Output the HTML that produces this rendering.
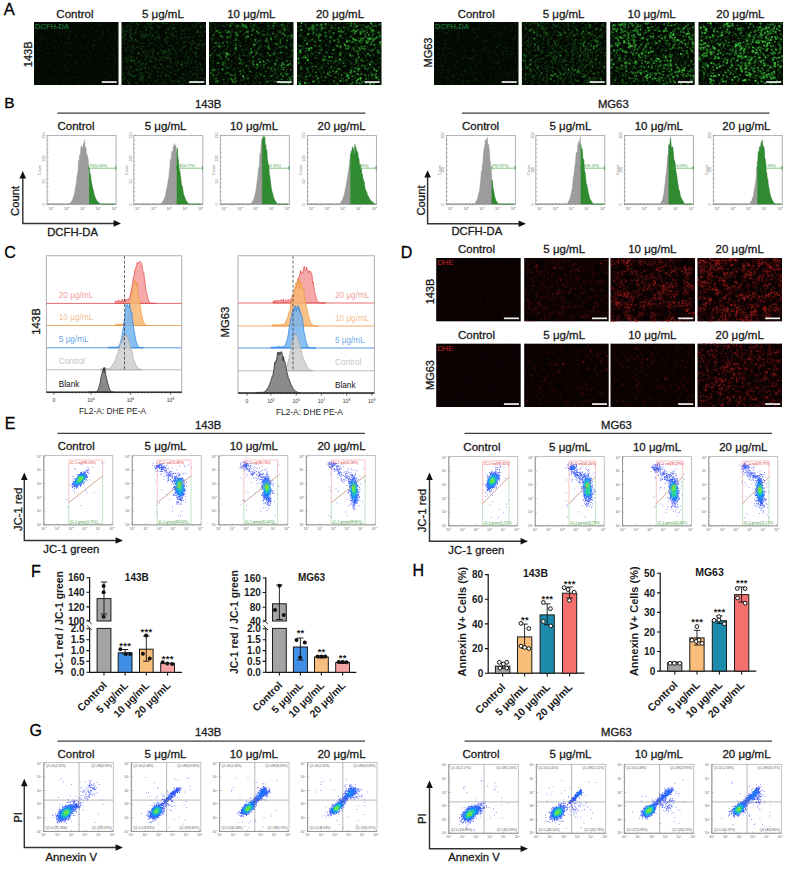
<!DOCTYPE html>
<html><head><meta charset="utf-8"><title>Figure</title>
<style>html,body{margin:0;padding:0;background:#fff;}svg{display:block;}</style>
</head><body>
<svg width="800" height="871" viewBox="0 0 800 871" font-family='"Liberation Sans", Arial, sans-serif' fill="#1a1a1a">
<defs><filter id="bl" x="-5%" y="-5%" width="110%" height="110%"><feGaussianBlur stdDeviation=".6"/></filter><filter id="h1" x="0" y="0" width="1" height="1" color-interpolation-filters="sRGB"><feTurbulence type="fractalNoise" baseFrequency=".4" numOctaves="2" seed="1"/><feColorMatrix values="0 0 0 0 .2 0 0 0 0 .8 0 0 0 0 .2 0 0 0 0.36 -0.18"/><feGaussianBlur stdDeviation=".55"/></filter><filter id="h2" x="0" y="0" width="1" height="1" color-interpolation-filters="sRGB"><feTurbulence type="fractalNoise" baseFrequency=".4" numOctaves="2" seed="8"/><feColorMatrix values="0 0 0 0 .2 0 0 0 0 .8 0 0 0 0 .2 0 0 0 0.6 -0.3"/><feGaussianBlur stdDeviation=".55"/></filter><filter id="h3" x="0" y="0" width="1" height="1" color-interpolation-filters="sRGB"><feTurbulence type="fractalNoise" baseFrequency=".4" numOctaves="2" seed="15"/><feColorMatrix values="0 0 0 0 .2 0 0 0 0 .8 0 0 0 0 .2 0 0 0 0.9 -0.45"/><feGaussianBlur stdDeviation=".55"/></filter><filter id="h4" x="0" y="0" width="1" height="1" color-interpolation-filters="sRGB"><feTurbulence type="fractalNoise" baseFrequency=".4" numOctaves="2" seed="22"/><feColorMatrix values="0 0 0 0 .2 0 0 0 0 .8 0 0 0 0 .2 0 0 0 1.08 -0.54"/><feGaussianBlur stdDeviation=".55"/></filter><filter id="h5" x="0" y="0" width="1" height="1" color-interpolation-filters="sRGB"><feTurbulence type="fractalNoise" baseFrequency=".4" numOctaves="2" seed="401"/><feColorMatrix values="0 0 0 0 .2 0 0 0 0 .8 0 0 0 0 .2 0 0 0 0.36 -0.18"/><feGaussianBlur stdDeviation=".55"/></filter><filter id="h6" x="0" y="0" width="1" height="1" color-interpolation-filters="sRGB"><feTurbulence type="fractalNoise" baseFrequency=".4" numOctaves="2" seed="408"/><feColorMatrix values="0 0 0 0 .2 0 0 0 0 .8 0 0 0 0 .2 0 0 0 0.9 -0.45"/><feGaussianBlur stdDeviation=".55"/></filter><filter id="h7" x="0" y="0" width="1" height="1" color-interpolation-filters="sRGB"><feTurbulence type="fractalNoise" baseFrequency=".4" numOctaves="2" seed="415"/><feColorMatrix values="0 0 0 0 .2 0 0 0 0 .8 0 0 0 0 .2 0 0 0 1.14 -0.57"/><feGaussianBlur stdDeviation=".55"/></filter><filter id="h8" x="0" y="0" width="1" height="1" color-interpolation-filters="sRGB"><feTurbulence type="fractalNoise" baseFrequency=".4" numOctaves="2" seed="422"/><feColorMatrix values="0 0 0 0 .2 0 0 0 0 .8 0 0 0 0 .2 0 0 0 1.14 -0.57"/><feGaussianBlur stdDeviation=".55"/></filter><filter id="h9" x="0" y="0" width="1" height="1" color-interpolation-filters="sRGB"><feTurbulence type="fractalNoise" baseFrequency=".3" numOctaves="2" seed="100"/><feColorMatrix values="0 0 0 0 .6 0 0 0 0 .1 0 0 0 0 .1 0 0 0 0.24 -0.12"/><feGaussianBlur stdDeviation=".55"/></filter><filter id="h10" x="0" y="0" width="1" height="1" color-interpolation-filters="sRGB"><feTurbulence type="fractalNoise" baseFrequency="0.2" numOctaves="2" seed="101"/><feColorMatrix values="0 0 0 0 .6 0 0 0 0 .1 0 0 0 0 .1 0 0 0 1 -0.4" result="lo"/><feTurbulence type="fractalNoise" baseFrequency=".55" numOctaves="1" seed="108"/><feColorMatrix values="0 0 0 0 1 0 0 0 0 1 0 0 0 0 1 0 0 0 3 -1.1" result="hi"/><feComposite in="lo" in2="hi" operator="arithmetic" k1="1"/><feGaussianBlur stdDeviation=".75"/></filter><filter id="h11" x="0" y="0" width="1" height="1" color-interpolation-filters="sRGB"><feTurbulence type="fractalNoise" baseFrequency="0.12" numOctaves="2" seed="102"/><feColorMatrix values="0 0 0 0 .6 0 0 0 0 .1 0 0 0 0 .1 0 0 0 2.6 -1.04" result="lo"/><feTurbulence type="fractalNoise" baseFrequency=".55" numOctaves="1" seed="109"/><feColorMatrix values="0 0 0 0 1 0 0 0 0 1 0 0 0 0 1 0 0 0 3 -1.1" result="hi"/><feComposite in="lo" in2="hi" operator="arithmetic" k1="1"/><feGaussianBlur stdDeviation=".75"/></filter><filter id="h12" x="0" y="0" width="1" height="1" color-interpolation-filters="sRGB"><feTurbulence type="fractalNoise" baseFrequency="0.14" numOctaves="2" seed="103"/><feColorMatrix values="0 0 0 0 .6 0 0 0 0 .1 0 0 0 0 .1 0 0 0 3.2 -1.28" result="lo"/><feTurbulence type="fractalNoise" baseFrequency=".55" numOctaves="1" seed="110"/><feColorMatrix values="0 0 0 0 1 0 0 0 0 1 0 0 0 0 1 0 0 0 3 -1.1" result="hi"/><feComposite in="lo" in2="hi" operator="arithmetic" k1="1"/><feGaussianBlur stdDeviation=".75"/></filter><filter id="h13" x="0" y="0" width="1" height="1" color-interpolation-filters="sRGB"><feTurbulence type="fractalNoise" baseFrequency=".3" numOctaves="2" seed="110"/><feColorMatrix values="0 0 0 0 .6 0 0 0 0 .1 0 0 0 0 .1 0 0 0 0.15 -0.075"/><feGaussianBlur stdDeviation=".55"/></filter><filter id="h14" x="0" y="0" width="1" height="1" color-interpolation-filters="sRGB"><feTurbulence type="fractalNoise" baseFrequency=".3" numOctaves="2" seed="111"/><feColorMatrix values="0 0 0 0 .6 0 0 0 0 .1 0 0 0 0 .1 0 0 0 0.45 -0.225"/><feGaussianBlur stdDeviation=".55"/></filter><filter id="h15" x="0" y="0" width="1" height="1" color-interpolation-filters="sRGB"><feTurbulence type="fractalNoise" baseFrequency=".3" numOctaves="2" seed="112"/><feColorMatrix values="0 0 0 0 .6 0 0 0 0 .1 0 0 0 0 .1 0 0 0 0.45 -0.225"/><feGaussianBlur stdDeviation=".55"/></filter><filter id="h16" x="0" y="0" width="1" height="1" color-interpolation-filters="sRGB"><feTurbulence type="fractalNoise" baseFrequency="0.22" numOctaves="2" seed="113"/><feColorMatrix values="0 0 0 0 .6 0 0 0 0 .1 0 0 0 0 .1 0 0 0 2 -0.8" result="lo"/><feTurbulence type="fractalNoise" baseFrequency=".55" numOctaves="1" seed="120"/><feColorMatrix values="0 0 0 0 1 0 0 0 0 1 0 0 0 0 1 0 0 0 3 -1.1" result="hi"/><feComposite in="lo" in2="hi" operator="arithmetic" k1="1"/><feGaussianBlur stdDeviation=".75"/></filter></defs>
<text x="3.8" y="15" font-size="16.5" fill="#000" stroke="#000" stroke-width="0.3">A</text>
<text x="4.2" y="108.2" font-size="15.5" fill="#000" stroke="#000" stroke-width="0.3">B</text>
<text x="4.2" y="257.5" font-size="16" fill="#000" stroke="#000" stroke-width="0.3">C</text>
<text x="400.8" y="257.5" font-size="16" fill="#000" stroke="#000" stroke-width="0.3">D</text>
<text x="4.8" y="428.7" font-size="16" fill="#000" stroke="#000" stroke-width="0.3">E</text>
<text x="31" y="577" font-size="16" fill="#000" stroke="#000" stroke-width="0.3">F</text>
<text x="412.6" y="576.3" font-size="16" fill="#000" stroke="#000" stroke-width="0.3">H</text>
<text x="29.6" y="735.5" font-size="16" fill="#000" stroke="#000" stroke-width="0.3">G</text>
<rect x="34" y="22" width="84.5" height="63" fill="#030803"/>
<rect x="34" y="22" width="84.5" height="63" filter="url(#h1)"/>
<g filter="url(#bl)">
<path transform="scale(.5)" d="M111 52h0m103 11h0m-11 1h0m-65 12h0m62 1h0m-13 13h0m-53 18h0m85 45h0m-6 4h0" stroke="#3cc83c" stroke-width="3.4" stroke-opacity=".2" stroke-linecap="round"/>
</g>
<text x="35" y="29.4" font-size="7.6" fill="#1f8a3a">DCFH-DA</text>
<rect x="101.7" y="81.2" width="15" height="1.7" fill="#f4f4f4"/>
<text x="74.9" y="17.5" font-size="11.5" text-anchor="middle" stroke="#1a1a1a" stroke-width="0.3">Control</text>
<rect x="121.5" y="22" width="84.5" height="63" fill="#030803"/>
<rect x="121.5" y="22" width="84.5" height="63" filter="url(#h2)"/>
<g filter="url(#bl)">
<path transform="scale(.5)" d="M334 47h0m-5 0h0m-4-1h0m-62 0h0m-18 12h0m8-4h0m9-2h0m1 3h0m10 3h0m1-10h0m3 2h0m14 2h0m1 4h0m4-8h0m0 1h0m4 5h0m2-6h0m1 6h0m1 4h0m14-3h0m2-1h0m16 3h0m4-5h0m6 6h0m1-8h0m2 5h0m31 4h0m11-11h0m0 7h0m3-4h0m7 1h0m1 3h0m7-3h0m-1 12h0m-3 7h0m-8-7h0m-1-3h0m-1 2h0m-1 1h0m-23 4h0m-1-7h0m-3 0h0m-2 0h0m-3 7h0m-10-6h0m-6 2h0m-2 5h0m-3 0h0m-2-9h0m-7 5h0m-13 5h0m-6-5h0m-12 0h0m-3 4h0m-5-9h0m-1 8h0m-2 3h0m-4-1h0m-3 0h0m0 0h0m-2-6h0m-9-2h0m-1 4h0m-4 3h0m-5 1h0m0-10h0m-1 1h0m-1-1h0m-1 4h0m-5-1h0m-2 5h0m0-5h0m-6 3h0m-1-6h0m1 13h0m3 5h0m0 2h0m0-8h0m9 9h0m2-9h0m2 4h0m1 4h0m1-3h0m7 2h0m4 4h0m9-8h0m4 1h0m1-2h0m4-2h0m4 9h0m0 0h0m9-9h0m4 6h0m4-4h0m5 0h0m0 3h0m11 2h0m2 4h0m1-7h0m1-2h0m0 2h0m19-3h0m14 10h0m4-9h0m7 0h0m8 9h0m2-10h0m0 0h0m11-1h0m2 8h0m0 1h0m8 7h0m-2 1h0m-4 2h0m0-1h0m-5-1h0m-3 3h0m-4 3h0m-1-8h0m-6 2h0m-3-3h0m-2-2h0m-7 0h0m-2 9h0m-1-9h0m-2 11h0m-12-8h0m-22-3h0m-32 3h0m-18 6h0m-6 2h0m-3-1h0m-6 0h0m-5 1h0m0-2h0m-10 3h0m13 3h0m10 8h0m2-1h0m5-8h0m4 6h0m8 2h0m11-1h0m0-3h0m1-5h0m10 10h0m4-6h0m5 4h0m1-1h0m2 1h0m1-3h0m2 4h0m4-4h0m2 0h0m0-3h0m0 4h0m2-4h0m6 0h0m1-3h0m5 10h0m0 1h0m10-8h0m11 6h0m8-4h0m1-5h0m8 11h0m1-2h0m1-9h0m1 11h0m4-10h0m-4 17h0m-15 0h0m-1 3h0m-6-4h0m-30-5h0m-2 8h0m-3 0h0m0-5h0m-2 5h0m-3-1h0m-3-3h0m-4 3h0m-4 3h0m-8 0h0m-5-8h0m-1 4h0m-5-1h0m-7 0h0m0 1h0m-1-1h0m-4-5h0m-6 3h0m-10 6h0m-7-1h0m-3-2h0m-7 1h0m-4 3h0m-6 6h0m8-2h0m3-2h0m8 3h0m3-3h0m1 2h0m2 6h0m6-4h0m2 1h0m3 5h0m4 1h0m0-5h0m6 4h0m0-10h0m0 7h0m8-5h0m1 0h0m2 2h0m8-3h0m7 0h0m5 10h0m0-2h0m3-9h0m14 1h0m13 10h0m2-8h0m9 1h0m5 2h0m6 1h0m0-4h0m7 3h0m9-2h0m9 4h0m6 11h0m-2-2h0m-1 4h0m-8-6h0m-2 6h0m-13 2h0m-8-11h0m-16 6h0m-14-4h0m-5-2h0m-2 1h0m-1-1h0m-8 6h0m-7-1h0m-3 6h0m-1 0h0m-1-8h0m-7-2h0m-8 3h0m-1-2h0m-7 9h0m-2-6h0m0-1h0m-7 3h0m0-3h0m-5 5h0m0-2h0m-4-1h0m-1 2h0m-8 2h0m-2-7h0m-3-3h0m-1 10h0m-3-6h0m-10 12h0m3 5h0m8-6h0m3 3h0m2 0h0m1-1h0m2 2h0m4 1h0m0 3h0m11-8h0m2 0h0m2-1h0m1 8h0m7-10h0m7 11h0m1-3h0m2-4h0m0-2h0m23-2h0m6 6h0m2 0h0m0 2h0m1-1h0m4 1h0m4-7h0m10 3h0m16 0h0m18 1h0m3-3h0m6 2h0m15 10h0m-6-2h0m-5 11h0m-4-5h0m-4 2h0m-1-4h0m-6 4h0m-5 0h0m-5 1h0m-4-4h0m-4-4h0m-6 5h0m-3 2h0m-7 1h0m-6-3h0m-2-5h0m-13 8h0m-4 2h0m-12-6h0m-25-5h0m-1 2h0m-2 4h0m-1-4h0m-3-2h0m0 0h0m-1 4h0m-6 6h0m-13-6h0m-1 6h0m-11-7h0m-1 0h0m12 9h0m39 0h0m62 0h0" stroke="#3cc83c" stroke-width="3.8" stroke-opacity=".2" stroke-linecap="round"/>
<path transform="scale(.5)" d="M262 121h0m101 9h0" stroke="#3cc83c" stroke-width="3.8" stroke-opacity=".5" stroke-linecap="round"/>
</g>
<rect x="189.2" y="81.2" width="15" height="1.7" fill="#f4f4f4"/>
<text x="162.9" y="17.5" font-size="11.5" text-anchor="middle" stroke="#1a1a1a" stroke-width="0.3">5 μg/mL</text>
<rect x="209" y="22" width="84.5" height="63" fill="#030803"/>
<rect x="209" y="22" width="84.5" height="63" filter="url(#h3)"/>
<g filter="url(#bl)">
<path transform="scale(.5)" d="M578 46h0m-3 0h0m-24 1h0m-87 0h0m-2 0h0m-42 4h0m10-3h0m25 1h0m15 3h0m4 6h0m6-5h0m9 1h0m0 2h0m14-2h0m2 1h0m6-7h0m2 6h0m24 5h0m7-8h0m11 1h0m12 0h0m5 1h0m3 4h0m0 14h0m-6-11h0m-17 10h0m-25-10h0m0 2h0m-3 7h0m-6-1h0m-28-1h0m-4 2h0m-5-8h0m-3 3h0m-2 7h0m-4-2h0m-3-4h0m-5-3h0m-5 1h0m-2 1h0m0-2h0m-4-1h0m-3 0h0m-7 2h0m0 2h0m-7-1h0m-2-3h0m-10 17h0m20-2h0m2-2h0m8-2h0m0 0h0m0 4h0m3 0h0m4-2h0m6 7h0m11 0h0m22-4h0m10 5h0m3 1h0m28-11h0m1 4h0m1 4h0m6-7h0m1 2h0m5-3h0m5 11h0m15-9h0m4 0h0m5 0h0m0 18h0m-2-4h0m-9-1h0m-23 1h0m-16-4h0m-11 7h0m-3 3h0m-5-9h0m-5 5h0m-29 2h0m-2-1h0m-24 2h0m-10 0h0m-8-8h0m-3 7h0m-6 2h0m20 12h0m0-4h0m23-6h0m14 2h0m18 8h0m7-3h0m3-2h0m1 6h0m5-9h0m31 4h0m10 3h0m14 2h0m8 2h0m-1 5h0m-5 0h0m-12 4h0m-10-4h0m-4-6h0m-2 2h0m-2-2h0m-19 5h0m-7-4h0m-33 2h0m-9-2h0m-25 0h0m-10 9h0m-1-5h0m-1 0h0m-8-4h0m-8-1h0m21 15h0m4-1h0m12 1h0m1-1h0m20 8h0m14-7h0m2 8h0m5-4h0m0-3h0m19 7h0m4-8h0m11 1h0m6-3h0m5 9h0m9 0h0m9-1h0m13-2h0m3 2h0m0 11h0m-1 0h0m-8-1h0m-9 0h0m-3-4h0m-3 7h0m-6-3h0m-5-5h0m-5 6h0m-12 2h0m-3-8h0m-11 0h0m-12-1h0m-18 7h0m-17-3h0m-11-2h0m-1-1h0m-4 1h0m-26 2h0m-2 12h0m9 0h0m3-4h0m26 5h0m7-3h0m10 2h0m5 6h0m3 0h0m0-10h0m24 1h0m1 6h0m33 0h0m3-8h0m1 4h0m4 5h0m15-8h0m2 2h0m1 4h0m4-2h0m3 11h0m-1-3h0m-1 10h0m-4 0h0m0-9h0m-16 3h0m-20-5h0m-7 2h0m-12-2h0m0 9h0m-1 0h0m-7 0h0m-2-9h0m-21 3h0m-18 5h0m-5 1h0m-9-4h0m-8 5h0m-17-1h0m-3-6h0m63 9h0m87 0h0" stroke="#3cc83c" stroke-width="4.2" stroke-opacity=".2" stroke-linecap="round"/>
<path transform="scale(.5)" d="M549 46h0m-89 6h0m1-1h0m13 2h0m1-2h0m9-3h0m1 5h0m3-3h0m1 2h0m2-1h0m0 0h0m16 7h0m1-7h0m29 1h0m10 0h0m16-2h0m6 7h0m15 13h0m-14 1h0m0-11h0m-2 9h0m-3-2h0m-5-3h0m-14 3h0m-11 2h0m-7 1h0m-12-5h0m-2-2h0m-9-1h0m-1 8h0m-8-6h0m-3 0h0m-19 6h0m0 1h0m-2-6h0m-14-2h0m-4 2h0m-15 1h0m-6-4h0m-6 9h0m14 1h0m2 0h0m14 2h0m15 6h0m20-5h0m18 4h0m9 2h0m14-4h0m0 1h0m0 4h0m9-4h0m19 2h0m13 1h0m8-9h0m-9 22h0m-8-1h0m-4-7h0m-1 9h0m-6-6h0m-16 4h0m-2 2h0m-64 0h0m-1-5h0m-17-6h0m-8 2h0m-7 8h0m-1-3h0m-6-5h0m21 21h0m0-1h0m18-7h0m1-3h0m27 11h0m3-9h0m11 8h0m23 1h0m3-9h0m9 9h0m15-2h0m22-4h0m-45 10h0m-22 7h0m-12-4h0m-27 2h0m-20-7h0m-3 10h0m-1-9h0m-3 3h0m-14-2h0m-17 0h0m15 15h0m10 3h0m1-3h0m32 1h0m2-7h0m2 5h0m24-3h0m1 7h0m8 2h0m11-8h0m1 7h0m7-10h0m15 7h0m1 2h0m2-8h0m11 6h0m2-1h0m1 2h0m1 1h0m6-7h0m5 6h0m-12 7h0m0 4h0m-17 0h0m-7-3h0m-6 0h0m-24 0h0m-13 7h0m-8-11h0m-12 10h0m-51-2h0m-4 0h0m-3 6h0m5 5h0m28-6h0m6 4h0m8 2h0m53-2h0m6 3h0m15 0h0m19-4h0m1-1h0m3 5h0m8-4h0m5 7h0m6-2h0m-3 7h0m-4 6h0m-7 0h0m-6 0h0m-1-7h0m-14 4h0m-15 1h0m-39-7h0m-25 6h0m-1-6h0m-4 6h0m-1-3h0m-3-2h0m-15 1h0m-12 5h0m0-2h0m-3-5h0" stroke="#3cc83c" stroke-width="4.2" stroke-opacity=".5" stroke-linecap="round"/>
<path transform="scale(.5)" d="M493 55h0m3 18h0m13 16h0m-55 18h0m49-3h0m11 25h0m6-5h0m43 7h0m13-1h0m-131 9h0m41 13h0" stroke="#3cc83c" stroke-width="4.2" stroke-opacity=".8" stroke-linecap="round"/>
</g>
<rect x="276.7" y="81.2" width="15" height="1.7" fill="#f4f4f4"/>
<text x="251.3" y="17.5" font-size="11.5" text-anchor="middle" stroke="#1a1a1a" stroke-width="0.3">10 μg/mL</text>
<rect x="297" y="22" width="84.5" height="63" fill="#030803"/>
<rect x="297" y="22" width="84.5" height="63" filter="url(#h4)"/>
<g filter="url(#bl)">
<path transform="scale(.5)" d="M597 54h0m14-5h0m9 7h0m10-7h0m7 8h0m15 0h0m5-8h0m5 3h0m21 3h0m14 3h0m1-4h0m10 1h0m7-4h0m4 0h0m0 0h0m2-1h0m10 9h0m12-4h0m13-5h0m2-1h0m0 15h0m-1 1h0m-14 0h0m-6 2h0m-3-7h0m-3 3h0m-3-2h0m-5 5h0m-2 4h0m-23-7h0m-8-2h0m-10 9h0m-39-9h0m-3 9h0m-11-3h0m-2-7h0m-6 8h0m-19 2h0m3 3h0m14 7h0m4 0h0m17-3h0m3 4h0m8-8h0m5 5h0m7-5h0m2 2h0m22-1h0m8 2h0m4 4h0m3-4h0m7 2h0m12 4h0m19-7h0m4 8h0m5 0h0m13 5h0m0 5h0m-5-4h0m-6 0h0m-6 0h0m0 0h0m-8 4h0m0-9h0m-10 0h0m-5 1h0m-5 4h0m-3 5h0m-23-5h0m0-2h0m-58 4h0m-15-7h0m-19 23h0m43-8h0m40 8h0m4-2h0m24-9h0m2 7h0m5 0h0m6-7h0m5 0h0m1 9h0m11-5h0m7-1h0m6-2h0m-5 14h0m-42 1h0m-2-2h0m-12 2h0m-8-2h0m-2 8h0m-36 1h0m0-1h0m-17-9h0m-12 1h0m-19 17h0m41 1h0m19-2h0m11 0h0m5-5h0m5 6h0m3 0h0m5-6h0m22 8h0m4-1h0m22-7h0m17 7h0m5-6h0m3 12h0m-15 0h0m-6 3h0m-3 3h0m-12-4h0m-13 2h0m-4-4h0m-1 6h0m-14-8h0m-21 3h0m-22 7h0m-8-4h0m-2 1h0m-21 3h0m-1-8h0m-11 19h0m9-7h0m30 8h0m14-3h0m13 3h0m0-9h0m29 7h0m10-1h0m1 3h0m0-1h0m10-3h0m18 2h0m3-4h0m14 8h0m-10 3h0m-4 8h0m-4-11h0m-13 8h0m-1-8h0m-1 0h0m0 5h0m-6 5h0m-1-1h0m-9-6h0m-14 6h0m-6-8h0m0 2h0m-3 0h0m0 0h0m-45 6h0m-2-1h0m-22-5h0m-3-1h0m-1 9h0m-1-6h0m-9 6h0m98 1h0m47 0h0" stroke="#3cc83c" stroke-width="4.2" stroke-opacity=".2" stroke-linecap="round"/>
<path transform="scale(.5)" d="M703 47h0m-86 10h0m1 2h0m6-5h0m0 3h0m1-6h0m2 5h0m0 2h0m0-6h0m8-3h0m0 1h0m8 2h0m1 6h0m1-2h0m18 0h0m15 1h0m10-2h0m14-4h0m7-3h0m15 10h0m8-4h0m1 0h0m2-1h0m1 0h0m4 4h0m3-9h0m3 4h0m5 0h0m9-4h0m-1 23h0m-2-6h0m-9-3h0m-3 9h0m-1-8h0m-6 7h0m-4-5h0m-4 4h0m-3-6h0m-6 1h0m-5-4h0m-6 7h0m-1-1h0m-5-4h0m-22-1h0m-1 10h0m-14-5h0m-8-4h0m-8 3h0m-10 5h0m-1-1h0m-1 2h0m-6-11h0m0 9h0m-6-5h0m-17 17h0m15-2h0m5 4h0m7-8h0m3 6h0m12-9h0m8 3h0m0 8h0m8-2h0m1 0h0m7-2h0m3-6h0m15 10h0m5-1h0m3-9h0m4 10h0m5-2h0m7 2h0m3-2h0m1-4h0m1 3h0m3-3h0m1-1h0m4-2h0m1 8h0m0 0h0m4 1h0m5-5h0m4 5h0m1-4h0m2 1h0m2-2h0m3-3h0m2-1h0m5-2h0m1 16h0m-12 2h0m-1 0h0m-6-2h0m-7-2h0m0-1h0m-2-1h0m-4 9h0m-6 0h0m-19-9h0m-5 9h0m-3 0h0m-5-2h0m-14-6h0m-38 7h0m-38 0h0m1 8h0m11-3h0m11 10h0m15-1h0m4-6h0m10 4h0m27 3h0m12-9h0m4-1h0m11 1h0m8 5h0m3-7h0m2 3h0m5-2h0m4 1h0m17 2h0m10 5h0m0-4h0m3 4h0m-19 6h0m-22 3h0m-2-6h0m-16 3h0m-1-3h0m-19 3h0m-16 3h0m-13 5h0m-1-6h0m-34 6h0m-9-4h0m-9 10h0m50-5h0m23 3h0m16 3h0m25-6h0m1 5h0m1-4h0m8-1h0m3 11h0m1-9h0m17 1h0m-12 14h0m-1-5h0m-14 8h0m-4-4h0m-10 6h0m-22-4h0m-4 0h0m-10 4h0m-3-9h0m-20 2h0m-11-2h0m-7 0h0m-10 5h0m-13-2h0m0 2h0m10 15h0m1 0h0m7-2h0m12-6h0m1 7h0m18 3h0m5-7h0m4-4h0m1 7h0m22-1h0m11-2h0m6-3h0m3 0h0m2 8h0m18-5h0m7 2h0m14 2h0m0-4h0m5 2h0m2 5h0m1-7h0m6 11h0m-10 8h0m-16 0h0m0-9h0m-8 7h0m-3-7h0m-2 9h0m-6-2h0m-8 0h0m-12-5h0m-25 2h0m-70 2h0m1 4h0m76 0h0m28 0h0" stroke="#3cc83c" stroke-width="4.2" stroke-opacity=".5" stroke-linecap="round"/>
<path transform="scale(.5)" d="M742 46h0m-139 0h0m40 3h0m8-1h0m94 12h0m-24 7h0m-9-4h0m-4-2h0m-23 3h0m-7-1h0m-62 5h0m-13-8h0m91 23h0m13-5h0m4 2h0m25-3h0m2 1h0m3-1h0m19 7h0m-70 6h0m-9 4h0m-6-2h0m-61-4h0m-14 14h0m1 3h0m17-8h0m0 3h0m5-4h0m44 4h0m69 8h0m-56 11h0m-21-5h0m-62 3h0m18 3h0m125 9h0m13 13h0m-4-3h0m-31-1h0m-9 5h0m-36 0h0m21 9h0m2-1h0m19-3h0m39 7h0m-33 1h0m-4 2h0m-3 3h0m-17-5h0m-16 6h0m-45-5h0m-9 6h0m-17 3h0m-10 2h0m140 0h0" stroke="#3cc83c" stroke-width="4.2" stroke-opacity=".8" stroke-linecap="round"/>
<path transform="scale(.5)" d="M713 53h0m-102 62h0" stroke="#3cc83c" stroke-width="4.2" stroke-opacity="1" stroke-linecap="round"/>
</g>
<rect x="364.7" y="81.2" width="15" height="1.7" fill="#f4f4f4"/>
<text x="340" y="17.5" font-size="11.5" text-anchor="middle" stroke="#1a1a1a" stroke-width="0.3">20 μg/mL</text>
<rect x="434" y="22" width="84.5" height="63" fill="#030803"/>
<rect x="434" y="22" width="84.5" height="63" filter="url(#h5)"/>
<g filter="url(#bl)">
<path transform="scale(.5)" d="M898 48h0m1 3h0m15 7h0m0-2h0m32 3h0m78-2h0m-24 9h0m-17-2h0m-86-3h0m-4 4h0m63 8h0m72 4h0m-14 18h0m-16-6h0m-4 5h0m-24-10h0m-79 5h0m-15-5h0m1 13h0m9 1h0m61 4h0m18-2h0m26 6h0m14 0h0m7-4h0m11 7h0m-9-1h0m-69 8h0m-3 2h0m54 7h0m38 14h0m-34-3h0m-70 7h0m-22-10h0m-25 12h0m13 2h0m11 6h0m17-3h0m96-4h0m-70 13h0m32 9h0" stroke="#3cc83c" stroke-width="3.4" stroke-opacity=".2" stroke-linecap="round"/>
</g>
<text x="435" y="29.4" font-size="7.6" fill="#1f8a3a">DCFH-DA</text>
<rect x="501.7" y="81.2" width="15" height="1.7" fill="#f4f4f4"/>
<text x="476.2" y="17.5" font-size="11.5" text-anchor="middle" stroke="#1a1a1a" stroke-width="0.3">Control</text>
<rect x="521.9" y="22" width="84.5" height="63" fill="#030803"/>
<rect x="521.9" y="22" width="84.5" height="63" filter="url(#h6)"/>
<g filter="url(#bl)">
<path transform="scale(.5)" d="M1135 47h0m-8 0h0m-36 0h0m-5-1h0m-11 1h0m-21 0h0m-5 3h0m3 8h0m7-8h0m10-2h0m4 9h0m2-4h0m5 2h0m5-4h0m0 0h0m3 4h0m2 4h0m4-4h0m10-1h0m2-6h0m3 6h0m0-4h0m5 3h0m5 1h0m17-5h0m2 10h0m12-5h0m21-4h0m8 0h0m4 5h0m11 2h0m10-6h0m1 1h0m1-1h0m0-3h0m1 3h0m4 2h0m0 10h0m-1 1h0m-6 5h0m-15-9h0m-2 9h0m-3-5h0m0 4h0m-10 0h0m-1-8h0m-1 2h0m-2 8h0m-1 0h0m-1-5h0m0-1h0m-1 0h0m-12 4h0m-2-1h0m-1 2h0m-3 2h0m-4-10h0m-1 2h0m-2 3h0m-2 2h0m-11-6h0m-4 5h0m-6 4h0m-5-10h0m-4 3h0m0 1h0m-15 3h0m-4-5h0m-1 8h0m0-7h0m-2-4h0m-1 7h0m-10 2h0m-1 1h0m-1-2h0m-1 3h0m-1-6h0m-5-3h0m-1 3h0m-9-3h0m0-1h0m-2 21h0m1-6h0m12 2h0m2-1h0m16-2h0m0 0h0m9 1h0m1 4h0m12 2h0m4 1h0m2-3h0m5-2h0m15-6h0m1 5h0m8 2h0m5 4h0m1-4h0m1-1h0m5 2h0m6 0h0m4-7h0m1 4h0m1 1h0m9-2h0m3-4h0m3 10h0m1 0h0m2-5h0m2 3h0m4-2h0m0-5h0m1 9h0m1-8h0m1 2h0m9-1h0m-3 11h0m-1 4h0m-3-3h0m0 2h0m-1 0h0m-2 2h0m-6 1h0m-2 2h0m-8-8h0m-1 4h0m-5 4h0m-3-10h0m-6 3h0m-1 7h0m0-7h0m-2 0h0m-9-2h0m-1 4h0m-1 4h0m-1-7h0m-1 1h0m-2 3h0m-6-2h0m-4 3h0m-6 1h0m-9 3h0m-5-4h0m-2 0h0m0-7h0m-12 8h0m-2-7h0m-3 1h0m-10 9h0m-12-11h0m-3 6h0m-3 4h0m-7-4h0m-3 5h0m-2-10h0m-1 5h0m-4 9h0m5 4h0m13-4h0m13 6h0m2 1h0m22 0h0m6-3h0m6 3h0m5-2h0m2-6h0m6 5h0m2-2h0m2 4h0m8 0h0m1-2h0m0-4h0m3 8h0m0-11h0m2 5h0m0-4h0m0-1h0m4 4h0m8 1h0m0-5h0m0 3h0m1 5h0m1 0h0m5-2h0m2 2h0m1-4h0m0 5h0m3 2h0m1-6h0m0-2h0m1 1h0m1 4h0m4 1h0m3-1h0m1 3h0m2-10h0m4 7h0m3-2h0m3-2h0m1-2h0m3-2h0m2 5h0m6 10h0m-14 1h0m-2 5h0m-2 2h0m-6-4h0m-2 4h0m-6-6h0m-1-4h0m-3 5h0m-1-4h0m-4 6h0m0 3h0m0-10h0m-8 1h0m-1 6h0m-5-4h0m-7-3h0m-1 10h0m-1-8h0m-1 6h0m-8-7h0m0 1h0m-3-1h0m-4 5h0m-9 3h0m-2-9h0m-7 0h0m-1 3h0m-2 3h0m-4-2h0m-6-2h0m-11 5h0m-4 2h0m-1 0h0m-9-1h0m0-7h0m-8 6h0m-8-8h0m-9 7h0m3 10h0m1 6h0m7-2h0m5-6h0m6 0h0m2-2h0m8 3h0m11 7h0m12-9h0m2 5h0m0-3h0m6-2h0m7 3h0m4-1h0m1 5h0m3-7h0m2 2h0m1-2h0m2-2h0m0 1h0m1-1h0m0 9h0m4 1h0m5-6h0m2-1h0m11 4h0m4-6h0m2 2h0m3-2h0m1 7h0m1-6h0m1 8h0m6 1h0m0-11h0m3 10h0m3-5h0m1 5h0m3-7h0m3-1h0m0 4h0m0 3h0m13-4h0m2 6h0m1-8h0m8-3h0m0 12h0m0 0h0m-5 10h0m-21-1h0m-3 0h0m-11-8h0m-6 3h0m-4 3h0m0 3h0m-2-7h0m-2 6h0m-9-8h0m-3 2h0m-2 8h0m0 0h0m-11-6h0m-2-1h0m-3 0h0m-18 0h0m-1-1h0m-4 0h0m-6-2h0m-1 3h0m-2 7h0m-26-3h0m-7-3h0m-8 1h0m-1-3h0m6 14h0m4-4h0m2 4h0m3 6h0m2-3h0m1 1h0m10 1h0m2-4h0m12 0h0m1 3h0m10-3h0m2-6h0m4 4h0m8 7h0m0-10h0m2 0h0m6 4h0m6 6h0m3-7h0m1-3h0m2 0h0m3 8h0m1-4h0m0-5h0m5 7h0m2-1h0m6-4h0m4 0h0m0-2h0m2 2h0m1-1h0m2 9h0m0 0h0m1-6h0m1 5h0m8-4h0m3-4h0m10 2h0m1 8h0m2-8h0m6-3h0m10 2h0m-3 18h0m-9 3h0m0-2h0m-3-8h0m0 3h0m0 1h0m-1-4h0m-5 2h0m-7 0h0m0 1h0m-5 0h0m-1 1h0m-1 0h0m-1 2h0m-15-1h0m-5-4h0m-3 8h0m-4-6h0m0 3h0m-1-7h0m-1 9h0m-11-7h0m0 1h0m-3 1h0m-1 7h0m-1-6h0m-8-1h0m-7 2h0m-14-3h0m-3 3h0m-1 5h0m0-6h0m-1 1h0m-9-2h0m-2 7h0m-4-2h0m-7-6h0m-4-3h0m0 9h0m-14-6h0" stroke="#3cc83c" stroke-width="3.8" stroke-opacity=".2" stroke-linecap="round"/>
<path transform="scale(.5)" d="M1063 59h0m14-9h0m7 7h0m69 2h0m26-5h0m1-4h0m13 8h0m8 1h0m-22 7h0m-13-4h0m-2 5h0m-16 4h0m-18-5h0m-8 4h0m-2-4h0m-28 0h0m-24-1h0m-7-5h0m7 17h0m123 5h0m9-9h0m-5 11h0m-1 9h0m-1-2h0m-5 2h0m-6-1h0m-13-7h0m-1 7h0m-2-4h0m-56-1h0m-34 8h0m-6-6h0m7 9h0m24 8h0m70-9h0m10 3h0m7-3h0m4 22h0m-32-7h0m-39-1h0m-8 4h0m-5 4h0m-60-9h0m-1 11h0m13 9h0m1-10h0m148 15h0m-24-2h0m-28 10h0m-6-3h0m-5-1h0m0 1h0m-71-4h0m-14 4h0m-6-5h0m-4 14h0m32-3h0m19 5h0m3 0h0m5-3h0m5 5h0m6-5h0m8-1h0m26-3h0m13 10h0m1-4h0m33 9h0m-23-3h0m-4 9h0m-54-8h0m-19 1h0" stroke="#3cc83c" stroke-width="3.8" stroke-opacity=".5" stroke-linecap="round"/>
<path transform="scale(.5)" d="M1137 139h0" stroke="#3cc83c" stroke-width="3.8" stroke-opacity=".8" stroke-linecap="round"/>
</g>
<rect x="589.6" y="81.2" width="15" height="1.7" fill="#f4f4f4"/>
<text x="563.6" y="17.5" font-size="11.5" text-anchor="middle" stroke="#1a1a1a" stroke-width="0.3">5 μg/mL</text>
<rect x="610.2" y="22" width="84.5" height="63" fill="#030803"/>
<rect x="610.2" y="22" width="84.5" height="63" filter="url(#h7)"/>
<g filter="url(#bl)">
<path transform="scale(.5)" d="M1292 46h0m-62 3h0m13 1h0m1-2h0m3 4h0m5-3h0m3 10h0m1-1h0m1-6h0m24-2h0m19 6h0m38-5h0m12-1h0m5 5h0m3-5h0m3 9h0m8-5h0m0-1h0m4 0h0m13 18h0m-3-11h0m-2 11h0m-4-9h0m0 5h0m-6 2h0m-2-3h0m-3-6h0m0 4h0m-3-4h0m-3 10h0m-1 0h0m-5 0h0m-7-8h0m-6 3h0m-3 4h0m0 2h0m-2-9h0m-9 0h0m-25-2h0m-2 1h0m-4 1h0m-3 3h0m-4-5h0m-1 7h0m-1 1h0m-5 0h0m-3 2h0m-6-6h0m-7 0h0m-6 7h0m-9-10h0m-2 2h0m-15 3h0m-1 5h0m-1-9h0m-6 5h0m-1 5h0m10 5h0m6-1h0m3-2h0m4 2h0m11 4h0m0 1h0m0-3h0m4 0h0m1 2h0m3-7h0m18 4h0m1-3h0m7 4h0m7-6h0m6 3h0m1 8h0m3-1h0m7-8h0m3 9h0m8-9h0m4 8h0m10-8h0m4 5h0m7 3h0m2-2h0m13 0h0m15-6h0m0 2h0m1 5h0m-2 4h0m-5 2h0m-6 0h0m-12 1h0m-1 1h0m-9-3h0m-28 0h0m-15 5h0m-5 4h0m-4-5h0m-4 3h0m-1-3h0m-11 0h0m-9 0h0m-2 1h0m-3 4h0m-7-7h0m-2 5h0m-1 1h0m-17-8h0m-11 5h0m3 11h0m14-1h0m4 0h0m14-1h0m3 5h0m5-7h0m2 0h0m1 8h0m13-7h0m5 0h0m4 8h0m10-8h0m15 3h0m1-4h0m10 3h0m8 5h0m2-7h0m30 6h0m8-6h0m4 0h0m-9 14h0m-7-3h0m-4 4h0m-15 5h0m-19-6h0m-4 1h0m-1-4h0m-3 4h0m-14-3h0m-17 0h0m-3-3h0m-6 6h0m0-6h0m-4 11h0m-7-10h0m-3 10h0m-1-9h0m-10 9h0m-21-8h0m-7-1h0m-3 8h0m8 7h0m7-3h0m4 1h0m14 3h0m0-4h0m6 4h0m14-6h0m13 7h0m11 4h0m0-3h0m19-6h0m0 1h0m0 8h0m8-1h0m1-9h0m5 10h0m2-6h0m29 5h0m15 9h0m-3 4h0m-15-8h0m-2-3h0m-23 10h0m-7-4h0m-4 5h0m-1-6h0m-8-5h0m-29 10h0m-1-7h0m-11-1h0m0 7h0m-3 1h0m-28-6h0m-1 0h0m-14 5h0m4 4h0m21 1h0m15 1h0m14 7h0m4-1h0m4-8h0m12 1h0m1-1h0m2 10h0m9-10h0m14 7h0m18-7h0m2 8h0m6-9h0m6 6h0m3 4h0m16-9h0m-1 15h0m-2 0h0m-40 5h0m-23 0h0m-13-9h0m-2 5h0m-15 5h0m-2-7h0m-16-3h0m-1 7h0m-2-6h0m-3-1h0m-4 1h0m-14 8h0m-1-7h0m31 10h0" stroke="#3cc83c" stroke-width="4" stroke-opacity=".2" stroke-linecap="round"/>
<path transform="scale(.5)" d="M1337 46h0m-40 0h0m-2 1h0m-4 0h0m-27 0h0m-5-1h0m-14 1h0m-19 12h0m0-6h0m5-2h0m5 7h0m2-9h0m0 0h0m2 3h0m2-2h0m5 0h0m1-2h0m2 7h0m0-6h0m0 1h0m7 4h0m6-6h0m2 4h0m2-2h0m4 9h0m0-3h0m3-3h0m1 1h0m0-4h0m2 2h0m4 1h0m13-5h0m9 6h0m12 3h0m13-8h0m7 2h0m14-1h0m1 9h0m0 0h0m8-2h0m10-1h0m4-3h0m4-3h0m0 9h0m10-5h0m0 16h0m-7-2h0m-1 0h0m-1-3h0m-2 3h0m-8-3h0m-5-1h0m0 0h0m-17 6h0m-5 0h0m-7-8h0m-3-2h0m-20 0h0m-19 5h0m-15-1h0m-1-4h0m-4 2h0m0-1h0m-4 0h0m-9 6h0m-1 1h0m-1 3h0m0-6h0m-6 5h0m0-8h0m-2 9h0m-2-7h0m-2-3h0m-2 4h0m-18-1h0m12 16h0m1 1h0m6-5h0m2 0h0m9 3h0m2-4h0m1 7h0m0-9h0m7-1h0m3 8h0m3-6h0m14 3h0m17-3h0m2-1h0m3 0h0m13 0h0m11 4h0m0-4h0m5 8h0m8-7h0m2 3h0m4 2h0m0 3h0m9-1h0m6 2h0m3-10h0m3 7h0m9-2h0m3 0h0m3 1h0m1 15h0m-12 0h0m-9-8h0m-4-2h0m0 0h0m-2 11h0m-9-6h0m-3 2h0m0 3h0m-8-6h0m-7-1h0m-18-1h0m-3 0h0m-15 0h0m0 1h0m-3 4h0m-3 3h0m-7-5h0m-4 5h0m-8-4h0m-1 4h0m-1-1h0m0-8h0m-1 0h0m0 3h0m-7 4h0m-1-4h0m-2 2h0m-1-4h0m-8-2h0m-1 2h0m-13 0h0m0 4h0m-4-4h0m0 1h0m-7 4h0m-2 2h0m11 13h0m2-5h0m14 3h0m4 0h0m7-8h0m2 9h0m7-5h0m4 6h0m3-7h0m11 1h0m5 3h0m6 3h0m3-10h0m5 7h0m25-2h0m10-3h0m4-2h0m18 0h0m3 5h0m8 1h0m1 5h0m-31 3h0m-2 4h0m-2 0h0m0 0h0m-1-5h0m-7 7h0m-14 2h0m-16 0h0m-11-3h0m0 1h0m-10-1h0m-3-1h0m-12-5h0m-17 9h0m-9 2h0m4 11h0m6-4h0m3-1h0m4 1h0m2 0h0m11-1h0m1-3h0m1 5h0m1-5h0m11 3h0m0-5h0m11 5h0m1-1h0m2-1h0m13-3h0m2 1h0m1 0h0m5 1h0m1 1h0m1 6h0m7 1h0m1-10h0m1 9h0m2 0h0m2-1h0m7-7h0m0 5h0m1 2h0m29-4h0m7 6h0m5-9h0m4 7h0m-5 10h0m-2 4h0m0 0h0m-11-2h0m-10-3h0m-16-6h0m-4 11h0m-2-11h0m-9 4h0m-2 7h0m-9-10h0m-1 6h0m-18-6h0m-1 1h0m-4 8h0m-5-7h0m-5-2h0m-15 0h0m-16 2h0m0-3h0m-9 0h0m-1 6h0m-9-3h0m-9 0h0m22 16h0m17-7h0m3 3h0m1-2h0m3 6h0m3 1h0m2-8h0m5 1h0m3 3h0m4-4h0m14 4h0m1 2h0m8-3h0m2 2h0m2-2h0m5-1h0m1 9h0m1-7h0m3 7h0m3-5h0m9 2h0m5-2h0m3-3h0m2 6h0m4-9h0m3 6h0m1-6h0m2 9h0m0-2h0m1-7h0m7 0h0m1 6h0m4-1h0m7-1h0m5 2h0m5 7h0m-2 5h0m-8 5h0m-28-4h0m-7 0h0m-1-5h0m-5 8h0m-9-5h0m-7 1h0m0-3h0m-1 0h0m-4 2h0m-9-3h0m-10 2h0m-23-2h0m-13-2h0m-14 5h0m-14-1h0m97 8h0m34 0h0" stroke="#3cc83c" stroke-width="4" stroke-opacity=".5" stroke-linecap="round"/>
<path transform="scale(.5)" d="M1227 50h0m2 8h0m13-9h0m0 9h0m39 1h0m15-3h0m36 1h0m11-6h0m24 6h0m7 11h0m-27-1h0m-5-1h0m-14-3h0m-9-1h0m-21-1h0m-18 9h0m-4-2h0m-8 2h0m-35-9h0m0 1h0m-1 14h0m8-2h0m8 8h0m21-1h0m17-5h0m9 4h0m24 2h0m5-5h0m16-2h0m10 0h0m5 5h0m1 0h0m22-6h0m8 14h0m-1-3h0m-14 4h0m-107 3h0m-2 0h0m-4 2h0m-9-10h0m-10 3h0m-4 4h0m-7 10h0m13-3h0m4 4h0m8 3h0m32 0h0m12 0h0m5-1h0m82-2h0m-52 12h0m-15 4h0m-3-1h0m-30-9h0m-6 2h0m-39 6h0m-16 4h0m4 9h0m24-4h0m20-1h0m20-1h0m17 3h0m27-5h0m6 9h0m1-9h0m10 8h0m17 7h0m-1 4h0m-3 0h0m-6 2h0m-16-3h0m-39-4h0m-51 7h0m29 4h0m18 8h0m47 0h0m26-2h0m14 0h0m-37 13h0m-40-8h0m-16-1h0" stroke="#3cc83c" stroke-width="4" stroke-opacity=".8" stroke-linecap="round"/>
<path transform="scale(.5)" d="M1347 70h0m15 38h0m-7 27h0m-63 18h0m3-3h0" stroke="#3cc83c" stroke-width="4" stroke-opacity="1" stroke-linecap="round"/>
</g>
<rect x="677.9" y="81.2" width="15" height="1.7" fill="#f4f4f4"/>
<text x="651.6" y="17.5" font-size="11.5" text-anchor="middle" stroke="#1a1a1a" stroke-width="0.3">10 μg/mL</text>
<rect x="698.5" y="22" width="84.5" height="63" fill="#030803"/>
<rect x="698.5" y="22" width="84.5" height="63" filter="url(#h8)"/>
<g filter="url(#bl)">
<path transform="scale(.5)" d="M1555 46h0m-98 0h0m-9 1h0m-38 9h0m12-4h0m7 5h0m18-3h0m4 1h0m7-1h0m4-6h0m4 2h0m4 6h0m5-6h0m1 8h0m11 1h0m27-5h0m0 2h0m4-2h0m8 3h0m9-9h0m0 3h0m5 1h0m12 2h0m2 14h0m-3-4h0m-5-4h0m-1 7h0m-4-5h0m-4 9h0m-7-8h0m-12 7h0m-2-10h0m-13 6h0m-9 3h0m-51 2h0m-1-4h0m-14-6h0m-3 9h0m-26 12h0m10-4h0m14-6h0m4 5h0m9 2h0m3-6h0m3 0h0m4-1h0m5 8h0m2-6h0m4-2h0m17 0h0m15 6h0m6 0h0m1 3h0m2-2h0m0 2h0m8-2h0m1-7h0m3 6h0m5 5h0m34-1h0m3-8h0m4 4h0m6 5h0m-3 5h0m-1-4h0m-3 4h0m-11-2h0m-14-1h0m-11 10h0m-24-2h0m-5-4h0m-9 2h0m-9 2h0m-1-2h0m-7 4h0m-16 0h0m-2-10h0m-4 1h0m-1 7h0m-4-3h0m-29-4h0m-1 3h0m0-5h0m-1 14h0m2-1h0m6 5h0m0 4h0m0-8h0m1 1h0m28-2h0m16 3h0m11 5h0m7-4h0m4-4h0m2 0h0m5 6h0m7-2h0m14 4h0m1-7h0m1-1h0m8 10h0m1 0h0m23-9h0m4 6h0m12-4h0m5 14h0m0 1h0m-16-7h0m0 1h0m-37 7h0m-5-2h0m-13 1h0m-10-7h0m-30 8h0m-9 1h0m-5 2h0m-12-10h0m-6 9h0m-2-7h0m-13 5h0m-1-4h0m-5 1h0m2 9h0m14 7h0m30 2h0m3-11h0m0 4h0m1 1h0m13 5h0m9-7h0m12 4h0m9-6h0m7 8h0m0 0h0m13-9h0m3 5h0m4 4h0m2 0h0m7-2h0m17-3h0m1 2h0m8-2h0m5-1h0m0 20h0m-1-6h0m-2 4h0m-11-5h0m-34-2h0m-2 3h0m-45 4h0m-44 1h0m-10-1h0m0 3h0m2 4h0m15 5h0m10-3h0m85 2h0m6-3h0m6 5h0m8-8h0m5 3h0m2 3h0m-2 11h0m-1 2h0m-6-7h0m-11 0h0m-1 8h0m-12 0h0m-52-7h0m-5-2h0m-31 6h0m-3-3h0m-7 7h0m-7 0h0" stroke="#3cc83c" stroke-width="4.2" stroke-opacity=".2" stroke-linecap="round"/>
<path transform="scale(.5)" d="M1562 47h0m-41 0h0m-56 0h0m-43-1h0m-6 1h0m-14 9h0m20-8h0m7 11h0m12-4h0m7-4h0m1-2h0m28 8h0m4 0h0m2-1h0m15-1h0m9-2h0m14 0h0m0 0h0m4 5h0m1 0h0m4-1h0m1 2h0m2-5h0m2 3h0m6-8h0m2-1h0m3 2h0m4 2h0m10 0h0m0 2h0m1 14h0m-14-8h0m-1 3h0m-4-3h0m-2 7h0m-1-4h0m-1 4h0m-3 2h0m-9 1h0m-2-10h0m-1 11h0m0-6h0m-1 2h0m-1-1h0m-1-1h0m-3-5h0m-6 10h0m-1-8h0m-1 2h0m-8 1h0m-18 0h0m-1 0h0m-1-5h0m-1 8h0m-3-8h0m-6 8h0m-11-4h0m-2 3h0m-3-3h0m-4-1h0m-6 7h0m-4 1h0m-15-2h0m-23 4h0m10 3h0m1-3h0m9 10h0m9-3h0m4-7h0m16 9h0m14 1h0m11-6h0m8-5h0m8 8h0m4-7h0m9 7h0m9 1h0m2-7h0m2 7h0m4-7h0m0-1h0m0 8h0m9-7h0m3 3h0m2 3h0m2 1h0m0 0h0m2-1h0m2-6h0m12 1h0m7 19h0m-2-4h0m-2 1h0m-8-7h0m-4 8h0m-4 0h0m-7-1h0m0-5h0m-3 7h0m-1-9h0m-12 10h0m-1-10h0m-1 0h0m-1 11h0m-3-10h0m-11 3h0m-4 7h0m-1-6h0m-1-1h0m-4 5h0m-5-9h0m-7 10h0m-3-5h0m-3 1h0m-16-5h0m-2 6h0m-8-2h0m0 2h0m-10 0h0m-2-4h0m-10 5h0m-8 0h0m-1 1h0m-7 1h0m-1-6h0m-2 0h0m-5 7h0m-2-6h0m0 7h0m2 3h0m5-1h0m1 8h0m6-7h0m2 4h0m4-4h0m2 6h0m4 0h0m1-8h0m1 8h0m9-4h0m2 0h0m15 6h0m7-8h0m4 2h0m1-2h0m5 5h0m1-3h0m0 2h0m1 4h0m7 0h0m1-2h0m1-9h0m5 11h0m2-2h0m27-8h0m6 7h0m1-8h0m4 2h0m16 8h0m1-6h0m3 4h0m2 3h0m1-2h0m10-8h0m1 2h0m3 13h0m-10 4h0m-1 1h0m-8-8h0m-9 2h0m-5 4h0m-2-4h0m-3-2h0m-8 6h0m-1-6h0m-7 4h0m-6 4h0m-6-3h0m-2 5h0m-3-7h0m-4 1h0m-2 2h0m-3 2h0m-4-4h0m-2 2h0m0-3h0m-8-3h0m-2 8h0m-5 2h0m-4-11h0m-9 10h0m-4-8h0m-9 4h0m-23-2h0m-3 0h0m-3-4h0m0 5h0m-9 3h0m12 12h0m1 3h0m16-3h0m4 3h0m6-3h0m9-5h0m7 1h0m8-1h0m3 8h0m11-1h0m2 1h0m5-6h0m6 2h0m2-1h0m1 5h0m0-4h0m6-5h0m0 9h0m2-5h0m1 1h0m7-1h0m1 5h0m1-10h0m1 3h0m9-2h0m3-1h0m4 6h0m4 1h0m4 3h0m14-4h0m6 4h0m1-8h0m1 7h0m7-9h0m-4 13h0m-12-2h0m-11 9h0m-2 0h0m-9-2h0m-2-3h0m-2 7h0m-2-2h0m-3 0h0m-10-2h0m0-2h0m-1 4h0m-2-6h0m-5 5h0m-5-6h0m-1 3h0m-4 1h0m-5 2h0m0-8h0m-2 0h0m-22 3h0m-4 6h0m-15-9h0m-14 8h0m-1-6h0m-10-1h0m-7 4h0m-3-3h0m2 16h0m0-4h0m18 1h0m4 4h0m24 3h0m6-6h0m2-3h0m4 3h0m4 7h0m4-2h0m6-3h0m11-6h0m1 6h0m2-6h0m4 2h0m3 8h0m9-2h0m4-1h0m5 2h0m5-6h0m1 8h0m2-3h0m7 1h0m1 1h0m5-1h0m3-3h0m1-1h0m0-1h0m0-2h0m2 8h0m3-8h0m5 16h0m-2 4h0m-2-10h0m-4 8h0m-3 3h0m-13-1h0m-3-10h0m-2 0h0m-2 1h0m-1-1h0m-6 11h0m-5-5h0m-12-2h0m-11 1h0m-10-3h0m-26 4h0m-1 2h0m-6-6h0m-6 9h0m-12-6h0m-4 0h0m1 7h0" stroke="#3cc83c" stroke-width="4.2" stroke-opacity=".5" stroke-linecap="round"/>
<path transform="scale(.5)" d="M1421 46h0m-19 9h0m6-1h0m3 5h0m42-10h0m2 10h0m1-6h0m3-1h0m6-1h0m36-3h0m19 7h0m12 1h0m6-1h0m10 1h0m6 2h0m4-6h0m1 9h0m-8 3h0m-21 2h0m-7-5h0m-1 8h0m-24 0h0m-54-4h0m0 5h0m-9-7h0m-7 0h0m-15-1h0m-8 4h0m15 9h0m6-3h0m68 10h0m6-10h0m8 3h0m24 1h0m10 4h0m2-6h0m6 0h0m2 4h0m10 1h0m-28 12h0m-6 0h0m-3-7h0m-8 2h0m-5-1h0m-7-1h0m-24 2h0m-1 5h0m-6 0h0m-2 1h0m-2 1h0m-30-4h0m-13 6h0m-12-4h0m-4-5h0m-5 9h0m-3-6h0m10 18h0m8-1h0m0-2h0m9-6h0m0-2h0m11 10h0m40-7h0m3-3h0m3 5h0m2-3h0m0 1h0m16 3h0m0 2h0m6 2h0m2-6h0m1 5h0m6-5h0m15-2h0m25 7h0m-2 10h0m-9 0h0m-3 4h0m-15-4h0m-12 0h0m-16 2h0m-20-4h0m-1-1h0m-6 0h0m-40-4h0m-5 5h0m-1 4h0m-7-9h0m-18 2h0m-6 8h0m55 8h0m1-6h0m9 11h0m27 0h0m7-5h0m3-6h0m21 4h0m5-3h0m19-1h0m4 9h0m0 4h0m-2 10h0m-7-10h0m0 2h0m-25 1h0m-7 7h0m-17-6h0m-8 6h0m-2-5h0m-1-3h0m-8 3h0m-34-4h0m-17 18h0m5 1h0m4-1h0m7-2h0m9 1h0m4-6h0m18 9h0m26-4h0m4 1h0m1-4h0m2 2h0m26 5h0m0-8h0m4 5h0m2-2h0m4-1h0m9 7h0m-24 8h0m-32-3h0m-5 1h0m-64-2h0m-1 5h0m-1-6h0" stroke="#3cc83c" stroke-width="4.2" stroke-opacity=".8" stroke-linecap="round"/>
<path transform="scale(.5)" d="M1454 47h0m-41 11h0m122 5h0m-125 3h0m-7 15h0m124 2h0m12 3h0m-4 2h0m-29 7h0m-29-8h0m-5 2h0m34 13h0m27-1h0m19-2h0m-61 15h0m-54 2h0m-21 15h0m7-5h0m52-5h0m54 10h0m21-5h0m12 7h0m-128 3h0m109 21h0m-32 5h0m-21-2h0m-25 0h0m-19 3h0" stroke="#3cc83c" stroke-width="4.2" stroke-opacity="1" stroke-linecap="round"/>
</g>
<rect x="766.2" y="81.2" width="15" height="1.7" fill="#f4f4f4"/>
<text x="740.4" y="17.5" font-size="11.5" text-anchor="middle" stroke="#1a1a1a" stroke-width="0.3">20 μg/mL</text>
<text x="32" y="54.3" font-size="11" text-anchor="middle" transform="rotate(-90 32 54.3)" stroke="#1a1a1a" stroke-width="0.3">143B</text>
<text x="432" y="52.5" font-size="11" text-anchor="middle" transform="rotate(-90 432 52.5)" stroke="#1a1a1a" stroke-width="0.3">MG63</text>
<rect x="436.2" y="258" width="84.5" height="63.3" fill="#0a0202"/>
<rect x="436.2" y="258" width="84.5" height="63.3" filter="url(#h9)"/>
<g filter="url(#bl)">
<path transform="scale(.5)" d="M888 534h0m83 1h0m21-4h0m35 15h0m-121 1h0m-14-7h0m70 19h0m69 8h0m-28 21h0m-4 0h0m-22 10h0m-29-1h0m-67-6h0m80 16h0m14 0h0m-75 10h0m66 13h0m21-5h0m-21 14h0" stroke="#d42222" stroke-width="3.2" stroke-opacity=".2" stroke-linecap="round"/>
</g>
<text x="437.4" y="265.4" font-size="7.6" fill="#c0282a">DHE</text>
<rect x="503.9" y="317.5" width="15" height="1.7" fill="#f4f4f4"/>
<text x="476.5" y="253" font-size="11.5" text-anchor="middle" stroke="#1a1a1a" stroke-width="0.3">Control</text>
<rect x="524.2" y="258" width="84.5" height="63.3" fill="#0a0202"/>
<rect x="524.2" y="258" width="84.5" height="63.3" filter="url(#h10)"/>
<g filter="url(#bl)">
<path transform="scale(.5)" d="M1137 523h0m-7 1h0m-24 1h0m-50 12h0m4-7h0m13 4h0m10 0h0m21 2h0m41-6h0m1 3h0m6-5h0m8 6h0m24 14h0m-25-6h0m-4-1h0m-6-1h0m-8 4h0m-12 4h0m-25 3h0m-15 0h0m-9-6h0m-16 0h0m-10-2h0m12 20h0m14-11h0m8 10h0m7-3h0m45-6h0m8 1h0m6 4h0m7-3h0m6 7h0m-27 12h0m-9 0h0m-15 0h0m-23-2h0m-8-4h0m-18 3h0m7 14h0m18 1h0m7-6h0m7 7h0m8 0h0m3-7h0m0 6h0m3-3h0m6-1h0m11 4h0m4-2h0m1-7h0m9 1h0m38 5h0m2 2h0m13-4h0m-77 14h0m-3-7h0m-2 7h0m-10 4h0m-6-10h0m-11 0h0m-39 13h0m2 0h0m0 8h0m1-3h0m6 1h0m3-5h0m9 3h0m2-5h0m0 7h0m2 3h0m1 0h0m41-9h0m2-2h0m3 5h0m65 1h0m20 1h0m-29 16h0m-22-10h0m-23-1h0m-3 2h0m-5 3h0m-6-2h0m-31 0h0m-4 4h0m-5-1h0m-12-1h0m-4 2h0m0-3h0m-4 3h0m-7-4h0m-3 11h0m4 7h0m4-8h0m17-1h0m10 8h0m9-5h0m16-2h0m3 4h0m1-3h0m7 3h0m38 4h0m3 0h0m9 1h0m33 1h0m-15 5h0m-97-1h0m-6-1h0" stroke="#d42222" stroke-width="3.6" stroke-opacity=".2" stroke-linecap="round"/>
<path transform="scale(.5)" d="M1202 527h0m-129 4h0m36 5h0m13 24h0m4 11h0m62 44h0" stroke="#d42222" stroke-width="3.6" stroke-opacity=".5" stroke-linecap="round"/>
</g>
<rect x="592" y="317.5" width="15" height="1.7" fill="#f4f4f4"/>
<text x="564.2" y="253" font-size="11.5" text-anchor="middle" stroke="#1a1a1a" stroke-width="0.3">5 μg/mL</text>
<rect x="610.5" y="258" width="84.5" height="63.3" fill="#0a0202"/>
<rect x="610.5" y="258" width="84.5" height="63.3" filter="url(#h11)"/>
<g filter="url(#bl)">
<path transform="scale(.5)" d="M1360 521h0m-18-1h0m-21 0h0m-13 7h0m-19 0h0m-10-5h0m-8 1h0m-25 4h0m-20 3h0m35 0h0m33 9h0m2-9h0m17-1h0m9 7h0m17-3h0m39 8h0m-36-1h0m-19 1h0m-10-1h0m-7 8h0m-13 2h0m0 0h0m-9-5h0m-11-4h0m-1 2h0m-5-3h0m-2 9h0m-1-6h0m-13 0h0m-18 10h0m2 2h0m10 5h0m4-1h0m4 3h0m9-2h0m12 2h0m17-3h0m3-6h0m0 5h0m7-3h0m2 0h0m2 0h0m4-1h0m1 8h0m3-4h0m2-3h0m5 3h0m1-3h0m11 2h0m1-1h0m9-4h0m1 2h0m3 4h0m5 3h0m3-2h0m33 2h0m-6 11h0m-30-2h0m-1-4h0m-4 8h0m-2-5h0m-1-2h0m-3 4h0m-1 2h0m-3-8h0m0 8h0m-2 2h0m-1-9h0m-4 6h0m-1-7h0m-2 2h0m-2-3h0m-1 11h0m-1-4h0m-3 0h0m-2-2h0m0 1h0m-1 3h0m-5 2h0m-3-4h0m-2-3h0m-1-1h0m-42 0h0m-8 7h0m-7-2h0m-15-2h0m-7 6h0m1 5h0m3 6h0m1-8h0m1 0h0m1 0h0m1 6h0m1 2h0m1-5h0m3 0h0m4 0h0m3 0h0m1-4h0m7 7h0m15-3h0m1 2h0m36 2h0m6-10h0m2 8h0m0-6h0m4 5h0m0 3h0m6-8h0m2 3h0m1 5h0m2-7h0m1 8h0m3-7h0m1 7h0m6-6h0m4 1h0m4-6h0m15 0h0m11 10h0m4-1h0m-1 4h0m-23 0h0m-2 9h0m-4-5h0m-1 2h0m-7-7h0m-2 1h0m-2-1h0m-3 3h0m-8 8h0m-1-2h0m-2 2h0m-1-9h0m-4-1h0m-10 3h0m-1 5h0m-11 2h0m-2-6h0m-17 4h0m-8 0h0m-2 2h0m-3-11h0m0 10h0m-1-10h0m-4 6h0m-4-4h0m-5 3h0m-5-1h0m-2-1h0m-6 1h0m-1 5h0m-2 0h0m-3-4h0m-1 5h0m-2-10h0m-2 21h0m4-4h0m3 1h0m0-5h0m0 8h0m2-2h0m2 4h0m4-3h0m1 0h0m1-6h0m0 7h0m3-2h0m5 2h0m0-3h0m3-2h0m1 5h0m1-5h0m1 5h0m7-4h0m1 0h0m17 1h0m7-5h0m5 1h0m11 7h0m3-1h0m13-8h0m0 1h0m6 3h0m1 0h0m11 0h0m1 5h0m8-2h0m15 4h0m9-10h0m1 5h0m2 0h0m6 0h0m-7 16h0m-4-1h0m-2-9h0m-6 1h0m-9 0h0m-11 4h0m-3-3h0m-58 2h0m-21 5h0m-3-7h0m0 4h0m-1-6h0m-1 3h0m0 1h0m-3-4h0m0 11h0m-3-9h0m-1 7h0m-5-9h0m-10 2h0m-4 4h0m-5-3h0m0 5h0m2 4h0m3 8h0m17-5h0m5 3h0m5 2h0m3 0h0m22-8h0m0 6h0m15-1h0m23 0h0m5 1h0m16-5h0m11 3h0m14-1h0m2 2h0m6 4h0m6-6h0m-3 11h0m-55 3h0m-10-2h0m-48 2h0m-2-5h0m-2 0h0m-32 3h0" stroke="#d42222" stroke-width="3.8" stroke-opacity=".2" stroke-linecap="round"/>
<path transform="scale(.5)" d="M1281 523h0m-26 2h0m-1 2h0m61 12h0m17 8h0m0-1h0m-43-4h0m-61 19h0m24 2h0m31-10h0m24 9h0m16-2h0m24 0h0m38 12h0m-41 2h0m-17-1h0m-1-2h0m-16-5h0m-3 4h0m-8 1h0m-15-6h0m-44 9h0m-14 2h0m30 10h0m31-6h0m41-2h0m10 3h0m4 2h0m14 0h0m23 14h0m-27-8h0m-3 4h0m-3-4h0m-4 5h0m-24 2h0m-65-3h0m-4-5h0m-12 2h0m-13 13h0m9 1h0m1 6h0m2-4h0m2-1h0m25 5h0m2-9h0m6 9h0m30-2h0m19-1h0m45-5h0m0 4h0m10 16h0m-18-10h0m-69 3h0m-21 5h0m-29-3h0m150 9h0m-12 12h0" stroke="#d42222" stroke-width="3.8" stroke-opacity=".5" stroke-linecap="round"/>
</g>
<rect x="678.2" y="317.5" width="15" height="1.7" fill="#f4f4f4"/>
<text x="652.3" y="253" font-size="11.5" text-anchor="middle" stroke="#1a1a1a" stroke-width="0.3">10 μg/mL</text>
<rect x="697.5" y="258" width="84.5" height="63.3" fill="#0a0202"/>
<rect x="697.5" y="258" width="84.5" height="63.3" filter="url(#h12)"/>
<g filter="url(#bl)">
<path transform="scale(.5)" d="M1560 525h0m-7-1h0m-4 2h0m-2-7h0m-6 8h0m-5-7h0m-5-2h0m-3 0h0m-9 9h0m-1-8h0m0 4h0m-1-1h0m0-3h0m-1 6h0m0-5h0m-3-1h0m-2 4h0m-2-4h0m0 1h0m-3 6h0m0-8h0m0 6h0m-1-6h0m-42 0h0m-1 1h0m-1 4h0m0-5h0m-9 2h0m-3 3h0m-2 4h0m-4-6h0m-1 6h0m-4-7h0m-5 4h0m-1-3h0m-2 3h0m0-1h0m-2-2h0m0 6h0m-1-5h0m-1-3h0m-1 3h0m-14-2h0m-2 4h0m-1 0h0m-9 9h0m2 0h0m6 1h0m2-1h0m2 6h0m2-4h0m1-2h0m2-3h0m3 6h0m3 0h0m2-5h0m1 0h0m1 3h0m2 0h0m2-2h0m3 0h0m1-1h0m2 4h0m3 3h0m0-3h0m0 3h0m0 0h0m1-7h0m1 5h0m2 0h0m18-5h0m11 5h0m6 0h0m2 3h0m3-11h0m3 2h0m1 3h0m0 4h0m0-9h0m12 2h0m6 2h0m3 1h0m0 2h0m8 1h0m0 2h0m0-5h0m1-3h0m0 3h0m3-1h0m4 7h0m0-9h0m1 9h0m3-2h0m0 0h0m2-7h0m2 4h0m1 5h0m5-8h0m4 2h0m3-1h0m2-1h0m2 6h0m3-8h0m5 1h0m0 3h0m2-5h0m2 22h0m-10-4h0m-4-6h0m-2 11h0m-4-8h0m-1-2h0m-2 10h0m-10-1h0m-1-8h0m-3 9h0m-24-8h0m-1 2h0m-1-3h0m0 8h0m-6-3h0m-2 2h0m-3-6h0m-1 8h0m-1-11h0m-1 2h0m-10-2h0m-1 1h0m-2 2h0m-22 4h0m-10-2h0m-1-2h0m0 1h0m-16 1h0m-1 6h0m-1-5h0m-2 4h0m-2-8h0m-8 6h0m-1 1h0m-4-1h0m-1-8h0m-1 3h0m-1 10h0m2 2h0m4-1h0m2-1h0m10 6h0m13-4h0m8-1h0m2-2h0m23 1h0m33 4h0m8 2h0m10 4h0m10-8h0m3-1h0m8 2h0m8-3h0m7 3h0m11 0h0m-1 13h0m0 4h0m-11-7h0m-3 8h0m-7-5h0m-4 3h0m-7-2h0m-12-2h0m-5 2h0m-17 0h0m-40-2h0m-37-1h0m-2-1h0m-5-1h0m-6 0h0m-4 4h0m43 18h0m21-3h0m14-8h0m16 0h0m1 8h0m18-3h0m8-3h0m1 5h0m7-1h0m17-5h0m3-1h0m9 8h0m1-3h0m-5 7h0m-11 7h0m-6-3h0m-4 3h0m-16-3h0m0 7h0m-1-3h0m-5-6h0m-21 6h0m-5-4h0m-8-1h0m-4 2h0m-25 3h0m-4 0h0m-6 2h0m-2-8h0m-40 8h0m43 12h0m2-7h0m1 7h0m3 1h0m1-2h0m11-8h0m3 9h0m4-1h0m3-1h0m0-4h0m9-4h0m1 11h0m8-4h0m7 2h0m4-2h0m3-7h0m4 1h0m9 8h0m1-3h0m1-5h0m0 5h0m3 3h0m3-4h0m4 5h0m3-7h0m11 8h0m4-11h0m7 8h0m11 8h0m-6-3h0m0 3h0m-4 4h0m-8-1h0m-2-5h0m-3 5h0m0-5h0m-6 4h0m-2 2h0m-3-4h0m-7-3h0m-4 1h0m-14 9h0m-6-10h0m0 3h0m-1 0h0m-6 3h0m-7 2h0m-1-4h0m-1-3h0m-6 6h0m-2 2h0m-5-1h0m-11-5h0m-8 6h0m0 0h0m-1-2h0m-3-8h0m-9 11h0m-8-5h0m-9-1h0m-21 17h0m10-5h0m9 6h0m5-10h0m9 10h0m21-1h0m6-10h0m1 3h0m2 0h0m1 4h0m6-1h0m6-2h0m1-2h0m1 6h0m4-2h0m23 0h0m0 5h0m0-11h0m2 5h0m9-4h0m4 3h0m7 3h0m3 1h0m0-2h0m3 1h0m2-7h0m14 4h0m6 9h0m-35 1h0m-22 3h0m-8-1h0m-19 1h0m-3-4h0m-8 1h0m-6 0h0" stroke="#d42222" stroke-width="3.8" stroke-opacity=".2" stroke-linecap="round"/>
<path transform="scale(.5)" d="M1558 522h0m-7-3h0m-4 1h0m-15 5h0m-7 2h0m-55-7h0m-10-2h0m-14 2h0m-7 0h0m0 1h0m-2 3h0m-4 2h0m-13 0h0m-1-7h0m-5 6h0m-7-3h0m-7 5h0m-1-2h0m22 4h0m0 9h0m1-4h0m6 5h0m0 0h0m4-10h0m4 8h0m1-9h0m8 4h0m1 6h0m10 0h0m9-9h0m33-1h0m9 3h0m11 1h0m5-4h0m12 2h0m23 9h0m2-2h0m-1 12h0m-23 2h0m-1-8h0m-39 0h0m-3 6h0m-19-5h0m-20 2h0m-21-5h0m-9 4h0m-4 5h0m-1-10h0m-3 6h0m-14 0h0m0-4h0m23 10h0m9 2h0m6 3h0m51-4h0m10 4h0m19-4h0m24 6h0m-74 5h0m-2 9h0m-18-3h0m-20-2h0m-19-3h0m-7 8h0m-1-1h0m7 12h0m22-3h0m2-2h0m109 0h0m0 6h0m5-2h0m5 3h0m-15 2h0m-6 4h0m-13 2h0m-30 3h0m-38-4h0m-17-5h0m-25 9h0m4 9h0m0 0h0m5-6h0m38 5h0m14 6h0m19-10h0m12 8h0m21-8h0m5 3h0m23 19h0m-18-5h0m-2-4h0m-1 0h0m0 2h0m-3 2h0m-10-6h0m-4 8h0m-7-7h0m-32 2h0m-10 8h0m-39 6h0m35 2h0m13 1h0m0-4h0m1 0h0m11-4h0m0 0h0m11 11h0m7-10h0m5 3h0m0-2h0m5 5h0m23 2h0m-32 7h0m-17 0h0m-5-2h0m-7 0h0m-22 1h0m-1 1h0m-13 0h0m0-1h0m-1 1h0m-12-4h0" stroke="#d42222" stroke-width="3.8" stroke-opacity=".5" stroke-linecap="round"/>
<path transform="scale(.5)" d="M1471 520h0m-8 11h0m79 4h0m-94 12h0m-45 7h0m70 11h0m-10 45h0" stroke="#d42222" stroke-width="3.8" stroke-opacity=".8" stroke-linecap="round"/>
</g>
<rect x="765.2" y="317.5" width="15" height="1.7" fill="#f4f4f4"/>
<text x="739.7" y="253" font-size="11.5" text-anchor="middle" stroke="#1a1a1a" stroke-width="0.3">20 μg/mL</text>
<rect x="436.2" y="343.7" width="84.5" height="63.3" fill="#0a0202"/>
<rect x="436.2" y="343.7" width="84.5" height="63.3" filter="url(#h13)"/>
<g filter="url(#bl)">
<path transform="scale(.5)" d="M957 693h0m-62 11h0m5 1h0m18 0h0m38 4h0m35 16h0m-12 28h0m25-8h0m-29 13h0m-62 4h0m113 49h0m-14-3h0" stroke="#d42222" stroke-width="3.2" stroke-opacity=".2" stroke-linecap="round"/>
</g>
<text x="437.4" y="351.1" font-size="7.6" fill="#c0282a">DHE</text>
<rect x="503.9" y="403.2" width="15" height="1.7" fill="#f4f4f4"/>
<text x="476.5" y="338.8" font-size="11.5" text-anchor="middle" stroke="#1a1a1a" stroke-width="0.3">Control</text>
<rect x="524.2" y="343.7" width="84.5" height="63.3" fill="#0a0202"/>
<rect x="524.2" y="343.7" width="84.5" height="63.3" filter="url(#h14)"/>
<g filter="url(#bl)">
<path transform="scale(.5)" d="M1124 692h0m-65 12h0m32 1h0m5 1h0m46 0h0m4-6h0m18 1h0m8-4h0m9 3h0m20 7h0m9-2h0m-13 4h0m-2 4h0m-20-2h0m0 2h0m-56 6h0m-61 5h0m41 1h0m27 0h0m75-1h0m2 0h0m3-4h0m2 23h0m-17-9h0m-3 7h0m-11-5h0m-4 2h0m-53 2h0m-35 2h0m-16-2h0m-18 0h0m13 11h0m31 1h0m21-7h0m2 0h0m76 4h0m-104 8h0m-2 4h0m-25 2h0m3 9h0m11-1h0m3 8h0m28-2h0m26-5h0m22 0h0m8 5h0m8-8h0m1 8h0m3-9h0m8 8h0m1 1h0m19 10h0m-5 0h0m-3-3h0m-18 4h0m-11 1h0m-1-5h0m-60-2h0m-5 2h0m-15 7h0m-33 10h0m28-1h0m40-8h0m3 8h0m44 3h0m7-3h0m37 9h0m-18-3h0m-1 6h0m-15-8h0m-16 8h0m-11 0h0m-4-1h0m-14-2h0" stroke="#d42222" stroke-width="3.6" stroke-opacity=".2" stroke-linecap="round"/>
<path transform="scale(.5)" d="M1181 703h0m32 8h0m-100 18h0m13-1h0m41-4h0m46 15h0" stroke="#d42222" stroke-width="3.6" stroke-opacity=".5" stroke-linecap="round"/>
</g>
<rect x="592" y="403.2" width="15" height="1.7" fill="#f4f4f4"/>
<text x="564.2" y="338.8" font-size="11.5" text-anchor="middle" stroke="#1a1a1a" stroke-width="0.3">5 μg/mL</text>
<rect x="610.5" y="343.7" width="84.5" height="63.3" fill="#0a0202"/>
<rect x="610.5" y="343.7" width="84.5" height="63.3" filter="url(#h15)"/>
<g filter="url(#bl)">
<path transform="scale(.5)" d="M1381 695h0m-43-4h0m-28 4h0m-63-2h0m-23 3h0m48 2h0m3-1h0m9 2h0m20 7h0m10-8h0m39 2h0m9-3h0m16 10h0m-34 1h0m-7 7h0m-34-4h0m-17 6h0m-12-3h0m-5 4h0m-18-5h0m-22-1h0m-3 7h0m6 2h0m6 5h0m18-6h0m28 3h0m2 2h0m18 2h0m2-6h0m26 7h0m20 1h0m13-8h0m6 13h0m-8-2h0m-16 11h0m-64-9h0m-11 3h0m-19-4h0m-7 0h0m49 17h0m38-2h0m34 7h0m6-6h0m5 7h0m-4 8h0m-58-3h0m-37 4h0m-5-3h0m-1-2h0m-46 0h0m18 11h0m0-3h0m28 1h0m1 5h0m1-3h0m1 0h0m8-2h0m30 0h0m2 8h0m4-9h0m3 10h0m1-5h0m17 4h0m10-7h0m5 3h0m3 2h0m7-1h0m2-3h0m3 8h0m15 1h0m-12 2h0m-18-2h0m-27 4h0m-53-2h0m-43 21h0m14-3h0m26-3h0m15 3h0m8-5h0m23 8h0m38-5h0m16-1h0m7-5h0m5 0h0m-4 17h0m-4-5h0m-89 1h0m-11 6h0m-23-4h0" stroke="#d42222" stroke-width="3.6" stroke-opacity=".2" stroke-linecap="round"/>
<path transform="scale(.5)" d="M1295 719h0m36 38h0" stroke="#d42222" stroke-width="3.6" stroke-opacity=".5" stroke-linecap="round"/>
</g>
<rect x="678.2" y="403.2" width="15" height="1.7" fill="#f4f4f4"/>
<text x="652.3" y="338.8" font-size="11.5" text-anchor="middle" stroke="#1a1a1a" stroke-width="0.3">10 μg/mL</text>
<rect x="697.5" y="343.7" width="84.5" height="63.3" fill="#0a0202"/>
<rect x="697.5" y="343.7" width="84.5" height="63.3" filter="url(#h16)"/>
<g filter="url(#bl)">
<path transform="scale(.5)" d="M1523 695h0m-7-1h0m-2-3h0m-15 4h0m-19-5h0m-29 1h0m-29 1h0m-7 14h0m16-6h0m2 0h0m14-3h0m8 10h0m7-5h0m4 4h0m5 0h0m7-1h0m18-4h0m5 5h0m3-10h0m7 5h0m4 1h0m4-1h0m2 4h0m0-8h0m7 1h0m19-1h0m1-1h0m9 3h0m-5 13h0m-16-2h0m-1 7h0m-7 2h0m-3-10h0m-4 5h0m-5 5h0m-13-1h0m-4-3h0m-4 2h0m-8-9h0m-9 8h0m-2-3h0m-5-5h0m-8 4h0m-21 0h0m-30 6h0m-5-8h0m-6 0h0m11 18h0m17-5h0m18 0h0m5 6h0m11-5h0m8 3h0m3 3h0m1-3h0m7-6h0m8 5h0m7 3h0m2-9h0m2 4h0m2 0h0m2-4h0m1 0h0m19 6h0m3 3h0m12-2h0m4-2h0m15-3h0m-6 12h0m-18 9h0m-18-8h0m-26 2h0m0-4h0m-13-1h0m0 4h0m-8-1h0m-5-3h0m-5 8h0m0-4h0m-4-2h0m-3-1h0m0 8h0m-6-2h0m-45-6h0m-4 12h0m19 8h0m0-2h0m2 1h0m1 0h0m36-8h0m13 9h0m10-5h0m3 0h0m7-4h0m24 6h0m21 4h0m7-6h0m6-2h0m0 21h0m-8-7h0m-11 3h0m-4-6h0m-7 8h0m-28-8h0m-13 4h0m-13-4h0m-1-1h0m-2 10h0m-2 0h0m0-5h0m-14 1h0m-2 3h0m0-5h0m-5 0h0m-2 6h0m-1-7h0m-3-3h0m-10 0h0m-7 17h0m4-1h0m6 6h0m9-6h0m7 5h0m4 0h0m12-4h0m2 1h0m0 3h0m3-5h0m15 0h0m9 2h0m2-1h0m5-5h0m6 11h0m1-8h0m0 5h0m5 1h0m19-6h0m3 8h0m21-6h0m5-1h0m4-1h0m-8 12h0m-7 7h0m-18-7h0m-5 0h0m-8 0h0m-1 7h0m-13-4h0m-5 0h0m-19-3h0m-15 3h0m-2-6h0m-8 1h0m-1 7h0m-4-8h0m-42 5h0m17 12h0m6-2h0m15 5h0m10-1h0m12-1h0m12 4h0m6-8h0m4 3h0m7-2h0m2 3h0m11 1h0m1-6h0m4 6h0m5-3h0m14 5h0m4-6h0m5 2h0m0-2h0m11 6h0m-6 4h0m-8 2h0m-2 1h0m-5 0h0m-5-3h0m-17 5h0m-13 0h0m-13-1h0m-47 3h0m-16-6h0m-3 5h0" stroke="#d42222" stroke-width="3.8" stroke-opacity=".2" stroke-linecap="round"/>
<path transform="scale(.5)" d="M1523 692h0m-10-1h0m-31 4h0m-9-5h0m-7 0h0m-9 3h0m-23 0h0m37 13h0m4-5h0m40 2h0m35 3h0m5-1h0m-14 4h0m-15 10h0m-26-1h0m-4 1h0m-22-9h0m-49 0h0m-6-1h0m36 21h0m4-1h0m1-1h0m8 1h0m0-1h0m4-2h0m17-2h0m24 4h0m4-8h0m40 4h0m-3 14h0m-15 0h0m-19-6h0m-27 6h0m-11 0h0m-16 0h0m-3-1h0m-9-2h0m-4 0h0m0 0h0m-4-2h0m-4 3h0m-26 6h0m23 6h0m21-4h0m7 5h0m67-4h0m15 4h0m7 12h0m-27-2h0m-50-3h0m-6 5h0m0-4h0m-8-1h0m-14 4h0m-2 1h0m-3 3h0m-2-2h0m-1-3h0m-11 5h0m-1 1h0m-7 2h0m-9 2h0m9 5h0m4-4h0m10 1h0m10-1h0m9 3h0m10 5h0m78-6h0m-12 12h0m-122-4h0m-8 21h0m9-8h0m43 3h0m12-1h0m13 0h0m21-1h0m5 5h0m5-1h0m23-3h0m13 5h0m5 10h0m-26-3h0m-48-3h0m-33 6h0m-2 0h0" stroke="#d42222" stroke-width="3.8" stroke-opacity=".5" stroke-linecap="round"/>
<path transform="scale(.5)" d="M1552 787h0" stroke="#d42222" stroke-width="3.8" stroke-opacity=".8" stroke-linecap="round"/>
</g>
<rect x="765.2" y="403.2" width="15" height="1.7" fill="#f4f4f4"/>
<text x="739.7" y="338.8" font-size="11.5" text-anchor="middle" stroke="#1a1a1a" stroke-width="0.3">20 μg/mL</text>
<text x="433.6" y="291.5" font-size="11" text-anchor="middle" transform="rotate(-90 433.6 291.5)" stroke="#1a1a1a" stroke-width="0.3">143B</text>
<text x="433.6" y="375" font-size="11" text-anchor="middle" transform="rotate(-90 433.6 375)" stroke="#1a1a1a" stroke-width="0.3">MG63</text>
<rect x="47.1" y="135.6" width="69" height="69" fill="none" stroke="#a8a8a8" stroke-width="0.9"/>
<path d="M47.1 204.6h1.4M47.1 200.3h1.4M47.1 196h1.4M47.1 191.7h1.4M47.1 187.3h1.4M47.1 183h1.4M47.1 178.7h1.4M47.1 174.4h1.4M47.1 170.1h1.4M47.1 165.8h1.4M47.1 161.5h1.4M47.1 157.2h1.4M47.1 152.8h1.4M47.1 148.5h1.4M47.1 144.2h1.4M47.1 139.9h1.4M47.1 135.6h1.4M47.1 204.6v-1.2M50.4 204.6v-1.2M53.7 204.6v-1.2M57 204.6v-1.2M60.2 204.6v-1.2M63.5 204.6v-1.2M66.8 204.6v-1.2M70.1 204.6v-1.2M73.4 204.6v-1.2M76.7 204.6v-1.2M80 204.6v-1.2M83.2 204.6v-1.2M86.5 204.6v-1.2M89.8 204.6v-1.2M93.1 204.6v-1.2M96.4 204.6v-1.2M99.7 204.6v-1.2M103 204.6v-1.2M106.2 204.6v-1.2M109.5 204.6v-1.2M112.8 204.6v-1.2M116.1 204.6v-1.2" stroke="#777" stroke-width=".5"/>
<text x="44.9" y="204.6" font-size="3.6" text-anchor="middle" fill="#666" transform="rotate(-90 44.9 204.6)">0</text>
<text x="44.9" y="181.6" font-size="3.6" text-anchor="middle" fill="#666" transform="rotate(-90 44.9 181.6)">50</text>
<text x="44.9" y="158.6" font-size="3.6" text-anchor="middle" fill="#666" transform="rotate(-90 44.9 158.6)">100</text>
<text x="44.9" y="135.6" font-size="3.6" text-anchor="middle" fill="#666" transform="rotate(-90 44.9 135.6)">150</text>
<text x="41.5" y="170.1" font-size="3.6" text-anchor="middle" fill="#666" transform="rotate(-90 41.5 170.1)">Count</text>
<text x="51.1" y="209.6" font-size="3.6" text-anchor="middle" fill="#666">10<tspan font-size="70%" dy="-1.2">1</tspan></text>
<text x="66.8" y="209.6" font-size="3.6" text-anchor="middle" fill="#666">10<tspan font-size="70%" dy="-1.2">2</tspan></text>
<text x="82.6" y="209.6" font-size="3.6" text-anchor="middle" fill="#666">10<tspan font-size="70%" dy="-1.2">3</tspan></text>
<text x="98.3" y="209.6" font-size="3.6" text-anchor="middle" fill="#666">10<tspan font-size="70%" dy="-1.2">4</tspan></text>
<text x="114.1" y="209.6" font-size="3.6" text-anchor="middle" fill="#666">10<tspan font-size="70%" dy="-1.2">5</tspan></text>
<path d="M48.1 204L48.1 204L48.6 204L49.1 204L49.6 204L50.1 204L50.6 204L51.1 204L51.6 204L52.1 204L52.6 204L53.1 204L53.6 204L54.1 204L54.6 204L55.1 204L55.6 204L56.1 204L56.6 204L57.1 204L57.6 204L58.1 204L58.6 204L59.1 204L59.6 204L60.1 204L60.6 204L61.1 204L61.6 204L62.1 204L62.6 204L63.1 204L63.6 204L64.1 204L64.6 204L65.1 204L65.6 204L66.1 204L66.6 204L67.1 204L67.6 204L68.1 204L68.6 204L69.1 204L69.6 204L70.1 204L70.6 202.3L71.1 202L71.6 201.3L72.1 200.3L72.6 199.5L73.1 198L73.6 196.4L74.1 195L74.6 193.2L75.1 189.8L75.6 186.3L76.1 184.7L76.6 181L77.1 174.7L77.6 173.9L78.1 169.9L78.6 160.1L79.1 164L79.6 154.9L80.1 158.1L80.6 151.2L81.1 145.7L81.6 146L82.1 147.2L82.6 150L83.1 147.1L83.6 142.7L84.1 145.7L84.6 139.8L85.1 147.2L85.6 146.7L86.1 149.1L86.6 156.9L87.1 154.3L87.6 157.4L88.1 158.8L88.6 163.1L88.6 204Z" fill="#9c9c9c" stroke="#8c8c8c" stroke-width=".4"/>
<path d="M89.1 204L89.1 168.2L89.6 171.7L90.1 174.3L90.6 174.5L91.1 180.4L91.6 183.1L92.1 185.2L92.6 188.2L93.1 189.2L93.6 191.7L94.1 193.9L94.6 196L95.1 196.9L95.6 198.5L96.1 199.2L96.6 200.4L97.1 200.8L97.6 201.5L98.1 201.9L98.6 202.4L99.1 202.6L99.6 204L100.1 204L100.6 204L101.1 204L101.6 204L102.1 204L102.6 204L103.1 204L103.6 204L104.1 204L104.6 204L105.1 204L105.6 204L106.1 204L106.6 204L107.1 204L107.6 204L108.1 204L108.6 204L109.1 204L109.6 204L110.1 204L110.6 204L111.1 204L111.6 204L112.1 204L112.6 204L113.1 204L113.6 204L114.1 204L114.6 204L115.1 204L115.1 204Z" fill="#2f8a30" stroke="#237a25" stroke-width=".5"/>
<path d="M48.1 203.7H69.1" stroke="#888" stroke-width=".6" stroke-dasharray="1 1.5"/>
<path d="M88.8 168.2H116.1M88.8 168.2v-2v4M115.8 168.2v-2v4" stroke="#3b9a3b" stroke-width=".6" fill="none"/>
<text x="89.4" y="166.6" font-size="3.4" fill="#3b9a3b">P3(11.64%)</text>
<rect x="133.8" y="135.6" width="69" height="69" fill="none" stroke="#a8a8a8" stroke-width="0.9"/>
<path d="M133.8 204.6h1.4M133.8 200.3h1.4M133.8 196h1.4M133.8 191.7h1.4M133.8 187.3h1.4M133.8 183h1.4M133.8 178.7h1.4M133.8 174.4h1.4M133.8 170.1h1.4M133.8 165.8h1.4M133.8 161.5h1.4M133.8 157.2h1.4M133.8 152.8h1.4M133.8 148.5h1.4M133.8 144.2h1.4M133.8 139.9h1.4M133.8 135.6h1.4M133.8 204.6v-1.2M137.1 204.6v-1.2M140.4 204.6v-1.2M143.7 204.6v-1.2M146.9 204.6v-1.2M150.2 204.6v-1.2M153.5 204.6v-1.2M156.8 204.6v-1.2M160.1 204.6v-1.2M163.4 204.6v-1.2M166.7 204.6v-1.2M169.9 204.6v-1.2M173.2 204.6v-1.2M176.5 204.6v-1.2M179.8 204.6v-1.2M183.1 204.6v-1.2M186.4 204.6v-1.2M189.7 204.6v-1.2M192.9 204.6v-1.2M196.2 204.6v-1.2M199.5 204.6v-1.2M202.8 204.6v-1.2" stroke="#777" stroke-width=".5"/>
<text x="131.6" y="204.6" font-size="3.6" text-anchor="middle" fill="#666" transform="rotate(-90 131.6 204.6)">0</text>
<text x="131.6" y="181.6" font-size="3.6" text-anchor="middle" fill="#666" transform="rotate(-90 131.6 181.6)">50</text>
<text x="131.6" y="158.6" font-size="3.6" text-anchor="middle" fill="#666" transform="rotate(-90 131.6 158.6)">100</text>
<text x="131.6" y="135.6" font-size="3.6" text-anchor="middle" fill="#666" transform="rotate(-90 131.6 135.6)">150</text>
<text x="128.2" y="170.1" font-size="3.6" text-anchor="middle" fill="#666" transform="rotate(-90 128.2 170.1)">Count</text>
<text x="137.8" y="209.6" font-size="3.6" text-anchor="middle" fill="#666">10<tspan font-size="70%" dy="-1.2">1</tspan></text>
<text x="153.6" y="209.6" font-size="3.6" text-anchor="middle" fill="#666">10<tspan font-size="70%" dy="-1.2">2</tspan></text>
<text x="169.3" y="209.6" font-size="3.6" text-anchor="middle" fill="#666">10<tspan font-size="70%" dy="-1.2">3</tspan></text>
<text x="185.1" y="209.6" font-size="3.6" text-anchor="middle" fill="#666">10<tspan font-size="70%" dy="-1.2">4</tspan></text>
<text x="200.8" y="209.6" font-size="3.6" text-anchor="middle" fill="#666">10<tspan font-size="70%" dy="-1.2">5</tspan></text>
<path d="M134.8 204L134.8 204L135.3 204L135.8 204L136.3 204L136.8 204L137.3 204L137.8 204L138.3 204L138.8 204L139.3 204L139.8 204L140.3 204L140.8 204L141.3 204L141.8 204L142.3 204L142.8 204L143.3 204L143.8 204L144.3 204L144.8 204L145.3 204L145.8 204L146.3 204L146.8 204L147.3 204L147.8 204L148.3 204L148.8 204L149.3 204L149.8 204L150.3 204L150.8 204L151.3 204L151.8 204L152.3 204L152.8 204L153.3 204L153.8 204L154.3 204L154.8 204L155.3 204L155.8 204L156.3 204L156.8 204L157.3 204L157.8 204L158.3 204L158.8 204L159.3 204L159.8 204L160.3 204L160.8 204L161.3 204L161.8 202.4L162.3 201.9L162.8 201.4L163.3 200.7L163.8 199.9L164.3 198.5L164.8 197.4L165.3 196L165.8 193.3L166.3 191.1L166.8 188.2L167.3 186.6L167.8 182.7L168.3 179.4L168.8 177.9L169.3 171.2L169.8 167.7L170.3 159.7L170.8 160.3L171.3 157.6L171.8 151L172.3 153.8L172.8 151.8L173.3 146.1L173.8 147.4L174.3 143.5L174.8 147.3L175.3 145.7L175.8 144.7L176.3 151.2L176.3 204Z" fill="#9c9c9c" stroke="#8c8c8c" stroke-width=".4"/>
<path d="M176.8 204L176.8 151.8L177.3 147.8L177.8 156.4L178.3 159.9L178.8 165.2L179.3 171L179.8 170.2L180.3 175.8L180.8 177.7L181.3 183.3L181.8 185.2L182.3 186.6L182.8 189.1L183.3 193.1L183.8 195L184.3 196.1L184.8 197.3L185.3 198.7L185.8 199.8L186.3 200.9L186.8 201.4L187.3 201.9L187.8 202.5L188.3 204L188.8 204L189.3 204L189.8 204L190.3 204L190.8 204L191.3 204L191.8 204L192.3 204L192.8 204L193.3 204L193.8 204L194.3 204L194.8 204L195.3 204L195.8 204L196.3 204L196.8 204L197.3 204L197.8 204L198.3 204L198.8 204L199.3 204L199.8 204L200.3 204L200.8 204L201.3 204L201.8 204L201.8 204Z" fill="#2f8a30" stroke="#237a25" stroke-width=".5"/>
<path d="M134.8 203.7H160.3" stroke="#888" stroke-width=".6" stroke-dasharray="1 1.5"/>
<path d="M176.5 168.2H202.8M176.5 168.2v-2v4M202.5 168.2v-2v4" stroke="#3b9a3b" stroke-width=".6" fill="none"/>
<text x="177.1" y="166.6" font-size="3.4" fill="#3b9a3b">P3(26.77%)</text>
<rect x="220.3" y="135.6" width="69" height="69" fill="none" stroke="#a8a8a8" stroke-width="0.9"/>
<path d="M220.3 204.6h1.4M220.3 200.3h1.4M220.3 196h1.4M220.3 191.7h1.4M220.3 187.3h1.4M220.3 183h1.4M220.3 178.7h1.4M220.3 174.4h1.4M220.3 170.1h1.4M220.3 165.8h1.4M220.3 161.5h1.4M220.3 157.2h1.4M220.3 152.8h1.4M220.3 148.5h1.4M220.3 144.2h1.4M220.3 139.9h1.4M220.3 135.6h1.4M220.3 204.6v-1.2M223.6 204.6v-1.2M226.9 204.6v-1.2M230.2 204.6v-1.2M233.4 204.6v-1.2M236.7 204.6v-1.2M240 204.6v-1.2M243.3 204.6v-1.2M246.6 204.6v-1.2M249.9 204.6v-1.2M253.2 204.6v-1.2M256.4 204.6v-1.2M259.7 204.6v-1.2M263 204.6v-1.2M266.3 204.6v-1.2M269.6 204.6v-1.2M272.9 204.6v-1.2M276.2 204.6v-1.2M279.4 204.6v-1.2M282.7 204.6v-1.2M286 204.6v-1.2M289.3 204.6v-1.2" stroke="#777" stroke-width=".5"/>
<text x="218.1" y="204.6" font-size="3.6" text-anchor="middle" fill="#666" transform="rotate(-90 218.1 204.6)">0</text>
<text x="218.1" y="181.6" font-size="3.6" text-anchor="middle" fill="#666" transform="rotate(-90 218.1 181.6)">50</text>
<text x="218.1" y="158.6" font-size="3.6" text-anchor="middle" fill="#666" transform="rotate(-90 218.1 158.6)">100</text>
<text x="218.1" y="135.6" font-size="3.6" text-anchor="middle" fill="#666" transform="rotate(-90 218.1 135.6)">150</text>
<text x="214.7" y="170.1" font-size="3.6" text-anchor="middle" fill="#666" transform="rotate(-90 214.7 170.1)">Count</text>
<text x="224.3" y="209.6" font-size="3.6" text-anchor="middle" fill="#666">10<tspan font-size="70%" dy="-1.2">1</tspan></text>
<text x="240.1" y="209.6" font-size="3.6" text-anchor="middle" fill="#666">10<tspan font-size="70%" dy="-1.2">2</tspan></text>
<text x="255.8" y="209.6" font-size="3.6" text-anchor="middle" fill="#666">10<tspan font-size="70%" dy="-1.2">3</tspan></text>
<text x="271.6" y="209.6" font-size="3.6" text-anchor="middle" fill="#666">10<tspan font-size="70%" dy="-1.2">4</tspan></text>
<text x="287.3" y="209.6" font-size="3.6" text-anchor="middle" fill="#666">10<tspan font-size="70%" dy="-1.2">5</tspan></text>
<path d="M221.3 204L221.3 204L221.8 204L222.3 204L222.8 204L223.3 204L223.8 204L224.3 204L224.8 204L225.3 204L225.8 204L226.3 204L226.8 204L227.3 204L227.8 204L228.3 204L228.8 204L229.3 204L229.8 204L230.3 204L230.8 204L231.3 204L231.8 204L232.3 204L232.8 204L233.3 204L233.8 204L234.3 204L234.8 204L235.3 204L235.8 204L236.3 204L236.8 204L237.3 204L237.8 204L238.3 204L238.8 204L239.3 204L239.8 204L240.3 204L240.8 204L241.3 204L241.8 204L242.3 204L242.8 204L243.3 204L243.8 204L244.3 204L244.8 204L245.3 204L245.8 204L246.3 204L246.8 204L247.3 204L247.8 204L248.3 204L248.8 204L249.3 204L249.8 204L250.3 204L250.8 204L251.3 204L251.8 202.2L252.3 201.8L252.8 200.9L253.3 199.9L253.8 198.4L254.3 197.6L254.8 195.4L255.3 193.3L255.8 190.9L256.3 187.8L256.8 184.1L257.3 180.1L257.8 176.8L258.3 170.3L258.8 167.3L259.3 168.3L259.8 154L260.3 153.4L260.8 150.3L261.3 144L261.8 139.5L262.3 140.3L262.3 204Z" fill="#9c9c9c" stroke="#8c8c8c" stroke-width=".4"/>
<path d="M262.3 204L262.3 140.3L262.8 137.3L263.3 141.1L263.8 135.6L264.3 140.6L264.8 136.8L265.3 146.4L265.8 144.6L266.3 153.6L266.8 149.5L267.3 159.2L267.8 160.7L268.3 167.1L268.8 165.1L269.3 174L269.8 176.2L270.3 179.4L270.8 184.6L271.3 188.3L271.8 190.9L272.3 192.6L272.8 194.1L273.3 196.6L273.8 197.7L274.3 199.4L274.8 199.9L275.3 201.3L275.8 201.9L276.3 202.3L276.8 204L277.3 204L277.8 204L278.3 204L278.8 204L279.3 204L279.8 204L280.3 204L280.8 204L281.3 204L281.8 204L282.3 204L282.8 204L283.3 204L283.8 204L284.3 204L284.8 204L285.3 204L285.8 204L286.3 204L286.8 204L287.3 204L287.8 204L288.3 204L288.3 204Z" fill="#2f8a30" stroke="#237a25" stroke-width=".5"/>
<path d="M221.3 203.7H250.3" stroke="#888" stroke-width=".6" stroke-dasharray="1 1.5"/>
<path d="M262.3 168.2H289.3M262.3 168.2v-2v4M289 168.2v-2v4" stroke="#3b9a3b" stroke-width=".6" fill="none"/>
<text x="262.9" y="166.6" font-size="3.4" fill="#3b9a3b">P3(52.35%)</text>
<rect x="307.4" y="135.6" width="69" height="69" fill="none" stroke="#a8a8a8" stroke-width="0.9"/>
<path d="M307.4 204.6h1.4M307.4 200.3h1.4M307.4 196h1.4M307.4 191.7h1.4M307.4 187.3h1.4M307.4 183h1.4M307.4 178.7h1.4M307.4 174.4h1.4M307.4 170.1h1.4M307.4 165.8h1.4M307.4 161.5h1.4M307.4 157.2h1.4M307.4 152.8h1.4M307.4 148.5h1.4M307.4 144.2h1.4M307.4 139.9h1.4M307.4 135.6h1.4M307.4 204.6v-1.2M310.7 204.6v-1.2M314 204.6v-1.2M317.3 204.6v-1.2M320.5 204.6v-1.2M323.8 204.6v-1.2M327.1 204.6v-1.2M330.4 204.6v-1.2M333.7 204.6v-1.2M337 204.6v-1.2M340.3 204.6v-1.2M343.5 204.6v-1.2M346.8 204.6v-1.2M350.1 204.6v-1.2M353.4 204.6v-1.2M356.7 204.6v-1.2M360 204.6v-1.2M363.3 204.6v-1.2M366.5 204.6v-1.2M369.8 204.6v-1.2M373.1 204.6v-1.2M376.4 204.6v-1.2" stroke="#777" stroke-width=".5"/>
<text x="305.2" y="204.6" font-size="3.6" text-anchor="middle" fill="#666" transform="rotate(-90 305.2 204.6)">0</text>
<text x="305.2" y="181.6" font-size="3.6" text-anchor="middle" fill="#666" transform="rotate(-90 305.2 181.6)">50</text>
<text x="305.2" y="158.6" font-size="3.6" text-anchor="middle" fill="#666" transform="rotate(-90 305.2 158.6)">100</text>
<text x="305.2" y="135.6" font-size="3.6" text-anchor="middle" fill="#666" transform="rotate(-90 305.2 135.6)">150</text>
<text x="301.8" y="170.1" font-size="3.6" text-anchor="middle" fill="#666" transform="rotate(-90 301.8 170.1)">Count</text>
<text x="311.4" y="209.6" font-size="3.6" text-anchor="middle" fill="#666">10<tspan font-size="70%" dy="-1.2">1</tspan></text>
<text x="327.1" y="209.6" font-size="3.6" text-anchor="middle" fill="#666">10<tspan font-size="70%" dy="-1.2">2</tspan></text>
<text x="342.9" y="209.6" font-size="3.6" text-anchor="middle" fill="#666">10<tspan font-size="70%" dy="-1.2">3</tspan></text>
<text x="358.6" y="209.6" font-size="3.6" text-anchor="middle" fill="#666">10<tspan font-size="70%" dy="-1.2">4</tspan></text>
<text x="374.4" y="209.6" font-size="3.6" text-anchor="middle" fill="#666">10<tspan font-size="70%" dy="-1.2">5</tspan></text>
<path d="M308.4 204L308.4 204L308.9 204L309.4 204L309.9 204L310.4 204L310.9 204L311.4 204L311.9 204L312.4 204L312.9 204L313.4 204L313.9 204L314.4 204L314.9 204L315.4 204L315.9 204L316.4 204L316.9 204L317.4 204L317.9 204L318.4 204L318.9 204L319.4 204L319.9 204L320.4 204L320.9 204L321.4 204L321.9 204L322.4 204L322.9 204L323.4 204L323.9 204L324.4 204L324.9 204L325.4 204L325.9 204L326.4 204L326.9 204L327.4 204L327.9 204L328.4 204L328.9 204L329.4 204L329.9 204L330.4 204L330.9 204L331.4 204L331.9 204L332.4 204L332.9 204L333.4 204L333.9 204L334.4 204L334.9 204L335.4 204L335.9 204L336.4 204L336.9 204L337.4 204L337.9 204L338.4 204L338.9 204L339.4 204L339.9 204L340.4 202.5L340.9 201.9L341.4 201.5L341.9 200.5L342.4 199.7L342.9 198.6L343.4 196.6L343.9 195.6L344.4 193.8L344.9 191.2L345.4 188.4L345.9 186.6L346.4 183L346.9 181.5L347.4 177.4L347.9 174L348.4 171.9L348.9 168.8L349.4 165.7L349.9 159.3L349.9 204Z" fill="#9c9c9c" stroke="#8c8c8c" stroke-width=".4"/>
<path d="M350.4 204L350.4 155.9L350.9 153.3L351.4 150.7L351.9 151.7L352.4 146.7L352.9 150.8L353.4 147.8L353.9 154.1L354.4 154.7L354.9 144.3L355.4 149.2L355.9 146.9L356.4 153.3L356.9 150L357.4 154.2L357.9 152.4L358.4 158.9L358.9 158.2L359.4 164.3L359.9 165.6L360.4 164.4L360.9 170.6L361.4 168.7L361.9 175.3L362.4 174.3L362.9 178.8L363.4 179.7L363.9 181.2L364.4 183L364.9 187.3L365.4 189.8L365.9 190.8L366.4 191.6L366.9 192.3L367.4 194.9L367.9 195.9L368.4 196.2L368.9 197.5L369.4 198.5L369.9 199.4L370.4 200L370.9 200.8L371.4 201.1L371.9 201.5L372.4 202L372.9 202.5L373.4 202.5L373.9 204L374.4 204L374.9 204L375.4 204L375.4 204Z" fill="#2f8a30" stroke="#237a25" stroke-width=".5"/>
<path d="M308.4 203.7H338.9" stroke="#888" stroke-width=".6" stroke-dasharray="1 1.5"/>
<path d="M350 168.2H376.4M350 168.2v-2v4M376.1 168.2v-2v4" stroke="#3b9a3b" stroke-width=".6" fill="none"/>
<text x="350.6" y="166.6" font-size="3.4" fill="#3b9a3b">P3(80.35%)</text>
<rect x="446.4" y="135.6" width="69" height="69" fill="none" stroke="#a8a8a8" stroke-width="0.9"/>
<path d="M446.4 204.6h1.4M446.4 200.3h1.4M446.4 196h1.4M446.4 191.7h1.4M446.4 187.3h1.4M446.4 183h1.4M446.4 178.7h1.4M446.4 174.4h1.4M446.4 170.1h1.4M446.4 165.8h1.4M446.4 161.5h1.4M446.4 157.2h1.4M446.4 152.8h1.4M446.4 148.5h1.4M446.4 144.2h1.4M446.4 139.9h1.4M446.4 135.6h1.4M446.4 204.6v-1.2M449.7 204.6v-1.2M453 204.6v-1.2M456.3 204.6v-1.2M459.5 204.6v-1.2M462.8 204.6v-1.2M466.1 204.6v-1.2M469.4 204.6v-1.2M472.7 204.6v-1.2M476 204.6v-1.2M479.3 204.6v-1.2M482.5 204.6v-1.2M485.8 204.6v-1.2M489.1 204.6v-1.2M492.4 204.6v-1.2M495.7 204.6v-1.2M499 204.6v-1.2M502.3 204.6v-1.2M505.5 204.6v-1.2M508.8 204.6v-1.2M512.1 204.6v-1.2M515.4 204.6v-1.2" stroke="#777" stroke-width=".5"/>
<text x="444.2" y="204.6" font-size="3.6" text-anchor="middle" fill="#666" transform="rotate(-90 444.2 204.6)">0</text>
<text x="444.2" y="170.1" font-size="3.6" text-anchor="middle" fill="#666" transform="rotate(-90 444.2 170.1)">100</text>
<text x="444.2" y="135.6" font-size="3.6" text-anchor="middle" fill="#666" transform="rotate(-90 444.2 135.6)">200</text>
<text x="440.8" y="170.1" font-size="3.6" text-anchor="middle" fill="#666" transform="rotate(-90 440.8 170.1)">Count</text>
<text x="450.4" y="209.6" font-size="3.6" text-anchor="middle" fill="#666">10<tspan font-size="70%" dy="-1.2">1</tspan></text>
<text x="466.1" y="209.6" font-size="3.6" text-anchor="middle" fill="#666">10<tspan font-size="70%" dy="-1.2">2</tspan></text>
<text x="481.9" y="209.6" font-size="3.6" text-anchor="middle" fill="#666">10<tspan font-size="70%" dy="-1.2">3</tspan></text>
<text x="497.6" y="209.6" font-size="3.6" text-anchor="middle" fill="#666">10<tspan font-size="70%" dy="-1.2">4</tspan></text>
<text x="513.4" y="209.6" font-size="3.6" text-anchor="middle" fill="#666">10<tspan font-size="70%" dy="-1.2">5</tspan></text>
<path d="M447.4 204L447.4 204L447.9 204L448.4 204L448.9 204L449.4 204L449.9 204L450.4 204L450.9 204L451.4 204L451.9 204L452.4 204L452.9 204L453.4 204L453.9 204L454.4 204L454.9 204L455.4 204L455.9 204L456.4 204L456.9 204L457.4 204L457.9 204L458.4 204L458.9 204L459.4 204L459.9 204L460.4 204L460.9 204L461.4 204L461.9 204L462.4 204L462.9 204L463.4 204L463.9 204L464.4 204L464.9 204L465.4 204L465.9 204L466.4 204L466.9 204L467.4 204L467.9 204L468.4 204L468.9 204L469.4 204L469.9 204L470.4 204L470.9 204L471.4 204L471.9 204L472.4 204L472.9 204L473.4 204L473.9 204L474.4 204L474.9 204L475.4 202.4L475.9 201.7L476.4 200.9L476.9 200.2L477.4 198.6L477.9 197.3L478.4 194.1L478.9 192.9L479.4 191.3L479.9 187L480.4 182.8L480.9 177.6L481.4 171L481.9 171.8L482.4 163.7L482.9 163.1L483.4 153.3L483.9 150.2L484.4 147.9L484.9 145L485.4 139.8L485.9 142.1L486.4 139.2L486.9 144.9L487.4 137.2L487.9 151.5L488.4 143.9L488.9 147.5L489.4 151.6L489.9 159.7L490.4 162.5L490.9 169.4L491.4 171.7L491.9 180.1L491.9 204Z" fill="#9c9c9c" stroke="#8c8c8c" stroke-width=".4"/>
<path d="M491.9 204L491.9 180.1L492.4 181.7L492.9 186.9L493.4 189.9L493.9 191.6L494.4 195.1L494.9 197.2L495.4 198.7L495.9 200.4L496.4 200.9L496.9 201.9L497.4 202.5L497.9 204L498.4 204L498.9 204L499.4 204L499.9 204L500.4 204L500.9 204L501.4 204L501.9 204L502.4 204L502.9 204L503.4 204L503.9 204L504.4 204L504.9 204L505.4 204L505.9 204L506.4 204L506.9 204L507.4 204L507.9 204L508.4 204L508.9 204L509.4 204L509.9 204L510.4 204L510.9 204L511.4 204L511.9 204L512.4 204L512.9 204L513.4 204L513.9 204L514.4 204L514.4 204Z" fill="#2f8a30" stroke="#237a25" stroke-width=".5"/>
<path d="M447.4 203.7H473.9" stroke="#888" stroke-width=".6" stroke-dasharray="1 1.5"/>
<path d="M491.9 168.2H515.4M491.9 168.2v-2v4M515.1 168.2v-2v4" stroke="#3b9a3b" stroke-width=".6" fill="none"/>
<text x="492.5" y="166.6" font-size="3.4" fill="#3b9a3b">P3(7.87%)</text>
<rect x="535.8" y="135.6" width="69" height="69" fill="none" stroke="#a8a8a8" stroke-width="0.9"/>
<path d="M535.8 204.6h1.4M535.8 200.3h1.4M535.8 196h1.4M535.8 191.7h1.4M535.8 187.3h1.4M535.8 183h1.4M535.8 178.7h1.4M535.8 174.4h1.4M535.8 170.1h1.4M535.8 165.8h1.4M535.8 161.5h1.4M535.8 157.2h1.4M535.8 152.8h1.4M535.8 148.5h1.4M535.8 144.2h1.4M535.8 139.9h1.4M535.8 135.6h1.4M535.8 204.6v-1.2M539.1 204.6v-1.2M542.4 204.6v-1.2M545.7 204.6v-1.2M548.9 204.6v-1.2M552.2 204.6v-1.2M555.5 204.6v-1.2M558.8 204.6v-1.2M562.1 204.6v-1.2M565.4 204.6v-1.2M568.7 204.6v-1.2M571.9 204.6v-1.2M575.2 204.6v-1.2M578.5 204.6v-1.2M581.8 204.6v-1.2M585.1 204.6v-1.2M588.4 204.6v-1.2M591.7 204.6v-1.2M594.9 204.6v-1.2M598.2 204.6v-1.2M601.5 204.6v-1.2M604.8 204.6v-1.2" stroke="#777" stroke-width=".5"/>
<text x="533.6" y="204.6" font-size="3.6" text-anchor="middle" fill="#666" transform="rotate(-90 533.6 204.6)">0</text>
<text x="533.6" y="170.1" font-size="3.6" text-anchor="middle" fill="#666" transform="rotate(-90 533.6 170.1)">100</text>
<text x="533.6" y="135.6" font-size="3.6" text-anchor="middle" fill="#666" transform="rotate(-90 533.6 135.6)">200</text>
<text x="530.2" y="170.1" font-size="3.6" text-anchor="middle" fill="#666" transform="rotate(-90 530.2 170.1)">Count</text>
<text x="539.8" y="209.6" font-size="3.6" text-anchor="middle" fill="#666">10<tspan font-size="70%" dy="-1.2">1</tspan></text>
<text x="555.5" y="209.6" font-size="3.6" text-anchor="middle" fill="#666">10<tspan font-size="70%" dy="-1.2">2</tspan></text>
<text x="571.3" y="209.6" font-size="3.6" text-anchor="middle" fill="#666">10<tspan font-size="70%" dy="-1.2">3</tspan></text>
<text x="587" y="209.6" font-size="3.6" text-anchor="middle" fill="#666">10<tspan font-size="70%" dy="-1.2">4</tspan></text>
<text x="602.8" y="209.6" font-size="3.6" text-anchor="middle" fill="#666">10<tspan font-size="70%" dy="-1.2">5</tspan></text>
<path d="M536.8 204L536.8 204L537.3 204L537.8 204L538.3 204L538.8 204L539.3 204L539.8 204L540.3 204L540.8 204L541.3 204L541.8 204L542.3 204L542.8 204L543.3 204L543.8 204L544.3 204L544.8 204L545.3 204L545.8 204L546.3 204L546.8 204L547.3 204L547.8 204L548.3 204L548.8 204L549.3 204L549.8 204L550.3 204L550.8 204L551.3 204L551.8 204L552.3 204L552.8 204L553.3 204L553.8 204L554.3 204L554.8 204L555.3 204L555.8 204L556.3 204L556.8 204L557.3 204L557.8 204L558.3 204L558.8 204L559.3 204L559.8 204L560.3 204L560.8 204L561.3 204L561.8 204L562.3 204L562.8 204L563.3 204L563.8 204L564.3 204L564.8 204L565.3 204L565.8 204L566.3 204L566.8 204L567.3 204L567.8 202.5L568.3 201.8L568.8 200.9L569.3 200.3L569.8 198.6L570.3 197.4L570.8 194.9L571.3 192.9L571.8 189.8L572.3 188.2L572.8 182.4L573.3 176.7L573.8 175.4L574.3 171.1L574.8 165.8L575.3 164.3L575.8 156.8L576.3 152.1L576.8 154.9L577.3 152.2L577.8 144.7L578.3 142.5L578.8 142.7L579.3 140.7L579.8 143.7L580.3 136.8L580.3 204Z" fill="#9c9c9c" stroke="#8c8c8c" stroke-width=".4"/>
<path d="M580.8 204L580.8 144.4L581.3 149.9L581.8 148.4L582.3 149.2L582.8 158L583.3 159.1L583.8 159.8L584.3 168.7L584.8 171.8L585.3 173.7L585.8 179.2L586.3 183.7L586.8 184.2L587.3 187.8L587.8 189.6L588.3 192.9L588.8 194.6L589.3 196.7L589.8 198.7L590.3 199.5L590.8 200.3L591.3 201.1L591.8 201.9L592.3 202.4L592.8 204L593.3 204L593.8 204L594.3 204L594.8 204L595.3 204L595.8 204L596.3 204L596.8 204L597.3 204L597.8 204L598.3 204L598.8 204L599.3 204L599.8 204L600.3 204L600.8 204L601.3 204L601.8 204L602.3 204L602.8 204L603.3 204L603.8 204L603.8 204Z" fill="#2f8a30" stroke="#237a25" stroke-width=".5"/>
<path d="M536.8 203.7H566.3" stroke="#888" stroke-width=".6" stroke-dasharray="1 1.5"/>
<path d="M580.6 168.2H604.8M580.6 168.2v-2v4M604.5 168.2v-2v4" stroke="#3b9a3b" stroke-width=".6" fill="none"/>
<text x="581.2" y="166.6" font-size="3.4" fill="#3b9a3b">P3(36.13%)</text>
<rect x="624.4" y="135.6" width="69" height="69" fill="none" stroke="#a8a8a8" stroke-width="0.9"/>
<path d="M624.4 204.6h1.4M624.4 200.3h1.4M624.4 196h1.4M624.4 191.7h1.4M624.4 187.3h1.4M624.4 183h1.4M624.4 178.7h1.4M624.4 174.4h1.4M624.4 170.1h1.4M624.4 165.8h1.4M624.4 161.5h1.4M624.4 157.2h1.4M624.4 152.8h1.4M624.4 148.5h1.4M624.4 144.2h1.4M624.4 139.9h1.4M624.4 135.6h1.4M624.4 204.6v-1.2M627.7 204.6v-1.2M631 204.6v-1.2M634.3 204.6v-1.2M637.5 204.6v-1.2M640.8 204.6v-1.2M644.1 204.6v-1.2M647.4 204.6v-1.2M650.7 204.6v-1.2M654 204.6v-1.2M657.3 204.6v-1.2M660.5 204.6v-1.2M663.8 204.6v-1.2M667.1 204.6v-1.2M670.4 204.6v-1.2M673.7 204.6v-1.2M677 204.6v-1.2M680.3 204.6v-1.2M683.5 204.6v-1.2M686.8 204.6v-1.2M690.1 204.6v-1.2M693.4 204.6v-1.2" stroke="#777" stroke-width=".5"/>
<text x="622.2" y="204.6" font-size="3.6" text-anchor="middle" fill="#666" transform="rotate(-90 622.2 204.6)">0</text>
<text x="622.2" y="170.1" font-size="3.6" text-anchor="middle" fill="#666" transform="rotate(-90 622.2 170.1)">100</text>
<text x="622.2" y="135.6" font-size="3.6" text-anchor="middle" fill="#666" transform="rotate(-90 622.2 135.6)">200</text>
<text x="618.8" y="170.1" font-size="3.6" text-anchor="middle" fill="#666" transform="rotate(-90 618.8 170.1)">Count</text>
<text x="628.4" y="209.6" font-size="3.6" text-anchor="middle" fill="#666">10<tspan font-size="70%" dy="-1.2">1</tspan></text>
<text x="644.1" y="209.6" font-size="3.6" text-anchor="middle" fill="#666">10<tspan font-size="70%" dy="-1.2">2</tspan></text>
<text x="659.9" y="209.6" font-size="3.6" text-anchor="middle" fill="#666">10<tspan font-size="70%" dy="-1.2">3</tspan></text>
<text x="675.6" y="209.6" font-size="3.6" text-anchor="middle" fill="#666">10<tspan font-size="70%" dy="-1.2">4</tspan></text>
<text x="691.4" y="209.6" font-size="3.6" text-anchor="middle" fill="#666">10<tspan font-size="70%" dy="-1.2">5</tspan></text>
<path d="M625.4 204L625.4 204L625.9 204L626.4 204L626.9 204L627.4 204L627.9 204L628.4 204L628.9 204L629.4 204L629.9 204L630.4 204L630.9 204L631.4 204L631.9 204L632.4 204L632.9 204L633.4 204L633.9 204L634.4 204L634.9 204L635.4 204L635.9 204L636.4 204L636.9 204L637.4 204L637.9 204L638.4 204L638.9 204L639.4 204L639.9 204L640.4 204L640.9 204L641.4 204L641.9 204L642.4 204L642.9 204L643.4 204L643.9 204L644.4 204L644.9 204L645.4 204L645.9 204L646.4 204L646.9 204L647.4 204L647.9 204L648.4 204L648.9 204L649.4 204L649.9 204L650.4 204L650.9 204L651.4 204L651.9 204L652.4 204L652.9 204L653.4 204L653.9 204L654.4 204L654.9 204L655.4 204L655.9 204L656.4 204L656.9 204L657.4 204L657.9 204L658.4 204L658.9 204L659.4 204L659.9 204L660.4 204L660.9 202.5L661.4 201.9L661.9 200.9L662.4 199.7L662.9 198.1L663.4 195.6L663.9 193.4L664.4 188.6L664.9 184.9L665.4 181.2L665.9 175.2L666.4 172.3L666.9 167.2L667.4 158.1L667.9 154.5L668.4 155.2L668.9 144.6L668.9 204Z" fill="#9c9c9c" stroke="#8c8c8c" stroke-width=".4"/>
<path d="M668.9 204L668.9 144.6L669.4 146.3L669.9 144L670.4 137.4L670.9 141.7L671.4 148.2L671.9 147.2L672.4 146.6L672.9 147.9L673.4 154.2L673.9 159.1L674.4 160.2L674.9 161.7L675.4 167.4L675.9 171L676.4 173.4L676.9 176.5L677.4 180.4L677.9 183.8L678.4 187.5L678.9 189.9L679.4 190.6L679.9 193L680.4 196.3L680.9 197L681.4 198.3L681.9 199.3L682.4 200.3L682.9 201.1L683.4 202L683.9 202.4L684.4 204L684.9 204L685.4 204L685.9 204L686.4 204L686.9 204L687.4 204L687.9 204L688.4 204L688.9 204L689.4 204L689.9 204L690.4 204L690.9 204L691.4 204L691.9 204L692.4 204L692.4 204Z" fill="#2f8a30" stroke="#237a25" stroke-width=".5"/>
<path d="M625.4 203.7H659.4" stroke="#888" stroke-width=".6" stroke-dasharray="1 1.5"/>
<path d="M668.9 168.2H693.4M668.9 168.2v-2v4M693.1 168.2v-2v4" stroke="#3b9a3b" stroke-width=".6" fill="none"/>
<text x="669.5" y="166.6" font-size="3.4" fill="#3b9a3b">P3(64.93%)</text>
<rect x="713.3" y="135.6" width="69" height="69" fill="none" stroke="#a8a8a8" stroke-width="0.9"/>
<path d="M713.3 204.6h1.4M713.3 200.3h1.4M713.3 196h1.4M713.3 191.7h1.4M713.3 187.3h1.4M713.3 183h1.4M713.3 178.7h1.4M713.3 174.4h1.4M713.3 170.1h1.4M713.3 165.8h1.4M713.3 161.5h1.4M713.3 157.2h1.4M713.3 152.8h1.4M713.3 148.5h1.4M713.3 144.2h1.4M713.3 139.9h1.4M713.3 135.6h1.4M713.3 204.6v-1.2M716.6 204.6v-1.2M719.9 204.6v-1.2M723.2 204.6v-1.2M726.4 204.6v-1.2M729.7 204.6v-1.2M733 204.6v-1.2M736.3 204.6v-1.2M739.6 204.6v-1.2M742.9 204.6v-1.2M746.2 204.6v-1.2M749.4 204.6v-1.2M752.7 204.6v-1.2M756 204.6v-1.2M759.3 204.6v-1.2M762.6 204.6v-1.2M765.9 204.6v-1.2M769.2 204.6v-1.2M772.4 204.6v-1.2M775.7 204.6v-1.2M779 204.6v-1.2M782.3 204.6v-1.2" stroke="#777" stroke-width=".5"/>
<text x="711.1" y="204.6" font-size="3.6" text-anchor="middle" fill="#666" transform="rotate(-90 711.1 204.6)">0</text>
<text x="711.1" y="170.1" font-size="3.6" text-anchor="middle" fill="#666" transform="rotate(-90 711.1 170.1)">100</text>
<text x="711.1" y="135.6" font-size="3.6" text-anchor="middle" fill="#666" transform="rotate(-90 711.1 135.6)">200</text>
<text x="707.7" y="170.1" font-size="3.6" text-anchor="middle" fill="#666" transform="rotate(-90 707.7 170.1)">Count</text>
<text x="717.3" y="209.6" font-size="3.6" text-anchor="middle" fill="#666">10<tspan font-size="70%" dy="-1.2">1</tspan></text>
<text x="733" y="209.6" font-size="3.6" text-anchor="middle" fill="#666">10<tspan font-size="70%" dy="-1.2">2</tspan></text>
<text x="748.8" y="209.6" font-size="3.6" text-anchor="middle" fill="#666">10<tspan font-size="70%" dy="-1.2">3</tspan></text>
<text x="764.5" y="209.6" font-size="3.6" text-anchor="middle" fill="#666">10<tspan font-size="70%" dy="-1.2">4</tspan></text>
<text x="780.3" y="209.6" font-size="3.6" text-anchor="middle" fill="#666">10<tspan font-size="70%" dy="-1.2">5</tspan></text>
<path d="M714.3 204L714.3 204L714.8 204L715.3 204L715.8 204L716.3 204L716.8 204L717.3 204L717.8 204L718.3 204L718.8 204L719.3 204L719.8 204L720.3 204L720.8 204L721.3 204L721.8 204L722.3 204L722.8 204L723.3 204L723.8 204L724.3 204L724.8 204L725.3 204L725.8 204L726.3 204L726.8 204L727.3 204L727.8 204L728.3 204L728.8 204L729.3 204L729.8 204L730.3 204L730.8 204L731.3 204L731.8 204L732.3 204L732.8 204L733.3 204L733.8 204L734.3 204L734.8 204L735.3 204L735.8 204L736.3 204L736.8 204L737.3 204L737.8 204L738.3 204L738.8 204L739.3 204L739.8 204L740.3 204L740.8 204L741.3 204L741.8 204L742.3 204L742.8 204L743.3 204L743.8 204L744.3 204L744.8 204L745.3 204L745.8 204L746.3 204L746.8 204L747.3 204L747.8 204L748.3 204L748.8 204L749.3 204L749.8 204L750.3 202.4L750.8 201.7L751.3 200.9L751.8 200.4L752.3 198.2L752.8 197L753.3 196.3L753.8 192.4L754.3 188.8L754.8 187.6L755.3 182.9L755.8 181.4L756.3 176.1L756.8 168L756.8 204Z" fill="#9c9c9c" stroke="#8c8c8c" stroke-width=".4"/>
<path d="M757.3 204L757.3 162L757.8 160.8L758.3 151.5L758.8 155.2L759.3 149L759.8 146.4L760.3 149.2L760.8 145L761.3 141.8L761.8 148L762.3 140L762.8 145.9L763.3 147.7L763.8 146.2L764.3 149.5L764.8 158.5L765.3 159L765.8 164.4L766.3 171.9L766.8 172.7L767.3 179.3L767.8 178.8L768.3 184.9L768.8 187.3L769.3 190L769.8 192.9L770.3 194.4L770.8 196.8L771.3 197.9L771.8 199.3L772.3 200.2L772.8 201.1L773.3 201.9L773.8 202.5L774.3 204L774.8 204L775.3 204L775.8 204L776.3 204L776.8 204L777.3 204L777.8 204L778.3 204L778.8 204L779.3 204L779.8 204L780.3 204L780.8 204L781.3 204L781.3 204Z" fill="#2f8a30" stroke="#237a25" stroke-width=".5"/>
<path d="M714.3 203.7H748.8" stroke="#888" stroke-width=".6" stroke-dasharray="1 1.5"/>
<path d="M757.1 168.2H782.3M757.1 168.2v-2v4M782 168.2v-2v4" stroke="#3b9a3b" stroke-width=".6" fill="none"/>
<text x="757.7" y="166.6" font-size="3.4" fill="#3b9a3b">P3(71.93%)</text>
<text x="208.1" y="108.1" font-size="11.3" text-anchor="middle" stroke="#1a1a1a" stroke-width="0.3">143B</text>
<line x1="57.5" y1="113" x2="365.5" y2="113" stroke="#3c3c3c" stroke-width="1.25"/>
<text x="613.3" y="107.8" font-size="11.3" text-anchor="middle" stroke="#1a1a1a" stroke-width="0.3">MG63</text>
<line x1="462" y1="113" x2="769.5" y2="113" stroke="#3c3c3c" stroke-width="1.25"/>
<text x="76" y="129.5" font-size="11.5" text-anchor="middle" stroke="#1a1a1a" stroke-width="0.3">Control</text>
<text x="480.6" y="129.5" font-size="11.5" text-anchor="middle" stroke="#1a1a1a" stroke-width="0.3">Control</text>
<text x="165.6" y="129.5" font-size="11.5" text-anchor="middle" stroke="#1a1a1a" stroke-width="0.3">5 μg/mL</text>
<text x="570.4" y="129.5" font-size="11.5" text-anchor="middle" stroke="#1a1a1a" stroke-width="0.3">5 μg/mL</text>
<text x="254" y="129.5" font-size="11.5" text-anchor="middle" stroke="#1a1a1a" stroke-width="0.3">10 μg/mL</text>
<text x="658.8" y="129.5" font-size="11.5" text-anchor="middle" stroke="#1a1a1a" stroke-width="0.3">10 μg/mL</text>
<text x="341.6" y="129.5" font-size="11.5" text-anchor="middle" stroke="#1a1a1a" stroke-width="0.3">20 μg/mL</text>
<text x="746.4" y="129.5" font-size="11.5" text-anchor="middle" stroke="#1a1a1a" stroke-width="0.3">20 μg/mL</text>
<path d="M22.8 224.1V176M22.1 223.4H116" stroke="#333" stroke-width="1.45" fill="none"/>
<path d="M22.8 171l-3.3 7.4h6.6zM121 223.4l-7.4 -3.3v6.6z" fill="#111"/>
<path d="M427.6 224.4V175.2M426.9 223.7H521" stroke="#333" stroke-width="1.45" fill="none"/>
<path d="M427.6 170.2l-3.3 7.4h6.6zM526 223.7l-7.4 -3.3v6.6z" fill="#111"/>
<text x="19.4" y="200.8" font-size="11.3" text-anchor="middle" transform="rotate(-90 19.4 200.8)" stroke="#1a1a1a" stroke-width="0.3">Count</text>
<text x="425.2" y="200.5" font-size="11.3" text-anchor="middle" transform="rotate(-90 425.2 200.5)" stroke="#1a1a1a" stroke-width="0.3">Count</text>
<text x="72.6" y="235.6" font-size="11.3" text-anchor="middle" stroke="#1a1a1a" stroke-width="0.3">DCFH-DA</text>
<text x="476.8" y="235.2" font-size="11.3" text-anchor="middle" stroke="#1a1a1a" stroke-width="0.3">DCFH-DA</text>
<path d="M115 303.4L115 302L115.6 300.9L116.2 301.2L116.8 301.7L117.4 301.8L118 300.7L118.6 299.7L119.2 301.9L119.8 301L120.4 301.1L121 302.7L121.6 300.7L122.2 299.1L122.8 301.8L123.4 301.7L124 300.7L124.6 298.6L125.2 298.9L125.8 301.4L126.4 300.1L127 299.2L127.6 299.6L128.2 300.8L128.8 298.7L129.4 298L130 296.7L130.6 293.1L131.2 290.9L131.8 287.7L132.4 284L133 280.3L133.6 276L134.2 275.4L134.8 270.1L135.4 270.6L136 266.7L136.6 266L137.2 262.4L137.8 263.3L138.4 262.8L139 262.3L139.6 261.3L140.2 261.8L140.8 262.4L141.4 263.3L142 265L142.6 269.3L143.2 271.7L143.8 272.6L144.4 279.2L145 281.7L145.6 287.6L146.2 290.4L146.8 293.9L147.4 296.2L148 298.8L148.6 300.5L149.2 301.8L149.8 302.4L150.4 302.9L151 303.1L151.6 303.3L152.2 303.4L152.8 303.4L153.4 303.4L154 303.4L154.6 303.4L155.2 303.4L155.8 303.4L155.8 303.4Z" fill="#f49a9a" fill-opacity="0.85" stroke="#e2474a" stroke-width=".7"/>
<path d="M46.3 303.4H181.8" stroke="#e2474a" stroke-width=".8"/>
<path d="M115 325.5L115 324.9L115.6 324.9L116.2 324.4L116.8 324.4L117.4 324.3L118 324.1L118.6 325.2L119.2 324.3L119.8 324.9L120.4 324L121 324.2L121.6 324.1L122.2 325.2L122.8 324.3L123.4 323.7L124 324.3L124.6 323.5L125.2 324L125.8 323.2L126.4 321.8L127 319.9L127.6 316.9L128.2 314.9L128.8 311.7L129.4 306.4L130 305.7L130.6 300.5L131.2 296.8L131.8 290.2L132.4 293.5L133 285.6L133.6 284.8L134.2 285.2L134.8 279.6L135.4 280.6L136 285.6L136.6 286.7L137.2 282.1L137.8 292.4L138.4 294.8L139 299.8L139.6 299.7L140.2 305.7L140.8 308.8L141.4 313.3L142 315.7L142.6 318.6L143.2 320.6L143.8 322.4L144.4 323.5L145 324.2L145.6 324.8L146.2 325.1L146.8 325.3L147.4 325.4L148 325.4L148.6 325.5L149.2 325.5L149.8 325.5L149.8 325.5Z" fill="#f7b673" fill-opacity="0.85" stroke="#ee9840" stroke-width=".7"/>
<path d="M46.3 325.5H181.8" stroke="#ee9840" stroke-width=".8"/>
<path d="M108.5 347.8L108.5 347.1L109.1 347.4L109.7 347.2L110.3 347.4L110.9 347.2L111.5 347.1L112.1 347.2L112.7 347.1L113.3 346.8L113.9 347.5L114.5 346.9L115.1 346.9L115.7 347.2L116.3 347.2L116.9 347L117.5 347L118.1 346.8L118.7 346.1L119.3 345.2L119.9 343.9L120.5 342.3L121.1 340.2L121.7 337.5L122.3 333.5L122.9 330.4L123.5 326.7L124.1 320.5L124.7 318.1L125.3 313.4L125.9 304.6L126.5 306.1L127.1 304.7L127.7 304.6L128.3 307.9L128.9 307.4L129.5 303.8L130.1 307.8L130.7 310.4L131.3 312.8L131.9 312.1L132.5 321.9L133.1 322.2L133.7 329L134.3 330.7L134.9 335.5L135.5 338.3L136.1 341.2L136.7 342.7L137.3 344.8L137.9 345.7L138.5 346.6L139.1 347.1L139.7 347.4L140.3 347.5L140.9 347.7L141.5 347.7L142.1 347.8L142.7 347.8L143.3 347.8L143.3 347.8Z" fill="#75b4f0" fill-opacity="0.85" stroke="#2a82e0" stroke-width=".7"/>
<path d="M46.3 347.8H181.8" stroke="#2a82e0" stroke-width=".8"/>
<path d="M100 369.8L100 369L100.6 369L101.2 369.1L101.8 369.3L102.4 369.4L103 368.9L103.6 369.3L104.2 369L104.8 369L105.4 368.3L106 368.8L106.6 368.3L107.2 368.6L107.8 369L108.4 368.7L109 368.6L109.6 367.9L110.2 367.4L110.8 367L111.4 366.9L112 366.3L112.6 364.8L113.2 363.9L113.8 363.5L114.4 361.6L115 361.6L115.6 359.5L116.2 358.8L116.8 354.7L117.4 354.1L118 353.4L118.6 349.5L119.2 348.5L119.8 346.8L120.4 343.2L121 343L121.6 342.8L122.2 340.8L122.8 336.6L123.4 339.9L124 335.3L124.6 334.7L125.2 335.6L125.8 334.3L126.4 336.9L127 335.1L127.6 338.3L128.2 337.4L128.8 342.6L129.4 341.9L130 346.2L130.6 346.2L131.2 349.9L131.8 351L132.4 353.6L133 356.3L133.6 359.2L134.2 360.7L134.8 362.6L135.4 363.4L136 365.5L136.6 366.1L137.2 367L137.8 367.4L138.4 368.1L139 368.5L139.6 369L140.2 369.2L140.8 369.4L141.4 369.5L142 369.6L142 369.8Z" fill="#cfcfcf" fill-opacity="0.85" stroke="#a9a9a9" stroke-width=".7"/>
<path d="M46.3 369.8H181.8" stroke="#a9a9a9" stroke-width=".8"/>
<path d="M88.5 392.2L88.5 392.2L89.1 392.2L89.7 392.2L90.3 392.2L90.9 392.2L91.5 392.2L92.1 392.2L92.7 392.2L93.3 392.2L93.9 392.2L94.5 392.1L95.1 392.1L95.7 391.9L96.3 391.7L96.9 391.3L97.5 390.6L98.1 389.8L98.7 388L99.3 385.4L99.9 384.1L100.5 381.2L101.1 376.3L101.7 375L102.3 371.7L102.9 370L103.5 367.7L104.1 372.9L104.7 367.4L105.3 372L105.9 375.1L106.5 378.2L107.1 380.8L107.7 383.3L108.3 384.8L108.9 387.2L109.5 389L110.1 390.2L110.7 391L111.3 391.5L111.9 391.7L112.5 392L113.1 392.1L113.7 392.1L114.3 392.2L114.3 392.2Z" fill="#8a8a8a" fill-opacity="1" stroke="#1e1e1e" stroke-width=".7"/>
<path d="M46.3 392.2H181.8" stroke="#1e1e1e" stroke-width=".8"/>
<text x="58.8" y="298" font-size="8.2" fill="#f0a0a0">20 μg/mL</text>
<text x="58.8" y="320.1" font-size="8.2" fill="#f5c090">10 μg/mL</text>
<text x="58.8" y="342.4" font-size="8.2" fill="#6aaae8">5 μg/mL</text>
<text x="58.8" y="364.4" font-size="8.2" fill="#c4c4c4">Control</text>
<text x="58.8" y="386.8" font-size="8.2" fill="#111">Blank</text>
<path d="M124.5 255.8V369.8" stroke="#333" stroke-width=".75" stroke-dasharray="3 1.8"/>
<rect x="46.3" y="255.8" width="135.5" height="136.4" fill="none" stroke="#9a9a9a" stroke-width="0.8"/>
<line x1="46.3" y1="392.2" x2="181.8" y2="392.2" stroke="#111" stroke-width="1.0"/>
<path d="M49.3 392.2v1.2M52.6 392.2v1.2M55.9 392.2v1.2M59.2 392.2v1.2M62.5 392.2v1.2M65.8 392.2v1.2M69.1 392.2v1.2M72.4 392.2v1.2M75.7 392.2v1.2M79 392.2v1.2M82.3 392.2v1.2M85.6 392.2v1.2M88.9 392.2v1.2M92.2 392.2v1.2M95.5 392.2v1.2M98.8 392.2v1.2M102.1 392.2v1.2M105.4 392.2v1.2M108.7 392.2v1.2M112 392.2v1.2M115.3 392.2v1.2M118.6 392.2v1.2M121.9 392.2v1.2M125.2 392.2v1.2M128.5 392.2v1.2M131.8 392.2v1.2M135.1 392.2v1.2M138.4 392.2v1.2M141.7 392.2v1.2M145 392.2v1.2M148.3 392.2v1.2M151.6 392.2v1.2M154.9 392.2v1.2M158.2 392.2v1.2M161.5 392.2v1.2M164.8 392.2v1.2M168.1 392.2v1.2M171.4 392.2v1.2M174.7 392.2v1.2M178 392.2v1.2M181.3 392.2v1.2M53.8 392.2v2.6M91 392.2v2.6M130.5 392.2v2.6M170.5 392.2v2.6" stroke="#222" stroke-width=".6"/>
<text x="53.8" y="401.8" font-size="5.0" text-anchor="middle" fill="#333">0</text>
<text x="91" y="401.8" font-size="5.0" text-anchor="middle" fill="#333">10<tspan font-size="70%" dy="-2">4</tspan></text>
<text x="130.5" y="401.8" font-size="5.0" text-anchor="middle" fill="#333">10<tspan font-size="70%" dy="-2">6</tspan></text>
<text x="170.5" y="401.8" font-size="5.0" text-anchor="middle" fill="#333">10<tspan font-size="70%" dy="-2">8</tspan></text>
<text x="40" y="321.5" font-size="11.3" text-anchor="middle" transform="rotate(-90 40 321.5)" stroke="#1a1a1a" stroke-width="0.3">143B</text>
<text x="112.5" y="414.4" font-size="8.4" text-anchor="middle">FL2-A: DHE PE-A</text>
<path d="M273 303L273 301.4L273.6 301.2L274.2 301.3L274.8 300.4L275.4 302.5L276 301.1L276.6 300.2L277.2 301L277.8 300.5L278.4 301L279 301L279.6 300.5L280.2 300.3L280.8 300.1L281.4 300.2L282 299.7L282.6 300.8L283.2 299.1L283.8 303L284.4 302.4L285 301.7L285.6 299.7L286.2 300.9L286.8 301L287.4 300.3L288 299.5L288.6 299.5L289.2 300.7L289.8 300L290.4 300.6L291 298.4L291.6 298.3L292.2 297.6L292.8 295.8L293.4 294.4L294 294.1L294.6 290.3L295.2 289.6L295.8 287.1L296.4 287.2L297 282.2L297.6 282.8L298.2 279.3L298.8 277.3L299.4 275.9L300 273.4L300.6 270.5L301.2 273.6L301.8 274.1L302.4 272.1L303 272.4L303.6 268.6L304.2 266.2L304.8 269.1L305.4 270.6L306 269.8L306.6 266.9L307.2 269.7L307.8 270.6L308.4 273.1L309 270.7L309.6 271.2L310.2 271L310.8 273L311.4 273L312 274.6L312.6 283L313.2 281.8L313.8 286.5L314.4 289.9L315 293.9L315.6 295.4L316.2 297.8L316.8 299.5L317.4 300.9L318 301.5L318.6 302.2L319.2 302.5L319.8 302.8L320.4 302.9L321 302.9L321.6 303L322.2 303L322.8 303L323.4 303L324 303L324.6 303L325.2 303L325.8 303L325.8 303Z" fill="#f49a9a" fill-opacity="0.85" stroke="#e2474a" stroke-width=".7"/>
<path d="M238 303H374.3" stroke="#e2474a" stroke-width=".8"/>
<path d="M272 326L272 325.3L272.6 324.8L273.2 324.8L273.8 324.6L274.4 324.8L275 324.3L275.6 324.9L276.2 324.8L276.8 324.8L277.4 325.4L278 324.4L278.6 324.8L279.2 324.9L279.8 324.9L280.4 325L281 324.5L281.6 324.1L282.2 324.5L282.8 324.5L283.4 324.4L284 324L284.6 323.5L285.2 322.3L285.8 321.9L286.4 320.1L287 318.8L287.6 317.2L288.2 315.9L288.8 312.9L289.4 311.4L290 310.2L290.6 304.6L291.2 303.4L291.8 299.6L292.4 295L293 296.8L293.6 295.2L294.2 290.4L294.8 286.9L295.4 288.1L296 282.5L296.6 287.8L297.2 283.1L297.8 278.5L298.4 282.6L299 279.5L299.6 289.6L300.2 281L300.8 284.1L301.4 283.4L302 287L302.6 287.3L303.2 290.5L303.8 288.3L304.4 294.8L305 301.7L305.6 301.8L306.2 306.1L306.8 307.1L307.4 310.8L308 314.3L308.6 316L309.2 318.1L309.8 319.8L310.4 321.5L311 322.7L311.6 323.5L312.2 324.2L312.8 324.8L313.4 325.2L314 325.4L314.6 325.6L315.2 325.8L315.8 325.8L316.4 325.9L317 325.9L317.6 326L318.2 326L318.2 326Z" fill="#f7b673" fill-opacity="0.85" stroke="#ee9840" stroke-width=".7"/>
<path d="M238 326H374.3" stroke="#ee9840" stroke-width=".8"/>
<path d="M271 348L271 346.9L271.6 347.2L272.2 347.3L272.8 347.3L273.4 346.8L274 346.9L274.6 347.4L275.2 346.9L275.8 347.5L276.4 346.8L277 346.5L277.6 346.7L278.2 346.5L278.8 346.8L279.4 346.7L280 346.8L280.6 347L281.2 346.6L281.8 347.3L282.4 346.5L283 346.8L283.6 346.2L284.2 346.6L284.8 345.6L285.4 345.1L286 343L286.6 341L287.2 339.8L287.8 337L288.4 333L289 329.1L289.6 324.3L290.2 323.1L290.8 318.4L291.4 317.9L292 312L292.6 311.5L293.2 309.3L293.8 310.3L294.4 306.6L295 307.3L295.6 305.8L296.2 311.5L296.8 308L297.4 306.3L298 305.4L298.6 309.9L299.2 307.5L299.8 312.7L300.4 311.5L301 314.8L301.6 315.3L302.2 317.2L302.8 321.6L303.4 326.7L304 332.3L304.6 333.6L305.2 337.8L305.8 340.4L306.4 342.2L307 344L307.6 345.5L308.2 346.4L308.8 347.1L309.4 347.5L310 347.7L310.6 347.8L311.2 347.9L311.8 348L312.4 348L313 348L313.6 348L314.2 348L314.8 348L315.4 348L316 348L316 348Z" fill="#75b4f0" fill-opacity="0.85" stroke="#2a82e0" stroke-width=".7"/>
<path d="M238 348H374.3" stroke="#2a82e0" stroke-width=".8"/>
<path d="M276 370.8L276 370.3L276.6 370.3L277.2 370.1L277.8 370.7L278.4 370.2L279 370.4L279.6 370.5L280.2 370.1L280.8 370.1L281.4 370.2L282 370.3L282.6 370.5L283.2 370.3L283.8 370L284.4 369.6L285 369L285.6 368.5L286.2 367L286.8 365.5L287.4 365.2L288 361.9L288.6 360.6L289.2 357.7L289.8 354.8L290.4 351L291 348.8L291.6 344.1L292.2 340.3L292.8 340.4L293.4 339L294 336.9L294.6 332.6L295.2 335.1L295.8 335.8L296.4 335.8L297 334.4L297.6 338.5L298.2 339L298.8 341.8L299.4 343.2L300 344.7L300.6 346.7L301.2 350.3L301.8 353.5L302.4 355.8L303 357.5L303.6 358.5L304.2 360.4L304.8 362.8L305.4 362.9L306 364.9L306.6 365.3L307.2 367L307.8 367.4L308.4 368.4L309 368.8L309.6 369.3L310.2 369.6L310.8 370L311.4 370.3L312 370.4L312.6 370.5L313.2 370.6L313.2 370.8Z" fill="#cfcfcf" fill-opacity="0.85" stroke="#a9a9a9" stroke-width=".7"/>
<path d="M238 370.8H374.3" stroke="#a9a9a9" stroke-width=".8"/>
<path d="M256 393L256 392.4L256.6 392.5L257.2 392.6L257.8 392.6L258.4 392.4L259 392.7L259.6 392.3L260.2 392.5L260.8 392.2L261.4 392.2L262 392.4L262.6 392.4L263.2 392.3L263.8 392L264.4 391.7L265 391.4L265.6 390.9L266.2 390.6L266.8 389.3L267.4 388.4L268 387.6L268.6 386.7L269.2 384.9L269.8 383.8L270.4 381.9L271 380.2L271.6 378.2L272.2 376.2L272.8 376L273.4 371.9L274 369.3L274.6 362.5L275.2 363.3L275.8 360.8L276.4 361.1L277 356.7L277.6 352.3L278.2 352L278.8 355L279.4 352.4L280 352.1L280.6 353.7L281.2 351.6L281.8 352.3L282.4 355.1L283 360.7L283.6 356.6L284.2 361.5L284.8 361L285.4 363.7L286 367.3L286.6 371.2L287.2 372.6L287.8 375.3L288.4 378.5L289 378.7L289.6 381L290.2 381.6L290.8 385.2L291.4 385L292 386.1L292.6 387.7L293.2 388.7L293.8 389.3L294.4 389.9L295 390.5L295.6 391.2L296.2 391.6L296.8 391.9L297.4 392.1L298 392.3L298.6 392.5L299.2 392.6L299.8 392.7L299.8 393Z" fill="#8a8a8a" fill-opacity="1" stroke="#1e1e1e" stroke-width=".7"/>
<path d="M238 393H374.3" stroke="#1e1e1e" stroke-width=".8"/>
<text x="335" y="297.6" font-size="8.2" fill="#f0a0a0">20 μg/mL</text>
<text x="335" y="320.6" font-size="8.2" fill="#f5c090">10 μg/mL</text>
<text x="335" y="342.6" font-size="8.2" fill="#6aaae8">5 μg/mL</text>
<text x="335" y="365.4" font-size="8.2" fill="#c4c4c4">Control</text>
<text x="335" y="387.6" font-size="8.2" fill="#111">Blank</text>
<path d="M293 255.8V370.8" stroke="#333" stroke-width=".75" stroke-dasharray="3 1.8"/>
<rect x="238" y="255.8" width="136.3" height="137.2" fill="none" stroke="#9a9a9a" stroke-width="0.8"/>
<line x1="238" y1="393" x2="374.3" y2="393" stroke="#111" stroke-width="1.0"/>
<path d="M241 393v1.2M244.3 393v1.2M247.6 393v1.2M250.9 393v1.2M254.2 393v1.2M257.5 393v1.2M260.8 393v1.2M264.1 393v1.2M267.4 393v1.2M270.7 393v1.2M274 393v1.2M277.3 393v1.2M280.6 393v1.2M283.9 393v1.2M287.2 393v1.2M290.5 393v1.2M293.8 393v1.2M297.1 393v1.2M300.4 393v1.2M303.7 393v1.2M307 393v1.2M310.3 393v1.2M313.6 393v1.2M316.9 393v1.2M320.2 393v1.2M323.5 393v1.2M326.8 393v1.2M330.1 393v1.2M333.4 393v1.2M336.7 393v1.2M340 393v1.2M343.3 393v1.2M346.6 393v1.2M349.9 393v1.2M353.2 393v1.2M356.5 393v1.2M359.8 393v1.2M363.1 393v1.2M366.4 393v1.2M369.7 393v1.2M373 393v1.2M247 393v2.6M271 393v2.6M296.2 393v2.6M321.4 393v2.6M346.6 393v2.6M371.8 393v2.6" stroke="#222" stroke-width=".6"/>
<text x="247" y="402.6" font-size="5.0" text-anchor="middle" fill="#333">0</text>
<text x="271" y="402.6" font-size="5.0" text-anchor="middle" fill="#333">10<tspan font-size="70%" dy="-2">5</tspan></text>
<text x="296.2" y="402.6" font-size="5.0" text-anchor="middle" fill="#333">10<tspan font-size="70%" dy="-2">6</tspan></text>
<text x="321.4" y="402.6" font-size="5.0" text-anchor="middle" fill="#333">10<tspan font-size="70%" dy="-2">7</tspan></text>
<text x="346.6" y="402.6" font-size="5.0" text-anchor="middle" fill="#333">10<tspan font-size="70%" dy="-2">8</tspan></text>
<text x="371.8" y="402.6" font-size="5.0" text-anchor="middle" fill="#333">10<tspan font-size="70%" dy="-2">9</tspan></text>
<text x="228.8" y="322" font-size="11.3" text-anchor="middle" transform="rotate(-90 228.8 322)" stroke="#1a1a1a" stroke-width="0.3">MG63</text>
<text x="309.4" y="415.3" font-size="8.4" text-anchor="middle">FL2-A: DHE PE-A</text>
<rect x="43.8" y="455.6" width="69" height="69.3" fill="none" stroke="#b4b4b4" stroke-width="0.8"/>
<text x="41.8" y="525.9" font-size="3.4" text-anchor="end" fill="#666">10<tspan font-size="70%" dy="-1.2">0</tspan></text>
<text x="41.8" y="512.2" font-size="3.4" text-anchor="end" fill="#666">10<tspan font-size="70%" dy="-1.2">1</tspan></text>
<text x="41.8" y="498.6" font-size="3.4" text-anchor="end" fill="#666">10<tspan font-size="70%" dy="-1.2">2</tspan></text>
<text x="41.8" y="484.9" font-size="3.4" text-anchor="end" fill="#666">10<tspan font-size="70%" dy="-1.2">3</tspan></text>
<text x="41.8" y="471.3" font-size="3.4" text-anchor="end" fill="#666">10<tspan font-size="70%" dy="-1.2">4</tspan></text>
<text x="41.8" y="457.6" font-size="3.4" text-anchor="end" fill="#666">10<tspan font-size="70%" dy="-1.2">5</tspan></text>
<text x="43.8" y="529.5" font-size="3.4" text-anchor="middle" fill="#666">10<tspan font-size="70%" dy="-1.2">0</tspan></text>
<text x="57.4" y="529.5" font-size="3.4" text-anchor="middle" fill="#666">10<tspan font-size="70%" dy="-1.2">1</tspan></text>
<text x="71" y="529.5" font-size="3.4" text-anchor="middle" fill="#666">10<tspan font-size="70%" dy="-1.2">2</tspan></text>
<text x="84.6" y="529.5" font-size="3.4" text-anchor="middle" fill="#666">10<tspan font-size="70%" dy="-1.2">3</tspan></text>
<text x="98.2" y="529.5" font-size="3.4" text-anchor="middle" fill="#666">10<tspan font-size="70%" dy="-1.2">4</tspan></text>
<text x="111.8" y="529.5" font-size="3.4" text-anchor="middle" fill="#666">10<tspan font-size="70%" dy="-1.2">5</tspan></text>
<path d="M43.8 455.6V524.9H112.8M43.8 524.9h1.6M43.8 522.2h.8M43.8 519.4h.8M43.8 516.7h.8M43.8 514h.8M43.8 511.2h1.6M43.8 508.5h.8M43.8 505.8h.8M43.8 503h.8M43.8 500.3h.8M43.8 497.6h1.6M43.8 494.8h.8M43.8 492.1h.8M43.8 489.4h.8M43.8 486.7h.8M43.8 483.9h1.6M43.8 481.2h.8M43.8 478.5h.8M43.8 475.7h.8M43.8 473h.8M43.8 470.3h1.6M43.8 467.5h.8M43.8 464.8h.8M43.8 462.1h.8M43.8 459.3h.8M43.8 456.6h1.6M43.8 524.9v-1.6M46.5 524.9v-.8M49.2 524.9v-.8M52 524.9v-.8M54.7 524.9v-.8M57.4 524.9v-1.6M60.1 524.9v-.8M62.8 524.9v-.8M65.6 524.9v-.8M68.3 524.9v-.8M71 524.9v-1.6M73.7 524.9v-.8M76.4 524.9v-.8M79.2 524.9v-.8M81.9 524.9v-.8M84.6 524.9v-1.6M87.3 524.9v-.8M90 524.9v-.8M92.8 524.9v-.8M95.5 524.9v-.8M98.2 524.9v-1.6M100.9 524.9v-.8M103.6 524.9v-.8M106.4 524.9v-.8M109.1 524.9v-.8M111.8 524.9v-1.6" stroke="#707070" stroke-width=".5" fill="none"/>
<path transform="scale(.5)" d="M208 925h0m-4 1h0m-19 8h0m-9 1h0m-14-6h0m-12 8h0m1 2h0m21 1h0m5 6h0m0-8h0m1 9h0m0-7h0m-30 14h0m-2-1h0m-6 18h0m34-10h0m6-1h0m-8 22h0m-26-2h0m3 4h0m25 2h0m15-1h0m-55 14h0m1 15h0m27-3h0" stroke="#787dfc" stroke-width="1.5" stroke-linecap="square"/>
<path transform="scale(.5)" d="M161 945h0m7-2h0m3 3h0m0 0h0m2-6h0m1 3h0m1 2h0m0-4h0m0 0h0m1 0h0m0 3h0m-1 10h0m0 1h0m-1 0h0m0-4h0m0 4h0m-17-6h0m0 0h0m-3 0h0m-8 9h0m-2 10h0m1 0h0m3-6h0m15 7h0m0 1h0m5-6h0m0 2h0m2-3h0m2-3h0m-11 13h0m-5 1h0m-3 3h0m-4 0h0m-3-5h0m0 1h0m0 1h0m-1 1h0m-1-2h0" stroke="#4f60f9" stroke-width="1.5" stroke-linecap="square"/>
<path transform="scale(.5)" d="M163 945h0m0-1h0m5 1h0m0 1h0m0 0h0m2-1h0m0-1h0m0 0h0m3 9h0m0 0h0m0 6h0m0-9h0m-1 2h0m0-2h0m0-1h0m-1 4h0m0-3h0m0 6h0m0-4h0m-10-2h0m-1-1h0m0 0h0m-6 7h0m-3 2h0m0 1h0m-1-1h0m-5 12h0m1-1h0m0-5h0m0 4h0m0-1h0m1 0h0m0 2h0m1 1h0m0-7h0m0 2h0m0 4h0m0-4h0m10 5h0m3 0h0m0 1h0m5-5h0m1 2h0m-13 5h0m0 2h0m-1 0h0m0-1h0m-1-1h0m-1-1h0m-1 0h0m-1 1h0m0 1h0" stroke="#3256f8" stroke-width="1.5" stroke-linecap="square"/>
<path transform="scale(.5)" d="M162 947h0m0-1h0m1 1h0m1 0h0m0 0h0m6 0h0m2 8h0m0-1h0m0 1h0m-1 0h0m-1-6h0m-1-1h0m-1 0h0m-1 1h0m0-1h0m0 1h0m0-1h0m-1 1h0m0 0h0m0-1h0m-1 2h0m0-1h0m0 0h0m0 0h0m-1-1h0m0 1h0m0 0h0m0-1h0m-1 0h0m0 0h0m0 0h0m-1 0h0m-4 3h0m0 1h0m-1 0h0m-1 0h0m-7 19h0m0-1h0m0 1h0m1 0h0m1-9h0m0 7h0m0-9h0m0 2h0m1 8h0m0-9h0m0 8h0m0-9h0m1 11h0m0-2h0m0 1h0m0 0h0m0-1h0m1 1h0m0-1h0m0 0h0m1 1h0m0 0h0m2 1h0m0-1h0m4-4h0m1 1h0m0 0h0m0 0h0m3-2h0m0-2h0m0 0h0m-10 9h0m-5 0h0m-1 0h0" stroke="#2567f9" stroke-width="1.5" stroke-linecap="square"/>
<path transform="scale(.5)" d="M170 952h0m0-2h0m0 0h0m0 1h0m-1 1h0m0 7h0m0-3h0m0-5h0m0-1h0m0 3h0m0-2h0m0 8h0m-1-2h0m0-4h0m0-2h0m0 6h0m0 0h0m0 0h0m0-6h0m0 7h0m0-6h0m0-1h0m0 6h0m-7-6h0m0 2h0m0-3h0m0 1h0m-1 0h0m0-1h0m0 1h0m0 1h0m-1-1h0m-4 7h0m-1 0h0m0-1h0m0 1h0m-1-1h0m-4 8h0m0 0h0m0-1h0m0-1h0m0 5h0m1-3h0m0 2h0m1 0h0m0-3h0m0 0h0m0 0h0m0 3h0m0-4h0m0 1h0m0 3h0m0-3h0m7 4h0m0-1h0m0 0h0m0-1h0m1 2h0m0 0h0m1-2h0m0 1h0m0 2h0m1-2h0" stroke="#1978fa" stroke-width="1.5" stroke-linecap="square"/>
<path transform="scale(.5)" d="M171 956h0m-1-3h0m0 2h0m0 0h0m0-1h0m-1 0h0m0 2h0m0-1h0m0-2h0m-1 1h0m0 1h0m0-1h0m0 1h0m0 0h0m-1 4h0m0-8h0m0-1h0m0 3h0m0-2h0m-1 1h0m0-1h0m0 2h0m0 0h0m0-2h0m-1-1h0m0 2h0m0-2h0m0 1h0m0 2h0m-1-1h0m0 1h0m0-2h0m0 1h0m0-2h0m-1 2h0m-1 0h0m0-1h0m0 1h0m-4 3h0m0-1h0m0 0h0m-1 1h0m0-1h0m0 1h0m0-2h0m-1 2h0m-1 1h0m0-3h0m0 2h0m-3 11h0m0 2h0m0-1h0m0 1h0m0-2h0m0-4h0m0 5h0m1-1h0m0 0h0m0 2h0m0 1h0m0-1h0m0-8h0m0 8h0m1-6h0m0 4h0m0 1h0m0 0h0m0-5h0m0 5h0m0-5h0m0-2h0m0 8h0m0-1h0m0-6h0m0 5h0m0-4h0m1 4h0m0 0h0m1 1h0m0 0h0m0 0h0m1 0h0m0 1h0m0-1h0m0 0h0m1 0h0m0 0h0m0-1h0m3-2h0m0-1h0m0 1h0m1 1h0m0-1h0m0 0h0m0 1h0m0-2h0m1-1h0m0 2h0m0 0h0m0 0h0m2-2h0m0 0h0m0 0h0m0 0h0m0-2h0m0 0h0m0 0h0m1 1h0m0 1h0m1-2h0m0 0h0m0 2h0" stroke="#159aed" stroke-width="1.5" stroke-linecap="square"/>
<path transform="scale(.5)" d="M167 957h0m0-1h0m0 3h0m0-3h0m0 2h0m0 0h0m-1-2h0m0 1h0m0 0h0m0-1h0m0 1h0m0 0h0m0-1h0m0 2h0m-1 0h0m0 0h0m-7 0h0m0 0h0m0 1h0m-1 0h0m0 0h0m0-1h0m0 1h0m0 0h0m0-1h0m0 0h0m-1-2h0m0 0h0m0 1h0m0 2h0m0-2h0m0 2h0m0 0h0m-1-2h0m0 2h0m0-2h0m0 1h0m0 0h0m-3 6h0m0 1h0m0-1h0m1 2h0m0-2h0m0 1h0m0 0h0m0 0h0m0-3h0m0 1h0m0 2h0m1-2h0m0 2h0m0-2h0m0 2h0m0-2h0m0 1h0m0-1h0m0 0h0m0 0h0m0 0h0m0 0h0m0 1h0m1 2h0m3-1h0m0-2h0m1 1h0m0-1h0m0 0h0m0 0h0m0 0h0m0 2h0m0-1h0m0 1h0m0 0h0m0-1h0m0-1h0m0 1h0m1 1h0m0 0h0m0-2h0m0 0h0m0 0h0m1 0h0m0 0h0m0 2h0" stroke="#17bace" stroke-width="1.5" stroke-linecap="square"/>
<path transform="scale(.5)" d="M168 954h0m0 1h0m0-2h0m-1 0h0m0 2h0m0-2h0m0 0h0m0 1h0m0-1h0m0 1h0m0 2h0m-1-2h0m0 2h0m0 0h0m0 0h0m0-3h0m0 0h0m0 1h0m0-1h0m0 1h0m0 2h0m0 0h0m-1 0h0m0-1h0m0 0h0m0-2h0m0 1h0m0 0h0m0 0h0m-1 1h0m0-1h0m0 2h0m0-3h0m0 3h0m0-2h0m-1 1h0m0 4h0m0-6h0m0 2h0m0-1h0m0 5h0m0-4h0m0 0h0m0 0h0m0-1h0m0 1h0m0 0h0m-1 0h0m0-2h0m0 3h0m0 3h0m0-5h0m0 0h0m0-1h0m0 0h0m0 2h0m0 1h0m0-1h0m0-1h0m0 0h0m-1 0h0m0 0h0m0 0h0m0 2h0m-1-3h0m0 1h0m0 1h0m0-2h0m0 3h0m0-2h0m-1-1h0m0 1h0m0 0h0m0 1h0m0-1h0m0 1h0m-1 0h0m0 1h0m0-1h0m0-2h0m-1 6h0m-1 0h0m-1 4h0m0 2h0m0-1h0m0 0h0m0-2h0m1 2h0m0-2h0m0 1h0m0 0h0m0-3h0m0 1h0m0-1h0m0 1h0m0 2h0m0-3h0m0 4h0m0-2h0m0 3h0m0 0h0m0-3h0m0 2h0m0 1h0m0-2h0m0 1h0m0 1h0m0-2h0m1-3h0m0 1h0m0-1h0m0 1h0m0 0h0m0 2h0m0 1h0m0 1h0m0-4h0m0 0h0m0 0h0m0 1h0m0 3h0m1-4h0m0 4h0m0-5h0m0 4h0m3-4h0m0 0h0m0 0h0m1 1h0m0 0h0m0 0h0m0-1h0m0 0h0m1 0h0m0 2h0m0-1h0m0-1h0m0 0h0m1 1h0m0 0h0m0-1h0m0 0h0m0 1h0" stroke="#2bd591" stroke-width="1.5" stroke-linecap="square"/>
<path transform="scale(.5)" d="M164 957h0m0 1h0m0 0h0m0 1h0m0-3h0m0 2h0m0-1h0m0 1h0m-1-1h0m0 1h0m0-1h0m0 0h0m0-1h0m0 2h0m0-2h0m0 3h0m0-3h0m-1 1h0m0 1h0m0 1h0m0 0h0m0-2h0m0 0h0m0 1h0m-1 1h0m0-1h0m0-2h0m0 3h0m0-3h0m0 3h0m0-1h0m0 1h0m0 0h0m0 0h0m0 0h0m0-3h0m0 3h0m-1-3h0m0 0h0m0 0h0m0 3h0m0-2h0m0 0h0m0 2h0m0-2h0m0 2h0m0-3h0m0 3h0m-1-3h0m0 1h0m0 2h0m0-2h0m0-1h0m0 1h0m0 2h0m0-2h0m0 0h0m0 1h0m0-1h0m0 1h0m-1 0h0m0-2h0m0 1h0m0 2h0m0 2h0m0 0h0m0 0h0m0 1h0m1-2h0m0 0h0m0 2h0m0-1h0m1 1h0m0-1h0m0 0h0m0 0h0m1 0h0m0-1h0" stroke="#6ee646" stroke-width="1.5" stroke-linecap="square"/>
<path d="M68.8 502.6V460H102.6V475.8Z" fill="none" stroke="#f07c7c" stroke-width=".45"/>
<path d="M68.8 502.6V523.8H102.6V475.8" fill="none" stroke="#78bc78" stroke-width=".45"/>
<path d="M68.8 502.6L102.6 475.8" stroke="#9a9672" stroke-width=".45"/>
<text x="69.8" y="463.6" font-size="3.3" fill="#e03030">JC-1 red(98.23%)</text>
<text x="69.8" y="522.8" font-size="3.3" fill="#3a9a3a">JC-1 green(1.71%)</text>
<text x="76.2" y="449.6" font-size="11.5" text-anchor="middle" stroke="#1a1a1a" stroke-width="0.3">Control</text>
<rect x="132.2" y="455.6" width="69" height="69.3" fill="none" stroke="#b4b4b4" stroke-width="0.8"/>
<text x="130.2" y="525.9" font-size="3.4" text-anchor="end" fill="#666">10<tspan font-size="70%" dy="-1.2">0</tspan></text>
<text x="130.2" y="512.2" font-size="3.4" text-anchor="end" fill="#666">10<tspan font-size="70%" dy="-1.2">1</tspan></text>
<text x="130.2" y="498.6" font-size="3.4" text-anchor="end" fill="#666">10<tspan font-size="70%" dy="-1.2">2</tspan></text>
<text x="130.2" y="484.9" font-size="3.4" text-anchor="end" fill="#666">10<tspan font-size="70%" dy="-1.2">3</tspan></text>
<text x="130.2" y="471.3" font-size="3.4" text-anchor="end" fill="#666">10<tspan font-size="70%" dy="-1.2">4</tspan></text>
<text x="130.2" y="457.6" font-size="3.4" text-anchor="end" fill="#666">10<tspan font-size="70%" dy="-1.2">5</tspan></text>
<text x="132.2" y="529.5" font-size="3.4" text-anchor="middle" fill="#666">10<tspan font-size="70%" dy="-1.2">0</tspan></text>
<text x="145.8" y="529.5" font-size="3.4" text-anchor="middle" fill="#666">10<tspan font-size="70%" dy="-1.2">1</tspan></text>
<text x="159.4" y="529.5" font-size="3.4" text-anchor="middle" fill="#666">10<tspan font-size="70%" dy="-1.2">2</tspan></text>
<text x="173" y="529.5" font-size="3.4" text-anchor="middle" fill="#666">10<tspan font-size="70%" dy="-1.2">3</tspan></text>
<text x="186.6" y="529.5" font-size="3.4" text-anchor="middle" fill="#666">10<tspan font-size="70%" dy="-1.2">4</tspan></text>
<text x="200.2" y="529.5" font-size="3.4" text-anchor="middle" fill="#666">10<tspan font-size="70%" dy="-1.2">5</tspan></text>
<path d="M132.2 455.6V524.9H201.2M132.2 524.9h1.6M132.2 522.2h.8M132.2 519.4h.8M132.2 516.7h.8M132.2 514h.8M132.2 511.2h1.6M132.2 508.5h.8M132.2 505.8h.8M132.2 503h.8M132.2 500.3h.8M132.2 497.6h1.6M132.2 494.8h.8M132.2 492.1h.8M132.2 489.4h.8M132.2 486.7h.8M132.2 483.9h1.6M132.2 481.2h.8M132.2 478.5h.8M132.2 475.7h.8M132.2 473h.8M132.2 470.3h1.6M132.2 467.5h.8M132.2 464.8h.8M132.2 462.1h.8M132.2 459.3h.8M132.2 456.6h1.6M132.2 524.9v-1.6M134.9 524.9v-.8M137.6 524.9v-.8M140.4 524.9v-.8M143.1 524.9v-.8M145.8 524.9v-1.6M148.5 524.9v-.8M151.2 524.9v-.8M154 524.9v-.8M156.7 524.9v-.8M159.4 524.9v-1.6M162.1 524.9v-.8M164.8 524.9v-.8M167.6 524.9v-.8M170.3 524.9v-.8M173 524.9v-1.6M175.7 524.9v-.8M178.4 524.9v-.8M181.2 524.9v-.8M183.9 524.9v-.8M186.6 524.9v-1.6M189.3 524.9v-.8M192 524.9v-.8M194.8 524.9v-.8M197.5 524.9v-.8M200.2 524.9v-1.6" stroke="#707070" stroke-width=".5" fill="none"/>
<path transform="scale(.5)" d="M383 935h0m-6-5h0m-7 3h0m-1-1h0m-10 0h0m-25-2h0m-6-3h0m-15-1h0m-7 1h0m-1 4h0m10 12h0m22-7h0m8 0h0m7 10h0m2-6h0m2 6h0m12 1h0m4-1h0m-5 2h0m-39 5h0m-1-1h0m0 7h0m-4-11h0m-2 1h0m-6 1h0m-4 10h0m24 4h0m-11 16h0m11 9h0m36 4h0m1 5h0m-1 6h0m-32-5h0m-20 7h0m-5 5h0m31 3h0m8-6h0m9 0h0m0 0h0m0 0h0m2 14h0m-3 9h0m-16-9h0m-30 6h0m-3-4h0m45 8h0" stroke="#787dfc" stroke-width="1.5" stroke-linecap="square"/>
<path transform="scale(.5)" d="M331 932h0m-2 0h0m0 3h0m-3-2h0m-1-6h0m0 1h0m-2 2h0m-1-1h0m-1 0h0m-1 0h0m-1 0h0m-3 1h0m-4 2h0m-2-1h0m-1 3h0m2 6h0m0-3h0m0-1h0m1 1h0m2 6h0m1-4h0m4-2h0m0 0h0m1 6h0m1 0h0m0-5h0m2 5h0m0-2h0m2 2h0m4-2h0m1 3h0m0-3h0m0-5h0m0 6h0m1-6h0m1 5h0m0 2h0m0-7h0m0 2h0m1 7h0m0-5h0m1 4h0m2 3h0m0-9h0m0 7h0m3 1h0m0-1h0m1-3h0m0 2h0m0-1h0m2 3h0m0 1h0m2-4h0m2 3h0m1 1h0m0 0h0m1 0h0m3 0h0m8 0h0m1 2h0m-1 2h0m-1-1h0m-1 2h0m0 0h0m-1-4h0m-3 4h0m0 0h0m-1 1h0m-6 0h0m-1 1h0m0 2h0m0-6h0m-1-1h0m0 5h0m-1 0h0m-1-6h0m0 3h0m-1-2h0m0 10h0m-1-8h0m0 1h0m0-3h0m0 3h0m0 0h0m-1 0h0m-1-2h0m0 8h0m0-8h0m-1 2h0m0 4h0m0-8h0m0 2h0m0 8h0m0-3h0m0-4h0m-1-3h0m-1 2h0m-1 6h0m0-4h0m0-1h0m-1-1h0m-3-2h0m6 14h0m0-2h0m1 1h0m5 1h0m0-2h0m2 8h0m0-6h0m1 1h0m0 2h0m1-1h0m1-3h0m0 0h0m0-1h0m20 1h0m2-1h0m4 4h0m0 8h0m-1 8h0m-25-5h0m-2 2h0m1 13h0m1 0h0m0-1h0m2 2h0m0-6h0m1 6h0m0-3h0m2 3h0m1 1h0m1 3h0m11 0h0m6-8h0m-4 14h0m-2-5h0m0 1h0m-1 3h0m-1 2h0m0-1h0m-2 0h0m-3 4h0m-1-6h0m0-3h0m-1 7h0m0 2h0m-1-7h0m0 6h0m0-6h0m-1-2h0m0 8h0m-1 0h0m2 4h0m3 0h0" stroke="#4f60f9" stroke-width="1.5" stroke-linecap="square"/>
<path transform="scale(.5)" d="M328 934h0m0 1h0m-1-1h0m-1 1h0m-1 0h0m-1-1h0m0-3h0m-1 2h0m0 2h0m0-3h0m-1 3h0m-1 0h0m0 0h0m-1-4h0m0 0h0m-1 3h0m0-2h0m-1-2h0m0 4h0m0-1h0m0 2h0m0-2h0m-1 2h0m0-2h0m0-2h0m0 0h0m-1 3h0m0-1h0m-1-2h0m0 2h0m0-1h0m0 0h0m0 2h0m-1-2h0m0 2h0m0 0h0m-1-2h0m0 0h0m0 1h0m0 2h0m0-1h0m0 2h0m10 2h0m0 0h0m0 2h0m0-1h0m2-1h0m0-1h0m0 0h0m1 2h0m0 0h0m0-1h0m1-2h0m1 3h0m38 19h0m-1-1h0m0-1h0m-1 0h0m0 3h0m-4-3h0m-5-1h0m-1 1h0m0 0h0m-3 3h0m0-5h0m-1 4h0m0 0h0m0-4h0m-1 3h0m0 0h0m0-2h0m0-1h0m-1 7h0m0 8h0m1-3h0m0-2h0m0-2h0m0 1h0m1 0h0m0-3h0m0 1h0m1 7h0m0 0h0m16-2h0m1 5h0m1-1h0m0-6h0m1 3h0m-1 5h0m-2 0h0m-16 4h0m-1-4h0m0 8h0m0-1h0m0-2h0m-1-4h0m0 6h0m0-4h0m-1 0h0m0-1h0m0 1h0m0 3h0m3 7h0m0 2h0m4 7h0m1-2h0m1 1h0m2 2h0m2-1h0m4-2h0m1 0h0m1-3h0m0-1h0m0-1h0m1 3h0m1-2h0m-6 13h0m0-5h0m-1 2h0m0 0h0m0 1h0m0-3h0m-1 2h0m0 1h0m-1 0h0m-1 0h0m0-3h0m-1 3h0m0 0h0" stroke="#3256f8" stroke-width="1.5" stroke-linecap="square"/>
<path transform="scale(.5)" d="M363 958h0m0-1h0m-1 2h0m0-1h0m-1-1h0m0 1h0m0-1h0m0 2h0m-1-1h0m-3-1h0m-1 0h0m0 0h0m-1 2h0m-1-2h0m-2 0h0m0 1h0m-1 0h0m0-2h0m13 6h0m0-2h0m0 2h0m3-2h0m3 23h0m0-3h0m-1-1h0m0 2h0m0-1h0m0 3h0m0-6h0m-1 5h0m0-8h0m0-2h0m0 7h0m0-5h0m-1 4h0m0 1h0m0-4h0m0 2h0m0 4h0m-14 1h0m-1 1h0m0 1h0m1 0h0m0 1h0m1 5h0m1-2h0m0 0h0m1 0h0m0 1h0m0 0h0m2 5h0m1-2h0m1 1h0m0 1h0m1-2h0m0-1h0m1 0h0m1 1h0m0-1h0m2-2h0m0-1h0m1 3h0m0-1h0m1-6h0" stroke="#2567f9" stroke-width="1.5" stroke-linecap="square"/>
<path transform="scale(.5)" d="M360 958h0m0-1h0m0 2h0m0 0h0m-1-2h0m0 1h0m-1 0h0m0 0h0m-1 1h0m0-1h0m-6 11h0m0-2h0m1-5h0m0 3h0m0-4h0m0 0h0m0 2h0m0-3h0m1 6h0m0 0h0m0-3h0m0 6h0m0-6h0m0 2h0m1 0h0m0 3h0m0-2h0m10 2h0m0-2h0m0 2h0m1-5h0m0 4h0m1-4h0m0 0h0m0 5h0m-1 15h0m0-1h0m-1 0h0m0 0h0m0 1h0m-7-1h0m-2 1h0m-1-5h0m0 3h0m0-6h0m0 8h0m0-5h0m-1-2h0m0 2h0m0 3h0m0-1h0m0-6h0m0 0h0m0 1h0m-1 5h0m0-2h0m0-4h0m0 4h0m0 2h0m0-4h0m-1-2h0m0 5h0m0-1h0m0-5h0m0 3h0m0 5h0m3 5h0m0 2h0m0-3h0m1-1h0m0 4h0m0-1h0m0-1h0m1-1h0m0 0h0m1-1h0m0 4h0m0-3h0m0-1h0m1 6h0m0-1h0m1-1h0m0 0h0m0 1h0m0 1h0m0-2h0m1 0h0m1 3h0m0 0h0m1-1h0m0-2h0m0 2h0m1-1h0m0-1h0m0 0h0m1-1h0m0-2h0m0 0h0m0 0h0m0 3h0m1-4h0m0 1h0m0 0h0m0 3h0m0-3h0m0 2h0m0-2h0m1 2h0m1-3h0" stroke="#1978fa" stroke-width="1.5" stroke-linecap="square"/>
<path transform="scale(.5)" d="M357 959h0m-6 10h0m0 0h0m1 0h0m1 2h0m0-2h0m0 2h0m1-1h0m0 0h0m0-10h0m1 2h0m0-1h0m0 1h0m0 0h0m0-2h0m0 1h0m0-1h0m0 1h0m0-1h0m1 2h0m0 0h0m1-1h0m0-1h0m0 1h0m0 0h0m0 1h0m1 0h0m0-1h0m0-1h0m1 0h0m0 2h0m1 0h0m0 0h0m0 0h0m1 0h0m0-2h0m0 0h0m0 2h0m0-1h0m1 1h0m1 0h0m0-2h0m1 10h0m1 1h0m0-1h0m0 0h0m0 1h0m2-2h0m0 8h0m0-4h0m-1 0h0m0 4h0m0 1h0m0-1h0m0 4h0m0-4h0m0-2h0m-1 6h0m0-4h0m0-2h0m0 1h0m0 1h0m0-5h0m0 1h0m-1 8h0m0-1h0m0-3h0m0 0h0m0 1h0m0-6h0m0 4h0m0 3h0m0-1h0m0-6h0m-1 10h0m-1 0h0m-1 1h0m0-1h0m-1 1h0m-1 0h0m-1 0h0m-1-3h0m0 1h0m-1 0h0m0 0h0m0-1h0m0 0h0m0 1h0m0-1h0m-1-1h0m0 0h0m0 2h0m0 1h0m-1-1h0m0-2h0m3 9h0m0-2h0m1 0h0m0-2h0m0 2h0m0 2h0m0-4h0m1 4h0m0-2h0m0 0h0m1 2h0m0-3h0m0-1h0m0 3h0m0 1h0m1-2h0m0 2h0m0-4h0m0 1h0m0 1h0m1 2h0m0-1h0m0 0h0m0 0h0m0-1h0m0 2h0m0-3h0m0 3h0m0-1h0m0-2h0m1 3h0m0-1h0m0-1h0m0 0h0m0 0h0m1-1h0" stroke="#159aed" stroke-width="1.5" stroke-linecap="square"/>
<path transform="scale(.5)" d="M354 963h0m0 1h0m1 0h0m0 1h0m0 0h0m0 0h0m0-1h0m0 0h0m1-1h0m0 0h0m0 3h0m0-2h0m1-1h0m0 0h0m0 1h0m0 0h0m4 0h0m0 0h0m0-1h0m0 0h0m0 0h0m0 0h0m0 1h0m1 1h0m0 0h0m1-2h0m0 1h0m0 1h0m0 0h0m1 15h0m0-1h0m-1 0h0m0 1h0m0-1h0m0 2h0m-1 0h0m0-1h0m0 0h0m0-1h0m0 0h0m-1 2h0m0-1h0m0-1h0m0 0h0m0 0h0m0 0h0m-1 0h0m0 1h0m0-1h0m0 1h0m0 0h0m0 1h0m-1-3h0m0 2h0m-1-1h0m0 2h0m0-2h0m-1-4h0m0 3h0m0 2h0m0-4h0m0 2h0m0 1h0m0 2h0m-1-4h0m0-2h0m0 0h0m-1 2h0m0-1h0m0 0h0m0 2h0m0-2h0m-1 0h0" stroke="#17bace" stroke-width="1.5" stroke-linecap="square"/>
<path transform="scale(.5)" d="M354 971h0m1-2h0m0 1h0m0 1h0m0 0h0m0-4h0m0 4h0m1-4h0m0 3h0m0-3h0m0 1h0m0 3h0m0-1h0m0-2h0m0 1h0m0-3h0m0 1h0m1 1h0m0-2h0m0 4h0m0 1h0m0-1h0m0-3h0m0-2h0m0 1h0m0 2h0m1-3h0m0-1h0m0 0h0m0 0h0m1-1h0m0 0h0m0 1h0m0-1h0m0 2h0m0-1h0m0-1h0m1 1h0m0 2h0m0-3h0m0 0h0m0 1h0m1 4h0m0-1h0m0 2h0m0-2h0m0-1h0m0 2h0m0 2h0m0 0h0m0 0h0m1 0h0m0 1h0m0-4h0m0 0h0m0-1h0m0 0h0m0 4h0m0-3h0m0-1h0m0 1h0m0 4h0m0-5h0m0 0h0m0 0h0m0 0h0m0 2h0m0 2h0m1-1h0m0-3h0m0 4h0m0 0h0m0-2h0m0 0h0m0 2h0m0 0h0m0-2h0m0-1h0m1 2h0m-1 6h0m0-1h0m0-1h0m0 1h0m0-1h0m0 0h0m0 2h0m0 0h0m0 1h0m0-3h0m0-1h0m0 3h0m-1 2h0m0-4h0m0 1h0m0 0h0m0-1h0m0 4h0m0-2h0m0-3h0m0 4h0m-1 2h0m0-4h0m0-1h0m0 1h0m0 2h0m0 0h0m0 2h0m0-3h0m0 0h0m0 2h0m0-4h0m0-1h0m-1 4h0m0 2h0m0-2h0m0 1h0m0-2h0m-1 1h0m0 1h0m0 1h0m-1 0h0m0-1h0m0-1h0m0 0h0m0 2h0m0-1h0m0 0h0m0 0h0m-1-5h0m0 2h0m0-2h0m0 4h0m-1-1h0m0-1h0m0-1h0m0 0h0m0 1h0m0-1h0m-1-1h0m0 0h0m0 0h0m0 3h0m0 0h0m0 0h0m0-3h0m-1 2h0m0-2h0m0 0h0" stroke="#2bd591" stroke-width="1.5" stroke-linecap="square"/>
<path transform="scale(.5)" d="M357 966h0m0 0h0m0 2h0m0 2h0m0-3h0m1 1h0m0 2h0m0-1h0m0 1h0m0-2h0m0-1h0m0 2h0m0-3h0m0 3h0m0-2h0m0 1h0m0-2h0m0 1h0m0 0h0m0 3h0m1 0h0m0-1h0m0-1h0m0-1h0m0 4h0m0-1h0m0-3h0m0 0h0m0 3h0m0 0h0m1 0h0m0 0h0m0 1h0m0 0h0m0-1h0m0-4h0m0 1h0m0-1h0m0 6h0m0 0h0m0 3h0m0-3h0m0 0h0m-1 1h0m0 0h0m0-1h0m0 2h0m0 0h0m0-1h0m0 0h0m0-1h0m-1 0h0m0 1h0m0 0h0m0 0h0m-1 0h0" stroke="#6ee646" stroke-width="1.5" stroke-linecap="square"/>
<path d="M157.2 502.6V460H191V475.8Z" fill="none" stroke="#f07c7c" stroke-width=".45"/>
<path d="M157.2 502.6V523.8H191V475.8" fill="none" stroke="#78bc78" stroke-width=".45"/>
<path d="M157.2 502.6L191 475.8" stroke="#9a9672" stroke-width=".45"/>
<text x="158.2" y="463.6" font-size="3.3" fill="#e03030">JC-1 red(51.89%)</text>
<text x="158.2" y="522.8" font-size="3.3" fill="#3a9a3a">JC-1 green(48.00%)</text>
<text x="165.5" y="449.6" font-size="11.5" text-anchor="middle" stroke="#1a1a1a" stroke-width="0.3">5 μg/mL</text>
<rect x="218.8" y="455.6" width="69" height="69.3" fill="none" stroke="#b4b4b4" stroke-width="0.8"/>
<text x="216.8" y="525.9" font-size="3.4" text-anchor="end" fill="#666">10<tspan font-size="70%" dy="-1.2">0</tspan></text>
<text x="216.8" y="512.2" font-size="3.4" text-anchor="end" fill="#666">10<tspan font-size="70%" dy="-1.2">1</tspan></text>
<text x="216.8" y="498.6" font-size="3.4" text-anchor="end" fill="#666">10<tspan font-size="70%" dy="-1.2">2</tspan></text>
<text x="216.8" y="484.9" font-size="3.4" text-anchor="end" fill="#666">10<tspan font-size="70%" dy="-1.2">3</tspan></text>
<text x="216.8" y="471.3" font-size="3.4" text-anchor="end" fill="#666">10<tspan font-size="70%" dy="-1.2">4</tspan></text>
<text x="216.8" y="457.6" font-size="3.4" text-anchor="end" fill="#666">10<tspan font-size="70%" dy="-1.2">5</tspan></text>
<text x="218.8" y="529.5" font-size="3.4" text-anchor="middle" fill="#666">10<tspan font-size="70%" dy="-1.2">0</tspan></text>
<text x="232.4" y="529.5" font-size="3.4" text-anchor="middle" fill="#666">10<tspan font-size="70%" dy="-1.2">1</tspan></text>
<text x="246" y="529.5" font-size="3.4" text-anchor="middle" fill="#666">10<tspan font-size="70%" dy="-1.2">2</tspan></text>
<text x="259.6" y="529.5" font-size="3.4" text-anchor="middle" fill="#666">10<tspan font-size="70%" dy="-1.2">3</tspan></text>
<text x="273.2" y="529.5" font-size="3.4" text-anchor="middle" fill="#666">10<tspan font-size="70%" dy="-1.2">4</tspan></text>
<text x="286.8" y="529.5" font-size="3.4" text-anchor="middle" fill="#666">10<tspan font-size="70%" dy="-1.2">5</tspan></text>
<path d="M218.8 455.6V524.9H287.8M218.8 524.9h1.6M218.8 522.2h.8M218.8 519.4h.8M218.8 516.7h.8M218.8 514h.8M218.8 511.2h1.6M218.8 508.5h.8M218.8 505.8h.8M218.8 503h.8M218.8 500.3h.8M218.8 497.6h1.6M218.8 494.8h.8M218.8 492.1h.8M218.8 489.4h.8M218.8 486.7h.8M218.8 483.9h1.6M218.8 481.2h.8M218.8 478.5h.8M218.8 475.7h.8M218.8 473h.8M218.8 470.3h1.6M218.8 467.5h.8M218.8 464.8h.8M218.8 462.1h.8M218.8 459.3h.8M218.8 456.6h1.6M218.8 524.9v-1.6M221.5 524.9v-.8M224.2 524.9v-.8M227 524.9v-.8M229.7 524.9v-.8M232.4 524.9v-1.6M235.1 524.9v-.8M237.8 524.9v-.8M240.6 524.9v-.8M243.3 524.9v-.8M246 524.9v-1.6M248.7 524.9v-.8M251.4 524.9v-.8M254.2 524.9v-.8M256.9 524.9v-.8M259.6 524.9v-1.6M262.3 524.9v-.8M265 524.9v-.8M267.8 524.9v-.8M270.5 524.9v-.8M273.2 524.9v-1.6M275.9 524.9v-.8M278.6 524.9v-.8M281.4 524.9v-.8M284.1 524.9v-.8M286.8 524.9v-1.6" stroke="#707070" stroke-width=".5" fill="none"/>
<path transform="scale(.5)" d="M492 923h0m0-8h0m66 15h0m-34 2h0m-12-3h0m0 6h0m-3-1h0m-5-4h0m0-3h0m-4-1h0m-19 0h0m7 15h0m19-2h0m7-1h0m5-2h0m3 7h0m2-2h0m4-1h0m2-1h0m3-1h0m1 6h0m1 0h0m23 6h0m-45 7h0m-3-2h0m-3 1h0m-12-6h0m-3-2h0m0 6h0m-10 2h0m20 9h0m11-4h0m1 7h0m4-2h0m27-5h0m2 5h0m10 7h0m-10-1h0m-55 11h0m4 3h0m15 0h0m38 1h0m6 1h0m-6 15h0m-60-1h0m-1-2h0m-3 1h0m-3 9h0m11 1h0m34 5h0m1-8h0m3 7h0m2-5h0m4 6h0m13 15h0m-15-11h0m-1 1h0m-13 1h0m-28-2h0" stroke="#787dfc" stroke-width="1.5" stroke-linecap="square"/>
<path transform="scale(.5)" d="M501 935h0m0-4h0m-1 2h0m-2 0h0m-1-1h0m0-1h0m-1-2h0m0-1h0m-6-3h0m0 2h0m-1-2h0m-1 4h0m0-5h0m-1 6h0m0 5h0m-2-10h0m0 7h0m-3 1h0m0-3h0m-1-2h0m-1 7h0m2 1h0m1 0h0m1 0h0m4 3h0m4 2h0m2-2h0m0-2h0m0 0h0m1 1h0m0 0h0m1 0h0m1 2h0m1 2h0m0 1h0m1-6h0m0 2h0m0 3h0m1-3h0m1 5h0m3-8h0m0 7h0m0 1h0m1 3h0m1-3h0m1 3h0m0 0h0m1 0h0m0-1h0m1-1h0m0-1h0m1-3h0m0 5h0m3-3h0m4 1h0m1 0h0m0 2h0m1 0h0m1 1h0m7 0h0m11 6h0m-1 1h0m-1 0h0m0 2h0m0-7h0m-1 3h0m-1-4h0m-1 4h0m0-4h0m0 4h0m0-3h0m-1 4h0m-4-3h0m-1 4h0m-1 0h0m-1-6h0m0 1h0m0 6h0m-1 1h0m0 3h0m0-9h0m-1 3h0m-1 6h0m0 0h0m0-11h0m0 1h0m0 6h0m0-3h0m0 7h0m-1-10h0m-1 4h0m0 1h0m-1-3h0m0-2h0m0 0h0m0 1h0m-2 1h0m0 2h0m0 3h0m-2 2h0m-1-8h0m-1-1h0m-6 0h0m-2 2h0m0-3h0m-1 2h0m0-1h0m-1-1h0m0 1h0m-2-1h0m18 12h0m3 7h0m2 4h0m0-9h0m17 0h0m3 6h0m2 2h0m0 13h0m-1-2h0m-21-2h0m-1-5h0m0-2h0m0 3h0m0 16h0m3 3h0m18-8h0m1-1h0m1 2h0m-3 17h0m-1-4h0m-1 3h0m0-3h0m0 1h0m0-2h0m0 8h0m-1-3h0m-3 1h0m0-1h0m-1 3h0m-1-2h0m0 1h0m-1-4h0m-1 0h0m-1 5h0m-1-2h0m-1-7h0m-1 0h0m0 0h0m-1 9h0m-1-8h0m0 3h0m0-6h0m-2 5h0m11 8h0m0 1h0m1 1h0m2-1h0m1-2h0m0 3h0" stroke="#4f60f9" stroke-width="1.5" stroke-linecap="square"/>
<path transform="scale(.5)" d="M495 932h0m0-5h0m-1 4h0m0-1h0m0-3h0m-1 1h0m0 7h0m0-4h0m0-1h0m0-1h0m0 6h0m0-5h0m0 3h0m-1-2h0m0 1h0m0 0h0m-1-2h0m0 3h0m0-3h0m0 1h0m-1 1h0m0 0h0m0-4h0m-1 2h0m0-1h0m-1 4h0m0-2h0m-1 2h0m0-2h0m0 2h0m0-1h0m-1 0h0m3 4h0m2 0h0m1 0h0m48 21h0m-2 1h0m-1 0h0m-1 0h0m-1 0h0m-1-2h0m0 1h0m0-1h0m0 2h0m-1 1h0m-1-1h0m0 0h0m0 0h0m-1 0h0m0-1h0m-1-1h0m0-1h0m0 0h0m0 3h0m0-1h0m0-1h0m-1 2h0m0-3h0m-1-2h0m-2 3h0m0 3h0m-2 6h0m1-2h0m0 1h0m0-2h0m0 1h0m1 2h0m0-3h0m0 2h0m1-4h0m0 5h0m0-3h0m10-1h0m0-1h0m0 0h0m1 2h0m0-2h0m1 2h0m1 3h0m1 1h0m0 1h0m0 3h0m1-3h0m0-4h0m-15 19h0m0-3h0m-2 9h0m0 0h0m0 1h0m1-4h0m0 0h0m0 5h0m0 1h0m1-5h0m0 6h0m1 3h0m0-2h0m0 1h0m1 0h0m0 0h0m1-1h0m10-4h0m0-1h0m1-2h0m0 6h0m1 4h0m-1 1h0m-1 0h0m0 6h0m0-6h0m-1 3h0m-1-1h0m0 2h0m0 0h0m0 2h0m-1 0h0m0 0h0m0 0h0m0-4h0m-1 1h0m0 1h0m0 1h0m-1-2h0m-2-2h0m0 2h0m-1-1h0" stroke="#3256f8" stroke-width="1.5" stroke-linecap="square"/>
<path transform="scale(.5)" d="M531 959h0m-6 10h0m1 0h0m1-2h0m0 3h0m0-8h0m1-1h0m1 0h0m0-1h0m0 2h0m0-2h0m1 1h0m0 2h0m0 2h0m0-1h0m0 0h0m0 1h0m1-5h0m0 2h0m2-2h0m0 2h0m0-2h0m1 0h0m0 1h0m1-1h0m0 2h0m1 0h0m1 3h0m0-4h0m0 3h0m1 1h0m1 1h0m0-1h0m0-2h0m1 1h0m3 18h0m0-3h0m-1 4h0m-1-7h0m0 4h0m0-4h0m0-1h0m0 8h0m0-2h0m0-1h0m-1-4h0m0 7h0m0-4h0m-13-6h0m-1-1h0m0 2h0m0 3h0m0-4h0m-1 0h0m0 3h0m-1 1h0m3 13h0m1-1h0m1 1h0m1-2h0m0 2h0m0-1h0m0 2h0m0 0h0m0 0h0m1 4h0m0-2h0m0-1h0m1 3h0m0 0h0m0-2h0m2 0h0m0 2h0m1 0h0m0 0h0m0 0h0m2-2h0m0 0h0m0 1h0m0-3h0m0-3h0m0 2h0m1 4h0m0-5h0m0-1h0m0 0h0m0 6h0m1-5h0m2-5h0m0 0h0m-2 12h0m-1 1h0m0 0h0m-1 0h0m0 0h0m0 1h0m-1-1h0m0-1h0m0 0h0m0 0h0m-1 0h0m-1 0h0m0 1h0m-1 0h0m-1 0h0m0-1h0m-2 2h0" stroke="#2567f9" stroke-width="1.5" stroke-linecap="square"/>
<path transform="scale(.5)" d="M527 966h0m1 0h0m1 2h0m1 0h0m0-1h0m1-3h0m0-1h0m0 2h0m0-2h0m0 0h0m0 1h0m1 1h0m1-2h0m1 1h0m0-1h0m0 3h0m0-2h0m1 2h0m0-1h0m1 0h0m0-1h0m0 1h0m1 4h0m0-1h0m0 1h0m0-1h0m1 0h0m1-2h0m0 0h0m0 2h0m0-2h0m-9 17h0m0 0h0m0 0h0m-1-1h0m0 0h0m-1 2h0m1 1h0m0-1h0m0 2h0m0 1h0m0-3h0m1 2h0m0-1h0m0 2h0m0 3h0m0-4h0m1 5h0m1-1h0m0-1h0m0-1h0m0 1h0m0 0h0m1 0h0m0 2h0m0-2h0m1-1h0m0 3h0m0 0h0m0-3h0m0 1h0m0 1h0m0 3h0m0-4h0m0 0h0m0 1h0m0 1h0m0-2h0m0 5h0m0 0h0m0-6h0m1 3h0m0-1h0m0-1h0m1 2h0m0-3h0m0 2h0m0 1h0m0 0h0m0-1h0m1-2h0m0 0h0m0-1h0m0 1h0m0-2h0m1 2h0m1-1h0m0 1h0" stroke="#1978fa" stroke-width="1.5" stroke-linecap="square"/>
<path transform="scale(.5)" d="M537 971h0m1 0h0m0-1h0m0 1h0m0-1h0m1 0h0m0 1h0m1-1h0m0 13h0m0 0h0m0 0h0m0-11h0m-1 11h0m0-1h0m-1 1h0m0 0h0m0-1h0m0 0h0m0 0h0m0 1h0m0-1h0m-1-10h0m-7 9h0m0 0h0m0-6h0m0 4h0m0 1h0m0-4h0m0 5h0m-1-4h0m0-1h0m0 3h0m0-3h0m-1 2h0m0 1h0m0-2h0m0 2h0m3 7h0m0 2h0m1-1h0m0-1h0m0 2h0m1-1h0m0 1h0m0-1h0m0 0h0m1-2h0m1 1h0m0 1h0m0-2h0m1 1h0m0-1h0m0 2h0m0-1h0m1-2h0m1 0h0m0 0h0m0 0h0m0 0h0m1 0h0" stroke="#159aed" stroke-width="1.5" stroke-linecap="square"/>
<path transform="scale(.5)" d="M528 969h0m0 0h0m0 1h0m0 1h0m1-2h0m0 0h0m0 0h0m1 1h0m0-1h0m0 2h0m0-1h0m1-3h0m0-1h0m0 2h0m0 0h0m0-2h0m0 1h0m0 1h0m0-1h0m1 1h0m0 0h0m0 1h0m0-3h0m0 3h0m1-1h0m0 0h0m0 0h0m1-1h0m0 1h0m0-1h0m0 0h0m0 0h0m0 2h0m1-3h0m0 2h0m0-1h0m0-1h0m0 1h0m1-1h0m0 2h0m0-2h0m0 1h0m0 0h0m1 2h0m3 12h0m0-6h0m0 4h0m0 2h0m0-7h0m-1 6h0m0-5h0m0-1h0m0-1h0m0 0h0m-1 4h0m0-1h0m0 1h0m0-4h0m0 3h0m0 2h0m0 0h0m-1-3h0m0 2h0m0 1h0m0-2h0m0-2h0m0 3h0m0 3h0m0 1h0m0-6h0m0 0h0m0 2h0m0-1h0m0-4h0m0 5h0m0-4h0m-1 9h0m0 1h0m0 0h0m-1-1h0m-1 0h0m0 0h0m0 0h0m-1 1h0m0 0h0m0-1h0m-1 0h0m0 1h0m-1-1h0m-1-7h0m0-1h0m0 0h0m0-2h0m0 1h0m0 2h0m0-3h0m-1 2h0m0-2h0m0 3h0m0-2h0m0 1h0m0-2h0m-1 1h0m0 1h0m0 0h0m0-2h0m0 2h0m0-1h0m-1 2h0m3 9h0m1 1h0m1-1h0m0 0h0m0 0h0m0 0h0m1 1h0m1 0h0m0-1h0m0 1h0m2-1h0m0 0h0m0 0h0m0 1h0m1 0h0" stroke="#17bace" stroke-width="1.5" stroke-linecap="square"/>
<path transform="scale(.5)" d="M530 970h0m1-1h0m0 0h0m0 1h0m0 0h0m0 1h0m1-1h0m0 0h0m0 1h0m0 0h0m0-2h0m0 2h0m0-2h0m1 0h0m0 0h0m0 2h0m0-1h0m0-1h0m0 0h0m1 2h0m0 0h0m0-1h0m0 1h0m0 0h0m0 0h0m0-1h0m0-1h0m0 2h0m1-1h0m0 1h0m1-2h0m0 2h0m0-1h0m0 0h0m1-1h0m0 3h0m-1 8h0m0-1h0m0-1h0m0 1h0m0 1h0m0 1h0m0-1h0m0-8h0m0 9h0m0 0h0m0-9h0m-1 9h0m0-1h0m0 0h0m0 1h0m0-2h0m0 0h0m0 2h0m0-1h0m0 2h0m0-1h0m0-2h0m-1-7h0m0 9h0m0 0h0m0-2h0m0 2h0m0-1h0m0 0h0m0 1h0m0-1h0m-1 0h0m0 1h0m0-1h0m0-1h0m0 0h0m0 0h0m-1 1h0m0 1h0m0-9h0m0 6h0m0 2h0m0 0h0m0-8h0m-1 10h0m0-10h0m0 8h0m0 1h0m0-1h0m0 1h0m0-2h0m0 0h0m0-7h0" stroke="#2bd591" stroke-width="1.5" stroke-linecap="square"/>
<path transform="scale(.5)" d="M537 973h0m0 2h0m0-2h0m0-1h0m0 4h0m-1-2h0m0 2h0m0-3h0m0 0h0m0-1h0m0 0h0m0 6h0m0-4h0m0-1h0m0-1h0m0 2h0m0 0h0m0 1h0m-1 3h0m0-4h0m0 4h0m0-2h0m0 1h0m0-1h0m0-2h0m0 2h0m0-2h0m0 3h0m0 0h0m0-2h0m0-1h0m0-1h0m0 4h0m0 1h0m-1-1h0m0-1h0m0 2h0m0-1h0m0-4h0m0 3h0m0-2h0m0 3h0m0 0h0m0-4h0m0 3h0m0-3h0m0-1h0m0 6h0m0-4h0m0 3h0m-1-2h0m0 1h0m0 0h0m0-2h0m0-2h0m0 2h0m0 0h0m0 2h0m0 2h0m-1-1h0m0-1h0m0-1h0m0 1h0m0-2h0m0 0h0m0-2h0m0 6h0m0-5h0m0 2h0m0-1h0m0 1h0m0 0h0m-1 1h0m0-3h0m0 4h0m0-4h0m0 1h0m0-2h0m0 2h0m0 4h0m0-3h0m0 1h0m0 1h0m0 0h0m0-5h0m-1 4h0m0-2h0m0-1h0" stroke="#6ee646" stroke-width="1.5" stroke-linecap="square"/>
<path d="M243.8 502.6V460H277.6V475.8Z" fill="none" stroke="#f07c7c" stroke-width=".45"/>
<path d="M243.8 502.6V523.8H277.6V475.8" fill="none" stroke="#78bc78" stroke-width=".45"/>
<path d="M243.8 502.6L277.6 475.8" stroke="#9a9672" stroke-width=".45"/>
<text x="244.8" y="463.6" font-size="3.3" fill="#e03030">JC-1 red(38.74%)</text>
<text x="244.8" y="522.8" font-size="3.3" fill="#3a9a3a">JC-1 green(61.00%)</text>
<text x="253.8" y="449.6" font-size="11.5" text-anchor="middle" stroke="#1a1a1a" stroke-width="0.3">10 μg/mL</text>
<rect x="306.3" y="455.6" width="69" height="69.3" fill="none" stroke="#b4b4b4" stroke-width="0.8"/>
<text x="304.3" y="525.9" font-size="3.4" text-anchor="end" fill="#666">10<tspan font-size="70%" dy="-1.2">0</tspan></text>
<text x="304.3" y="512.2" font-size="3.4" text-anchor="end" fill="#666">10<tspan font-size="70%" dy="-1.2">1</tspan></text>
<text x="304.3" y="498.6" font-size="3.4" text-anchor="end" fill="#666">10<tspan font-size="70%" dy="-1.2">2</tspan></text>
<text x="304.3" y="484.9" font-size="3.4" text-anchor="end" fill="#666">10<tspan font-size="70%" dy="-1.2">3</tspan></text>
<text x="304.3" y="471.3" font-size="3.4" text-anchor="end" fill="#666">10<tspan font-size="70%" dy="-1.2">4</tspan></text>
<text x="304.3" y="457.6" font-size="3.4" text-anchor="end" fill="#666">10<tspan font-size="70%" dy="-1.2">5</tspan></text>
<text x="306.3" y="529.5" font-size="3.4" text-anchor="middle" fill="#666">10<tspan font-size="70%" dy="-1.2">0</tspan></text>
<text x="319.9" y="529.5" font-size="3.4" text-anchor="middle" fill="#666">10<tspan font-size="70%" dy="-1.2">1</tspan></text>
<text x="333.5" y="529.5" font-size="3.4" text-anchor="middle" fill="#666">10<tspan font-size="70%" dy="-1.2">2</tspan></text>
<text x="347.1" y="529.5" font-size="3.4" text-anchor="middle" fill="#666">10<tspan font-size="70%" dy="-1.2">3</tspan></text>
<text x="360.7" y="529.5" font-size="3.4" text-anchor="middle" fill="#666">10<tspan font-size="70%" dy="-1.2">4</tspan></text>
<text x="374.3" y="529.5" font-size="3.4" text-anchor="middle" fill="#666">10<tspan font-size="70%" dy="-1.2">5</tspan></text>
<path d="M306.3 455.6V524.9H375.3M306.3 524.9h1.6M306.3 522.2h.8M306.3 519.4h.8M306.3 516.7h.8M306.3 514h.8M306.3 511.2h1.6M306.3 508.5h.8M306.3 505.8h.8M306.3 503h.8M306.3 500.3h.8M306.3 497.6h1.6M306.3 494.8h.8M306.3 492.1h.8M306.3 489.4h.8M306.3 486.7h.8M306.3 483.9h1.6M306.3 481.2h.8M306.3 478.5h.8M306.3 475.7h.8M306.3 473h.8M306.3 470.3h1.6M306.3 467.5h.8M306.3 464.8h.8M306.3 462.1h.8M306.3 459.3h.8M306.3 456.6h1.6M306.3 524.9v-1.6M309 524.9v-.8M311.7 524.9v-.8M314.5 524.9v-.8M317.2 524.9v-.8M319.9 524.9v-1.6M322.6 524.9v-.8M325.3 524.9v-.8M328.1 524.9v-.8M330.8 524.9v-.8M333.5 524.9v-1.6M336.2 524.9v-.8M338.9 524.9v-.8M341.7 524.9v-.8M344.4 524.9v-.8M347.1 524.9v-1.6M349.8 524.9v-.8M352.5 524.9v-.8M355.3 524.9v-.8M358 524.9v-.8M360.7 524.9v-1.6M363.4 524.9v-.8M366.1 524.9v-.8M368.9 524.9v-.8M371.6 524.9v-.8M374.3 524.9v-1.6" stroke="#707070" stroke-width=".5" fill="none"/>
<path transform="scale(.5)" d="M705 926h0m-18 7h0m-3-4h0m-3 3h0m7 13h0m2-2h0m3 0h0m3-6h0m1 3h0m5 5h0m0-7h0m2 2h0m6 0h0m4 2h0m13-5h0m-7 15h0m-2 7h0m-36-2h0m0 1h0m-2-5h0m-5 3h0m-14-8h0m24 15h0m1 2h0m35 3h0m9-6h0m-53 21h0m-5-5h0m-11 4h0m-2-8h0m36 12h0m30 18h0m-5-3h0m-26-3h0m-20 8h0m24 5h0m11 7h0m1 1h0m8-7h0m-26 12h0m-34 7h0m3 3h0m34-2h0" stroke="#787dfc" stroke-width="1.5" stroke-linecap="square"/>
<path transform="scale(.5)" d="M678 932h0m-1 1h0m-2-1h0m0-1h0m0 2h0m-2-1h0m0-5h0m0 0h0m0 7h0m-1-6h0m-1-1h0m0 3h0m-1-3h0m-1 0h0m0 3h0m0-1h0m0 1h0m-1-4h0m0 5h0m-1 1h0m0-4h0m-1-2h0m0 0h0m-1 8h0m-2-8h0m0-2h0m-1 1h0m0-1h0m0 10h0m-1 1h0m-1-1h0m0-6h0m0 1h0m0 5h0m-1-7h0m0-3h0m0 4h0m0 4h0m-1 2h0m-1-4h0m0-4h0m-1 3h0m0-3h0m5 10h0m2 1h0m1 2h0m3-1h0m2 0h0m0 5h0m0-4h0m1-1h0m1 2h0m2-1h0m0-3h0m1 6h0m1-2h0m0-4h0m0 4h0m0 1h0m1 1h0m0-5h0m1 7h0m0 0h0m0 3h0m0 0h0m1-9h0m0 4h0m0-3h0m1 1h0m0 7h0m0-8h0m0-3h0m0 9h0m2-1h0m0-6h0m0 7h0m1 0h0m1-9h0m8 11h0m2-1h0m1 1h0m2-3h0m2 2h0m16 10h0m-1 2h0m-2-10h0m0 8h0m0-8h0m-1 3h0m-1 5h0m0-4h0m0 4h0m0 0h0m-1-4h0m-3 0h0m0 0h0m0-2h0m0 0h0m-1 0h0m0 0h0m0 1h0m-1-2h0m-1 3h0m-2 0h0m0-4h0m-1 9h0m0-1h0m-1 2h0m0-5h0m-1 5h0m-1 0h0m0-4h0m-1 0h0m0-2h0m-1 5h0m0-1h0m-1-2h0m0-2h0m-1-2h0m0 3h0m0 3h0m0-1h0m-1-5h0m-1 8h0m-1-5h0m-1 6h0m-1-8h0m-3-2h0m0 3h0m-1 6h0m0-10h0m-1 4h0m-2-2h0m-1 0h0m-1-2h0m-2 0h0m7 13h0m4-1h0m2 2h0m5 9h0m0-10h0m4-1h0m16 0h0m2 8h0m4 11h0m-1-4h0m-21 7h0m0 0h0m-1-2h0m0 5h0m0-1h0m2 8h0m19-4h0m0 6h0m1-10h0m0 9h0m-2 8h0m-1-1h0m-1 2h0m-11 2h0m-2 3h0m-2-7h0m2 9h0m3-1h0m1 10h0m0-7h0m0 3h0m1 0h0m0-2h0m1-3h0m0 2h0m0 6h0m0-2h0m0-4h0m0-1h0m1-2h0m1 0h0m0 4h0" stroke="#4f60f9" stroke-width="1.5" stroke-linecap="square"/>
<path transform="scale(.5)" d="M667 928h0m-1 4h0m0 1h0m-1 1h0m-1-3h0m0-1h0m0 2h0m0-4h0m0 3h0m0-2h0m-1 3h0m-1 1h0m0-5h0m0 0h0m0 0h0m48 30h0m0 1h0m-1-2h0m-1-2h0m0 3h0m0-3h0m-1 3h0m0 1h0m0-2h0m-1 2h0m0-5h0m0-1h0m-1 4h0m-1 2h0m-1-4h0m-2 4h0m0 0h0m0 0h0m-1-1h0m-3 5h0m0 3h0m0-3h0m1 5h0m2-6h0m2-2h0m7 2h0m2-1h0m2 3h0m1-2h0m1 9h0m3 9h0m-1-7h0m-2 6h0m-16-6h0m1 15h0m2 0h0m0 2h0m0 1h0m0 4h0m13-5h0m0-4h0m0 6h0m1-1h0m0-6h0m0 4h0m1-5h0m0 5h0m0 1h0m1 5h0m-2 2h0m-1 9h0m-2-4h0m0 4h0m-1-5h0m0 4h0m0 1h0m-1-1h0m-1 0h0m0 1h0m0-1h0m0 2h0m-1-2h0m-1-1h0m0 3h0m-1-2h0m0 0h0m-2-6h0m0 0h0m0-1h0m-1 3h0m0 2h0m-1-2h0m-1 0h0m0-4h0" stroke="#3256f8" stroke-width="1.5" stroke-linecap="square"/>
<path transform="scale(.5)" d="M704 959h0m-5 5h0m0-1h0m1 5h0m0-5h0m0 1h0m0 2h0m0 1h0m0-3h0m1 1h0m0 0h0m1 3h0m0-1h0m0-4h0m1-1h0m1-1h0m0 1h0m1-2h0m1 2h0m0-1h0m0 0h0m1 1h0m1 0h0m5 5h0m0-1h0m-11 13h0m-1 2h0m0 2h0m-1-2h0m-1 0h0m2 3h0m1 0h0m3 11h0m0 0h0m7-3h0m0 2h0m0 1h0m1-3h0m0 1h0m0-1h0m0 1h0m0 1h0m1-3h0m0 4h0m0 0h0m0 0h0m1 0h0m0 3h0m-1 2h0m-1-1h0m0-3h0m-1 7h0m0-5h0m0 2h0m0 0h0m0 2h0m-1 1h0m0-1h0m0-2h0m0 1h0m0 2h0m-1-1h0m0-4h0m0 3h0m0-1h0m0-2h0m0 2h0m0 2h0m-1-1h0m0 2h0m0-1h0m0-2h0m0 3h0m0-4h0m0 1h0m0-1h0m-2 2h0m0-3h0m-1 5h0m0 0h0m0-3h0m-1-3h0m0-1h0m-1 0h0m-1 1h0" stroke="#2567f9" stroke-width="1.5" stroke-linecap="square"/>
<path transform="scale(.5)" d="M699 970h0m3 1h0m0 0h0m0-1h0m0 1h0m1-7h0m1 1h0m0 0h0m0-1h0m0-1h0m0 3h0m1-2h0m1 1h0m0 0h0m0 0h0m2 0h0m1 0h0m1-1h0m0 2h0m0 0h0m0-3h0m0 2h0m0 0h0m1 0h0m0 0h0m0-1h0m0-1h0m0 0h0m1 1h0m0 7h0m0-6h0m0 5h0m0 0h0m1 0h0m0 0h0m0 0h0m1 0h0m1 2h0m0 6h0m-1-5h0m0 1h0m-1 0h0m0 1h0m0 1h0m0 1h0m0-4h0m-1 0h0m0 2h0m-10-2h0m0 5h0m0-5h0m0 0h0m0 3h0m-1-3h0m0 1h0m0 1h0m0-1h0m0 1h0m-1 1h0m0-1h0m0-3h0m0 3h0m0 3h0m0-6h0m3 18h0m0 2h0m0-4h0m0 1h0m0 4h0m1-3h0m0 3h0m0-1h0m0-3h0m0 5h0m1-6h0m0 5h0m0-1h0m0 0h0m0-4h0m0 6h0m0-5h0m0 0h0m0 3h0m1 3h0m1 0h0m0 0h0m4 0h0m1 0h0m0-9h0m0 2h0m0 6h0m1-3h0m0 0h0m0-6h0m0 5h0m0-3h0m1-1h0m0 2h0m-3 9h0m-1-1h0m-1 0h0m0 0h0m0 0h0" stroke="#1978fa" stroke-width="1.5" stroke-linecap="square"/>
<path transform="scale(.5)" d="M703 967h0m0 0h0m1-1h0m0 2h0m1-2h0m0 2h0m0-1h0m4 1h0m0-2h0m0 3h0m0-3h0m0 2h0m0 0h0m0 1h0m1-2h0m0 0h0m0 1h0m0-2h0m0 3h0m1-3h0m0 0h0m0 2h0m0 0h0m4 13h0m0 1h0m0 1h0m0-1h0m0 0h0m-1-1h0m0 2h0m0-1h0m0 1h0m-1-2h0m0-2h0m0 4h0m0-2h0m0 1h0m-1 1h0m0-2h0m0-2h0m0 2h0m0 2h0m-8-1h0m-1 0h0m0 0h0m-1 1h0m0 0h0m1 4h0m0-3h0m0 1h0m0-1h0m1 3h0m0-2h0m0 1h0m1 0h0m0 0h0m0 7h0m0-9h0m0 0h0m0 3h0m1 7h0m0-1h0m1 1h0m0 0h0m0 0h0m0-1h0m0-1h0m1 1h0m0 0h0m0 1h0m0 0h0m0-3h0m1 1h0m0 0h0m0 0h0m0-2h0m0 0h0m0 1h0m0 1h0m0-3h0m0 5h0m1-3h0m0 1h0m0 1h0m0-5h0m0 5h0m1 1h0m0-5h0m0 1h0m0 0h0m0-1h0m0 4h0m0-2h0m0 3h0m2-10h0m0 0h0m1 1h0m0-1h0m0 0h0" stroke="#159aed" stroke-width="1.5" stroke-linecap="square"/>
<path transform="scale(.5)" d="M703 970h0m0-1h0m1 1h0m0-1h0m1 1h0m0 0h0m0 1h0m0-2h0m0 1h0m0 1h0m0-1h0m1-1h0m0-1h0m0-1h0m0-1h0m0 2h0m0 0h0m1-1h0m0-1h0m0 2h0m0-1h0m0 1h0m0-1h0m1-1h0m0 2h0m0 0h0m0-2h0m1 4h0m0 0h0m1 1h0m0 0h0m1 0h0m0-2h0m0 0h0m0 2h0m1 0h0m-2 1h0m-5 8h0m0 1h0m0 0h0m0-4h0m0-1h0m0-3h0m0 0h0m0 6h0m0-1h0m0 3h0m0-5h0m0-3h0m0 5h0m0-1h0m0-4h0m0 2h0m0 0h0m0 2h0m0 4h0m-1-4h0m0 1h0m0 1h0m0 1h0m0-3h0m0-2h0m0 2h0m0-5h0m0 1h0m0 6h0m0-6h0m-1 2h0m0 3h0m0-6h0m0 8h0m0-1h0m0-6h0m0 8h0m0-4h0m-1-2h0m0 6h0m0-8h0m3 14h0m0-1h0m1 3h0m0 1h0m0 1h0m0-5h0m0 2h0m0-3h0m0 4h0m0 0h0m0-4h0m1 3h0m0-1h0m0 1h0m0-2h0m0 3h0m1-3h0m0 3h0m0 1h0m0-2h0m0 2h0m0-5h0m0 1h0m0-1h0m0 2h0m0 1h0m0 0h0m0 0h0m0-2h0m0 2h0m0-1h0m1 0h0m1-2h0m0 3h0m0-2h0m0-1h0m0 2h0m1-2h0m0 0h0m0 3h0m0-3h0m0 1h0m0-1h0m1 1h0" stroke="#17bace" stroke-width="1.5" stroke-linecap="square"/>
<path transform="scale(.5)" d="M706 969h0m0 0h0m0 2h0m0 0h0m0-1h0m1 1h0m0-2h0m0 0h0m0 2h0m0 0h0m1-1h0m0 0h0m0 0h0m0-1h0m1 2h0m3 6h0m0-3h0m0 1h0m0-2h0m-1 9h0m0-4h0m0 1h0m0 0h0m0 4h0m0-2h0m0-7h0m0 7h0m0-2h0m0-1h0m0 5h0m0-4h0m0 1h0m0 3h0m0 0h0m0-8h0m0-2h0m0 8h0m0-5h0m0-1h0m0 0h0m-1 3h0m0 1h0m0 3h0m0 1h0m0 0h0m0-1h0m0 0h0m0-4h0m0 3h0m0 0h0m0-7h0m0 5h0m0-7h0m0 10h0m0-3h0m0 2h0m0-6h0m0-2h0m0 1h0m0 4h0m0 0h0m0-3h0m-1 2h0m0-5h0m0 1h0m0 9h0m0-5h0m0 0h0m0-5h0m0 2h0m0 1h0m0 5h0m0 1h0m0-2h0m0 0h0m0 1h0m0-4h0m0-3h0m0 2h0m0-3h0m0 0h0m0 1h0m-1 10h0m0 0h0m-1 0h0m0-11h0m0 11h0m-1-1h0m0 0h0m0 3h0m0 0h0m0-1h0m0 0h0m0 0h0m1 0h0m0 0h0m0 0h0m1 0h0m0 0h0m0 0h0m2 0h0m0 0h0m0 0h0m1 1h0m0-1h0m0 1h0m1-1h0m0 0h0" stroke="#2bd591" stroke-width="1.5" stroke-linecap="square"/>
<path transform="scale(.5)" d="M709 975h0m0 0h0m-1 0h0m0-1h0m0 5h0m0 0h0m0-6h0m0 7h0m0-7h0m0 3h0m0 0h0m0-3h0m0 7h0m0-3h0m0-1h0m0-2h0m0 2h0m-1 6h0m0-3h0m0-2h0m0 1h0m0 3h0m0-1h0m0-5h0m0 6h0m0-1h0m0 0h0m0 0h0m0 1h0m0-1h0m0-6h0m0 4h0m0 2h0m0 1h0m0-4h0m0-1h0m0 4h0m0-7h0m0 7h0m0-7h0m0 5h0m0-5h0m0 0h0m-1 2h0m0-2h0m0 8h0m0-7h0m0 0h0m0 0h0m0 0h0m0 7h0m0-7h0m0 3h0m0-1h0m0 3h0m0 0h0m0-1h0m0-1h0m0 0h0m0-3h0m0 4h0m-1-1h0m0 1h0" stroke="#6ee646" stroke-width="1.5" stroke-linecap="square"/>
<path d="M331.3 502.6V460H365.1V475.8Z" fill="none" stroke="#f07c7c" stroke-width=".45"/>
<path d="M331.3 502.6V523.8H365.1V475.8" fill="none" stroke="#78bc78" stroke-width=".45"/>
<path d="M331.3 502.6L365.1 475.8" stroke="#9a9672" stroke-width=".45"/>
<text x="332.3" y="463.6" font-size="3.3" fill="#e03030">JC-1 red(31.29%)</text>
<text x="332.3" y="522.8" font-size="3.3" fill="#3a9a3a">JC-1 green(68.66%)</text>
<text x="341.5" y="449.6" font-size="11.5" text-anchor="middle" stroke="#1a1a1a" stroke-width="0.3">20 μg/mL</text>
<rect x="448.8" y="456.6" width="69" height="69.3" fill="none" stroke="#b4b4b4" stroke-width="0.8"/>
<text x="446.8" y="526.9" font-size="3.4" text-anchor="end" fill="#666">10<tspan font-size="70%" dy="-1.2">0</tspan></text>
<text x="446.8" y="513.2" font-size="3.4" text-anchor="end" fill="#666">10<tspan font-size="70%" dy="-1.2">1</tspan></text>
<text x="446.8" y="499.6" font-size="3.4" text-anchor="end" fill="#666">10<tspan font-size="70%" dy="-1.2">2</tspan></text>
<text x="446.8" y="485.9" font-size="3.4" text-anchor="end" fill="#666">10<tspan font-size="70%" dy="-1.2">3</tspan></text>
<text x="446.8" y="472.3" font-size="3.4" text-anchor="end" fill="#666">10<tspan font-size="70%" dy="-1.2">4</tspan></text>
<text x="446.8" y="458.6" font-size="3.4" text-anchor="end" fill="#666">10<tspan font-size="70%" dy="-1.2">5</tspan></text>
<text x="448.8" y="530.5" font-size="3.4" text-anchor="middle" fill="#666">10<tspan font-size="70%" dy="-1.2">0</tspan></text>
<text x="462.4" y="530.5" font-size="3.4" text-anchor="middle" fill="#666">10<tspan font-size="70%" dy="-1.2">1</tspan></text>
<text x="476" y="530.5" font-size="3.4" text-anchor="middle" fill="#666">10<tspan font-size="70%" dy="-1.2">2</tspan></text>
<text x="489.6" y="530.5" font-size="3.4" text-anchor="middle" fill="#666">10<tspan font-size="70%" dy="-1.2">3</tspan></text>
<text x="503.2" y="530.5" font-size="3.4" text-anchor="middle" fill="#666">10<tspan font-size="70%" dy="-1.2">4</tspan></text>
<text x="516.8" y="530.5" font-size="3.4" text-anchor="middle" fill="#666">10<tspan font-size="70%" dy="-1.2">5</tspan></text>
<path d="M448.8 456.6V525.9H517.8M448.8 525.9h1.6M448.8 523.2h.8M448.8 520.4h.8M448.8 517.7h.8M448.8 515h.8M448.8 512.2h1.6M448.8 509.5h.8M448.8 506.8h.8M448.8 504h.8M448.8 501.3h.8M448.8 498.6h1.6M448.8 495.8h.8M448.8 493.1h.8M448.8 490.4h.8M448.8 487.7h.8M448.8 484.9h1.6M448.8 482.2h.8M448.8 479.5h.8M448.8 476.7h.8M448.8 474h.8M448.8 471.3h1.6M448.8 468.5h.8M448.8 465.8h.8M448.8 463.1h.8M448.8 460.3h.8M448.8 457.6h1.6M448.8 525.9v-1.6M451.5 525.9v-.8M454.2 525.9v-.8M457 525.9v-.8M459.7 525.9v-.8M462.4 525.9v-1.6M465.1 525.9v-.8M467.8 525.9v-.8M470.6 525.9v-.8M473.3 525.9v-.8M476 525.9v-1.6M478.7 525.9v-.8M481.4 525.9v-.8M484.2 525.9v-.8M486.9 525.9v-.8M489.6 525.9v-1.6M492.3 525.9v-.8M495 525.9v-.8M497.8 525.9v-.8M500.5 525.9v-.8M503.2 525.9v-1.6M505.9 525.9v-.8M508.6 525.9v-.8M511.4 525.9v-.8M514.1 525.9v-.8M516.8 525.9v-1.6" stroke="#707070" stroke-width=".5" fill="none"/>
<path transform="scale(.5)" d="M1008 934h0m-6 0h0m-1-1h0m-1-2h0m-1 3h0m-3 1h0m-2 0h0m-4-2h0m-18 14h0m19-10h0m11 8h0m8 12h0m-36-6h0m-8 18h0m5 15h0m0 2h0m0 7h0m4-3h0m1-6h0m5 3h0m4 4h0m1-7h0m32 17h0m-32 2h0m-6 7h0m18 9h0m15-4h0m0-7h0m-6 18h0m-25 9h0m14 0h0" stroke="#787dfc" stroke-width="1.5" stroke-linecap="square"/>
<path transform="scale(.5)" d="M979 945h0m3-3h0m1 3h0m0 0h0m2-2h0m5 1h0m1-2h0m1 1h0m0 2h0m0-5h0m2-2h0m1 7h0m0-6h0m2 7h0m1-2h0m1 1h0m0-6h0m0 6h0m0-5h0m1 11h0m-1-1h0m-1 9h0m0-9h0m-1 0h0m-17 0h0m-4 2h0m-1 0h0m-5 16h0m4-5h0m20 7h0m1-2h0m2-8h0m2 2h0m-6 12h0m-1 2h0m-10 7h0m-2 0h0m-1-1h0m-4-1h0m-1-1h0m-1-4h0m-2-4h0" stroke="#4f60f9" stroke-width="1.5" stroke-linecap="square"/>
<path transform="scale(.5)" d="M981 947h0m1-1h0m1 1h0m3-2h0m0 1h0m2 1h0m0 0h0m1-2h0m1 0h0m1 2h0m0 0h0m0 0h0m8 9h0m0 2h0m0-5h0m-1 4h0m0-3h0m-1 4h0m0-4h0m-1-6h0m0 2h0m-1 0h0m0 0h0m-2-2h0m0 0h0m-1 0h0m-2 0h0m-3 0h0m-1 0h0m-2 0h0m-1 0h0m-4 5h0m-1 0h0m-1 4h0m-1-1h0m-1 0h0m-2 12h0m1 1h0m0 0h0m0 2h0m0-3h0m16 3h0m1-2h0m1-1h0m2-5h0m0 1h0m1 1h0m0 2h0m-5 7h0m-1-1h0m-1-1h0m0 1h0m-1 1h0m0 1h0m0 0h0m-2 1h0m0 0h0m0-1h0m0 0h0m0 0h0m-2 5h0m-1 0h0m-2-3h0m-1 2h0m0 0h0m-1 0h0m0-1h0m0 0h0m0-1h0m0 1h0m-2 2h0m0 0h0m-1-1h0m-1-7h0m-1 0h0" stroke="#3256f8" stroke-width="1.5" stroke-linecap="square"/>
<path transform="scale(.5)" d="M997 957h0m0-3h0m-1-2h0m0 0h0m0 5h0m0-2h0m0 1h0m0-1h0m0 3h0m-1-1h0m-1 2h0m0-3h0m0-4h0m0 1h0m0 0h0m0-1h0m-1-1h0m0-2h0m-1 1h0m0 1h0m-1-2h0m0 1h0m-7 0h0m-2 1h0m-1-3h0m0 2h0m0-1h0m-5 10h0m-1 10h0m1-8h0m0 1h0m0-1h0m0 9h0m0-8h0m1 8h0m0-9h0m0 8h0m0 0h0m0-9h0m0 3h0m0 7h0m13-4h0m1 0h0m0-1h0m0 0h0m0 0h0m2 1h0m1-6h0m0 1h0m-11 13h0m-1 2h0m-1-2h0m0 3h0m0-3h0m0 0h0m0 1h0m0 1h0m-1-1h0m0 1h0m-1-1h0m0 1h0m0-1h0m0 0h0m0 1h0m-1-2h0m0 2h0m0-1h0m0 1h0m0-1h0m-1-3h0m0 5h0m0 0h0m0-5h0m0 4h0m-1-2h0m0 0h0m0-1h0m0-1h0m0 5h0m-1-2h0m0 0h0m0-1h0" stroke="#2567f9" stroke-width="1.5" stroke-linecap="square"/>
<path transform="scale(.5)" d="M993 952h0m0 1h0m-1 1h0m0-2h0m0 1h0m-1-1h0m-2-2h0m0 1h0m0 0h0m-1-2h0m0 2h0m-1 0h0m0-2h0m0 0h0m0 1h0m0 1h0m-1-1h0m0 1h0m0-2h0m-1 2h0m0 0h0m0 0h0m0-1h0m0-1h0m0 1h0m0 1h0m-1 2h0m0-4h0m-1 6h0m-1-2h0m0 1h0m-1 0h0m-1 4h0m-1-2h0m0-1h0m0 3h0m-1-1h0m-3 9h0m0 0h0m0 0h0m0-1h0m1 2h0m0 0h0m1 0h0m0 0h0m0-2h0m0 0h0m0 1h0m0 1h0m0-1h0m2 5h0m0 0h0m4 0h0m2 0h0m2-3h0m0 2h0m1 0h0m0 0h0m1 0h0m1-1h0m0-7h0m0 6h0m1-4h0m0-3h0m0 3h0m0-2h0m0 0h0m0 0h0m1 1h0m0-1h0m0 0h0m0-1h0m1 3h0m-7 8h0m0 0h0m0 1h0m-1-1h0m-1 0h0m0 0h0m-1 1h0m0-1h0m0 0h0m0 2h0m0-2h0m-1 2h0m0-2h0m-1 0h0m0 0h0m-1 1h0m-1-1h0m-1 2h0" stroke="#1978fa" stroke-width="1.5" stroke-linecap="square"/>
<path transform="scale(.5)" d="M994 956h0m-1 2h0m0-3h0m0 2h0m0 0h0m0-2h0m-1 0h0m0 4h0m0-4h0m0 2h0m0 0h0m0 0h0m0 0h0m0 0h0m0-1h0m-1 1h0m0 2h0m0 0h0m0-3h0m-1-2h0m0 0h0m0-1h0m0 2h0m-1-3h0m0 2h0m0-2h0m0 2h0m0-1h0m0 1h0m-1 0h0m0-2h0m-1 0h0m0 2h0m0 0h0m0 0h0m0-1h0m-1-1h0m0 3h0m0-2h0m0 1h0m-1 0h0m0 1h0m0-3h0m0 2h0m0-2h0m-5 7h0m-1 0h0m0 0h0m-1-1h0m0 1h0m0 1h0m0 0h0m0 1h0m0 8h0m1-8h0m0 7h0m0-8h0m0 9h0m0 2h0m0-2h0m0-9h0m0 1h0m1 9h0m0-1h0m0-8h0m0 7h0m0 1h0m0-8h0m0-1h0m0 1h0m0 9h0m0-1h0m1 0h0m1 1h0m0 0h0m0 0h0m1-1h0m0-1h0m0 1h0m0 0h0m1 1h0m0-1h0m0 0h0m0 0h0m0 1h0m0-2h0m1 1h0m0 0h0m0-1h0m0 2h0m1-2h0m0 1h0m0 0h0m1-1h0m0-2h0m0 3h0m0 1h0m1-3h0m0-1h0m1 1h0m0-2h0m0 2h0m1-2h0m0 2h0m0-1h0m1-6h0m0 1h0m0-1h0m1 0h0m0 1h0" stroke="#159aed" stroke-width="1.5" stroke-linecap="square"/>
<path transform="scale(.5)" d="M990 956h0m0 1h0m0-2h0m0 0h0m-1 2h0m0 0h0m0-1h0m0 2h0m0-1h0m0-2h0m-1 2h0m0 1h0m0-2h0m-1-1h0m0 0h0m0 0h0m-3 1h0m0 0h0m-1 2h0m0-3h0m0 2h0m0-1h0m0 2h0m0-2h0m0 1h0m-1-1h0m-1 0h0m0-1h0m0 2h0m0 0h0m0-1h0m0 0h0m-3 5h0m0 5h0m0 0h0m0-5h0m0 2h0m1 1h0m0 4h0m0-5h0m0 2h0m0 1h0m0-1h0m1-1h0m0 2h0m0-4h0m0 5h0m0-4h0m0 4h0m0 0h0m0-2h0m0 2h0m0-3h0m0-3h0m1 3h0m0-1h0m0 3h0m0-5h0" stroke="#17bace" stroke-width="1.5" stroke-linecap="square"/>
<path transform="scale(.5)" d="M989 958h0m0 1h0m0-1h0m0 0h0m-1 1h0m0 0h0m0 0h0m-1-3h0m-1-1h0m0 0h0m0 2h0m0 1h0m0-2h0m-1 1h0m0-2h0m0 1h0m0 0h0m0 0h0m0 1h0m0-2h0m-1 3h0m0-1h0m0 1h0m0-1h0m0 2h0m-1 0h0m-1 0h0m0 0h0m0 0h0m-1 7h0m0 1h0m0-2h0m0-5h0m0 7h0m1 0h0m0 0h0m0-7h0m0 7h0m0 0h0m0 1h0m0-7h0m0 4h0m0-5h0m1 0h0m0 1h0m0-1h0m0 5h0m0 2h0m0 0h0m0-1h0m0 0h0m0 0h0m0-1h0m0 0h0m0 1h0m1-6h0m0 6h0m0 1h0m0 0h0m0-6h0m1 6h0m0 0h0m0-1h0m0 0h0m0-2h0m0 3h0m1-3h0m0 2h0m0 0h0m0 0h0m1-4h0m0-2h0m0 0h0m0 7h0m0-1h0m0-2h0m1-3h0m0 1h0m0-1h0m0 1h0m0 2h0m0-2h0m0-1h0m0-1h0m0 4h0m1-2h0m0-2h0m0 2h0m0 1h0m0-1h0m0-2h0m0 2h0m0-2h0m0 3h0m0-2h0m0 0h0m0 0h0m1 1h0m0 1h0m0-3h0m0 4h0m0-1h0m0-3h0m0 3h0" stroke="#2bd591" stroke-width="1.5" stroke-linecap="square"/>
<path transform="scale(.5)" d="M987 959h0m0 0h0m0 0h0m-1 0h0m0 0h0m0 0h0m-1-1h0m0 1h0m0-1h0m-1 1h0m0 0h0m-3 4h0m0-1h0m0-1h0m0 2h0m1 1h0m0-2h0m0-1h0m0 2h0m0-1h0m0 1h0m0-2h0m0 0h0m0 1h0m0 1h0m1 0h0m0 1h0m0-1h0m0 0h0m0 0h0m1 0h0m0-1h0m0 0h0m0 1h0m0 1h0m0-4h0m0 4h0m0-2h0m0 2h0m0-4h0m1 2h0m0-2h0m0 3h0m0 0h0m0-3h0m0 4h0m0 0h0m0-1h0m0-2h0m1 0h0m0 0h0m0 0h0m0 0h0m0 1h0m0-1h0m0 0h0m0 1h0m0-1h0m0 0h0m0 2h0m0-3h0m0 4h0m0-2h0m0 2h0m1-4h0m0 2h0m0-2h0m0 2h0m0 0h0m0-1h0m0-1h0m0 1h0" stroke="#6ee646" stroke-width="1.5" stroke-linecap="square"/>
<path d="M482.6 503.6V461H509V476.8Z" fill="none" stroke="#f07c7c" stroke-width=".45"/>
<path d="M482.6 503.6V524.8H509V476.8" fill="none" stroke="#78bc78" stroke-width=".45"/>
<path d="M482.6 503.6L509 476.8" stroke="#9a9672" stroke-width=".45"/>
<text x="483.6" y="464.6" font-size="3.3" fill="#e03030">JC-1 red(98.32%)</text>
<text x="483.6" y="523.8" font-size="3.3" fill="#3a9a3a">JC-1 green(1.72%)</text>
<text x="481.9" y="450.8" font-size="11.5" text-anchor="middle" stroke="#1a1a1a" stroke-width="0.3">Control</text>
<rect x="535.2" y="456.6" width="69" height="69.3" fill="none" stroke="#b4b4b4" stroke-width="0.8"/>
<text x="533.2" y="526.9" font-size="3.4" text-anchor="end" fill="#666">10<tspan font-size="70%" dy="-1.2">0</tspan></text>
<text x="533.2" y="513.2" font-size="3.4" text-anchor="end" fill="#666">10<tspan font-size="70%" dy="-1.2">1</tspan></text>
<text x="533.2" y="499.6" font-size="3.4" text-anchor="end" fill="#666">10<tspan font-size="70%" dy="-1.2">2</tspan></text>
<text x="533.2" y="485.9" font-size="3.4" text-anchor="end" fill="#666">10<tspan font-size="70%" dy="-1.2">3</tspan></text>
<text x="533.2" y="472.3" font-size="3.4" text-anchor="end" fill="#666">10<tspan font-size="70%" dy="-1.2">4</tspan></text>
<text x="533.2" y="458.6" font-size="3.4" text-anchor="end" fill="#666">10<tspan font-size="70%" dy="-1.2">5</tspan></text>
<text x="535.2" y="530.5" font-size="3.4" text-anchor="middle" fill="#666">10<tspan font-size="70%" dy="-1.2">0</tspan></text>
<text x="548.8" y="530.5" font-size="3.4" text-anchor="middle" fill="#666">10<tspan font-size="70%" dy="-1.2">1</tspan></text>
<text x="562.4" y="530.5" font-size="3.4" text-anchor="middle" fill="#666">10<tspan font-size="70%" dy="-1.2">2</tspan></text>
<text x="576" y="530.5" font-size="3.4" text-anchor="middle" fill="#666">10<tspan font-size="70%" dy="-1.2">3</tspan></text>
<text x="589.6" y="530.5" font-size="3.4" text-anchor="middle" fill="#666">10<tspan font-size="70%" dy="-1.2">4</tspan></text>
<text x="603.2" y="530.5" font-size="3.4" text-anchor="middle" fill="#666">10<tspan font-size="70%" dy="-1.2">5</tspan></text>
<path d="M535.2 456.6V525.9H604.2M535.2 525.9h1.6M535.2 523.2h.8M535.2 520.4h.8M535.2 517.7h.8M535.2 515h.8M535.2 512.2h1.6M535.2 509.5h.8M535.2 506.8h.8M535.2 504h.8M535.2 501.3h.8M535.2 498.6h1.6M535.2 495.8h.8M535.2 493.1h.8M535.2 490.4h.8M535.2 487.7h.8M535.2 484.9h1.6M535.2 482.2h.8M535.2 479.5h.8M535.2 476.7h.8M535.2 474h.8M535.2 471.3h1.6M535.2 468.5h.8M535.2 465.8h.8M535.2 463.1h.8M535.2 460.3h.8M535.2 457.6h1.6M535.2 525.9v-1.6M537.9 525.9v-.8M540.6 525.9v-.8M543.4 525.9v-.8M546.1 525.9v-.8M548.8 525.9v-1.6M551.5 525.9v-.8M554.2 525.9v-.8M557 525.9v-.8M559.7 525.9v-.8M562.4 525.9v-1.6M565.1 525.9v-.8M567.8 525.9v-.8M570.6 525.9v-.8M573.3 525.9v-.8M576 525.9v-1.6M578.7 525.9v-.8M581.4 525.9v-.8M584.2 525.9v-.8M586.9 525.9v-.8M589.6 525.9v-1.6M592.3 525.9v-.8M595 525.9v-.8M597.8 525.9v-.8M600.5 525.9v-.8M603.2 525.9v-1.6" stroke="#707070" stroke-width=".5" fill="none"/>
<path transform="scale(.5)" d="M1180 928h0m-8 7h0m-8-1h0m-12-9h0m-14 1h0m-3 3h0m-4 7h0m30 1h0m11 2h0m1 0h0m2 2h0m2-2h0m1 0h0m10 7h0m-4 5h0m-40 8h0m-1-10h0m-3 1h0m-1-2h0m-5 12h0m10 3h0m1-3h0m47 23h0m-3-1h0m-40-4h0m-16 8h0m36 21h0m-3-6h0m-18-3h0m-15 4h0m1 7h0m1 4h0m30-2h0m9 2h0m9 2h0m1-2h0m1-5h0m-27 16h0m-23 10h0m35 0h0" stroke="#787dfc" stroke-width="1.5" stroke-linecap="square"/>
<path transform="scale(.5)" d="M1153 929h0m0 3h0m0 0h0m-3-4h0m-7-1h0m-6 3h0m-1 3h0m0 3h0m1 1h0m0 0h0m1 3h0m5 4h0m0 2h0m0-2h0m2 2h0m9-3h0m0-3h0m1 0h0m2 5h0m1 0h0m0 0h0m0-1h0m2-5h0m2 6h0m2-1h0m1 0h0m0 2h0m6 0h0m5 1h0m1-4h0m1 3h0m5 11h0m-6-7h0m0 1h0m0-2h0m-1-1h0m-2 3h0m-5-3h0m-9 11h0m-1-2h0m-1 0h0m-1-2h0m-3 2h0m-2-5h0m0 2h0m0 0h0m0 5h0m-2-11h0m0 1h0m0 4h0m-2-1h0m0-4h0m6 13h0m3 3h0m2-4h0m0 5h0m0-1h0m1 0h0m0 2h0m0-6h0m2 6h0m0-5h0m23 2h0m4 17h0m-3 3h0m0-7h0m0 3h0m-23-2h0m1 7h0m2 4h0m3 6h0m17-6h0m1 0h0m1-3h0m0 11h0m-3 4h0m-1 0h0m-1-1h0m0-1h0m-1 1h0m0 6h0m-3 0h0m-2 2h0m0-1h0m-3 1h0m-1-1h0m-2-6h0m0 1h0m-1 3h0m0-2h0m-1-5h0m-2 2h0m4 10h0m2-1h0m0 4h0m1-2h0m0-2h0m2 2h0m1-2h0m1 4h0m3-2h0" stroke="#4f60f9" stroke-width="1.5" stroke-linecap="square"/>
<path transform="scale(.5)" d="M1153 934h0m0-2h0m-2 2h0m-1-4h0m-2 0h0m-1 0h0m-1 2h0m-2 0h0m0-1h0m0-1h0m-1 5h0m0 0h0m-1-3h0m0 0h0m0 1h0m0 2h0m0-1h0m0 0h0m-1 0h0m-1 0h0m-1 3h0m0 0h0m1 0h0m1 2h0m0-1h0m1 2h0m0 1h0m1-2h0m2 4h0m0-3h0m1-1h0m1 6h0m1 2h0m0-8h0m0 0h0m0 5h0m0 0h0m1 1h0m0-2h0m1 2h0m1-4h0m0 6h0m1-3h0m0-8h0m1 3h0m0 4h0m0 2h0m2 0h0m5 2h0m0 0h0m1-1h0m21 10h0m0 2h0m-2-2h0m-1 0h0m-2-3h0m0 0h0m-1 0h0m-1 1h0m-1-2h0m-1 2h0m-1-5h0m-1 3h0m0 2h0m-1-2h0m0 0h0m-1 1h0m0 1h0m0-5h0m-1 1h0m0 1h0m-1-2h0m0 6h0m0-1h0m0 0h0m0-5h0m-1 10h0m-1-1h0m0-2h0m0-1h0m0-1h0m0 5h0m0-1h0m-1 0h0m0-5h0m0 6h0m0-9h0m-1 8h0m0-9h0m-1 2h0m0 0h0m0 0h0m0-1h0m0-1h0m0 2h0m-1 6h0m0-5h0m0-2h0m-1 5h0m0-1h0m0-6h0m0 2h0m-1 3h0m-2-2h0m0 1h0m-1-2h0m-1-2h0m0 1h0m0 1h0m0 4h0m-1-4h0m0 0h0m0-1h0m0 1h0m-1-2h0m-1 3h0m0-1h0m-1 0h0m-1-2h0m0 0h0m15 16h0m1 0h0m0 5h0m0-4h0m0-2h0m0 2h0m0-4h0m3-1h0m15 8h0m1 3h0m-1 4h0m0-2h0m-1 10h0m0-2h0m0-9h0m-1 9h0m-16-8h0m0 0h0m-1 7h0m-1-4h0m0 0h0m-1-3h0m5 19h0m0 0h0m0 0h0m1-2h0m0 1h0m1 3h0m0 1h0m1 0h0m11-9h0m0 4h0m1-2h0m0 6h0m0 1h0m1 0h0m0-7h0m0 1h0m0 3h0m1-4h0m-4 14h0m0-4h0m-1-1h0m0 0h0m0 1h0m-1 2h0m-1 2h0m0-2h0m0 2h0m-1 1h0m-1-3h0m0 3h0m0-1h0m-1 0h0m0 1h0m-1-1h0m-1-1h0m0-1h0m0 1h0m-1-3h0m0-1h0m0 0h0m-1 1h0" stroke="#3256f8" stroke-width="1.5" stroke-linecap="square"/>
<path transform="scale(.5)" d="M1150 935h0m-1-2h0m-1 2h0m0-1h0m0 0h0m-1 0h0m0-1h0m-2 0h0m0 2h0m0-1h0m-1-2h0m-3 4h0m1 2h0m0-1h0m1 2h0m0-1h0m0 0h0m1-1h0m0 0h0m0 0h0m1 2h0m1-2h0m0 0h0m1-1h0m0 2h0m1-2h0m0 2h0m0-2h0m0 2h0m0 0h0m0-1h0m1-1h0m0 2h0m0-2h0m1 1h0m31 22h0m-3-3h0m0 2h0m-2-1h0m0 0h0m-1 1h0m0-1h0m0 0h0m-1 0h0m0 0h0m0 0h0m0 1h0m-1-1h0m0 1h0m0-1h0m-1 0h0m0 0h0m0-1h0m-1-1h0m-1 2h0m0 1h0m-2 6h0m0-2h0m2 0h0m10 2h0m0-3h0m0-1h0m0 0h0m0 1h0m1-1h0m0 2h0m0 1h0m0-3h0m0 1h0m1-1h0m0 1h0m1 18h0m-13 3h0m-1-8h0m0 1h0m0 1h0m0 4h0m0-2h0m0-2h0m0 5h0m0-5h0m-1 2h0m0 4h0m0-7h0m-1 0h0m0 7h0m0 0h0m0-7h0m0 2h0m0 1h0m0 8h0m1 3h0m0-4h0m1 1h0m0 3h0m0 1h0m0-4h0m1 6h0m0-1h0m0 1h0m1-2h0m0 1h0m2 3h0m1 1h0m1-2h0m0 1h0m1 0h0m1 1h0m2-2h0m0-2h0m1 0h0m1 2h0m0-3h0m1 3h0m0-2h0m0-1h0m-1 6h0m0 0h0m-2 1h0m0-1h0m0 0h0m0 1h0m0 0h0m-1 3h0m-1-3h0m0-1h0m-1 2h0" stroke="#2567f9" stroke-width="1.5" stroke-linecap="square"/>
<path transform="scale(.5)" d="M1178 959h0m0-1h0m0 1h0m-1 0h0m0 0h0m-5 0h0m-1 0h0m-4 7h0m0 0h0m1 0h0m0 3h0m0 2h0m0-1h0m1-4h0m0-1h0m0 2h0m1-7h0m1 0h0m0 1h0m5 0h0m1-1h0m2 1h0m0 10h0m1-6h0m0 5h0m0 0h0m0-5h0m0 1h0m0 0h0m1 4h0m0-5h0m0 2h0m0 0h0m1-2h0m-13 8h0m-1-1h0m-1 0h0m3 15h0m0 1h0m0 1h0m1 0h0m1-2h0m0 2h0m1 4h0m0-5h0m1 5h0m0-2h0m0 2h0m1-2h0m0 2h0m1-1h0m0 0h0m0 0h0m0 1h0m1-2h0m0 0h0m0-1h0m0 2h0m1 1h0m0-1h0m0-2h0m0 0h0m1-6h0m1 0h0m0 4h0m1-2h0m0 0h0m0 3h0m1-3h0m0-2h0m0 5h0" stroke="#1978fa" stroke-width="1.5" stroke-linecap="square"/>
<path transform="scale(.5)" d="M1176 958h0m0 1h0m-1-1h0m-1 0h0m0 1h0m-1 0h0m-3 3h0m0 0h0m1 1h0m0 1h0m0 0h0m0-1h0m0 1h0m0-1h0m1 1h0m0 0h0m1-3h0m2-1h0m1 3h0m0-3h0m0 1h0m1 2h0m0 1h0m1-1h0m0 1h0m1 7h0m0-9h0m0 0h0m1 9h0m2 7h0m0 5h0m0 0h0m0-7h0m0 1h0m0 5h0m0 1h0m-1-2h0m0-8h0m0 3h0m0-1h0m0 8h0m0-3h0m0-4h0m0-2h0m0 5h0m0-3h0m0-4h0m-1 6h0m0 3h0m0 1h0m0-4h0m0 0h0m0-4h0m0 5h0m0 1h0m0 2h0m0 0h0m0-9h0m0 3h0m-1-2h0m0 2h0m0-2h0m0 3h0m-6-3h0m0 2h0m0 3h0m-1-3h0m0 1h0m0-1h0m0 3h0m-1-2h0m0-1h0m0-1h0m0 5h0m0-5h0m-1 1h0" stroke="#159aed" stroke-width="1.5" stroke-linecap="square"/>
<path transform="scale(.5)" d="M1170 965h0m0 6h0m0-5h0m0-1h0m1 1h0m1 1h0m0-1h0m0 0h0m0-1h0m0 2h0m1 0h0m0-5h0m0 3h0m0 3h0m0-4h0m1-1h0m0 1h0m0-2h0m0 0h0m0 1h0m1-1h0m0 2h0m0-2h0m0 2h0m0-2h0m0 1h0m0 1h0m1 0h0m1 2h0m0 1h0m0-1h0m1 0h0m0 2h0m0-3h0m0 2h0m-5 6h0m-1 10h0m0-11h0m0 1h0m0 9h0m0-1h0m0-8h0m0-1h0m0 0h0m-1 9h0m0 1h0m0 1h0m0-11h0m0 11h0m0-10h0m-1-1h0m0 0h0m0 11h0m0-2h0m0 0h0m0 2h0m0-2h0m0-9h0m0 14h0m1-1h0m0-1h0m1 2h0m0 1h0m0-1h0m0-2h0m0 0h0m1 0h0m0 5h0m0 1h0m1-1h0m0 0h0m1-1h0m0 2h0m0-2h0m0 1h0m0 1h0m1-1h0m0-1h0m1 2h0m0 0h0m0-2h0m0 1h0m0 1h0m0-2h0m1-1h0m0 2h0m0 0h0m0-2h0m0 1h0m1 2h0" stroke="#17bace" stroke-width="1.5" stroke-linecap="square"/>
<path transform="scale(.5)" d="M1170 968h0m0 1h0m0 1h0m0-1h0m1 0h0m0-1h0m0 0h0m0 1h0m0 1h0m0 0h0m1-1h0m0 1h0m0 1h0m0-1h0m0-2h0m0 0h0m0 2h0m0-2h0m0 0h0m0 0h0m0 1h0m1 0h0m0-4h0m0 3h0m1-1h0m0-1h0m0 0h0m0 2h0m1-1h0m0-1h0m0-1h0m0 1h0m0 1h0m0-1h0m0-1h0m0 0h0m0 0h0m0 1h0m1 2h0m0 3h0m0-2h0m0-1h0m0 3h0m0-3h0m0-1h0m0 2h0m1-1h0m0 0h0m0 3h0m0-1h0m0 1h0m0 0h0m0 0h0m0-1h0m0-2h0m1 2h0m0 1h0m0-3h0m0 3h0m0 0h0m0 0h0m0-2h0m1 0h0m0 5h0m0 1h0m0 3h0m0-1h0m0 4h0m0-8h0m0 1h0m0-1h0m0 3h0m-1 0h0m0 0h0m0 7h0m0-11h0m0 6h0m0 2h0m0-8h0m0 10h0m0 0h0m0-7h0m0 8h0m0-8h0m0 3h0m0-4h0m0 1h0m0-2h0m0 6h0m0-4h0m0-2h0m0 0h0m0 10h0m0-3h0m0-8h0m0 0h0m-1 1h0m0 10h0m0-11h0m0 2h0m0-2h0m0 8h0m0 3h0m0-7h0m0 5h0m0-1h0m0 0h0m0 2h0m0-5h0m0 5h0m0-8h0m0-1h0m0 0h0m0 2h0m-1 6h0m0 2h0m0-11h0m0 9h0m0-7h0m0 2h0m0 7h0m0-2h0m0-2h0m0 4h0m0-7h0m0 2h0m0 3h0m0-7h0m0 0h0m0 9h0m0-9h0m-1 9h0m0 0h0m0-5h0m0 3h0m0 0h0m0 0h0m0 2h0m0-4h0m0 0h0m0 1h0m0-1h0m0-3h0m0 5h0m0-2h0m0-2h0m-1 1h0m0-3h0m0 7h0m0-7h0m0 0h0m0 6h0m0-2h0m0 3h0m0 0h0m0-1h0m0-3h0m0 3h0m0-5h0m0 1h0m0 5h0m0-2h0m0-3h0m0-2h0m0-1h0m0 1h0m-1 7h0m0-4h0m0-1h0m0 6h0m0-9h0m0 7h0m0-5h0m0 4h0m0 5h0m0 1h0m0-2h0m0 0h0m0 1h0m1 2h0m0-1h0m0-2h0m0 1h0m0 0h0m0-1h0m1 3h0m0-2h0m0 0h0m0 1h0m0-1h0m0 1h0m0-1h0m0-1h0m0 1h0m0 1h0m0 0h0m0 0h0m0-2h0m1 2h0m0-1h0m0 0h0m0 0h0m0 0h0m0-1h0m0 2h0m1-1h0m0 0h0m0 1h0m0 0h0m0-1h0m1 1h0m0 0h0m0 1h0m0-3h0m0 2h0m1 1h0m0-3h0" stroke="#2bd591" stroke-width="1.5" stroke-linecap="square"/>
<path transform="scale(.5)" d="M1173 969h0m0 1h0m0-1h0m0 2h0m1-3h0m0 1h0m0 0h0m1 2h0m0-3h0m0 2h0m0-1h0m0-1h0m0 2h0m0-1h0m0 2h0m0-2h0m0-1h0m0 0h0m0 3h0m0-3h0m1 1h0m0 0h0m0 2h0m0 1h0m0 0h0m0 2h0m-1-2h0m0 1h0m0-1h0m0 1h0m-1-1h0m0 0h0m0 2h0m0-1h0m0 0h0" stroke="#6ee646" stroke-width="1.5" stroke-linecap="square"/>
<path d="M569 503.6V461H595.4V476.8Z" fill="none" stroke="#f07c7c" stroke-width=".45"/>
<path d="M569 503.6V524.8H595.4V476.8" fill="none" stroke="#78bc78" stroke-width=".45"/>
<path d="M569 503.6L595.4 476.8" stroke="#9a9672" stroke-width=".45"/>
<text x="570" y="464.6" font-size="3.3" fill="#e03030">JC-1 red(40.20%)</text>
<text x="570" y="523.8" font-size="3.3" fill="#3a9a3a">JC-1 green(59.79%)</text>
<text x="570" y="450.8" font-size="11.5" text-anchor="middle" stroke="#1a1a1a" stroke-width="0.3">5 μg/mL</text>
<rect x="622.5" y="456.6" width="69" height="69.3" fill="none" stroke="#b4b4b4" stroke-width="0.8"/>
<text x="620.5" y="526.9" font-size="3.4" text-anchor="end" fill="#666">10<tspan font-size="70%" dy="-1.2">0</tspan></text>
<text x="620.5" y="513.2" font-size="3.4" text-anchor="end" fill="#666">10<tspan font-size="70%" dy="-1.2">1</tspan></text>
<text x="620.5" y="499.6" font-size="3.4" text-anchor="end" fill="#666">10<tspan font-size="70%" dy="-1.2">2</tspan></text>
<text x="620.5" y="485.9" font-size="3.4" text-anchor="end" fill="#666">10<tspan font-size="70%" dy="-1.2">3</tspan></text>
<text x="620.5" y="472.3" font-size="3.4" text-anchor="end" fill="#666">10<tspan font-size="70%" dy="-1.2">4</tspan></text>
<text x="620.5" y="458.6" font-size="3.4" text-anchor="end" fill="#666">10<tspan font-size="70%" dy="-1.2">5</tspan></text>
<text x="622.5" y="530.5" font-size="3.4" text-anchor="middle" fill="#666">10<tspan font-size="70%" dy="-1.2">0</tspan></text>
<text x="636.1" y="530.5" font-size="3.4" text-anchor="middle" fill="#666">10<tspan font-size="70%" dy="-1.2">1</tspan></text>
<text x="649.7" y="530.5" font-size="3.4" text-anchor="middle" fill="#666">10<tspan font-size="70%" dy="-1.2">2</tspan></text>
<text x="663.3" y="530.5" font-size="3.4" text-anchor="middle" fill="#666">10<tspan font-size="70%" dy="-1.2">3</tspan></text>
<text x="676.9" y="530.5" font-size="3.4" text-anchor="middle" fill="#666">10<tspan font-size="70%" dy="-1.2">4</tspan></text>
<text x="690.5" y="530.5" font-size="3.4" text-anchor="middle" fill="#666">10<tspan font-size="70%" dy="-1.2">5</tspan></text>
<path d="M622.5 456.6V525.9H691.5M622.5 525.9h1.6M622.5 523.2h.8M622.5 520.4h.8M622.5 517.7h.8M622.5 515h.8M622.5 512.2h1.6M622.5 509.5h.8M622.5 506.8h.8M622.5 504h.8M622.5 501.3h.8M622.5 498.6h1.6M622.5 495.8h.8M622.5 493.1h.8M622.5 490.4h.8M622.5 487.7h.8M622.5 484.9h1.6M622.5 482.2h.8M622.5 479.5h.8M622.5 476.7h.8M622.5 474h.8M622.5 471.3h1.6M622.5 468.5h.8M622.5 465.8h.8M622.5 463.1h.8M622.5 460.3h.8M622.5 457.6h1.6M622.5 525.9v-1.6M625.2 525.9v-.8M627.9 525.9v-.8M630.7 525.9v-.8M633.4 525.9v-.8M636.1 525.9v-1.6M638.8 525.9v-.8M641.5 525.9v-.8M644.3 525.9v-.8M647 525.9v-.8M649.7 525.9v-1.6M652.4 525.9v-.8M655.1 525.9v-.8M657.9 525.9v-.8M660.6 525.9v-.8M663.3 525.9v-1.6M666 525.9v-.8M668.7 525.9v-.8M671.5 525.9v-.8M674.2 525.9v-.8M676.9 525.9v-1.6M679.6 525.9v-.8M682.3 525.9v-.8M685.1 525.9v-.8M687.8 525.9v-.8M690.5 525.9v-1.6" stroke="#707070" stroke-width=".5" fill="none"/>
<path transform="scale(.5)" d="M1353 930h0m-27 5h0m0-6h0m-3-1h0m-7-2h0m-14 17h0m47-1h0m3-4h0m17 21h0m-2-11h0m-15 0h0m-1 3h0m-29 7h0m-5-7h0m0-2h0m-6 7h0m-1-1h0m11 6h0m1 1h0m8 5h0m32-2h0m1 7h0m-3 7h0m-31-3h0m-7-1h0m-1 0h0m-1 3h0m-12 16h0m56-4h0m-27 14h0m-28 11h0m3-4h0m10-3h0m4 4h0m8 7h0m2-6h0m8 5h0m17 1h0m1-7h0m-3 12h0m-2 2h0m-6-2h0m-4-1h0m-15 2h0m23 7h0" stroke="#787dfc" stroke-width="1.5" stroke-linecap="square"/>
<path transform="scale(.5)" d="M1322 934h0m-1 1h0m-1-3h0m-1-1h0m0 1h0m0 1h0m-1-5h0m-3 2h0m0 1h0m0-3h0m-1 1h0m0 2h0m-2-1h0m-1-1h0m-1 2h0m-1-1h0m-1 0h0m-2 5h0m-1-1h0m0-2h0m0 3h0m-1-3h0m-1 3h0m4 4h0m1 0h0m1 5h0m0-4h0m2 4h0m3 1h0m1-1h0m2-1h0m2-1h0m0-6h0m1 10h0m0-8h0m0 2h0m0-3h0m1 2h0m0 7h0m0-4h0m1 4h0m1-7h0m1-1h0m2 5h0m1 2h0m1-7h0m1 6h0m0 0h0m0-2h0m1-2h0m3 3h0m0 4h0m1-1h0m8 1h0m0-2h0m3 2h0m1-4h0m0 2h0m3 2h0m6 10h0m-1 0h0m-1-5h0m-4 5h0m-1-3h0m-1 0h0m-1 1h0m0-7h0m0 1h0m0 4h0m-3-2h0m0 3h0m0-3h0m-1-1h0m-1-1h0m-1 2h0m-1-2h0m-2 0h0m0 1h0m-1-1h0m-4 10h0m0-11h0m-2 11h0m-1-1h0m0 1h0m-2-10h0m-1 8h0m0-9h0m0 4h0m-1 7h0m0-8h0m-1-3h0m-1 3h0m-1 8h0m0-4h0m-1-6h0m11 15h0m1-3h0m1-1h0m0 0h0m3 7h0m0-3h0m1-1h0m0 7h0m17-8h0m0-2h0m2 4h0m1 4h0m-1 9h0m-20-4h0m-1 22h0m21-4h0m2 6h0m-1 2h0m0-3h0m-1 3h0m-1 2h0m-1 3h0m0-2h0m-1-1h0m-1 3h0m-1 2h0m0 1h0m0-4h0m-3 3h0m0 1h0m-4-1h0m-1 0h0m-1-2h0m-3-6h0m-2 0h0m5 16h0m0 0h0m0-1h0m1-5h0m0 5h0m1-5h0m1 3h0m0-3h0m1 4h0m2-4h0m0 5h0m1-3h0m1 0h0m0 3h0m0 1h0m1 1h0m0 4h0m3-5h0m0-5h0m2 5h0" stroke="#4f60f9" stroke-width="1.5" stroke-linecap="square"/>
<path transform="scale(.5)" d="M1318 934h0m-3 1h0m0 0h0m0-1h0m-2 1h0m0-1h0m-1 0h0m-1 1h0m-1 0h0m0-2h0m0 2h0m-2 0h0m-1 0h0m-1 2h0m1-1h0m1 1h0m0-1h0m1 4h0m0 0h0m1 1h0m0-2h0m0-1h0m1 3h0m0-2h0m1-1h0m0 2h0m0 1h0m1-4h0m0 5h0m0-2h0m1-1h0m0-3h0m0 1h0m0 1h0m0 2h0m0-1h0m1-2h0m1-1h0m0 2h0m0 1h0m1-2h0m0 4h0m0-2h0m1 1h0m7 6h0m0 1h0m1 0h0m3 0h0m1 0h0m22 12h0m0-1h0m-3 1h0m-3 0h0m0 0h0m0-1h0m0-2h0m-1 3h0m0-3h0m0 3h0m-2 0h0m0 0h0m-1-1h0m-1 0h0m0 1h0m-1-7h0m0 1h0m-1 2h0m0 0h0m0-1h0m-1 2h0m-2-3h0m0 3h0m-1 2h0m0 0h0m0-6h0m-1 3h0m0-5h0m0 4h0m-1-2h0m0-1h0m0 1h0m0 2h0m0-3h0m-1 4h0m-1 2h0m-1-3h0m0 0h0m0 0h0m-1 0h0m0-5h0m-2-1h0m0 0h0m-1 0h0m9 13h0m3 0h0m0-1h0m0 2h0m1-2h0m0 1h0m1 10h0m0-3h0m0 1h0m0-8h0m0 0h0m0 1h0m0 3h0m0 3h0m1 2h0m1-10h0m1 0h0m0 1h0m2-1h0m6 3h0m0-1h0m0 1h0m0-2h0m1 2h0m0-2h0m2 8h0m0-6h0m1 7h0m0-4h0m0-1h0m2 3h0m1 13h0m0 1h0m-1 1h0m-17 7h0m0-3h0m1 2h0m0 6h0m18-9h0m-7 16h0m-1-1h0m-1 3h0m-2-1h0m0 1h0m-1-3h0m0 4h0m0-4h0m0 0h0m0 4h0m-2-3h0m0-2h0m-1 0h0m-1 0h0m-1 1h0m-1-5h0m0 1h0m-3-1h0" stroke="#3256f8" stroke-width="1.5" stroke-linecap="square"/>
<path transform="scale(.5)" d="M1340 971h0m1-9h0m1 5h0m0-2h0m0-1h0m0-1h0m0 0h0m0 2h0m2 0h0m1-3h0m0 0h0m0 0h0m0 0h0m1 2h0m2 0h0m0 0h0m0-1h0m0 0h0m1 1h0m0-2h0m0-1h0m2 7h0m0-1h0m1 0h0m0-1h0m4 17h0m0-8h0m0 2h0m-1-4h0m0 4h0m-1-3h0m0 2h0m0-2h0m0 7h0m0-9h0m0 11h0m0-1h0m0-7h0m-13 8h0m-1-6h0m0 1h0m0-3h0m0 3h0m0-5h0m0 0h0m-1 5h0m0-3h0m0 0h0m0 4h0m0 0h0m0-4h0m-1 6h0m0 0h0m0 1h0m0 4h0m1-1h0m0 0h0m1 0h0m0 2h0m0-1h0m1 9h0m0-1h0m1 1h0m0 0h0m12-2h0m0-1h0m0 3h0m0-9h0m0 0h0m0 6h0m0-4h0m0-1h0m0 6h0m1-4h0m0 1h0m0-3h0m0-3h0m1 0h0m0 6h0m0 3h0m0 1h0m1-7h0m0-1h0m-1 10h0m0 0h0m-2 3h0m0-2h0m-2 2h0m-1-2h0m0 2h0m-1 3h0m0-2h0m-1 1h0m0 0h0m-3-3h0m0 0h0m0-1h0m-1 2h0m0-2h0m0 0h0m-2-1h0" stroke="#2567f9" stroke-width="1.5" stroke-linecap="square"/>
<path transform="scale(.5)" d="M1341 970h0m2 1h0m0-2h0m1 0h0m0-2h0m1-2h0m1 1h0m0 1h0m0-1h0m1-1h0m0 1h0m0 0h0m1 0h0m0 1h0m1 0h0m0-1h0m1 0h0m0 1h0m1-2h0m0 6h0m0-3h0m0 3h0m1-1h0m1-1h0m2 11h0m0-2h0m-14 14h0m0-1h0m1 2h0m0-3h0m0 2h0m1 1h0m0-2h0m1 1h0m0 1h0m3 2h0m4-1h0m0 1h0m0 0h0m1-1h0m0 1h0m0-1h0m1 1h0m0 1h0m0 0h0m-1 0h0m0 0h0m-1 3h0m0-3h0m-1 2h0m0-1h0m-1 1h0m0-1h0m0 1h0m0 0h0m0-1h0m-1 1h0m0 1h0m0 0h0m0-1h0m0 0h0m-1-2h0m-1 0h0m-1 0h0" stroke="#1978fa" stroke-width="1.5" stroke-linecap="square"/>
<path transform="scale(.5)" d="M1344 971h0m0 11h0m0 1h0m0 0h0m-1 0h0m0-2h0m0-8h0m0 10h0m0-1h0m0-9h0m0 9h0m-1 1h0m0-9h0m0 8h0m-1-10h0m0 1h0m0 13h0m0 3h0m0-2h0m2 3h0m0 0h0m0-3h0m0-3h0m0 3h0m0 2h0m1-1h0m0-4h0m0 0h0m0 3h0m0 0h0m4 8h0m0 0h0m0-1h0m1 1h0m0-1h0m1 1h0m0 0h0m1-3h0m0 1h0m0-1h0m0-1h0m0 1h0m0-1h0m1 1h0m0 1h0m0 0h0m1 0h0m1 0h0m-3 3h0m-1 0h0m-2 0h0" stroke="#159aed" stroke-width="1.5" stroke-linecap="square"/>
<path transform="scale(.5)" d="M1344 970h0m0-1h0m0 0h0m0 0h0m0 0h0m1 1h0m0-2h0m0 2h0m1 0h0m0-1h0m0 1h0m0 1h0m0-2h0m0 1h0m0 0h0m1-2h0m0 2h0m0-2h0m0 0h0m0 0h0m0 0h0m1 2h0m1-1h0m0 1h0m0 0h0m0 0h0m0 0h0m0 0h0m0-1h0m1 2h0m0-2h0m0 1h0m0 1h0m4 3h0m0 3h0m0-2h0m0 2h0m0 5h0m-1-2h0m0-1h0m0-5h0m0 6h0m0-1h0m0-2h0m0 1h0m0 0h0m0-4h0m-1 9h0m0-2h0m0-8h0m0 5h0m0 3h0m0-8h0m0 3h0m0 3h0m0-1h0m0 4h0m0-3h0m0-6h0m0 9h0m0-9h0m0-1h0m0 1h0m0 4h0m0-3h0m0 9h0m0-2h0m0-8h0m-1 9h0m0-7h0m0-2h0m0 6h0m0 1h0m0-8h0m0 8h0m0-4h0m0 1h0m0-3h0m0 2h0m0 2h0m0-3h0m0 6h0m0-3h0m-7 2h0m0-6h0m-1 4h0m0-2h0m0-1h0m0 3h0m0-1h0m0-1h0m0 1h0m0-1h0m0 0h0m-1-2h0m0 4h0m0-1h0m0-1h0m0 3h0m0 1h0m-1-6h0m0 1h0m0 4h0m0-3h0m3 16h0m0 1h0m0-2h0m1 1h0m0 0h0m1-1h0m0 1h0m0 0h0m0-2h0m1 3h0m0-1h0m0 0h0m0 0h0m0-1h0m0 1h0m0-1h0m1-1h0m1 1h0m0 0h0m0 0h0m0 0h0m1 0h0m0 1h0m0 1h0m1-7h0m0-1h0m0 3h0m0-2h0m1-2h0m0 4h0m0-2h0m0 2h0m0 2h0m0-2h0m0 2h0m0-4h0m0 1h0m1 3h0m0-6h0m0 6h0m0-4h0m0 2h0" stroke="#17bace" stroke-width="1.5" stroke-linecap="square"/>
<path transform="scale(.5)" d="M1345 971h0m2 0h0m0 0h0m0 0h0m3 12h0m0-1h0m0 0h0m0 1h0m0-1h0m-1 0h0m0-1h0m0 0h0m0 1h0m-1-1h0m0 2h0m0 0h0m0 0h0m0-1h0m-1 1h0m0-2h0m0-8h0m0 1h0m0 0h0m0 8h0m0-9h0m-1 8h0m0-9h0m0 11h0m0-11h0m0 11h0m0-2h0m0-8h0m0 1h0m0 7h0m0 1h0m0 0h0m0-1h0m0-9h0m0 2h0m0 0h0m-1 7h0m0 0h0m0-8h0m0 10h0m0-1h0m0-1h0m0 2h0m0 0h0m0-1h0m0 0h0m0-10h0m-1 10h0m0-9h0m0 15h0m0-2h0m0 2h0m0-4h0m0 0h0m1 2h0m0 0h0m0 2h0m0-4h0m0 5h0m0-5h0m1 5h0m0-2h0m0 3h0m0-3h0m0 3h0m0-2h0m0-4h0m0 6h0m0-3h0m0-3h0m0 0h0m1 6h0m0-3h0m0 2h0m0-4h0m0 0h0m0 0h0m0 1h0m0 2h0m0-3h0m0 4h0m0-2h0m0 3h0m0-2h0m0-2h0m0 3h0m1-3h0m0-1h0m0 4h0m0-4h0m0 4h0m0-1h0m0-3h0m0 2h0m0-2h0m0 3h0m0 0h0m0-4h0m0 0h0m1 4h0m0-1h0m0 0h0m0 0h0m0-3h0m0 4h0m0 0h0m0 1h0m0-1h0m0-1h0m0-3h0m1 5h0m0-1h0m0-1h0m0 1h0m0-4h0m0 2h0m0 3h0m0-2h0m0 3h0m0-1h0" stroke="#2bd591" stroke-width="1.5" stroke-linecap="square"/>
<path transform="scale(.5)" d="M1347 971h0m1 0h0m0 0h0m2 0h0m0 0h0m1 3h0m-1 4h0m0-5h0m0 5h0m0-6h0m0 4h0m0 0h0m0 0h0m0 4h0m0-1h0m0-7h0m-1 5h0m0-5h0m0 8h0m0-2h0m0-3h0m0 2h0m0-3h0m0 3h0m0-3h0m0 0h0m0 0h0m0-2h0m0 6h0m0-2h0m-1-1h0m0-3h0m0 6h0m0-1h0m0-1h0m0-2h0m0-2h0m0 1h0m0-1h0m0 4h0m0 3h0m0-5h0m0-2h0m0 2h0m0 5h0m0-5h0m0 2h0m0 1h0m0-4h0m0 0h0m0 4h0m0 1h0m-1-2h0m0 2h0m0-3h0m0 4h0m0 0h0m0 1h0m0 0h0m0-1h0m0-5h0m0 1h0m0 3h0m0-2h0m0-2h0m0 5h0m0-3h0m0 0h0m0-1h0m0 0h0m0 0h0m0 2h0m-1 2h0m0-4h0m0 4h0m0-4h0m0 1h0m0 3h0m0-1h0m0-1h0m-1-3h0m0 3h0m0-2h0m0 3h0m-1-4h0m0 5h0m0-2h0m0 3h0m0-3h0" stroke="#6ee646" stroke-width="1.5" stroke-linecap="square"/>
<path d="M656.3 503.6V461H682.7V476.8Z" fill="none" stroke="#f07c7c" stroke-width=".45"/>
<path d="M656.3 503.6V524.8H682.7V476.8" fill="none" stroke="#78bc78" stroke-width=".45"/>
<path d="M656.3 503.6L682.7 476.8" stroke="#9a9672" stroke-width=".45"/>
<text x="657.3" y="464.6" font-size="3.3" fill="#e03030">JC-1 red(38.29%)</text>
<text x="657.3" y="523.8" font-size="3.3" fill="#3a9a3a">JC-1 green(62.84%)</text>
<text x="657" y="450.8" font-size="11.5" text-anchor="middle" stroke="#1a1a1a" stroke-width="0.3">10 μg/mL</text>
<rect x="708.8" y="456.6" width="69" height="69.3" fill="none" stroke="#b4b4b4" stroke-width="0.8"/>
<text x="706.8" y="526.9" font-size="3.4" text-anchor="end" fill="#666">10<tspan font-size="70%" dy="-1.2">0</tspan></text>
<text x="706.8" y="513.2" font-size="3.4" text-anchor="end" fill="#666">10<tspan font-size="70%" dy="-1.2">1</tspan></text>
<text x="706.8" y="499.6" font-size="3.4" text-anchor="end" fill="#666">10<tspan font-size="70%" dy="-1.2">2</tspan></text>
<text x="706.8" y="485.9" font-size="3.4" text-anchor="end" fill="#666">10<tspan font-size="70%" dy="-1.2">3</tspan></text>
<text x="706.8" y="472.3" font-size="3.4" text-anchor="end" fill="#666">10<tspan font-size="70%" dy="-1.2">4</tspan></text>
<text x="706.8" y="458.6" font-size="3.4" text-anchor="end" fill="#666">10<tspan font-size="70%" dy="-1.2">5</tspan></text>
<text x="708.8" y="530.5" font-size="3.4" text-anchor="middle" fill="#666">10<tspan font-size="70%" dy="-1.2">0</tspan></text>
<text x="722.4" y="530.5" font-size="3.4" text-anchor="middle" fill="#666">10<tspan font-size="70%" dy="-1.2">1</tspan></text>
<text x="736" y="530.5" font-size="3.4" text-anchor="middle" fill="#666">10<tspan font-size="70%" dy="-1.2">2</tspan></text>
<text x="749.6" y="530.5" font-size="3.4" text-anchor="middle" fill="#666">10<tspan font-size="70%" dy="-1.2">3</tspan></text>
<text x="763.2" y="530.5" font-size="3.4" text-anchor="middle" fill="#666">10<tspan font-size="70%" dy="-1.2">4</tspan></text>
<text x="776.8" y="530.5" font-size="3.4" text-anchor="middle" fill="#666">10<tspan font-size="70%" dy="-1.2">5</tspan></text>
<path d="M708.8 456.6V525.9H777.8M708.8 525.9h1.6M708.8 523.2h.8M708.8 520.4h.8M708.8 517.7h.8M708.8 515h.8M708.8 512.2h1.6M708.8 509.5h.8M708.8 506.8h.8M708.8 504h.8M708.8 501.3h.8M708.8 498.6h1.6M708.8 495.8h.8M708.8 493.1h.8M708.8 490.4h.8M708.8 487.7h.8M708.8 484.9h1.6M708.8 482.2h.8M708.8 479.5h.8M708.8 476.7h.8M708.8 474h.8M708.8 471.3h1.6M708.8 468.5h.8M708.8 465.8h.8M708.8 463.1h.8M708.8 460.3h.8M708.8 457.6h1.6M708.8 525.9v-1.6M711.5 525.9v-.8M714.2 525.9v-.8M717 525.9v-.8M719.7 525.9v-.8M722.4 525.9v-1.6M725.1 525.9v-.8M727.8 525.9v-.8M730.6 525.9v-.8M733.3 525.9v-.8M736 525.9v-1.6M738.7 525.9v-.8M741.4 525.9v-.8M744.2 525.9v-.8M746.9 525.9v-.8M749.6 525.9v-1.6M752.3 525.9v-.8M755 525.9v-.8M757.8 525.9v-.8M760.5 525.9v-.8M763.2 525.9v-1.6M765.9 525.9v-.8M768.6 525.9v-.8M771.4 525.9v-.8M774.1 525.9v-.8M776.8 525.9v-1.6" stroke="#707070" stroke-width=".5" fill="none"/>
<path transform="scale(.5)" d="M1508 934h0m0-2h0m-4 3h0m-12-11h0m-13 6h0m4 14h0m24-3h0m1-3h0m7 6h0m5 3h0m0-5h0m9 3h0m1 10h0m-1-6h0m-29 10h0m-3-1h0m-9-10h0m-2 0h0m-3 17h0m2-4h0m5 4h0m2 5h0m10-9h0m2 6h0m29 1h0m3-3h0m-2 9h0m-28 5h0m-8-4h0m-14 17h0m8 2h0m45-9h0m-28 22h0m0-8h0m0 12h0m3 0h0m1 3h0m9 5h0m11-11h0m1 1h0m1 6h0m-1 15h0m-6-6h0m-1-2h0m-1 5h0m0-5h0m-4-1h0m-3 6h0m-25 1h0m-4 7h0m47 0h0" stroke="#787dfc" stroke-width="1.5" stroke-linecap="square"/>
<path transform="scale(.5)" d="M1501 929h0m-1 3h0m-2 3h0m-1-3h0m-1 0h0m0-1h0m0 0h0m0 0h0m0 1h0m-7-3h0m0-2h0m-1 2h0m-1 2h0m-1 1h0m0-1h0m0-3h0m-1 5h0m-1 0h0m-1-1h0m0 6h0m1 0h0m1-2h0m2 7h0m0-4h0m0-2h0m1 3h0m1 6h0m2-6h0m0 5h0m2-3h0m1 0h0m0 3h0m0 1h0m2-2h0m0 1h0m0-3h0m0-6h0m0 0h0m1 10h0m1-6h0m0 1h0m0-5h0m0 0h0m0 4h0m2 2h0m0-1h0m0 5h0m0-1h0m2-1h0m0 3h0m1-1h0m0 0h0m1 1h0m0-11h0m1 10h0m1 0h0m0 1h0m2-2h0m2 1h0m17 13h0m-1-6h0m-1-3h0m0 6h0m-2-6h0m0-1h0m-2 0h0m0 4h0m-2-2h0m0 1h0m-3-1h0m-1 0h0m-7-3h0m-1 7h0m0-2h0m-1 5h0m-1-3h0m-1 1h0m0-4h0m-1-4h0m-2 0h0m0 5h0m-1-3h0m0 7h0m0-5h0m-1-4h0m0 2h0m0 0h0m-1 4h0m-2-4h0m0 3h0m0-5h0m-1 4h0m-2-2h0m13 10h0m1 0h0m3 6h0m1-5h0m1 1h0m1 3h0m13-4h0m3 5h0m0-5h0m-19 16h0m-1 11h0m1 4h0m0-6h0m21-2h0m1 15h0m0 7h0m0-8h0m-1 3h0m-1-3h0m0 2h0m-3 3h0m-13 3h0m0 1h0m-1-11h0m-1 5h0m0 3h0m0-3h0m2 9h0m4 4h0m2-3h0m0-2h0m0 7h0m0-2h0m1-3h0m1 0h0m0-1h0m1 1h0m1 5h0m0 1h0m1-5h0m2-1h0m1 1h0m0 3h0m0-5h0m1 2h0m0 1h0" stroke="#4f60f9" stroke-width="1.5" stroke-linecap="square"/>
<path transform="scale(.5)" d="M1498 935h0m-2-2h0m-2 1h0m-1-3h0m0 2h0m-1 0h0m0 0h0m0-1h0m0 0h0m-1 3h0m0-1h0m0-4h0m0 4h0m-1-5h0m0 6h0m-1-4h0m0 2h0m-1-2h0m0 3h0m0-1h0m0 1h0m-2-1h0m0 1h0m3 3h0m0-1h0m1 0h0m1 1h0m1-1h0m0 0h0m2 0h0m0 2h0m29 21h0m-1 0h0m0-2h0m-1 0h0m-1 2h0m-1-4h0m-1 2h0m-1-3h0m0 3h0m0 0h0m0 1h0m-1-1h0m0 1h0m0-3h0m0 4h0m0 0h0m0-7h0m-1 1h0m-1 0h0m-1-1h0m-1 3h0m0-3h0m0 2h0m0-1h0m0 4h0m-1-5h0m0 4h0m0-1h0m-1-7h0m0 7h0m0-2h0m0 2h0m-1-1h0m0-3h0m-1 1h0m0 1h0m-1-2h0m0 0h0m0-1h0m-1 1h0m-1 0h0m0 0h0m-2-1h0m-2-2h0m10 21h0m2 2h0m1-10h0m0 1h0m1-1h0m2 1h0m3-1h0m2 0h0m2 3h0m0 2h0m1-1h0m4 17h0m0-6h0m-1 7h0m0-6h0m-14-3h0m-1 2h0m0-2h0m0 3h0m-1-5h0m-1 19h0m1-1h0m0-5h0m0 4h0m0-3h0m1 4h0m0-5h0m0 5h0m0 1h0m13 0h0m0 1h0m0-1h0m1-7h0m0 6h0m1 4h0m1-3h0m1-6h0m-1 15h0m-1-3h0m0 0h0m-1 5h0m-1 4h0m-1-1h0m0 2h0m-1-1h0m0 0h0m0-2h0m0 2h0m-1 1h0m-2-1h0m-1-2h0m-3 0h0m-1-6h0m0-1h0m-1 4h0m-1 0h0m3 7h0m0 0h0m4 0h0m0 0h0m1 0h0m3 1h0" stroke="#3256f8" stroke-width="1.5" stroke-linecap="square"/>
<path transform="scale(.5)" d="M1520 959h0m0-1h0m-1 1h0m0 0h0m-5 6h0m1 2h0m1-2h0m1-2h0m1 0h0m0-2h0m0 0h0m0-1h0m0 3h0m1 1h0m0-3h0m0 0h0m0 0h0m0 0h0m0 3h0m1-2h0m0 1h0m0 1h0m0-2h0m2 2h0m0-1h0m0 0h0m0 0h0m1-1h0m0 7h0m0-7h0m1 7h0m0 0h0m-11 12h0m0 1h0m-1-4h0m0 1h0m0 4h0m-1-3h0m2 4h0m1 11h0m1-1h0m0 1h0m1-2h0m11-5h0m0 0h0m0 1h0m2-1h0m-3 11h0m-1-1h0m0 2h0m0 1h0m0-2h0m-1 0h0m0-1h0m0 4h0m0-2h0m0-3h0m0 5h0m-1 1h0m0 0h0m0 2h0m0 0h0m-1 1h0m0 0h0m0-6h0m0 2h0m0 3h0m-1-4h0m0 3h0m0-1h0m-1-6h0m0 4h0m0 2h0m0 0h0m0-1h0m0-1h0m0-1h0m0 0h0m0 0h0m-1-2h0m0 2h0m0-2h0m0 3h0m-1 0h0m0-3h0m0-1h0m0 4h0m-1-1h0m0 0h0m0 3h0m0-1h0" stroke="#2567f9" stroke-width="1.5" stroke-linecap="square"/>
<path transform="scale(.5)" d="M1514 970h0m1-1h0m0 1h0m1 0h0m0-1h0m0 1h0m1-5h0m0 2h0m0-2h0m0 3h0m0 0h0m1-3h0m0 1h0m0 0h0m0 1h0m1 0h0m1-2h0m0 1h0m0-1h0m0 2h0m0 0h0m1-1h0m0 1h0m0-1h0m1 0h0m0 1h0m1-1h0m0 2h0m1 3h0m1 0h0m1 0h0m0 5h0m-1 0h0m0-4h0m-1 3h0m0 1h0m0-1h0m0-1h0m0 3h0m0-1h0m-1-4h0m-9 17h0m0 2h0m1 0h0m0-4h0m0 0h0m1 0h0m0 3h0m0 2h0m0 0h0m0-3h0m0 1h0m1 3h0m0-1h0m1 2h0m0 1h0m1-1h0m0 0h0m1 0h0m0 1h0m0 0h0m0-1h0m3-1h0m0-2h0m1 2h0m0-1h0m0 3h0m0-4h0m0 2h0m1-1h0m0-1h0m0 4h0m0-3h0m0 1h0m1 1h0m0-4h0m0 4h0m0-4h0m0 2h0m-2 4h0m-1 2h0m0 1h0m-1 0h0m0-2h0m0 0h0m0 2h0m-1-1h0m0 1h0m-1-2h0m0-1h0m-1 0h0m-1 0h0m-1 0h0" stroke="#1978fa" stroke-width="1.5" stroke-linecap="square"/>
<path transform="scale(.5)" d="M1514 971h0m3-3h0m0 0h0m0 0h0m0 3h0m1-3h0m0 2h0m0-1h0m1-1h0m0 2h0m0-2h0m0 0h0m0 1h0m0-1h0m1 3h0m0-3h0m0 1h0m0-1h0m0 1h0m1 0h0m0 0h0m0 1h0m0 0h0m0 0h0m0 1h0m0-3h0m0 2h0m0-2h0m1 0h0m0 2h0m1-1h0m3 13h0m0 1h0m0-1h0m0 1h0m-1 0h0m0-5h0m0 2h0m-1-2h0m0 3h0m0 2h0m-1-4h0m0 3h0m0-1h0m0 0h0m0-3h0m-6 0h0m0 2h0m0-6h0m0 5h0m-1-1h0m0-3h0m0 0h0m0 4h0m0 0h0m0 3h0m0 0h0m0-7h0m0 0h0m0 4h0m0 4h0m0-11h0m0 9h0m-1-8h0m0 7h0m0-6h0m0 3h0m0 4h0m0 0h0m0-1h0m0-6h0m0 7h0m0-7h0m0 6h0m0-7h0m0 6h0m0-4h0m-1 8h0m0-2h0m0-6h0m0-2h0m0 11h0m0 0h0m0 2h0m2-1h0m0 0h0m1 8h0m0 0h0m0-7h0m0 0h0m1 6h0m0-1h0m0 1h0m1 1h0m1 0h0m0-1h0m0-2h0m0 2h0m0-1h0m0-1h0m0 0h0m0 2h0m1 1h0m0 2h0m0-5h0m0 2h0m0 1h0m0 2h0m0-2h0m1-3h0m0 2h0m0 2h0m0-3h0m0 4h0m0-3h0m1-5h0m0 3h0m0 2h0m0-7h0m1 2h0m0-1h0m0 3h0m0-3h0m0 3h0m0 0h0m0-4h0m1 3h0m0-3h0m0 4h0m0-2h0m0-1h0m1 2h0m0 1h0m0-5h0m-3 12h0m0 0h0m-1 0h0m0 0h0m0 0h0m0 0h0m-1 0h0" stroke="#159aed" stroke-width="1.5" stroke-linecap="square"/>
<path transform="scale(.5)" d="M1517 971h0m2 0h0m3 0h0m1 1h0m-1 0h0m0 0h0m0 1h0m0 0h0m-1 0h0m0 0h0m0 0h0m0 0h0m-1 0h0m0 0h0m0-1h0m0 1h0m0 0h0m-1 0h0m0 1h0m0 0h0m0-2h0m0 1h0m-1 0h0m0 1h0m0-1h0m0-1h0m0 1h0m0 1h0m-1-1h0m0 1h0m0-1h0m0 1h0m0 13h0m0 3h0m0-2h0m1-1h0m0 3h0m0-2h0m0 0h0m0-1h0m0 3h0m0 0h0m1 0h0m0-2h0m0 0h0m0-1h0m1 3h0m0-2h0m0-1h0m0 2h0m0-1h0m1 1h0m1 1h0m0-2h0m0 0h0m0-1h0m1 2h0m0 1h0m0-3h0m0 1h0" stroke="#17bace" stroke-width="1.5" stroke-linecap="square"/>
<path transform="scale(.5)" d="M1523 975h0m0 1h0m-1-1h0m0-1h0m0 1h0m0 0h0m0 0h0m0-1h0m0 2h0m-1-1h0m0 0h0m0 1h0m0 1h0m0-3h0m0 0h0m0 3h0m0-2h0m0 0h0m0 0h0m0 1h0m-1 1h0m0-1h0m0 0h0m0 0h0m0-1h0m0 0h0m-1-1h0m0 2h0m0 0h0m0 0h0m0-2h0m-1 1h0m0 1h0m0 1h0m0-3h0m-1 0h0m0 2h0m0 0h0m0 0h0m0 1h0m0 8h0m0 0h0m0-1h0m0 0h0m0 0h0m1 0h0m0 0h0m0 2h0m0-2h0m0 0h0m0 2h0m0 0h0m0-1h0m0 0h0m0 0h0m1 0h0m0-1h0m0 0h0m0 2h0m0-1h0m0-1h0m0 2h0m1-1h0m0-1h0m0 1h0m0-1h0m0 2h0m0 1h0m0-1h0m0-2h0m1 0h0m0 1h0m0-1h0m0 2h0m0-1h0m0-1h0m0 0h0m0 1h0m0-1h0m0 1h0m1 2h0m0-2h0m0-1h0m0 1h0m0 1h0m1-2h0" stroke="#2bd591" stroke-width="1.5" stroke-linecap="square"/>
<path transform="scale(.5)" d="M1523 979h0m0 3h0m0 0h0m0-2h0m0 0h0m0-2h0m-1 2h0m0 2h0m0 1h0m0-1h0m0 1h0m0-1h0m0 0h0m0-2h0m0-2h0m0 1h0m0 1h0m0 2h0m0 0h0m-1-1h0m0 2h0m0-5h0m0 4h0m0-1h0m0 0h0m0 0h0m0 0h0m0 1h0m0-2h0m0-1h0m0 2h0m0-2h0m0 2h0m0 0h0m0 1h0m0-4h0m0 0h0m0 1h0m-1-1h0m0 1h0m0 4h0m0-1h0m0-3h0m0 2h0m0 0h0m0 0h0m0-1h0m0-3h0m0 4h0m0-2h0m0 2h0m0 2h0m0-4h0m-1-1h0m0 1h0m0 4h0m0-1h0m0-2h0m0-2h0m0 2h0m0 2h0m0-1h0m0-1h0m0-2h0m0 2h0m0 1h0m0-1h0m0-1h0m-1-1h0m0 3h0m0-1h0m0 1h0m0-1h0m0 3h0m0-5h0m0 1h0m0 2h0m0 2h0m0-2h0m0 1h0m0-2h0m0 0h0m-1 3h0m0-3h0m0 2h0m0 1h0m0-2h0m0-4h0m0 4h0m0-2h0m0-2h0m1 7h0" stroke="#6ee646" stroke-width="1.5" stroke-linecap="square"/>
<path d="M742.6 503.6V461H769V476.8Z" fill="none" stroke="#f07c7c" stroke-width=".45"/>
<path d="M742.6 503.6V524.8H769V476.8" fill="none" stroke="#78bc78" stroke-width=".45"/>
<path d="M742.6 503.6L769 476.8" stroke="#9a9672" stroke-width=".45"/>
<text x="743.6" y="464.6" font-size="3.3" fill="#e03030">JC-1 red(28.77%)</text>
<text x="743.6" y="523.8" font-size="3.3" fill="#3a9a3a">JC-1 green(71.17%)</text>
<text x="743.3" y="450.8" font-size="11.5" text-anchor="middle" stroke="#1a1a1a" stroke-width="0.3">20 μg/mL</text>
<text x="208.1" y="428.9" font-size="11.3" text-anchor="middle" stroke="#1a1a1a" stroke-width="0.3">143B</text>
<line x1="57.5" y1="433.4" x2="365" y2="433.4" stroke="#3c3c3c" stroke-width="1.25"/>
<text x="616.4" y="428.5" font-size="11.3" text-anchor="middle" stroke="#1a1a1a" stroke-width="0.3">MG63</text>
<line x1="464.5" y1="433.4" x2="772" y2="433.4" stroke="#3c3c3c" stroke-width="1.25"/>
<path d="M24.3 541.2V477.6M23.6 540.5H118" stroke="#333" stroke-width="1.45" fill="none"/>
<path d="M24.3 472.6l-3.3 7.4h6.6zM123 540.5l-7.4 -3.3v6.6z" fill="#111"/>
<path d="M429.5 542V477.6M428.8 541.3H523" stroke="#333" stroke-width="1.45" fill="none"/>
<path d="M429.5 472.6l-3.3 7.4h6.6zM528 541.3l-7.4 -3.3v6.6z" fill="#111"/>
<text x="22.1" y="509.4" font-size="11.3" text-anchor="middle" transform="rotate(-90 22.1 509.4)" stroke="#1a1a1a" stroke-width="0.3">JC-1 red</text>
<text x="426.3" y="510.6" font-size="11.3" text-anchor="middle" transform="rotate(-90 426.3 510.6)" stroke="#1a1a1a" stroke-width="0.3">JC-1 red</text>
<text x="71.3" y="552.5" font-size="11.3" text-anchor="middle" stroke="#1a1a1a" stroke-width="0.3">JC-1 green</text>
<text x="476.3" y="553.7" font-size="11.3" text-anchor="middle" stroke="#1a1a1a" stroke-width="0.3">JC-1 green</text>
<rect x="43.8" y="762.5" width="69.5" height="69" fill="none" stroke="#b4b4b4" stroke-width="0.8"/>
<text x="41.8" y="832.5" font-size="3.4" text-anchor="end" fill="#666">10<tspan font-size="70%" dy="-1.2">0</tspan></text>
<text x="41.8" y="818.9" font-size="3.4" text-anchor="end" fill="#666">10<tspan font-size="70%" dy="-1.2">1</tspan></text>
<text x="41.8" y="805.3" font-size="3.4" text-anchor="end" fill="#666">10<tspan font-size="70%" dy="-1.2">2</tspan></text>
<text x="41.8" y="791.7" font-size="3.4" text-anchor="end" fill="#666">10<tspan font-size="70%" dy="-1.2">3</tspan></text>
<text x="41.8" y="778.1" font-size="3.4" text-anchor="end" fill="#666">10<tspan font-size="70%" dy="-1.2">4</tspan></text>
<text x="41.8" y="764.5" font-size="3.4" text-anchor="end" fill="#666">10<tspan font-size="70%" dy="-1.2">5</tspan></text>
<text x="43.8" y="836.1" font-size="3.4" text-anchor="middle" fill="#666">10<tspan font-size="70%" dy="-1.2">0</tspan></text>
<text x="57.5" y="836.1" font-size="3.4" text-anchor="middle" fill="#666">10<tspan font-size="70%" dy="-1.2">1</tspan></text>
<text x="71.2" y="836.1" font-size="3.4" text-anchor="middle" fill="#666">10<tspan font-size="70%" dy="-1.2">2</tspan></text>
<text x="84.9" y="836.1" font-size="3.4" text-anchor="middle" fill="#666">10<tspan font-size="70%" dy="-1.2">3</tspan></text>
<text x="98.6" y="836.1" font-size="3.4" text-anchor="middle" fill="#666">10<tspan font-size="70%" dy="-1.2">4</tspan></text>
<text x="112.3" y="836.1" font-size="3.4" text-anchor="middle" fill="#666">10<tspan font-size="70%" dy="-1.2">5</tspan></text>
<path d="M43.8 762.5V831.5H113.3M43.8 831.5h1.6M43.8 828.8h.8M43.8 826.1h.8M43.8 823.3h.8M43.8 820.6h.8M43.8 817.9h1.6M43.8 815.2h.8M43.8 812.5h.8M43.8 809.7h.8M43.8 807h.8M43.8 804.3h1.6M43.8 801.6h.8M43.8 798.9h.8M43.8 796.1h.8M43.8 793.4h.8M43.8 790.7h1.6M43.8 788h.8M43.8 785.3h.8M43.8 782.5h.8M43.8 779.8h.8M43.8 777.1h1.6M43.8 774.4h.8M43.8 771.7h.8M43.8 768.9h.8M43.8 766.2h.8M43.8 763.5h1.6M43.8 831.5v-1.6M46.5 831.5v-.8M49.3 831.5v-.8M52 831.5v-.8M54.8 831.5v-.8M57.5 831.5v-1.6M60.2 831.5v-.8M63 831.5v-.8M65.7 831.5v-.8M68.5 831.5v-.8M71.2 831.5v-1.6M73.9 831.5v-.8M76.7 831.5v-.8M79.4 831.5v-.8M82.2 831.5v-.8M84.9 831.5v-1.6M87.6 831.5v-.8M90.4 831.5v-.8M93.1 831.5v-.8M95.9 831.5v-.8M98.6 831.5v-1.6M101.3 831.5v-.8M104.1 831.5v-.8M106.8 831.5v-.8M109.6 831.5v-.8M112.3 831.5v-1.6" stroke="#707070" stroke-width=".5" fill="none"/>
<path transform="scale(.5)" d="M122 1558h0m5 6h0m16 5h0m17-4h0m10-1h0m6 7h0m2-9h0m3 3h0m0-3h0m1-1h0m4 8h0m2-2h0m6-2h0m5 4h0m-5 6h0m-2 3h0m-1 1h0m-15-1h0m0-2h0m-4 0h0m-2 4h0m-2 3h0m-1-2h0m-1 1h0m-2-8h0m-2 9h0m-1-7h0m-44 19h0m23-3h0m12 1h0m10-2h0m3-6h0m2 6h0m1-7h0m1 10h0m2-10h0m1 2h0m0 3h0m0 1h0m10-3h0m2 4h0m1-3h0m3-1h0m1 3h0m3-2h0m3-3h0m7 15h0m-27-2h0m0 2h0m-1-3h0m-3-1h0m-1 1h0m-1 5h0m-4 3h0m-2-7h0m-1 8h0m0-8h0m-1 9h0m0-2h0m-1 0h0m0-9h0m-2 0h0m-6 5h0m-5-1h0m-9 5h0m0-2h0m-2-4h0m-17 17h0m1-7h0m46 3h0m40-3h0m-9 19h0m-31-8h0m-8 9h0m-9 2h0m-43-1h0m-1 1h0m2 4h0m36 7h0m60 10h0m-13-7h0m-33 3h0m-24-1h0m-21 4h0m18 5h0" stroke="#787dfc" stroke-width="1.5" stroke-linecap="square"/>
<path transform="scale(.5)" d="M178 1571h0m1 0h0m0-2h0m1 2h0m0-4h0m2 4h0m1-2h0m4 2h0m3 1h0m0 7h0m-1 0h0m0-3h0m-1 0h0m-1-1h0m0 3h0m-1 0h0m0 0h0m0-2h0m-1 1h0m-2 4h0m0 1h0m0-7h0m-2 0h0m0 7h0m0-7h0m0 6h0m-1-8h0m0 3h0m-2-3h0m-2 9h0m0 0h0m-4 12h0m2-1h0m2 1h0m1-2h0m0-8h0m0 0h0m1 6h0m0 3h0m0-9h0m1 11h0m0-6h0m0 0h0m1-3h0m0-1h0m0 4h0m-23 14h0m0 2h0m-3-3h0m0 5h0m-1 0h0m-1 0h0m0 0h0m-2-3h0m-1-1h0m0-1h0m0-1h0m0 4h0m-1 0h0m-1 2h0m0 0h0m0-3h0m-1-1h0m-2-1h0m0 2h0m-3 1h0m-1-1h0m-5 1h0m-1 0h0m-16 14h0m7-7h0m0 2h0m2 0h0m2-1h0m2-3h0m1 1h0m2 0h0m16-3h0m0 0h0m2 10h0m4-9h0m0 2h0m0-2h0m2 5h0m0 0h0m0-6h0m1 10h0m0-4h0m1 1h0m1-5h0m0 0h0m1 2h0m-9 12h0m0 0h0m-3-2h0m0 0h0m-1 0h0m-2 9h0m0-4h0m-29-3h0m0-1h0m0 0h0m-6 8h0m-1-3h0m1 6h0m1 5h0m1 1h0m0-3h0m1 3h0m1-3h0m0 1h0m0 0h0m0 5h0m1-2h0m0 0h0m1 0h0m1 1h0m0 1h0m11 0h0m1-2h0m5 0h0m2-3h0m0 1h0m2-2h0m-11 7h0m-3 0h0m-3 1h0m-4-1h0m-3 2h0m-1-1h0m-1-1h0" stroke="#4f60f9" stroke-width="1.5" stroke-linecap="square"/>
<path transform="scale(.5)" d="M120 1619h0m11-5h0m0-2h0m0 2h0m1 0h0m0 0h0m0-1h0m5-2h0m1-1h0m2 1h0m0-1h0m0 0h0m1 0h0m0 0h0m1 1h0m0-1h0m0 1h0m0-1h0m0 1h0m0 0h0m2-2h0m1 2h0m1-2h0m0 2h0m1 7h0m0 1h0m1-4h0m0-5h0m1 9h0m0-9h0m0 9h0m0-7h0m0 1h0m0 0h0m0 2h0m0-2h0m1-1h0m0 7h0m0-7h0m0 4h0m0-1h0m0-1h0m0 4h0m1-8h0m0-1h0m0 2h0m0 5h0m1-3h0m0 0h0m0 3h0m0-5h0m0 4h0m0 2h0m0-6h0m0-1h0m0 3h0m0 1h0m0-2h0m1 2h0m0-1h0m0-4h0m0 2h0m1 1h0m0-2h0m0 5h0m0-3h0m0 3h0m0 2h0m1-4h0m0-1h0m1 1h0m0 1h0m0-1h0m0-1h0m1 3h0m0-3h0m1 1h0m-7 8h0m-3-1h0m-1 3h0m0-3h0m-2 3h0m-4 8h0m-2 0h0m-17-11h0m-3 6h0m0-1h0m-1 0h0m0 2h0m-1 0h0m-1 4h0m-1-1h0m0-2h0m0 1h0m-1 2h0m0 0h0m-1 3h0m1 0h0m0-1h0m2-1h0m0 4h0m0-3h0m2 6h0m1-2h0m1 1h0m0 3h0m0 1h0m1-1h0m0 2h0m2-1h0m0-2h0m2 1h0m3 0h0m0 0h0m2-2h0m1 0h0m0-2h0m1 2h0m0-1h0m1-1h0m0 1h0m0-1h0m0 0h0m3 0h0m0 2h0m0-4h0m1-1h0m0 2h0m1-1h0m1-1h0m1-1h0m0 0h0" stroke="#3256f8" stroke-width="1.5" stroke-linecap="square"/>
<path transform="scale(.5)" d="M124 1619h0m1-1h0m1-3h0m2 2h0m0-2h0m0 3h0m1-1h0m5-4h0m0 1h0m1-2h0m0 2h0m1-2h0m1 1h0m0 0h0m1 0h0m0 1h0m0 0h0m0-2h0m0-1h0m2 2h0m0-1h0m1 0h0m0 1h0m1 3h0m0 1h0m0-4h0m0 3h0m0 2h0m0-5h0m0-1h0m1 6h0m0-6h0m0 5h0m0-2h0m0 3h0m0-2h0m0 2h0m0-1h0m1-1h0m0 2h0m0-3h0m0-1h0m0 3h0m0 1h0m0 1h0m1-5h0m0-1h0m0 6h0m0-7h0m0 4h0m1-2h0m0 0h0m0-1h0m0 2h0m0-1h0m1 3h0m0-2h0m0-2h0m0 4h0m0-3h0m1-2h0m0 1h0m0 1h0m-3 12h0m0-6h0m0 3h0m0-1h0m-1 1h0m0-1h0m0 4h0m0 0h0m0-6h0m0 2h0m-1-1h0m0 4h0m0-5h0m0 6h0m-1 0h0m0 0h0m0-1h0m0-3h0m0 8h0m0-9h0m-1 7h0m0 1h0m-2-1h0m0 2h0m0-2h0m-1 3h0m-1 0h0m-1 0h0m-10-11h0m-2 0h0m-1 2h0m-1 1h0m-1-2h0m-1 1h0m0 0h0m0 2h0m0-2h0m-1 8h0m0 1h0m0-3h0m0 0h0m0 3h0m-1 0h0m-1 0h0m0 1h0m0 0h0m0 3h0m0 1h0m0-1h0m1 1h0m0 0h0m0-1h0m0-2h0m0-1h0m0 1h0m0 4h0m1-4h0m0 0h0m0 3h0m0-3h0m0 1h0m1 5h0m1 0h0m0 0h0m1 1h0m0-2h0m0 0h0m0 0h0m0-1h0m1 0h0m0 1h0m0 1h0m1-2h0m0 1h0m0 2h0m0-1h0m1-1h0m0 2h0m1-1h0m0 1h0m0-2h0m1-1h0m0 1h0m0 1h0m1 0h0m0 0h0m1-2h0m0 0h0m4-2h0m0-1h0m4-1h0m0 1h0m0-2h0m1 0h0m1 1h0" stroke="#2567f9" stroke-width="1.5" stroke-linecap="square"/>
<path transform="scale(.5)" d="M126 1618h0m0 0h0m2 1h0m0 0h0m1-1h0m1-2h0m0 2h0m0-3h0m1 3h0m0-1h0m0 1h0m0-1h0m1 1h0m7-1h0m0-1h0m0 0h0m0 1h0m1 1h0m0-2h0m1-1h0m0 1h0m1 1h0m0-2h0m0 1h0m0 0h0m-13 4h0m0 0h0m0 0h0m-1 0h0m0 1h0m0-1h0m0 0h0m0 0h0m0 1h0m0-1h0m-1 0h0m-1 4h0m0 0h0m-1-1h0m0-2h0m-1 2h0m0-1h0m0 2h0m0 0h0m-1-1h0m0 2h0m0-4h0m0 9h0m0-8h0m0 6h0m0-6h0m-1 5h0m0 2h0m0-1h0m0 1h0m0-3h0m0-2h0m0 3h0m0 1h0m0-3h0m0 3h0m0 3h0m0-1h0m0-1h0m0 0h0m-1-4h0m0 2h0m0 1h0m-1-3h0m0 3h0m0-3h0m0 4h0m0 1h0m0-3h0m0-3h0m0 10h0m0-1h0m1-1h0m0 1h0m0 2h0m1 0h0m0 1h0m0-2h0m0 3h0m0 0h0m1-2h0m0 1h0m0-3h0m0 0h0m0 1h0m0-2h0m1 2h0m0 0h0m0 3h0m0-2h0m1 0h0m0-1h0m0 1h0m0-1h0m0 2h0m1 1h0m0-3h0m3 0h0m1 0h0m0 2h0m0-2h0m0 0h0m0 3h0m0-3h0m1 2h0m0 0h0m0-1h0m1-1h0m0 1h0" stroke="#1978fa" stroke-width="1.5" stroke-linecap="square"/>
<path transform="scale(.5)" d="M133 1615h0m0 0h0m0 2h0m0 0h0m1-1h0m0 1h0m0 0h0m0-1h0m0-1h0m0 1h0m1-1h0m0 0h0m0 0h0m0 2h0m0-1h0m0 0h0m0-1h0m0 0h0m1 1h0m0 0h0m0 0h0m0 0h0m1-1h0m0 2h0m0 0h0m0-1h0m0 1h0m0-2h0m0 1h0m0 1h0m0 0h0m0 0h0m0-1h0m1 2h0m0-1h0m0-2h0m2 4h0m0-1h0m0 1h0m1 0h0m0 0h0m1 0h0m0 1h0m0 0h0m0 7h0m-1-6h0m0 1h0m0 2h0m0-2h0m0 3h0m0-1h0m0-4h0m-1 0h0m0 5h0m0-4h0m0 2h0m0 2h0m0-1h0m0 1h0m0 0h0m0-2h0m0-3h0m-1 5h0m0 2h0m0-2h0m0-1h0m0 4h0m0 2h0m0-7h0m0-1h0m0-1h0m0 5h0m0-3h0m0 0h0m0-1h0m0 2h0m0-4h0m0 5h0m0 0h0m-1 3h0m0 1h0m0 0h0m0 1h0m0 0h0m-1-2h0m0 2h0m0-1h0m-2 2h0m-1 0h0m0 0h0m-8-4h0m0-2h0m0 2h0m-1 0h0m0 4h0m0-4h0m0-1h0m0 5h0m0-4h0m0-2h0m-1 2h0m0 0h0m0-2h0m0 0h0m0 2h0m-1 4h0m0 0h0m0-4h0m0 4h0m0-6h0m0 8h0m0 0h0m0-1h0m1 1h0m0 0h0m0-1h0m0 0h0m1 0h0m0 0h0m0 1h0m0 0h0m0-1h0m1 0h0m0 4h0m0-1h0m0-3h0m1 4h0m0-2h0m0 0h0m0 0h0m0 0h0m1 1h0m0 1h0m0 1h0m0-3h0m0 0h0m5-2h0m0 0h0m0 2h0m0-2h0m1 0h0m0 0h0m0 1h0m0 0h0m1-1h0m0 1h0m1 0h0" stroke="#159aed" stroke-width="1.5" stroke-linecap="square"/>
<path transform="scale(.5)" d="M129 1619h0m1 0h0m0 0h0m0 0h0m0 0h0m0 0h0m0 0h0m0 0h0m1-1h0m0 1h0m0 0h0m1 0h0m0 0h0m1-1h0m0 0h0m1 0h0m0 1h0m1 0h0m1-1h0m0 1h0m0 0h0m1 0h0m0 0h0m2-1h0m0 3h0m-1 0h0m0-1h0m0 0h0m0 0h0m-1 0h0m0 0h0m0 0h0m0 1h0m-1-1h0m-1 0h0m0 1h0m0-1h0m-1 0h0m0 0h0m-1 0h0m0 1h0m-1 10h0m0 0h0m0-11h0m-1 0h0m0 0h0m0 0h0m0 1h0m0 0h0m0-1h0m0 0h0m-1 0h0m0 11h0m0 0h0m-1-10h0m0 0h0m0 2h0m0 1h0m0 7h0m0 0h0m0 0h0m0-9h0m0 9h0m0-9h0m-1-1h0m0 2h0m0 1h0m0 7h0m0-9h0m0 0h0m-1 0h0m0 2h0m0 7h0m0-9h0m-1 9h0m0-10h0m0 1h0m0 2h0m0 5h0m0-5h0m-1 6h0m0-1h0m0 0h0m0 1h0m0-1h0m0 0h0m0 1h0m-1-1h0m0 2h0m0-2h0m0 0h0m0 0h0m0-1h0m0 0h0m0 2h0m-1-1h0m0-2h0m0 2h0m0 1h0m0-1h0m3 3h0m0 1h0m1-1h0m0 2h0m0 0h0m0-2h0m0 0h0m1 1h0m0-1h0m0 0h0m0 1h0m0-1h0m1 2h0m0-1h0m0 0h0m0-1h0m1 1h0m0 0h0m0-1h0m0 2h0m0-1h0m0 0h0m0 0h0m0-1h0m1 2h0m0-1h0m1-1h0m0 0h0" stroke="#17bace" stroke-width="1.5" stroke-linecap="square"/>
<path transform="scale(.5)" d="M139 1623h0m0 3h0m0 0h0m-1-4h0m0 4h0m0-2h0m0-2h0m0 4h0m0-2h0m0-3h0m0 5h0m0-4h0m0 5h0m0-4h0m0-2h0m0 3h0m0-1h0m0 0h0m0 0h0m0 0h0m0-1h0m-1 0h0m0-1h0m0 3h0m0-1h0m0-2h0m0 0h0m0 2h0m0 2h0m0-2h0m0 0h0m0 1h0m0 3h0m0-1h0m-1 0h0m0-2h0m0 3h0m0-3h0m0 3h0m0-1h0m0-2h0m0 1h0m0 1h0m0-2h0m0 0h0m0 0h0m0 0h0m0 1h0m0 1h0m-1 1h0m0 3h0m0 0h0m0-2h0m0 2h0m-1-1h0m0 0h0m0 1h0m0-1h0m0 1h0m0-2h0m0 1h0m0 1h0m0-2h0m0 3h0m-1-3h0m0 1h0m0 1h0m0 0h0m0-2h0m0 0h0m-1-5h0m0 6h0m0-6h0m0 5h0m0-5h0m0 8h0m0-10h0m0 7h0m0 2h0m0-7h0m0 7h0m-1-1h0m0-1h0m0 2h0m0 0h0m0-2h0m0 0h0m0-5h0m0 8h0m0-3h0m0 2h0m0-7h0m0 7h0m0-1h0m0 0h0m0 0h0m-1-1h0m0 1h0m0-5h0m0 5h0m0-7h0m0 2h0m0 5h0m0-1h0m0 3h0m0-3h0m0-7h0m0 9h0m0-7h0m0 7h0m0-6h0m0-1h0m0 1h0m0 5h0m0-6h0m0 1h0m-1 6h0m0-4h0m0 3h0m0-4h0m0 0h0m0 5h0m0-1h0m0-2h0m0 0h0m0-4h0m0 2h0m0 3h0m0 1h0m0-1h0m0 2h0m0 0h0m0-9h0m-1 9h0m0 0h0m0-5h0m0 1h0m0 3h0m0-3h0m0-2h0m0 3h0m0-1h0m0 0h0m0 1h0m0 1h0m-1 1h0m0-3h0m0-2h0m0 1h0m0 6h0m0-3h0m0-1h0m0 0h0m-1-2h0m0 3h0m0 0h0m0-2h0m0 1h0" stroke="#2bd591" stroke-width="1.5" stroke-linecap="square"/>
<path transform="scale(.5)" d="M135 1621h0m0 1h0m0 4h0m0 1h0m0-4h0m0-1h0m0 5h0m0-6h0m0 1h0m0 4h0m0-2h0m0 2h0m0-1h0m0 0h0m0-2h0m0-1h0m0-1h0m0 1h0m0 0h0m0 1h0m0 3h0m-1-3h0m0 2h0m0 0h0m0 1h0m0-2h0m0 2h0m0-1h0m0 0h0m0 0h0m0-2h0m0 4h0m0-4h0m0 2h0m0 2h0m0-6h0m0 3h0m0-2h0m0 3h0m0 2h0m0 0h0m0-5h0m-1 2h0m0 1h0m0-2h0m0-1h0m0 4h0m0 1h0m0-1h0m0 1h0m0 0h0m0-5h0m0 5h0m0-3h0m0 1h0m0 1h0m0-5h0m-1 4h0m0 2h0m0-2h0m0 0h0m0 2h0m0-1h0m0-2h0m0 2h0m-1-1h0m0 0h0m0 1h0m0 0h0m0-1h0m0 0h0m-1 0h0m0 0h0m0 0h0m0 1h0m0 0h0m0-1h0m0 0h0m0 2h0m0-1h0m0-1h0m0 0h0m0 1h0m0 0h0m0 1h0m-1-2h0m0 1h0" stroke="#6ee646" stroke-width="1.5" stroke-linecap="square"/>
<path d="M79.1 762.5V831.5M43.8 800.1H113.3" stroke="#6e6e6e" stroke-width=".5"/>
<text x="45.8" y="766.7" font-size="3.1" fill="#555">Q1-UL(2.32%)</text>
<text x="111.8" y="766.7" font-size="3.1" text-anchor="end" fill="#555">Q1-UR(4.59%)</text>
<text x="45.8" y="829.3" font-size="3.1" fill="#555">Q1-LL(91.28%)</text>
<text x="111.8" y="829.3" font-size="3.1" text-anchor="end" fill="#555">Q1-LR(1.81%)</text>
<text x="76" y="757.5" font-size="11.5" text-anchor="middle" stroke="#1a1a1a" stroke-width="0.3">Control</text>
<rect x="131.3" y="762.5" width="69.5" height="69" fill="none" stroke="#b4b4b4" stroke-width="0.8"/>
<text x="129.3" y="832.5" font-size="3.4" text-anchor="end" fill="#666">10<tspan font-size="70%" dy="-1.2">0</tspan></text>
<text x="129.3" y="818.9" font-size="3.4" text-anchor="end" fill="#666">10<tspan font-size="70%" dy="-1.2">1</tspan></text>
<text x="129.3" y="805.3" font-size="3.4" text-anchor="end" fill="#666">10<tspan font-size="70%" dy="-1.2">2</tspan></text>
<text x="129.3" y="791.7" font-size="3.4" text-anchor="end" fill="#666">10<tspan font-size="70%" dy="-1.2">3</tspan></text>
<text x="129.3" y="778.1" font-size="3.4" text-anchor="end" fill="#666">10<tspan font-size="70%" dy="-1.2">4</tspan></text>
<text x="129.3" y="764.5" font-size="3.4" text-anchor="end" fill="#666">10<tspan font-size="70%" dy="-1.2">5</tspan></text>
<text x="131.3" y="836.1" font-size="3.4" text-anchor="middle" fill="#666">10<tspan font-size="70%" dy="-1.2">0</tspan></text>
<text x="145" y="836.1" font-size="3.4" text-anchor="middle" fill="#666">10<tspan font-size="70%" dy="-1.2">1</tspan></text>
<text x="158.7" y="836.1" font-size="3.4" text-anchor="middle" fill="#666">10<tspan font-size="70%" dy="-1.2">2</tspan></text>
<text x="172.4" y="836.1" font-size="3.4" text-anchor="middle" fill="#666">10<tspan font-size="70%" dy="-1.2">3</tspan></text>
<text x="186.1" y="836.1" font-size="3.4" text-anchor="middle" fill="#666">10<tspan font-size="70%" dy="-1.2">4</tspan></text>
<text x="199.8" y="836.1" font-size="3.4" text-anchor="middle" fill="#666">10<tspan font-size="70%" dy="-1.2">5</tspan></text>
<path d="M131.3 762.5V831.5H200.8M131.3 831.5h1.6M131.3 828.8h.8M131.3 826.1h.8M131.3 823.3h.8M131.3 820.6h.8M131.3 817.9h1.6M131.3 815.2h.8M131.3 812.5h.8M131.3 809.7h.8M131.3 807h.8M131.3 804.3h1.6M131.3 801.6h.8M131.3 798.9h.8M131.3 796.1h.8M131.3 793.4h.8M131.3 790.7h1.6M131.3 788h.8M131.3 785.3h.8M131.3 782.5h.8M131.3 779.8h.8M131.3 777.1h1.6M131.3 774.4h.8M131.3 771.7h.8M131.3 768.9h.8M131.3 766.2h.8M131.3 763.5h1.6M131.3 831.5v-1.6M134 831.5v-.8M136.8 831.5v-.8M139.5 831.5v-.8M142.3 831.5v-.8M145 831.5v-1.6M147.7 831.5v-.8M150.5 831.5v-.8M153.2 831.5v-.8M156 831.5v-.8M158.7 831.5v-1.6M161.4 831.5v-.8M164.2 831.5v-.8M166.9 831.5v-.8M169.7 831.5v-.8M172.4 831.5v-1.6M175.1 831.5v-.8M177.9 831.5v-.8M180.6 831.5v-.8M183.4 831.5v-.8M186.1 831.5v-1.6M188.8 831.5v-.8M191.6 831.5v-.8M194.3 831.5v-.8M197.1 831.5v-.8M199.8 831.5v-1.6" stroke="#707070" stroke-width=".5" fill="none"/>
<path transform="scale(.5)" d="M377 1556h0m-3 0h0m-24 2h0m-59-3h0m18 11h0m47-6h0m24 20h0m0-8h0m-17 5h0m-28 5h0m-19-6h0m-1 0h0m-22 10h0m4-1h0m3 8h0m15 0h0m8-5h0m3 4h0m1-2h0m28 5h0m14-11h0m3 19h0m-24 2h0m-30 0h0m0 0h0m-4-1h0m-2-8h0m-5 10h0m29 13h0m1-10h0m2 2h0m2-1h0m2 3h0m3 0h0m4-2h0m18 0h0m5 4h0m-30 7h0m-2-2h0m-14 8h0m-32 0h0m-2 3h0m-10-4h0m12 11h0m2 1h0m5 4h0m8-2h0m39-2h0m10-5h0m11 6h0m-4 8h0m-28 7h0m-22-7h0m-13-3h0m-2 0h0m-3 0h0m-2 8h0" stroke="#787dfc" stroke-width="1.5" stroke-linecap="square"/>
<path transform="scale(.5)" d="M361 1580h0m0 1h0m0-6h0m-1 2h0m0 3h0m-1-2h0m0 0h0m0-2h0m-1 0h0m-3-1h0m-6 1h0m-1 1h0m-20 16h0m5 2h0m0 0h0m3 0h0m0 0h0m0-6h0m0-5h0m2 6h0m0 1h0m1 1h0m0-2h0m0 1h0m0-3h0m3-3h0m4 9h0m1 1h0m2-4h0m1 0h0m0-1h0m0 1h0m0 2h0m5-7h0m4-1h0m0 0h0m-15 18h0m0 0h0m0 0h0m0-2h0m0 1h0m0-1h0m0 3h0m-1-6h0m-6 4h0m-1 5h0m-1 0h0m-2-2h0m-3-6h0m-1-1h0m0 2h0m0 1h0m-2-2h0m-1 8h0m0 0h0m0-8h0m0 7h0m-1 1h0m0-2h0m0-6h0m0-1h0m-1 9h0m0 0h0m0-8h0m-2 8h0m0-5h0m-8 5h0m0-1h0m-10 5h0m2 3h0m3-3h0m1-2h0m8-1h0m4 0h0m5 4h0m0 5h0m1 1h0m0-6h0m0 1h0m0-3h0m0 5h0m0-2h0m1 4h0m0 1h0m2-9h0m0 3h0m1 2h0m0-4h0m1 2h0m3-1h0m0-2h0m-7 14h0m0-1h0m-1 0h0m0 4h0m-1-3h0m0-3h0m-1 5h0m-1 0h0m0 2h0m-1 2h0m0-4h0m0-1h0m-1 6h0m-22-6h0m-1 7h0m0-8h0m0 0h0m0 1h0m-2-1h0m0 3h0m0-4h0m-1 7h0m-1 1h0m0-6h0m0 8h0m1 1h0m1 2h0m0-3h0m1 4h0m0-4h0m1 1h0m0 4h0m0-5h0m0 2h0m5 4h0m0 4h0m2 0h0m1-4h0m1 0h0m2 1h0m1-1h0m3-3h0m0 0h0m0 1h0m1-2h0m2 1h0" stroke="#4f60f9" stroke-width="1.5" stroke-linecap="square"/>
<path transform="scale(.5)" d="M358 1578h0m0 4h0m0-2h0m0 2h0m-1-2h0m0 1h0m0-3h0m0 3h0m0-1h0m0 0h0m-1 2h0m0-1h0m0 2h0m0-3h0m0-1h0m0-2h0m-1 1h0m0 3h0m0 0h0m0-1h0m0 0h0m-1 3h0m0-1h0m0-2h0m0 1h0m0-4h0m0 6h0m0-4h0m0-1h0m0 1h0m0-2h0m0 4h0m0 2h0m-1-2h0m0 2h0m0-2h0m0-4h0m0 2h0m0 3h0m0-6h0m-1 5h0m0-2h0m0 3h0m0-1h0m0-1h0m-1 1h0m0 1h0m-1 0h0m0-1h0m0 2h0m0 0h0m-1-3h0m0 3h0m-2-1h0m0 1h0m-1-1h0m-1 1h0m-9 11h0m1-1h0m1 1h0m0-1h0m0 1h0m0 0h0m0 1h0m2-1h0m0 1h0m0-1h0m1-2h0m0-5h0m1 4h0m0-4h0m0 8h0m0-6h0m0 4h0m0-3h0m0-2h0m0 6h0m0 1h0m0-8h0m0 5h0m1-3h0m0-2h0m0 0h0m0 2h0m0 1h0m0-1h0m0-2h0m0 1h0m1-2h0m0 2h0m0 6h0m0-1h0m0-7h0m0 2h0m0 6h0m0-9h0m0 7h0m0 1h0m0-1h0m0 0h0m0-1h0m1-7h0m0 4h0m0 0h0m0 1h0m0-1h0m0 1h0m0-4h0m0 10h0m0-5h0m1 0h0m0-4h0m0 3h0m0-3h0m0 1h0m0-1h0m0-1h0m0 3h0m1-1h0m0-2h0m0 2h0m0 1h0m0-4h0m0 3h0m0 3h0m0-5h0m0 0h0m0 2h0m0-2h0m1 1h0m0-1h0m0 0h0m0 3h0m0-2h0m0 0h0m0 1h0m1 2h0m0 0h0m0-5h0m0 4h0m0-2h0m1 1h0m0-2h0m0 2h0m0-1h0m0 2h0m0-3h0m1 2h0m0-3h0m0 0h0m1 1h0m0-1h0m2 1h0m1 0h0m0 0h0m0 0h0m0 0h0m-13 11h0m0 2h0m-1 1h0m0-3h0m0 2h0m-1-1h0m0-1h0m-1 1h0m-1 2h0m0 1h0m0 0h0m0-1h0m-1-2h0m0 2h0m0-1h0m-1 1h0m0-2h0m0 2h0m0 1h0m0-4h0m0 1h0m-1 1h0m0 0h0m0 1h0m0-1h0m0-1h0m0 1h0m0 4h0m-1 1h0m0 0h0m0-7h0m0 4h0m0-2h0m0 4h0m0-5h0m0 6h0m0-6h0m-1 8h0m0-6h0m0 1h0m0-3h0m0 4h0m0 3h0m0-3h0m0-1h0m0 3h0m-1-1h0m0 0h0m0-1h0m0 1h0m0 1h0m0 3h0m0-8h0m-1 5h0m0-2h0m0 1h0m0-2h0m0 4h0m0 2h0m0-5h0m0 1h0m0 0h0m-1-1h0m0 1h0m0 5h0m0-3h0m0-2h0m0 2h0m0-3h0m-1 4h0m0-1h0m-1 3h0m0 0h0m0-1h0m0-3h0m-1-1h0m-24 17h0m2-2h0m2 0h0m0 0h0m1-2h0m1-2h0m0 0h0m0 0h0m1 0h0m0 2h0m2-5h0m1 0h0m0 1h0m0 0h0m1-1h0m3 0h0m0-2h0m1 2h0m0 0h0m0 1h0m2-2h0m0 1h0m0 1h0m1-2h0m1 1h0m0-1h0m1-1h0m0 3h0m1 4h0m0-4h0m0-2h0m0 9h0m0 0h0m0-9h0m1 9h0m0-10h0m0 7h0m0 0h0m0 3h0m1-7h0m0 5h0m0-6h0m0 0h0m1-2h0m1 0h0m4 0h0m-8 13h0m0-1h0m0 1h0m-4 10h0m-1 0h0m-15-11h0m-2 11h0m-1-4h0m0 2h0m0-2h0m0 3h0m0-2h0m0 1h0m-1-5h0m-1 2h0m2 11h0m0-4h0m1 0h0m0 2h0m0 0h0m1 0h0m0 0h0m0-3h0m0 2h0m0-2h0m0 3h0m0-2h0m1 2h0m1 2h0m0-3h0m1 3h0m0-3h0m0 1h0m1 2h0m0-1h0m1 0h0m1-2h0m0 2h0m0-1h0m1 1h0m1-1h0m2 1h0m0-1h0m4-3h0" stroke="#3256f8" stroke-width="1.5" stroke-linecap="square"/>
<path transform="scale(.5)" d="M312 1613h0m0 1h0m0-1h0m1-1h0m0 1h0m5-1h0m0 2h0m0 0h0m0 0h0m1 0h0m0 0h0m0-2h0m0 0h0m1 1h0m0-1h0m0 1h0m2 2h0m1-3h0m0 2h0m-2 11h0m0 2h0m0-3h0m-1 1h0m0 4h0m0-4h0m0 0h0m0 5h0m-1 0h0m0-2h0m-1 2h0m0-2h0m-1 1h0m0-1h0m-1 3h0m-2 0h0m0 0h0m-10-1h0m0-5h0m0-2h0m0 3h0m0-1h0m0 3h0m-1-2h0m0 0h0m0 3h0m0-2h0m-1 1h0m0 2h0m0-7h0m0-1h0m0 5h0m-1 3h0m0-3h0m0 0h0m0 2h0m3 5h0m0 0h0m0-1h0m2 0h0m0 0h0m1-1h0m0 0h0m0 0h0m0 1h0m0-1h0m7 0h0m0 1h0m2 0h0m0-1h0m1 1h0" stroke="#2567f9" stroke-width="1.5" stroke-linecap="square"/>
<path transform="scale(.5)" d="M304 1618h0m1 1h0m0 0h0m1 0h0m0-1h0m1 1h0m0-1h0m0 1h0m1-2h0m0 1h0m0-2h0m0 2h0m0-1h0m0-2h0m0 0h0m0 1h0m1 1h0m0-1h0m1 2h0m0-1h0m0-2h0m4-1h0m1-2h0m1 2h0m0-3h0m0 2h0m0 1h0m1 0h0m0-1h0m0 0h0m0-1h0m0 2h0m3 3h0m0-1h0m0-1h0m0 4h0m0-3h0m1 3h0m0-4h0m0 3h0m0-3h0m0 4h0m0-2h0m0-1h0m0-1h0m1 2h0m0-1h0m0 0h0m0 1h0m0 0h0m1-1h0m0-1h0m0 8h0m0 1h0m0-3h0m0 3h0m0-3h0m-1 3h0m0-3h0m0 1h0m0 2h0m0-3h0m0 3h0m0-2h0m0-2h0m-1 4h0m0-3h0m0 2h0m0-2h0m0 1h0m-1 0h0m0 5h0m0-1h0m-2-1h0m0 2h0m0-1h0m0 0h0m-1 3h0m-1 1h0m0-1h0m0 0h0m0 1h0m0-1h0m-1-1h0m0 0h0m-1 3h0m0-2h0m0 0h0m0 1h0m0-2h0m0 1h0m0 0h0m-1 2h0m-2 0h0m0 0h0m0 0h0m-2 0h0m-2-10h0m0 0h0m0 9h0m0 0h0m0-9h0m0 7h0m0 1h0m0 2h0m-1-3h0m0 2h0m-1 0h0m0 0h0m0 0h0m0-1h0m0-9h0m0 0h0m0 10h0m0-2h0m3 5h0m0-1h0m1 1h0m0 0h0m0 0h0m0-1h0m0 1h0m0-1h0m1 1h0m1 0h0m1 0h0m0 0h0m0 0h0m0-1h0m1 1h0m0 1h0" stroke="#1978fa" stroke-width="1.5" stroke-linecap="square"/>
<path transform="scale(.5)" d="M311 1617h0m0 1h0m0-2h0m1-1h0m0 2h0m0 0h0m0 0h0m0 0h0m0-1h0m0 2h0m0-1h0m1 0h0m0-2h0m0 2h0m0-2h0m0 0h0m0 2h0m0 0h0m0 0h0m1-2h0m0 1h0m3-1h0m0 0h0m0 3h0m0-2h0m1 1h0m0 0h0m0-1h0m0-1h0m0 2h0m0 1h0m0-1h0m0-1h0m0 0h0m0 1h0m1-1h0m0-1h0m0 2h0m1 0h0m0 0h0m0 0h0m0 1h0m0-2h0m0 8h0m0-1h0m0-1h0m0 1h0m-1-1h0m0 1h0m0 0h0m0 0h0m0 1h0m0 0h0m0 0h0m0-1h0m-1-2h0m0 1h0m0 1h0m0-1h0m0-1h0m0 1h0m0 1h0m0-2h0m-1 2h0m0-2h0m0 1h0m0-1h0m0 2h0m-3 6h0m0 1h0m-1 0h0m0 0h0m0-1h0m0 0h0m0 1h0m-1 0h0m0 0h0m0-1h0m0 1h0m0-1h0m0 0h0m0 0h0m-1 0h0m0-1h0m0 0h0m0 3h0m0-1h0m0-1h0m-1-1h0m0 2h0m0-3h0m0 2h0m0-1h0m0 2h0m-1-2h0m0 0h0m0 0h0m0 2h0m0 0h0m0 0h0m0-1h0m0 1h0m0-2h0m-1 0h0m0 1h0m0-1h0m0 1h0m0 1h0m0-1h0m0 1h0m-1-5h0m0 2h0m0-3h0m0-2h0m0 4h0m0-1h0m0-1h0m0 0h0m0 3h0m0-2h0m0 0h0m-1 2h0m0-1h0m0 0h0m0 0h0m0-3h0m0 1h0m0 0h0m0 0h0m0-2h0m-1 0h0m0 4h0m0 1h0m0-5h0m0 0h0m0 3h0m0-2h0m0 3h0m0-5h0m0 2h0m-1 4h0m0-6h0" stroke="#159aed" stroke-width="1.5" stroke-linecap="square"/>
<path transform="scale(.5)" d="M309 1618h0m0 1h0m5-2h0m0-2h0m0 1h0m0 1h0m0 0h0m0-2h0m0 2h0m0 1h0m1-1h0m0-1h0m0 1h0m0 0h0m0 1h0m0-3h0m0 1h0m1 0h0m0 0h0m0 0h0m0 1h0m0 0h0m0-2h0m1 3h0m0 1h0m0-2h0m1 1h0m1 1h0m0 0h0m0 0h0m0 0h0m1-1h0m0 2h0m0 1h0m0-1h0m0 0h0m-1 0h0m0 0h0m-1 0h0m0 1h0m0-1h0m0 0h0m-1 7h0m0-2h0m0-5h0m0 0h0m0 1h0m0 6h0m0-7h0m0 6h0m-1-1h0m0-1h0m-1 1h0m0 1h0m0-2h0m0 3h0m0 0h0m0 0h0m0-2h0m-1 0h0m0 1h0m0 1h0m0-2h0m0-1h0m0 0h0m0 1h0m-4-5h0m0 0h0m0 0h0m0 1h0m0-1h0m0 0h0m0 0h0m0 0h0m-1 0h0m0 0h0m-1 0h0m0 1h0m0 0h0m0-1h0m0 0h0" stroke="#17bace" stroke-width="1.5" stroke-linecap="square"/>
<path transform="scale(.5)" d="M311 1618h0m0 1h0m0-1h0m1 1h0m0-1h0m0 0h0m1 1h0m0 0h0m0-1h0m0 0h0m1 1h0m0 0h0m0-1h0m1 1h0m0-1h0m0 1h0m0 0h0m0 0h0m0-1h0m0 0h0m1 1h0m0 0h0m0 0h0m0 0h0m0-1h0m0 1h0m0-1h0m1 1h0m0 3h0m0 2h0m0-4h0m0 2h0m-1-1h0m0 1h0m0-2h0m0 2h0m0 2h0m0-4h0m0 0h0m0 1h0m0 0h0m-1 1h0m0-1h0m0 2h0m0 0h0m0-2h0m0 2h0m0-2h0m0 0h0m0 0h0m0 0h0m0 0h0m0 1h0m0-2h0m0 2h0m0 0h0m0-2h0m0 3h0m-1-3h0m0 1h0m0 4h0m0-5h0m0 0h0m0 3h0m0-3h0m0 3h0m0-3h0m0 5h0m0-5h0m-1 7h0m0-6h0m0 6h0m0-2h0m0-5h0m0 7h0m0-2h0m0 1h0m0-1h0m0 2h0m-1-2h0m0 0h0m0-4h0m0 3h0m0 3h0m0-1h0m0-6h0m0 5h0m0-4h0m0 6h0m0-3h0m0 2h0m0-5h0m0 0h0m0 5h0m-1 0h0m0 1h0m0 0h0m0-6h0m0-1h0m0 7h0m0-2h0m0 0h0m0-1h0m0 1h0m0-5h0m0 1h0m-1 1h0m0-1h0m0 3h0m0 1h0m0 0h0m0-3h0m0 4h0m0-3h0m0 4h0m0-2h0m0 1h0m0 1h0m0-5h0m0 1h0m0-1h0m0 1h0m0 2h0m0-4h0m0 2h0m0 1h0m-1-1h0m0 1h0m0 1h0m0 0h0m0 1h0m0-1h0m0-1h0m0-2h0m0 5h0m0-4h0m0 0h0m0 0h0m0-1h0m0 1h0m0 1h0m0-1h0m0 0h0m0 1h0m0-2h0m-1 1h0m0-1h0m0 3h0m0 0h0m0 1h0m0-2h0m0 0h0m0-2h0m0 2h0m0 0h0m0 1h0m0-1h0m0-2h0m0 0h0m-1 3h0m0 2h0" stroke="#2bd591" stroke-width="1.5" stroke-linecap="square"/>
<path transform="scale(.5)" d="M314 1624h0m0 0h0m0-2h0m0 2h0m-1-1h0m0 0h0m0-2h0m0 2h0m0 0h0m0-1h0m0-1h0m0 2h0m0 1h0m0-3h0m0 3h0m0-3h0m0 0h0m0 2h0m0 0h0m0-1h0m0 1h0m0 0h0m0 0h0m-1 0h0m0 1h0m0 0h0m0-3h0m0 1h0m0 2h0m0-1h0m0 1h0m0-1h0m0-2h0m-1 1h0m0 2h0m0-1h0m0 1h0m0-2h0m0 0h0m0 2h0m0-3h0m0 2h0m0-2h0m0 1h0m0 0h0m0-1h0m0 3h0m0-3h0" stroke="#6ee646" stroke-width="1.5" stroke-linecap="square"/>
<path d="M166.6 762.5V831.5M131.3 800.1H200.8" stroke="#6e6e6e" stroke-width=".5"/>
<text x="133.3" y="766.7" font-size="3.1" fill="#555">Q1-UL(2.08%)</text>
<text x="199.3" y="766.7" font-size="3.1" text-anchor="end" fill="#555">Q1-UR(18.09%)</text>
<text x="133.3" y="829.3" font-size="3.1" fill="#555">Q1-LL(76.03%)</text>
<text x="199.3" y="829.3" font-size="3.1" text-anchor="end" fill="#555">Q1-LR(3.82%)</text>
<text x="165.5" y="757.5" font-size="11.5" text-anchor="middle" stroke="#1a1a1a" stroke-width="0.3">5 μg/mL</text>
<rect x="219.5" y="762.5" width="69.5" height="69" fill="none" stroke="#b4b4b4" stroke-width="0.8"/>
<text x="217.5" y="832.5" font-size="3.4" text-anchor="end" fill="#666">10<tspan font-size="70%" dy="-1.2">0</tspan></text>
<text x="217.5" y="818.9" font-size="3.4" text-anchor="end" fill="#666">10<tspan font-size="70%" dy="-1.2">1</tspan></text>
<text x="217.5" y="805.3" font-size="3.4" text-anchor="end" fill="#666">10<tspan font-size="70%" dy="-1.2">2</tspan></text>
<text x="217.5" y="791.7" font-size="3.4" text-anchor="end" fill="#666">10<tspan font-size="70%" dy="-1.2">3</tspan></text>
<text x="217.5" y="778.1" font-size="3.4" text-anchor="end" fill="#666">10<tspan font-size="70%" dy="-1.2">4</tspan></text>
<text x="217.5" y="764.5" font-size="3.4" text-anchor="end" fill="#666">10<tspan font-size="70%" dy="-1.2">5</tspan></text>
<text x="219.5" y="836.1" font-size="3.4" text-anchor="middle" fill="#666">10<tspan font-size="70%" dy="-1.2">0</tspan></text>
<text x="233.2" y="836.1" font-size="3.4" text-anchor="middle" fill="#666">10<tspan font-size="70%" dy="-1.2">1</tspan></text>
<text x="246.9" y="836.1" font-size="3.4" text-anchor="middle" fill="#666">10<tspan font-size="70%" dy="-1.2">2</tspan></text>
<text x="260.6" y="836.1" font-size="3.4" text-anchor="middle" fill="#666">10<tspan font-size="70%" dy="-1.2">3</tspan></text>
<text x="274.3" y="836.1" font-size="3.4" text-anchor="middle" fill="#666">10<tspan font-size="70%" dy="-1.2">4</tspan></text>
<text x="288" y="836.1" font-size="3.4" text-anchor="middle" fill="#666">10<tspan font-size="70%" dy="-1.2">5</tspan></text>
<path d="M219.5 762.5V831.5H289M219.5 831.5h1.6M219.5 828.8h.8M219.5 826.1h.8M219.5 823.3h.8M219.5 820.6h.8M219.5 817.9h1.6M219.5 815.2h.8M219.5 812.5h.8M219.5 809.7h.8M219.5 807h.8M219.5 804.3h1.6M219.5 801.6h.8M219.5 798.9h.8M219.5 796.1h.8M219.5 793.4h.8M219.5 790.7h1.6M219.5 788h.8M219.5 785.3h.8M219.5 782.5h.8M219.5 779.8h.8M219.5 777.1h1.6M219.5 774.4h.8M219.5 771.7h.8M219.5 768.9h.8M219.5 766.2h.8M219.5 763.5h1.6M219.5 831.5v-1.6M222.2 831.5v-.8M225 831.5v-.8M227.7 831.5v-.8M230.5 831.5v-.8M233.2 831.5v-1.6M235.9 831.5v-.8M238.7 831.5v-.8M241.4 831.5v-.8M244.2 831.5v-.8M246.9 831.5v-1.6M249.6 831.5v-.8M252.4 831.5v-.8M255.1 831.5v-.8M257.9 831.5v-.8M260.6 831.5v-1.6M263.3 831.5v-.8M266.1 831.5v-.8M268.8 831.5v-.8M271.6 831.5v-.8M274.3 831.5v-1.6M277 831.5v-.8M279.8 831.5v-.8M282.5 831.5v-.8M285.3 831.5v-.8M288 831.5v-1.6" stroke="#707070" stroke-width=".5" fill="none"/>
<path transform="scale(.5)" d="M496 1555h0m-23 1h0m40 9h0m13 3h0m0-1h0m5 1h0m23-7h0m-37 14h0m-1 0h0m-1 1h0m-48-1h0m-3 5h0m-1 2h0m17 13h0m20 0h0m38-3h0m-4 4h0m-2 5h0m-2-2h0m-4 0h0m-10 6h0m-15-8h0m-9 7h0m59 17h0m-47 3h0m-24 7h0m-4-6h0m-1 2h0m26 16h0m9 0h0m0-4h0m18-4h0m15-3h0m9 22h0m-26 0h0m-28-8h0m-8 7h0m-5-9h0m-8 1h0m21 11h0" stroke="#787dfc" stroke-width="1.5" stroke-linecap="square"/>
<path transform="scale(.5)" d="M539 1579h0m0 0h0m0 2h0m0 0h0m0 2h0m0-4h0m0 3h0m-1-5h0m-1 6h0m-1 0h0m0-1h0m0-1h0m-2-6h0m-3 0h0m-2 0h0m0-1h0m-2-1h0m0 2h0m0-1h0m-5 5h0m0 0h0m-1-2h0m-2 4h0m-1 1h0m-9 13h0m2-1h0m0 0h0m0 1h0m1-6h0m3-2h0m0-3h0m15 8h0m3 1h0m0-2h0m2-5h0m0-1h0m0 1h0m0 1h0m0 0h0m0 5h0m0-5h0m1 0h0m0 1h0m0-2h0m2-2h0m2 1h0m0-1h0m-15 13h0m-1-1h0m-1 1h0m0-1h0m-1 4h0m0 0h0m-9 5h0m-4-6h0m-1-3h0m0 1h0m-2 3h0m-1 2h0m-1-1h0m-5 4h0m0-1h0m-5-1h0m-11 16h0m0 0h0m6-9h0m0 0h0m18 9h0m2 0h0m1-4h0m0-2h0m3-2h0m-10 11h0m-1 3h0m-4 4h0m-5 2h0m-9-11h0m-1 11h0m0-4h0m-1-7h0m-2 6h0m-1-3h0m-1 6h0m0-5h0m3 8h0m1 1h0m2 0h0m3 0h0" stroke="#4f60f9" stroke-width="1.5" stroke-linecap="square"/>
<path transform="scale(.5)" d="M534 1583h0m-1-5h0m0 1h0m0 3h0m0-3h0m0 3h0m-1-3h0m0 0h0m0-1h0m0 4h0m-1-5h0m-1 1h0m0 0h0m0 1h0m0 0h0m0-1h0m-1 1h0m0-1h0m0-1h0m0 2h0m-5-3h0m-1 3h0m0 0h0m-1 2h0m-1 1h0m-1-1h0m-7 13h0m0-4h0m1 3h0m0 0h0m0-1h0m2 2h0m0-2h0m1-7h0m0 0h0m1 3h0m0-2h0m1 1h0m0 0h0m3 6h0m1 0h0m0 0h0m1 0h0m0 0h0m0 0h0m0 0h0m1 0h0m0 0h0m2 0h0m2-3h0m1-1h0m0 1h0m0 0h0m1 0h0m0 0h0m2-1h0m0-4h0m0 1h0m0-1h0m0 1h0m1 1h0m0 1h0m1-4h0m0 0h0m-13 14h0m0 0h0m0-2h0m0 0h0m-1 0h0m0 0h0m-1 1h0m-1 2h0m0-1h0m-1 2h0m0 1h0m-2-2h0m0 4h0m0-2h0m0 0h0m-1 0h0m0 1h0m0-3h0m0 1h0m-1-1h0m0 0h0m-1 1h0m0 0h0m0 5h0m-1-7h0m0 0h0m0 4h0m0 1h0m0 4h0m0-3h0m0-7h0m0 6h0m-1 0h0m0 0h0m0-6h0m0 7h0m-1-1h0m0 2h0m0-1h0m0 1h0m0-8h0m-1 2h0m0 4h0m0-2h0m0-1h0m-1 0h0m-1 0h0m-1 3h0m0 0h0m0 1h0m-1-1h0m0 0h0m0 0h0m-1 2h0m0-1h0m-1 0h0m-1-1h0m-2 1h0m-3 2h0m-13 9h0m1 2h0m1 1h0m0-1h0m0 0h0m0-2h0m0 1h0m2-3h0m1-1h0m0 0h0m0 1h0m0 1h0m1-5h0m0 1h0m0 2h0m1-1h0m1 0h0m0-3h0m1 2h0m13 7h0m1 1h0m0-2h0m1 2h0m2-9h0m0 0h0m0 0h0m2-1h0m0 1h0m-13 17h0m-2 0h0m0-1h0m0 1h0m-1 2h0m-2 1h0m0 0h0m0-1h0m-1-1h0m0 3h0m-1-1h0m0-1h0m-1 0h0m-1 1h0m0 0h0m-1-2h0m0 1h0m-3 2h0m0 0h0m-2-6h0m0 2h0m0 2h0m0 0h0m0-3h0m-1-2h0m0 0h0m0 4h0m0-6h0m0 4h0m0-3h0m-2 5h0m0-2h0" stroke="#3256f8" stroke-width="1.5" stroke-linecap="square"/>
<path transform="scale(.5)" d="M531 1581h0m0 1h0m0-1h0m0 0h0m0-1h0m-1-1h0m0 2h0m-1 0h0m0-1h0m-1-1h0m0-2h0m-1 2h0m0 0h0m0-2h0m-1 2h0m0 0h0m0 0h0m0-2h0m0 2h0m-1 1h0m0 0h0m0 1h0m0 0h0m0 0h0m-1 1h0m0-1h0m0 1h0m0 1h0m-1-1h0m0-3h0m0 1h0m-2 3h0m-5 8h0m0 3h0m0-4h0m1 1h0m0 2h0m0 0h0m0 2h0m0-4h0m1 1h0m0-2h0m0 4h0m0-2h0m0 0h0m0 2h0m1-4h0m0 0h0m0 1h0m0 0h0m0-1h0m0 0h0m0 0h0m0-4h0m1 3h0m0 4h0m0-1h0m0-3h0m0 1h0m0 0h0m0-1h0m0 0h0m0 3h0m1-7h0m0 4h0m0 6h0m0-2h0m0-1h0m0-3h0m0 6h0m0-4h0m0 0h0m0-1h0m1-6h0m0 1h0m0 9h0m0 0h0m0-4h0m0-6h0m0 6h0m0 2h0m0-8h0m0 7h0m0-7h0m0 1h0m1 6h0m1 1h0m1-1h0m1-1h0m0 0h0m1 1h0m0-1h0m0 0h0m1 0h0m0 1h0m1-4h0m0 0h0m0 0h0m1 0h0m0 0h0m1-1h0m0 0h0m1 1h0m0 0h0m-13 10h0m0 1h0m0-2h0m-2 2h0m0-2h0m0 0h0m0 0h0m0 2h0m0 0h0m-2-2h0m0 1h0m0 0h0m0 0h0m0-1h0m0 2h0m0 0h0m0 0h0m-2-2h0m0 0h0m0 1h0m0 4h0m0-3h0m0-2h0m0 2h0m0 0h0m-1 2h0m0 0h0m0-1h0m-1 0h0m0 2h0m-1 0h0m0-1h0m0 0h0m0 0h0m0 1h0m-1 3h0m0 3h0m0-2h0m-1 2h0m0-3h0m0 2h0m0-1h0m0 1h0m0-3h0m0 2h0m0-2h0m0 2h0m-1-3h0m0 5h0m0-3h0m0 2h0m-1 1h0m0-1h0m0-3h0m-1 3h0m-1 1h0m0-1h0m-1 0h0m0 0h0m0 0h0m0 0h0m-1 1h0m0-1h0m-1 1h0m0-2h0m0 2h0m0-2h0m-17 14h0m1-1h0m1 1h0m15-11h0m0 0h0m0 0h0m1 0h0m1 0h0m0 0h0m0 0h0m1 11h0m0-1h0m1-10h0m0 10h0m1-8h0m0-2h0m0 4h0m0-3h0m0 4h0m1-3h0m0-2h0m0 2h0m1 0h0m0 4h0m0-6h0m0 2h0m1 2h0m0 1h0m0-3h0m0-2h0m0 4h0m0-3h0m0 1h0m0 0h0m0 3h0m-7 8h0m-1 0h0m-1 1h0m-3 3h0m-1-1h0m0 0h0m-1 1h0m-1 0h0m-7 1h0m0-6h0m0 4h0m0-3h0m-1 6h0m0 0h0m0 0h0m0 0h0m0-1h0m0-1h0m0 0h0m-1-3h0m0 0h0m0 1h0m0 4h0m0-7h0m0 1h0m-1 5h0m0-5h0m0 4h0m0-1h0" stroke="#2567f9" stroke-width="1.5" stroke-linecap="square"/>
<path transform="scale(.5)" d="M532 1583h0m-1 0h0m0 0h0m-1 0h0m0 0h0m-2-2h0m0 0h0m0 1h0m0 1h0m0-1h0m0 1h0m0-2h0m-1 1h0m0-1h0m0 0h0m0-1h0m-1 3h0m0 0h0m0-1h0m0 1h0m0 0h0m-1 0h0m-1 0h0m-5 5h0m1 0h0m0-1h0m1 2h0m0 0h0m0-1h0m1-1h0m0 1h0m0 0h0m0-2h0m0 2h0m0 1h0m0 0h0m0-1h0m0-2h0m0 3h0m1-1h0m0 0h0m0-4h0m0 0h0m0 2h0m0-1h0m1 0h0m0 3h0m0-1h0m0 1h0m0-3h0m0-1h0m0 1h0m0-1h0m0 2h0m0 1h0m0-3h0m1 4h0m0-1h0m0-3h0m0 4h0m0 0h0m0-4h0m0 3h0m0-2h0m0 3h0m0-1h0m0 1h0m0-3h0m0 4h0m0-5h0m1 1h0m0 0h0m0-1h0m0 3h0m0-3h0m0 3h0m0 1h0m0-3h0m0 3h0m1-3h0m0-1h0m0 1h0m0 3h0m0-1h0m0-3h0m0 2h0m0 2h0m0-2h0m0 1h0m0-2h0m1 3h0m0-3h0m0 1h0m0 0h0m0-1h0m0 2h0m0-3h0m0 3h0m0-1h0m1-2h0m0 0h0m0 0h0m0 0h0m0 1h0m1 0h0m0-1h0m1 0h0m0 1h0m0-1h0m0 0h0m0 0h0m-43 31h0m0 2h0m0-2h0m0 0h0m1 2h0m0 1h0m1 0h0m0-1h0m1-3h0m1 1h0m0-1h0m0-1h0m0 1h0m1-5h0m1 1h0m0 1h0m0-3h0m0 1h0m1 2h0m1 0h0m0-1h0m0 1h0m0-1h0m7 5h0m0-6h0m0 6h0m0-4h0m0 5h0m0-6h0m1 6h0m0 0h0m0-8h0m0 7h0m0 1h0m0-5h0m0 4h0m0 2h0m0-7h0m0-1h0m0 1h0m0 5h0m1-5h0m0 5h0m0-7h0m0 9h0m0-8h0m0 0h0m0 1h0m0-1h0m1 2h0m0 4h0m0 0h0m-6 6h0m-1 2h0m0-1h0m-1 1h0m0 0h0m-1 1h0m0-1h0m0-2h0m0 2h0m0-2h0m0 2h0m-4 2h0m0 0h0m0-1h0m-1 1h0m0 2h0m0-2h0m0-1h0m0 1h0m0 0h0m0 1h0m0 0h0m0-2h0m-1 1h0m0 0h0m-1-1h0m0 1h0m0 1h0m0 0h0m-1 0h0m0-1h0m0-1h0m0 3h0m-1-1h0m0-2h0m0 1h0m0 0h0m0 2h0m0-1h0m-1-1h0m0 1h0m0 1h0" stroke="#1978fa" stroke-width="1.5" stroke-linecap="square"/>
<path transform="scale(.5)" d="M487 1618h0m0 1h0m1 0h0m0 0h0m2 0h0m7-10h0m0 2h0m0-3h0m1 0h0m0 1h0m0 0h0m1 0h0m0 2h0m0-1h0m0 1h0m1 0h0m0-3h0m0 10h0m0-9h0m0 0h0m1 10h0m0-1h0m0 1h0m0 0h0m0-9h0m0-2h0m0 0h0m1 2h0m0-1h0m0 0h0m0-1h0m0 1h0m0 2h0m1 3h0m0-1h0m0 0h0m0 0h0m0 0h0m0 1h0m0 5h0m0-11h0m1 6h0m0 0h0m0 0h0m0 0h0m0-2h0m0 2h0m0-2h0m1 0h0m0 1h0m0 1h0m0-1h0m1 0h0m0-1h0m0 1h0m0-1h0m0 1h0m-3 7h0m-2 0h0m-1 0h0m0 0h0m-10 2h0m0 2h0m0-3h0m0 2h0m0 0h0m0-1h0m-1 1h0m0 1h0m0-2h0m0 0h0m0 0h0m0-1h0m0 0h0m0 0h0m-1 1h0m0 1h0m0-1h0m0-2h0m0 2h0m0 0h0m0-1h0m0-1h0m0 0h0m0 2h0m0 0h0m0 2h0m0-2h0m0-1h0m-1 3h0m0-3h0m0-1h0m0 1h0m0-1h0m0 1h0m0 0h0m0 1h0" stroke="#159aed" stroke-width="1.5" stroke-linecap="square"/>
<path transform="scale(.5)" d="M490 1617h0m0-1h0m0 1h0m0 0h0m1-2h0m0 1h0m0 2h0m0-1h0m1-2h0m0 0h0m0 2h0m0-1h0m0-1h0m0 2h0m0-1h0m0 0h0m1 0h0m0 0h0m0-2h0m0 4h0m0-1h0m0 0h0m0-2h0m0 2h0m0-3h0m0 3h0m0-1h0m0-1h0m1-2h0m0-1h0m1 0h0m0 1h0m1 1h0m0 0h0m0-1h0m0 1h0m0 0h0m0-1h0m0 0h0m0 0h0m0-1h0m0 2h0m0 0h0m1-1h0m3 2h0m0-1h0m0 1h0m0 2h0m0-1h0m0 1h0m0-2h0m0 2h0m0 0h0m0-5h0m1 0h0m0 1h0m0 4h0m0-4h0m0-1h0m0 0h0m0 4h0m0-2h0m0 3h0m0-4h0m0 3h0m0 1h0m1-2h0m0 0h0m0-3h0m0 4h0m0 2h0m0-3h0m0 1h0m0-2h0m0 4h0m0-6h0m0 2h0m0-1h0m0 0h0m0 2h0m0 2h0m0-1h0m0-4h0m0 1h0m0-1h0m1 3h0m0-2h0m0 1h0m0 3h0m0 1h0m0-2h0m0 0h0m0-5h0m0 2h0m-7 9h0m0-1h0m0 2h0m0-1h0m0 0h0m0 2h0m-1-3h0m0 1h0m0 0h0m0 0h0m0 0h0m0 2h0m-1-2h0m0 0h0m0 0h0m0-1h0m0 2h0m0-1h0m-1-1h0m0 2h0m0-1h0m0-1h0m0 2h0m0-2h0m0 1h0m0 0h0m0 0h0m0 1h0m0 1h0m-1 0h0m0-1h0m0-1h0m0-1h0m0 2h0m0 0h0m0 0h0m0 1h0m-1-1h0m0 0h0m0-2h0m0 1h0m0 0h0m-1-1h0m0 1h0m0 1h0" stroke="#17bace" stroke-width="1.5" stroke-linecap="square"/>
<path transform="scale(.5)" d="M490 1619h0m1 0h0m0 0h0m0 0h0m0-1h0m0 1h0m0 0h0m1 0h0m0 0h0m0 0h0m0 0h0m0 0h0m1-1h0m0 1h0m0-1h0m0 1h0m0-1h0m4 0h0m0 1h0m0-6h0m0 6h0m0-1h0m0-6h0m0 0h0m0 6h0m0-6h0m0 1h0m0 1h0m0 0h0m0-1h0m0 2h0m0 4h0m0-7h0m0 7h0m0-5h0m1 4h0m0 0h0m0 0h0m0-4h0m0 0h0m0 0h0m0 4h0m0-5h0m0 0h0m0 1h0m0 5h0m0-6h0m0 0h0m1 6h0m0-5h0m0 4h0m0-4h0m0 0h0m0 0h0m0 5h0m0 0h0m0-7h0m0 2h0m0-2h0m0 6h0m0-5h0m0 2h0m0-2h0m0 5h0m0 1h0m0-5h0m1-2h0m0 2h0m0 5h0m0-7h0m0 0h0m-1 8h0m0 0h0m-1 1h0m0-1h0m-1 0h0m0 0h0m-4 0h0m0 0h0m0 0h0m-1 0h0m0 1h0m0-1h0m0 0h0m0 1h0m-1-1h0m0 0h0" stroke="#2bd591" stroke-width="1.5" stroke-linecap="square"/>
<path transform="scale(.5)" d="M494 1619h0m0-2h0m0 0h0m0 0h0m0 0h0m0 2h0m0-3h0m0 2h0m0 0h0m0 1h0m0 0h0m0-3h0m0 1h0m0 1h0m0-2h0m0 3h0m0-2h0m0 0h0m0-1h0m1 1h0m0-2h0m0 1h0m0 1h0m0 1h0m0-3h0m0 1h0m0 1h0m0-2h0m0 3h0m0 1h0m0-2h0m0 2h0m0-4h0m0 1h0m1 1h0m0 2h0m0-1h0m0-1h0m0 2h0m0-2h0m0 2h0m0-4h0m0 4h0m0-4h0m0 3h0m0-1h0m0 1h0m0-1h0m0 1h0m0-3h0m0 3h0m1-1h0m0 1h0m0-3h0m0 0h0m0 0h0m0 3h0m0-1h0m0-2h0m0 0h0m0 0h0m0 1h0m0 2h0m0 0h0m0-2h0m0 1h0m1 0h0m0-1h0m0-1h0m0 1h0m0 0h0m0 2h0m0-3h0m0 2h0m0-1h0m0 1h0m0-1h0m0 0h0m0 0h0m1 0h0m0 0h0m0 1h0m0-1h0m0 0h0m0-1h0m0 1h0m0 1h0m1-2h0m0 0h0m0 0h0m0 3h0m-4 2h0m0 1h0m-1-1h0m0 0h0m0 1h0m0-1h0m0 0h0m0 1h0m0 0h0m0-1h0m-1 1h0m0-1h0m0 0h0m0 0h0m0 1h0" stroke="#6ee646" stroke-width="1.5" stroke-linecap="square"/>
<path d="M254.8 762.5V831.5M219.5 800.1H289" stroke="#6e6e6e" stroke-width=".5"/>
<text x="221.5" y="766.7" font-size="3.1" fill="#555">Q1-UL(2.33%)</text>
<text x="287.5" y="766.7" font-size="3.1" text-anchor="end" fill="#555">Q1-UR(36.83%)</text>
<text x="221.5" y="829.3" font-size="3.1" fill="#555">Q1-LL(55.48%)</text>
<text x="287.5" y="829.3" font-size="3.1" text-anchor="end" fill="#555">Q1-LR(5.13%)</text>
<text x="253.8" y="757.5" font-size="11.5" text-anchor="middle" stroke="#1a1a1a" stroke-width="0.3">10 μg/mL</text>
<rect x="307.5" y="762.5" width="69.5" height="69" fill="none" stroke="#b4b4b4" stroke-width="0.8"/>
<text x="305.5" y="832.5" font-size="3.4" text-anchor="end" fill="#666">10<tspan font-size="70%" dy="-1.2">0</tspan></text>
<text x="305.5" y="818.9" font-size="3.4" text-anchor="end" fill="#666">10<tspan font-size="70%" dy="-1.2">1</tspan></text>
<text x="305.5" y="805.3" font-size="3.4" text-anchor="end" fill="#666">10<tspan font-size="70%" dy="-1.2">2</tspan></text>
<text x="305.5" y="791.7" font-size="3.4" text-anchor="end" fill="#666">10<tspan font-size="70%" dy="-1.2">3</tspan></text>
<text x="305.5" y="778.1" font-size="3.4" text-anchor="end" fill="#666">10<tspan font-size="70%" dy="-1.2">4</tspan></text>
<text x="305.5" y="764.5" font-size="3.4" text-anchor="end" fill="#666">10<tspan font-size="70%" dy="-1.2">5</tspan></text>
<text x="307.5" y="836.1" font-size="3.4" text-anchor="middle" fill="#666">10<tspan font-size="70%" dy="-1.2">0</tspan></text>
<text x="321.2" y="836.1" font-size="3.4" text-anchor="middle" fill="#666">10<tspan font-size="70%" dy="-1.2">1</tspan></text>
<text x="334.9" y="836.1" font-size="3.4" text-anchor="middle" fill="#666">10<tspan font-size="70%" dy="-1.2">2</tspan></text>
<text x="348.6" y="836.1" font-size="3.4" text-anchor="middle" fill="#666">10<tspan font-size="70%" dy="-1.2">3</tspan></text>
<text x="362.3" y="836.1" font-size="3.4" text-anchor="middle" fill="#666">10<tspan font-size="70%" dy="-1.2">4</tspan></text>
<text x="376" y="836.1" font-size="3.4" text-anchor="middle" fill="#666">10<tspan font-size="70%" dy="-1.2">5</tspan></text>
<path d="M307.5 762.5V831.5H377M307.5 831.5h1.6M307.5 828.8h.8M307.5 826.1h.8M307.5 823.3h.8M307.5 820.6h.8M307.5 817.9h1.6M307.5 815.2h.8M307.5 812.5h.8M307.5 809.7h.8M307.5 807h.8M307.5 804.3h1.6M307.5 801.6h.8M307.5 798.9h.8M307.5 796.1h.8M307.5 793.4h.8M307.5 790.7h1.6M307.5 788h.8M307.5 785.3h.8M307.5 782.5h.8M307.5 779.8h.8M307.5 777.1h1.6M307.5 774.4h.8M307.5 771.7h.8M307.5 768.9h.8M307.5 766.2h.8M307.5 763.5h1.6M307.5 831.5v-1.6M310.2 831.5v-.8M313 831.5v-.8M315.7 831.5v-.8M318.5 831.5v-.8M321.2 831.5v-1.6M323.9 831.5v-.8M326.7 831.5v-.8M329.4 831.5v-.8M332.2 831.5v-.8M334.9 831.5v-1.6M337.6 831.5v-.8M340.4 831.5v-.8M343.1 831.5v-.8M345.9 831.5v-.8M348.6 831.5v-1.6M351.3 831.5v-.8M354.1 831.5v-.8M356.8 831.5v-.8M359.6 831.5v-.8M362.3 831.5v-1.6M365 831.5v-.8M367.8 831.5v-.8M370.5 831.5v-.8M373.3 831.5v-.8M376 831.5v-1.6" stroke="#707070" stroke-width=".5" fill="none"/>
<path transform="scale(.5)" d="M693 1559h0m-51 6h0m0 4h0m4-7h0m15-2h0m31 9h0m10 0h0m9 0h0m12 10h0m-2 1h0m-3-2h0m-26-1h0m-2-5h0m0 1h0m-22 7h0m-27 1h0m-8 3h0m44 9h0m38 0h0m3 0h0m2-2h0m3 2h0m0 1h0m1-2h0m1-2h0m10-6h0m-5 20h0m-2-6h0m-12-1h0m-7 1h0m-1-1h0m-56 17h0m62 5h0m2-7h0m13-1h0m-2 18h0m-42-8h0m-29 9h0m-1 0h0m0-5h0m-3-2h0m-2 7h0m-6 2h0m9 2h0m6 0h0m15 7h0m23-7h0m20 7h0m-3 9h0m-28 5h0m-8-6h0" stroke="#787dfc" stroke-width="1.5" stroke-linecap="square"/>
<path transform="scale(.5)" d="M699 1571h0m1-1h0m19 12h0m-1 1h0m-1-4h0m0 1h0m-1-3h0m0 3h0m-2-2h0m0 1h0m-2-2h0m-1-2h0m0 1h0m-1 0h0m-1 0h0m-2 0h0m-1-3h0m-1 3h0m-1 0h0m0 0h0m-1-4h0m-1 3h0m0 1h0m0-2h0m-1-2h0m-2 1h0m-1 6h0m0-2h0m-1 0h0m-4 4h0m0-3h0m-1 3h0m-1 1h0m-1 1h0m-5 11h0m0-2h0m2-4h0m0 0h0m4-4h0m14 9h0m1 1h0m1 1h0m2-5h0m0 5h0m2-9h0m0 1h0m0 5h0m1 3h0m0-9h0m1 8h0m1 0h0m0-8h0m0 1h0m2 2h0m-14 8h0m0-1h0m-1 0h0m0 0h0m0 2h0m-7 4h0m-2 0h0m-2 5h0m0-1h0m-1 0h0m-7-8h0m-2 0h0m0-1h0m-2 2h0m-4 4h0m-15 14h0m2-1h0m2 2h0m1-8h0m1-1h0m19 9h0m6-9h0m-8 13h0m-4 5h0m-1-2h0m-6 3h0m-3 1h0m0-2h0m-1 1h0m-4 3h0m0-3h0m-1 0h0m0 3h0m-1-3h0m0 2h0m-1-7h0m-1 0h0m0 0h0m0-3h0m-1 10h0m-1 0h0" stroke="#4f60f9" stroke-width="1.5" stroke-linecap="square"/>
<path transform="scale(.5)" d="M714 1583h0m0-1h0m-2-2h0m-1 1h0m0 2h0m-1-4h0m0-1h0m-1-1h0m-1 2h0m-7 0h0m0-3h0m0 1h0m-1 0h0m0 0h0m-1 0h0m-1 3h0m0 1h0m0 0h0m-1 0h0m0-1h0m0 0h0m0 2h0m0-2h0m0 2h0m-1-1h0m-2 2h0m-8 12h0m1-1h0m1 1h0m0 0h0m1-2h0m0 0h0m0-7h0m1 8h0m0 1h0m0-5h0m0 3h0m0-6h0m0 0h0m0 6h0m0 0h0m0-2h0m0 4h0m1 0h0m0-1h0m0-4h0m0-4h0m0 1h0m1 4h0m10 1h0m2 3h0m1-5h0m0-1h0m0 2h0m1 0h0m0-1h0m3-4h0m0 2h0m1-1h0m0-1h0m0 2h0m0 0h0m2-3h0m0 0h0m1-1h0m-16 13h0m-1 0h0m-1 3h0m0-4h0m0 0h0m0 1h0m0-1h0m-1 0h0m0 2h0m0-2h0m0 2h0m0-2h0m-1 0h0m0 1h0m0 0h0m0 4h0m-1-3h0m0-2h0m0 3h0m0 0h0m0 1h0m-1 4h0m0-1h0m-1-4h0m0 1h0m0 0h0m0-1h0m-1 3h0m0 2h0m0-3h0m-2-5h0m0 1h0m0-1h0m-1 10h0m0-8h0m-1 0h0m0-2h0m-2 2h0m-1 4h0m-2-1h0m0-1h0m-1 0h0m0 0h0m-1 5h0m-1-1h0m0 0h0m-5 3h0m-10 12h0m0-1h0m2-4h0m0-2h0m4-2h0m0 0h0m1 1h0m3-3h0m0 0h0m7 11h0m4-3h0m1 1h0m1-7h0m1 5h0m1-4h0m0-2h0m1-1h0m0 6h0m-9 9h0m-2 0h0m-3 2h0m-1 2h0m0-2h0m-10-4h0m0 1h0m0-2h0m-1 5h0m0-2h0m0-3h0m-1 4h0m0 3h0m0-3h0m0-2h0m-1 4h0m0-5h0m0 5h0" stroke="#3256f8" stroke-width="1.5" stroke-linecap="square"/>
<path transform="scale(.5)" d="M711 1582h0m-1-1h0m0 0h0m0 2h0m0-3h0m-1 1h0m-1 1h0m0-1h0m0-3h0m0 4h0m0 0h0m-1-5h0m0 2h0m0-1h0m0 0h0m-1 1h0m0 0h0m0-1h0m-1 1h0m0 0h0m-1 0h0m-1-2h0m-1-1h0m0 2h0m-1 2h0m0 2h0m0 0h0m-2 1h0m0-2h0m0 1h0m-1 1h0m-1 0h0m0 0h0m-1 0h0m-4 9h0m0 3h0m0-2h0m0 2h0m0-2h0m0-2h0m0 0h0m1-4h0m0 5h0m0-4h0m0 0h0m0 0h0m0 4h0m0 2h0m0-5h0m0 0h0m0 4h0m0-3h0m1 0h0m0-1h0m0 0h0m0 0h0m0-2h0m1 2h0m0 2h0m0 1h0m0 1h0m0-9h0m1 9h0m0 0h0m0 0h0m0 0h0m0 2h0m0-11h0m1 9h0m1-9h0m0 10h0m0-1h0m1-1h0m0 1h0m1 0h0m0 1h0m1 1h0m0-6h0m0 4h0m0 1h0m1-5h0m0 2h0m0 0h0m1-1h0m0 2h0m0-1h0m0-1h0m0 1h0m1-2h0m0 3h0m0-2h0m1-4h0m0 1h0m1 0h0m0 0h0m0-1h0m1 0h0m0 1h0m0-1h0m0 2h0m0 0h0m0 0h0m1-4h0m1 0h0m-18 12h0m0 2h0m0-2h0m0 2h0m-1-1h0m-1 0h0m0 0h0m0-1h0m0 1h0m-1 4h0m0-1h0m0 1h0m0 4h0m0-3h0m0 2h0m0-2h0m-1 1h0m0-1h0m0 2h0m0-3h0m0 2h0m0-3h0m-1-1h0m0 3h0m0 0h0m0 0h0m0-3h0m0 2h0m0 3h0m0 0h0m0-4h0m-1 2h0m0 3h0m0-4h0m0-1h0m0 1h0m0 2h0m0-3h0m0 1h0m0-2h0m-1 4h0m0 1h0m0-1h0m-1 1h0m0 1h0m0-1h0m0 0h0m0-1h0m0-2h0m0 2h0m0 1h0m0 0h0m0 0h0m-1 1h0m0-1h0m0-1h0m0-1h0m0-1h0m0 1h0m-1 1h0m0 2h0m0-2h0m0 2h0m-1-3h0m0 3h0m-1-3h0m-4 5h0m0-2h0m0 2h0m-1 0h0m-11 10h0m1-2h0m2 2h0m0 1h0m5-8h0m0 0h0m1-1h0m2-1h0m2 0h0m6 6h0m1-3h0m0 1h0m0 1h0m0 0h0m1 0h0m0-1h0m0 1h0m0 0h0m0-1h0m1 0h0m0 0h0m0-1h0m-13 14h0m0 2h0m-2-1h0m-1 0h0m0 0h0m0-1h0m-1 1h0m0-1h0m0 1h0m0-2h0m-1 3h0m0-2h0m0-1h0m0 1h0m0 1h0m0-1h0m0 1h0m-1 0h0m0 0h0m0-2h0m0 1h0m-1 1h0m0-1h0m0 0h0m-1 2h0m0-2h0m-1 1h0" stroke="#2567f9" stroke-width="1.5" stroke-linecap="square"/>
<path transform="scale(.5)" d="M707 1583h0m0-3h0m0 3h0m0-1h0m0-1h0m0 2h0m0-2h0m0 1h0m-1 1h0m0-2h0m0 0h0m0 1h0m0 0h0m0 0h0m0 1h0m0-3h0m-1 1h0m0 1h0m0-2h0m0 3h0m0-2h0m0-1h0m0 2h0m0-2h0m0 3h0m0-2h0m0 1h0m-1 0h0m0-2h0m0 2h0m-1 0h0m0 0h0m0-2h0m0-1h0m0 4h0m0-1h0m0 1h0m0-3h0m-1 0h0m0 2h0m0-2h0m-1 3h0m0 0h0m0 0h0m0 0h0m-1 0h0m0 0h0m0 0h0m0 0h0m0 0h0m0 0h0m-1 0h0m-1 0h0m-3 9h0m1-2h0m0-1h0m0-1h0m0 1h0m0 1h0m0-2h0m0 3h0m0-1h0m0-3h0m1 0h0m0 4h0m0-5h0m0 3h0m0-2h0m0 2h0m0 1h0m0-1h0m0 1h0m0 0h0m0-4h0m1 1h0m0 0h0m0 1h0m0 3h0m0-5h0m1 6h0m0-1h0m0-1h0m0-4h0m0-1h0m0 5h0m1 0h0m0 1h0m0-7h0m0 7h0m0-2h0m0 1h0m0 0h0m0-6h0m0 5h0m1-4h0m0 4h0m0 3h0m0-7h0m0 4h0m1-4h0m0 4h0m0-3h0m0 1h0m0-3h0m1 3h0m0-1h0m0 3h0m0-2h0m0-2h0m0-1h0m0 4h0m0-4h0m0 3h0m1-3h0m0 4h0m0 0h0m0-1h0m0 1h0m0-1h0m0 1h0m0-4h0m0 4h0m0-3h0m0 1h0m1-2h0m0 3h0m0-1h0m1-2h0m0 0h0m0 1h0m0 1h0m1-1h0m1-1h0m-23 22h0m-1 0h0m-1 1h0m0 0h0m0-1h0m0 1h0m-1 0h0m0 0h0m-1 0h0m-1-1h0m0 1h0m0-2h0m0 2h0m-1 0h0m0 0h0m-1 0h0m0-2h0m-1 2h0m-1 0h0m-12 12h0m1-1h0m0 0h0m0 0h0m0 0h0m0 0h0m1-6h0m1 0h0m0 0h0m0 2h0m2 0h0m0 0h0m0-1h0m7 6h0m1-11h0m0 11h0m0 0h0m0-1h0m2 0h0m0-1h0m0-9h0m0 10h0m0 0h0m0-10h0m0 7h0m1 2h0m0-9h0m0 8h0m1-1h0m0 0h0m0 1h0m0-8h0m0 0h0m1 0h0m0 0h0m0 0h0m1 2h0m0-1h0m0 2h0m1-3h0m0 0h0m1 0h0m0 0h0m0 2h0m0-2h0m0 3h0m-6 9h0m-3 0h0m-1 2h0m-1 0h0m0 0h0m0 0h0m-1-1h0m0 2h0m-7 1h0m0-1h0m0-2h0m0-1h0m0 3h0m0-3h0m0 4h0m-1-3h0m0 2h0m0-3h0m0 1h0m0 2h0m0-3h0m0 1h0m-1-1h0m0 2h0m0 2h0m0-3h0m0 1h0m-1-2h0m0 4h0" stroke="#1978fa" stroke-width="1.5" stroke-linecap="square"/>
<path transform="scale(.5)" d="M698 1588h0m0 0h0m1 0h0m0-2h0m0 1h0m0-1h0m0 3h0m0 0h0m0-1h0m0 0h0m1-2h0m0 1h0m0 2h0m0-3h0m0 1h0m0-1h0m1 1h0m0-1h0m0 1h0m0-1h0m0 0h0m0 1h0m0 0h0m0 1h0m-35 30h0m1-1h0m0-1h0m0 0h0m0-1h0m1 0h0m0 2h0m0 1h0m0-1h0m1-2h0m0 3h0m0-1h0m0 1h0m0-1h0m4-7h0m0-1h0m0 0h0m0 2h0m0-2h0m1 2h0m0-1h0m0 1h0m0-2h0m0 1h0m0 0h0m1 1h0m0-2h0m0 1h0m1-1h0m3 3h0m0-1h0m0 3h0m0-2h0m0-3h0m0 4h0m0-1h0m0-2h0m0 0h0m1 3h0m0-2h0m0 3h0m0-3h0m0 3h0m0-2h0m0 0h0m0 1h0m0-4h0m0 6h0m0-6h0m0 2h0m0 2h0m0-1h0m0-2h0m0 0h0m0-2h0m0 2h0m0 3h0m0-4h0m0 4h0m1 0h0m0 1h0m0-1h0m0-2h0m0-2h0m0-1h0m0 5h0m0-3h0m0 1h0m0-1h0m0 0h0m0 2h0m0-3h0m0 0h0m1 4h0m0-3h0m0-2h0m0 2h0m0 0h0m0 0h0m0-1h0m0 0h0m-10 12h0m0 1h0m0 1h0m0-2h0m-1 2h0m0-1h0m0 0h0m0 0h0m0-1h0m-1 0h0m0 1h0m0 1h0m-1 0h0m0 0h0m0-1h0m0 1h0m0 1h0m0-2h0m0-1h0m0 3h0m0 0h0m-1-3h0m0 1h0m0-1h0m0 2h0m0 1h0m0-2h0m0 1h0m0-2h0m0 1h0m-1 0h0m0 2h0m-1 0h0" stroke="#159aed" stroke-width="1.5" stroke-linecap="square"/>
<path transform="scale(.5)" d="M667 1619h0m0-1h0m1 1h0m0 0h0m0-1h0m0 0h0m1 1h0m0 0h0m0 0h0m1-6h0m0 0h0m0 0h0m0 0h0m0 1h0m0-1h0m0 1h0m1-1h0m0 0h0m0-2h0m0 1h0m0 1h0m1-1h0m0 1h0m0-2h0m0 1h0m0 1h0m0 1h0m4 3h0m0 1h0m0-7h0m0-2h0m0 8h0m0-1h0m0-1h0m1 3h0m0-2h0m0-7h0m0 1h0m0 5h0m0-6h0m0 7h0m0 1h0m0-7h0m1 1h0m0 7h0m0-8h0m0 5h0m0 0h0m0-4h0m0 5h0m0-5h0m0 5h0m0 0h0m0-8h0m0 1h0m0 8h0m0-7h0m1-1h0m0 0h0m0 6h0m-10 5h0m0 0h0m0 1h0m-1-1h0m-1 0h0m0 1h0m0-1h0m0 1h0m0-1h0" stroke="#17bace" stroke-width="1.5" stroke-linecap="square"/>
<path transform="scale(.5)" d="M670 1619h0m0 0h0m0 0h0m0-1h0m0 0h0m0 0h0m0 1h0m0 0h0m0-1h0m0 0h0m0 0h0m0 0h0m0 1h0m0 0h0m0 0h0m0 0h0m1 0h0m0-1h0m0 1h0m0 0h0m1-1h0m0 1h0m0-1h0m0 1h0m0-1h0m1-5h0m0-1h0m0 6h0m0-4h0m0 1h0m0-2h0m0 1h0m0-2h0m0 1h0m0 6h0m1-5h0m0 1h0m0-3h0m0 1h0m0 0h0m0 6h0m0-7h0m0 2h0m0 5h0m0-7h0m0 0h0m0 2h0m0-1h0m0 1h0m1 5h0m0-1h0m0-4h0m0 0h0m0-1h0m0 0h0m0 5h0m0-4h0m0 5h0m0-7h0m0 0h0m0 1h0m0 1h0m0-1h0m0 0h0m0 5h0m0-5h0m0-1h0m0 7h0m0-6h0m1 0h0m0-1h0m0 0h0m0 0h0m0 2h0m0 0h0m0 0h0m0 5h0m0-6h0m0 0h0m1 1h0m0 0h0m0 0h0m0-2h0m0 3h0m0-3h0m0 2h0m0 0h0m0 0h0m0-3h0m0 2h0m1 1h0m0 0h0m0 0h0m0 1h0m0-2h0m1 0h0m0-1h0m0 3h0m0-2h0m0-1h0m0 2h0m-4 6h0m0 0h0m-1 0h0m0 0h0m0 1h0m0 0h0m0-1h0m0 0h0m0 0h0m0 0h0m0 1h0m0-1h0m-1 1h0m-1-1h0m0 0h0m0 0h0m0 0h0m-1 0h0m0 0h0m0 1h0m0-1h0m0 1h0m0-1h0m0 1h0m0-1h0m-1 1h0m0-1h0m0 0h0m0 0h0m0 1h0m0-1h0m0 0h0m0 1h0m0-1h0m0 0h0m0 1h0" stroke="#2bd591" stroke-width="1.5" stroke-linecap="square"/>
<path transform="scale(.5)" d="M669 1615h0m1 0h0m0 1h0m0 1h0m0 0h0m0 0h0m0-1h0m0 0h0m0 0h0m0 1h0m0 1h0m0-3h0m1 0h0m0 0h0m0 2h0m0-2h0m0 0h0m0 1h0m0 1h0m0 1h0m0-1h0m1 0h0m0-2h0m0 2h0m0-1h0m0 2h0m0 0h0m0-1h0m0-2h0m1 2h0m0 0h0m0-1h0m0-1h0m0 3h0m0-2h0m0 0h0m0 1h0m0 0h0m0 0h0m0-2h0m0 3h0m0-1h0m0 1h0m0-2h0m0 1h0m0-2h0m1 2h0m0-1h0m0 1h0m0-2h0m0 2h0m0 0h0m0 0h0m0-1h0m0 1h0m1-2h0m0 1h0m0 1h0m0 1h0m0-1h0m0-1h0m0 1h0m0-2h0m0 1h0m0-1h0m0 2h0m0-1h0m1 1h0m0 0h0m0-1h0m0 1h0m0 1h0" stroke="#6ee646" stroke-width="1.5" stroke-linecap="square"/>
<path d="M342.8 762.5V831.5M307.5 800.1H377" stroke="#6e6e6e" stroke-width=".5"/>
<text x="309.5" y="766.7" font-size="3.1" fill="#555">Q1-UL(2.42%)</text>
<text x="375.5" y="766.7" font-size="3.1" text-anchor="end" fill="#555">Q1-UR(53.49%)</text>
<text x="309.5" y="829.3" font-size="3.1" fill="#555">Q1-LL(38.63%)</text>
<text x="375.5" y="829.3" font-size="3.1" text-anchor="end" fill="#555">Q1-LR(5.47%)</text>
<text x="341.5" y="757.5" font-size="11.5" text-anchor="middle" stroke="#1a1a1a" stroke-width="0.3">20 μg/mL</text>
<rect x="448.8" y="764.3" width="69.5" height="69" fill="none" stroke="#b4b4b4" stroke-width="0.8"/>
<text x="446.8" y="834.3" font-size="3.4" text-anchor="end" fill="#666">10<tspan font-size="70%" dy="-1.2">0</tspan></text>
<text x="446.8" y="820.7" font-size="3.4" text-anchor="end" fill="#666">10<tspan font-size="70%" dy="-1.2">1</tspan></text>
<text x="446.8" y="807.1" font-size="3.4" text-anchor="end" fill="#666">10<tspan font-size="70%" dy="-1.2">2</tspan></text>
<text x="446.8" y="793.5" font-size="3.4" text-anchor="end" fill="#666">10<tspan font-size="70%" dy="-1.2">3</tspan></text>
<text x="446.8" y="779.9" font-size="3.4" text-anchor="end" fill="#666">10<tspan font-size="70%" dy="-1.2">4</tspan></text>
<text x="446.8" y="766.3" font-size="3.4" text-anchor="end" fill="#666">10<tspan font-size="70%" dy="-1.2">5</tspan></text>
<text x="448.8" y="837.9" font-size="3.4" text-anchor="middle" fill="#666">10<tspan font-size="70%" dy="-1.2">0</tspan></text>
<text x="462.5" y="837.9" font-size="3.4" text-anchor="middle" fill="#666">10<tspan font-size="70%" dy="-1.2">1</tspan></text>
<text x="476.2" y="837.9" font-size="3.4" text-anchor="middle" fill="#666">10<tspan font-size="70%" dy="-1.2">2</tspan></text>
<text x="489.9" y="837.9" font-size="3.4" text-anchor="middle" fill="#666">10<tspan font-size="70%" dy="-1.2">3</tspan></text>
<text x="503.6" y="837.9" font-size="3.4" text-anchor="middle" fill="#666">10<tspan font-size="70%" dy="-1.2">4</tspan></text>
<text x="517.3" y="837.9" font-size="3.4" text-anchor="middle" fill="#666">10<tspan font-size="70%" dy="-1.2">5</tspan></text>
<path d="M448.8 764.3V833.3H518.3M448.8 833.3h1.6M448.8 830.6h.8M448.8 827.9h.8M448.8 825.1h.8M448.8 822.4h.8M448.8 819.7h1.6M448.8 817h.8M448.8 814.3h.8M448.8 811.5h.8M448.8 808.8h.8M448.8 806.1h1.6M448.8 803.4h.8M448.8 800.7h.8M448.8 797.9h.8M448.8 795.2h.8M448.8 792.5h1.6M448.8 789.8h.8M448.8 787.1h.8M448.8 784.3h.8M448.8 781.6h.8M448.8 778.9h1.6M448.8 776.2h.8M448.8 773.5h.8M448.8 770.7h.8M448.8 768h.8M448.8 765.3h1.6M448.8 833.3v-1.6M451.5 833.3v-.8M454.3 833.3v-.8M457 833.3v-.8M459.8 833.3v-.8M462.5 833.3v-1.6M465.2 833.3v-.8M468 833.3v-.8M470.7 833.3v-.8M473.5 833.3v-.8M476.2 833.3v-1.6M478.9 833.3v-.8M481.7 833.3v-.8M484.4 833.3v-.8M487.2 833.3v-.8M489.9 833.3v-1.6M492.6 833.3v-.8M495.4 833.3v-.8M498.1 833.3v-.8M500.9 833.3v-.8M503.6 833.3v-1.6M506.3 833.3v-.8M509.1 833.3v-.8M511.8 833.3v-.8M514.6 833.3v-.8M517.3 833.3v-1.6" stroke="#707070" stroke-width=".5" fill="none"/>
<path transform="scale(.5)" d="M962 1562h0m2-1h0m26 5h0m2 6h0m-2 6h0m-1 1h0m-14-7h0m-45 1h0m-2 5h0m-1-2h0m7 9h0m62-1h0m19 23h0m-12-11h0m-32 8h0m-2 3h0m-3-3h0m-2 1h0m-8-1h0m-5-4h0m-26 16h0m5-1h0m42-5h0m1 2h0m0 3h0m5 0h0m9 2h0m16-7h0m-10 15h0m-4 5h0m-70 6h0m0 0h0m1 6h0m26 1h0m1-2h0m6-5h0m8-4h0m20 4h0m23 0h0m-66 12h0m-3 0h0m-2 4h0m-14-3h0m14 7h0m14 4h0m2 0h0" stroke="#787dfc" stroke-width="1.5" stroke-linecap="square"/>
<path transform="scale(.5)" d="M967 1607h0m-1 0h0m-5 0h0m-3 0h0m-25 11h0m1 0h0m1-1h0m1-2h0m2 0h0m0-3h0m0 1h0m1 0h0m4-3h0m5-1h0m2 3h0m0-1h0m2 0h0m1-1h0m3 0h0m0-1h0m0 1h0m2-2h0m2 3h0m1-1h0m0 0h0m1 7h0m0-3h0m0 4h0m1-7h0m0-3h0m0 9h0m0-8h0m1 1h0m1 7h0m1 0h0m0-5h0m0 5h0m0-2h0m0-3h0m1 3h0m0 2h0m2-1h0m0 0h0m0-2h0m-4 7h0m-1 1h0m0 5h0m-1-2h0m0-4h0m-1 2h0m0-1h0m-1 5h0m-1 1h0m-34-5h0m-1 3h0m-3 3h0m0 12h0m0 2h0m1-11h0m0 8h0m0-5h0m0 0h0m1 4h0m1 0h0m0 0h0m2 4h0m2-1h0m1-1h0m1 0h0m1 2h0m7-2h0m3 0h0m0 1h0m2 0h0m2-4h0m4-4h0m-9 11h0m0 1h0m-1-2h0m0 1h0m-2-1h0m-2 0h0m-5 0h0m0 2h0m-4-1h0m-2 1h0m-1-1h0m0 0h0" stroke="#4f60f9" stroke-width="1.5" stroke-linecap="square"/>
<path transform="scale(.5)" d="M930 1619h0m6-3h0m0 0h0m1 1h0m0 0h0m3-4h0m0 1h0m2-1h0m0 1h0m1 0h0m0-1h0m1 1h0m0 0h0m0-1h0m1-1h0m0 2h0m0 0h0m11 0h0m0-2h0m1 1h0m0 0h0m1 3h0m0-3h0m0 1h0m1 3h0m0-3h0m0-1h0m0 2h0m0 0h0m1 4h0m0-2h0m0-1h0m0-1h0m1 4h0m0-4h0m0 2h0m0-2h0m0 7h0m0 2h0m0-2h0m-1-1h0m0-1h0m-1 0h0m0 4h0m-2 2h0m-1 1h0m0-2h0m-1 3h0m0 0h0m-1 0h0m0 0h0m-2 0h0m-19-7h0m-4 3h0m-4 5h0m0 2h0m-1-3h0m0 1h0m0 3h0m0 1h0m1 4h0m1-4h0m2 5h0m0 0h0m1 1h0m0 1h0m0-1h0m6 3h0m0 0h0m1 1h0m1-1h0m0 0h0m6-4h0m3-1h0m1-3h0m1 3h0m3-5h0" stroke="#3256f8" stroke-width="1.5" stroke-linecap="square"/>
<path transform="scale(.5)" d="M934 1619h0m2 0h0m0 0h0m3-2h0m1-1h0m0 0h0m1 1h0m1 1h0m5-4h0m1 0h0m0 0h0m1 0h0m0 0h0m0-1h0m1 0h0m0 2h0m0-2h0m1-1h0m0 3h0m1-2h0m0 2h0m0-2h0m0 1h0m0 0h0m1-1h0m0 0h0m1-1h0m0 1h0m0 0h0m0 0h0m1 5h0m0 0h0m1-1h0m0-1h0m0 0h0m0 1h0m0 0h0m0-1h0m1 3h0m0-1h0m0-3h0m0 3h0m0-2h0m0 1h0m0 2h0m0-2h0m1 2h0m0-4h0m0 1h0m-1 4h0m0 1h0m0 1h0m0 0h0m-1 1h0m0-3h0m0 1h0m0-1h0m0 1h0m0 0h0m-1 5h0m0 0h0m-1 0h0m0 0h0m-1 0h0m0 1h0m0 0h0m0-1h0m-1 1h0m-1 1h0m-1 2h0m0-1h0m0 0h0m0 1h0m0-1h0m-3 2h0m-11-11h0m0 0h0m-1 0h0m-2 0h0m0 4h0m0-1h0m-1 1h0m0 0h0m0 1h0m0 0h0m-1-2h0m-1-1h0m0 3h0m-1 6h0m0-6h0m0 0h0m0 6h0m0 0h0m-1-1h0m0-4h0m0 3h0m-1-3h0m0 2h0m0 2h0m0-2h0m0-3h0m0 0h0m0 10h0m0 1h0m0-1h0m1 1h0m0 1h0m0-1h0m1 1h0m1-1h0m0 4h0m0 0h0m0-6h0m1 4h0m0 1h0m0 0h0m1-1h0m1 0h0m0 0h0m1 2h0m0-2h0m0 0h0m0 1h0m1 1h0m0-2h0m1 1h0m1 1h0m0-1h0m0-1h0m1 1h0m0 0h0m0 2h0m0-3h0m0 1h0m1 0h0m1 0h0m1-1h0m0-1h0m0 2h0m0 1h0m1-1h0m0-2h0m1-1h0m0 0h0m0 1h0m0-2h0m0 1h0m1 0h0m0-1h0m0 0h0m0 1h0m1 1h0m0 0h0m1-3h0m0-2h0m0 1h0m0-1h0m0 1h0m0 0h0m1 1h0m0-1h0m0-1h0m0 1h0m0 0h0m1-1h0m0 0h0" stroke="#2567f9" stroke-width="1.5" stroke-linecap="square"/>
<path transform="scale(.5)" d="M938 1619h0m0 0h0m0 0h0m1-1h0m3-2h0m1 1h0m0-1h0m0-1h0m0 2h0m0-1h0m1 1h0m0 1h0m0-1h0m0-1h0m0 0h0m0 0h0m1 1h0m1-2h0m0 3h0m0-3h0m0 1h0m1 2h0m0-1h0m0 1h0m0 0h0m0-2h0m1 0h0m0 2h0m0-3h0m0 2h0m1 0h0m0 1h0m0-1h0m1 1h0m0-1h0m0 0h0m0 0h0m0 1h0m0-1h0m2 0h0m0-2h0m0 1h0m1 2h0m0-3h0m0 2h0m0-1h0m1 3h0m0 0h0m1-2h0m0-2h0m0 0h0m0 1h0m0 5h0m-1 3h0m0-4h0m0 2h0m0-2h0m0 3h0m0 1h0m0 0h0m-1 1h0m0-3h0m0 0h0m0 2h0m0-4h0m0 3h0m0-1h0m0-2h0m0 4h0m0 0h0m-1-4h0m0 3h0m0-3h0m0 0h0m0 0h0m-15 1h0m0 0h0m0 0h0m-1-1h0m-3 5h0m-1 2h0m0-1h0m0-1h0m0 0h0m0 0h0m0 3h0m-1-3h0m0 2h0m0 0h0m0-2h0m-1 2h0m0-1h0m0 2h0m0-2h0m0 0h0m0 1h0m0-1h0m-2 5h0m-1 3h0m0-1h0m0 1h0m0-2h0m0 1h0m0 1h0m1-2h0m0 2h0m1-2h0m0 0h0m1 5h0m0-4h0m0 4h0m0-1h0m0 1h0m0 0h0m2 0h0m1-2h0m0 2h0m0-1h0m0-1h0m6 0h0m0 1h0m1 0h0m0-1h0m0 2h0m1-1h0m0-2h0m0 2h0m0 1h0m1-2h0m0 1h0m0 1h0" stroke="#1978fa" stroke-width="1.5" stroke-linecap="square"/>
<path transform="scale(.5)" d="M941 1619h0m0 0h0m0 0h0m1 0h0m0 0h0m1 0h0m0-1h0m0 1h0m1 0h0m0-1h0m0 1h0m1 0h0m0 0h0m0 0h0m4 0h0m0 0h0m1-1h0m0 1h0m1 0h0m0 0h0m0 0h0m0-1h0m0 1h0m1 0h0m0 1h0m0 0h0m0 5h0m0 2h0m0-3h0m-1 2h0m0-6h0m0 3h0m0 1h0m0-2h0m0-2h0m0 1h0m0 3h0m0 3h0m0-5h0m0 3h0m0-4h0m0 7h0m0-3h0m0 2h0m0-7h0m0 2h0m-1 2h0m0 0h0m0-2h0m0 3h0m0 2h0m0-4h0m0-1h0m0 5h0m-1-4h0m0 2h0m0 0h0m0 2h0m0 0h0m0-4h0m0-1h0m0-1h0m0 5h0m0-2h0m0-2h0m0 0h0m0 1h0m-1 7h0m0-1h0m0-1h0m0 1h0m-1-1h0m0 3h0m0-3h0m0 2h0m0-2h0m0 1h0m0-1h0m0 2h0m0 1h0m-1-3h0m0 3h0m0-10h0m0 7h0m0 1h0m-1-9h0m0 11h0m0-11h0m0 1h0m-1 0h0m0 10h0m-1-10h0m0 0h0m0-1h0m-1 0h0m-1 1h0m-1 0h0m-4 2h0m0 1h0m0 0h0m-1 0h0m0 0h0m0-2h0m-1 2h0m-1 5h0m0 0h0m0-7h0m-1 7h0m0 2h0m0-1h0m0 1h0m0 0h0m0-2h0m0 0h0m-1-1h0m0 0h0m0 3h0m0-2h0m-1 0h0m0 2h0m0 0h0m0-1h0m0 4h0m0 0h0m0 0h0m0-1h0m1-1h0m0 1h0m0-1h0m0 0h0m0 0h0m0 0h0m0 0h0m0 0h0m0 0h0m0 2h0m0-2h0m1 2h0m0-2h0m0 0h0m0 0h0m1 1h0m0-1h0m0 4h0m0 1h0m0 0h0m1-1h0m0-1h0m0 1h0m1-1h0m0 2h0m0-3h0m0 3h0m1 0h0m0-2h0m0 1h0m0 0h0m0-1h0m1 1h0m0-1h0m0 1h0m0-2h0m1 3h0m0 0h0m0-2h0m0 0h0m0 0h0m1 2h0m0-2h0m0 1h0m0 1h0m0-2h0m0 0h0m0 1h0m4-2h0m0-2h0m0 1h0m2-1h0" stroke="#159aed" stroke-width="1.5" stroke-linecap="square"/>
<path transform="scale(.5)" d="M946 1619h0m0 0h0m3 0h0m0 0h0m0 3h0m0 5h0m0-4h0m-1-3h0m0 7h0m0-4h0m0 2h0m0-4h0m0-1h0m0 3h0m0-3h0m0 7h0m0-5h0m0-2h0m0 5h0m0-5h0m0 5h0m0-1h0m-1-4h0m0 3h0m0-3h0m0 2h0m0 4h0m0-5h0m0 1h0m0 2h0m0-2h0m0 4h0m0-4h0m0 2h0m0 0h0m0-2h0m0 5h0m0 0h0m0-4h0m0 0h0m0-2h0m0 0h0m0 4h0m0 0h0m-1 2h0m0-2h0m0-2h0m0-2h0m0 4h0m0 2h0m0-6h0m0 0h0m0 2h0m0 0h0m0 4h0m0-4h0m0 0h0m0-2h0m0 4h0m0-2h0m-1 7h0m0 0h0m0 0h0m0-1h0m0-1h0m0 0h0m0 2h0m0-2h0m0 1h0m0 0h0m-1-1h0m0 1h0m0 2h0m0 0h0m0-1h0m0-2h0m0 2h0m0-2h0m0 1h0m0 2h0m-1 0h0m0-1h0m0-2h0m0 3h0m0-1h0m0 1h0m0-1h0m0 1h0m-3 0h0m0 0h0m-1-8h0m0 1h0m0 0h0m0 0h0m0-2h0m0 2h0m0-1h0m0-1h0m0 1h0m0 1h0m-1-2h0m0 1h0m0-2h0m0 2h0m0 1h0m0 0h0m0 0h0m0 0h0m0-1h0m0 0h0m0 1h0m-1-2h0m0 1h0m0 0h0m0 0h0m0-2h0m-1 2h0m0 1h0m0 4h0m0-1h0m0-2h0m0 1h0m-1-1h0m0 0h0m0 2h0m0-2h0m0 2h0m-1 1h0m0-1h0m0 0h0m0 0h0m0 0h0m0-2h0m0 1h0m-1 0h0m6 7h0m0-1h0m1 1h0m0 0h0m0-1h0m0 1h0m1-1h0m0 1h0m1 1h0m0-2h0m0 0h0" stroke="#17bace" stroke-width="1.5" stroke-linecap="square"/>
<path transform="scale(.5)" d="M946 1625h0m0-1h0m-1 3h0m0-6h0m0 1h0m0 4h0m0-2h0m0-1h0m0 4h0m0-4h0m-1 5h0m0-5h0m0 4h0m0-1h0m0-1h0m0-2h0m0 0h0m0 2h0m0 3h0m0-2h0m0 0h0m0-3h0m0 0h0m0 1h0m0 0h0m0 2h0m0-3h0m-1 3h0m0-1h0m0 0h0m0-3h0m0 4h0m0-4h0m0 1h0m0-1h0m0 3h0m0-1h0m0-1h0m0 3h0m0 0h0m0-1h0m0-3h0m0 3h0m0 1h0m0-3h0m0 1h0m0 0h0m0-2h0m-1 2h0m0 0h0m0 0h0m0-1h0m0 1h0m0 0h0m-1 0h0m0-1h0m0 0h0m0 1h0m-1-2h0m0 1h0m0 0h0m0 1h0m0 0h0m0-1h0m0 0h0m0 1h0m0 0h0m0-2h0m0 2h0m0 0h0m-1 3h0m0 0h0m0 4h0m0-6h0m0 0h0m0 0h0m0 1h0m0 2h0m0-2h0m-1 5h0m0-6h0m0 2h0m0 1h0m0-2h0m0-1h0m0 6h0m0 0h0m-1-3h0m0-1h0m0-1h0m0 1h0m0 4h0m0-6h0m0 3h0m0-1h0m0 0h0m0 0h0m0 4h0m0-6h0m0 2h0m-1-1h0m0 1h0m0 0h0m0 3h0m-1-2h0m0 1h0m0 0h0m0 1h0m0-1h0m0 2h0m0-2h0m0 2h0m0 0h0m0 0h0m-1 0h0m0 0h0m0-2h0m0 1h0m0 0h0m0-2h0m0 2h0m0-2h0m0 2h0m0 0h0m-1 0h0m0 0h0m0 0h0m0 1h0m0 0h0m0 0h0m0 1h0m0 1h0m0 1h0m0-1h0m0-1h0m0 1h0m0-1h0m1 2h0m0-1h0m0-1h0m0 0h0m0 0h0m0 0h0m0 0h0m0 2h0m0-2h0m1 2h0m0-1h0m0 0h0m0 0h0m0 0h0m0 0h0m0-1h0m1 0h0m0 0h0m0 2h0m0-2h0m0 2h0m0 0h0m0-1h0m0-1h0m0 1h0m0 1h0m0-2h0m0 0h0m1 0h0m0 1h0m0 1h0m0 0h0m0-2h0m0 1h0m0 0h0m0-1h0m0 0h0m0 0h0m0 1h0m0 0h0m1-1h0m0 0h0m0 0h0m1 0h0m0 0h0m0 1h0m0 1h0m0-1h0" stroke="#2bd591" stroke-width="1.5" stroke-linecap="square"/>
<path transform="scale(.5)" d="M942 1630h0m0-5h0m0 4h0m0 0h0m0-2h0m0-2h0m0 3h0m0 1h0m0-1h0m0-1h0m0 3h0m-1-1h0m0-4h0m0 2h0m0-2h0m0 4h0m0 0h0m0 1h0m0-2h0m0-3h0m0 1h0m0 3h0m0 2h0m0-1h0m-1-3h0m0 0h0m0 3h0m0-4h0m0 2h0m0-3h0m0 0h0m0 1h0m0 0h0m0 2h0m0-1h0m0-2h0m0 6h0m0-3h0m0-2h0m0 3h0m0-2h0m0-2h0m0 1h0m0 1h0m-1 3h0m0-2h0m0 2h0m0-1h0m0-1h0m0 2h0m0 1h0m0-1h0m0-2h0m0-2h0m0 3h0m0 2h0m0-1h0m0-2h0m0 1h0m0 1h0m-1-1h0m0 2h0m0 0h0m0 0h0m0 0h0m0-2h0m0 1h0m-1 0h0m0-1h0m0 0h0m0 2h0m0 0h0m0-1h0m0 0h0m0-1h0m0-1h0m0 1h0m-1 1h0m0-1h0m0 1h0m0-1h0m0-1h0m0 3h0" stroke="#6ee646" stroke-width="1.5" stroke-linecap="square"/>
<path d="M484.1 764.3V833.3M448.8 801.9H518.3" stroke="#6e6e6e" stroke-width=".5"/>
<text x="450.8" y="768.5" font-size="3.1" fill="#555">Q1-UL(2.17%)</text>
<text x="516.8" y="768.5" font-size="3.1" text-anchor="end" fill="#555">Q1-UR(1.26%)</text>
<text x="450.8" y="831.1" font-size="3.1" fill="#555">Q1-LL(94.89%)</text>
<text x="516.8" y="831.1" font-size="3.1" text-anchor="end" fill="#555">Q1-LR(1.69%)</text>
<text x="481" y="758.2" font-size="11.5" text-anchor="middle" stroke="#1a1a1a" stroke-width="0.3">Control</text>
<rect x="536.3" y="764.3" width="69.5" height="69" fill="none" stroke="#b4b4b4" stroke-width="0.8"/>
<text x="534.3" y="834.3" font-size="3.4" text-anchor="end" fill="#666">10<tspan font-size="70%" dy="-1.2">0</tspan></text>
<text x="534.3" y="820.7" font-size="3.4" text-anchor="end" fill="#666">10<tspan font-size="70%" dy="-1.2">1</tspan></text>
<text x="534.3" y="807.1" font-size="3.4" text-anchor="end" fill="#666">10<tspan font-size="70%" dy="-1.2">2</tspan></text>
<text x="534.3" y="793.5" font-size="3.4" text-anchor="end" fill="#666">10<tspan font-size="70%" dy="-1.2">3</tspan></text>
<text x="534.3" y="779.9" font-size="3.4" text-anchor="end" fill="#666">10<tspan font-size="70%" dy="-1.2">4</tspan></text>
<text x="534.3" y="766.3" font-size="3.4" text-anchor="end" fill="#666">10<tspan font-size="70%" dy="-1.2">5</tspan></text>
<text x="536.3" y="837.9" font-size="3.4" text-anchor="middle" fill="#666">10<tspan font-size="70%" dy="-1.2">0</tspan></text>
<text x="550" y="837.9" font-size="3.4" text-anchor="middle" fill="#666">10<tspan font-size="70%" dy="-1.2">1</tspan></text>
<text x="563.7" y="837.9" font-size="3.4" text-anchor="middle" fill="#666">10<tspan font-size="70%" dy="-1.2">2</tspan></text>
<text x="577.4" y="837.9" font-size="3.4" text-anchor="middle" fill="#666">10<tspan font-size="70%" dy="-1.2">3</tspan></text>
<text x="591.1" y="837.9" font-size="3.4" text-anchor="middle" fill="#666">10<tspan font-size="70%" dy="-1.2">4</tspan></text>
<text x="604.8" y="837.9" font-size="3.4" text-anchor="middle" fill="#666">10<tspan font-size="70%" dy="-1.2">5</tspan></text>
<path d="M536.3 764.3V833.3H605.8M536.3 833.3h1.6M536.3 830.6h.8M536.3 827.9h.8M536.3 825.1h.8M536.3 822.4h.8M536.3 819.7h1.6M536.3 817h.8M536.3 814.3h.8M536.3 811.5h.8M536.3 808.8h.8M536.3 806.1h1.6M536.3 803.4h.8M536.3 800.7h.8M536.3 797.9h.8M536.3 795.2h.8M536.3 792.5h1.6M536.3 789.8h.8M536.3 787.1h.8M536.3 784.3h.8M536.3 781.6h.8M536.3 778.9h1.6M536.3 776.2h.8M536.3 773.5h.8M536.3 770.7h.8M536.3 768h.8M536.3 765.3h1.6M536.3 833.3v-1.6M539 833.3v-.8M541.8 833.3v-.8M544.5 833.3v-.8M547.3 833.3v-.8M550 833.3v-1.6M552.7 833.3v-.8M555.5 833.3v-.8M558.2 833.3v-.8M561 833.3v-.8M563.7 833.3v-1.6M566.4 833.3v-.8M569.2 833.3v-.8M571.9 833.3v-.8M574.7 833.3v-.8M577.4 833.3v-1.6M580.1 833.3v-.8M582.9 833.3v-.8M585.6 833.3v-.8M588.4 833.3v-.8M591.1 833.3v-1.6M593.8 833.3v-.8M596.6 833.3v-.8M599.3 833.3v-.8M602.1 833.3v-.8M604.8 833.3v-1.6" stroke="#707070" stroke-width=".5" fill="none"/>
<path transform="scale(.5)" d="M1123 1561h0m55 3h0m14 1h0m-34 10h0m-15-2h0m-4 3h0m-9 5h0m-23-8h0m-8 3h0m-5 12h0m7 2h0m3-6h0m19 3h0m14 7h0m0-1h0m34-2h0m1 15h0m0 0h0m-12 0h0m-1-2h0m-5 0h0m-27-4h0m-33 2h0m41 17h0m6 0h0m0-7h0m4 6h0m6-4h0m1 0h0m1 4h0m2 0h0m2-5h0m0-3h0m3 1h0m0-1h0m1 4h0m3-6h0m4 3h0m1 8h0m5-6h0m2 1h0m5 5h0m4 7h0m-17-6h0m-6 1h0m-5 1h0m-2-1h0m-2 5h0m-3-2h0m-1 3h0m-1-6h0m-1 3h0m0 6h0m-5 0h0m-2-8h0m-2 6h0m-5-8h0m-37 6h0m-5 4h0m-1 12h0m1-7h0m3 8h0m3 0h0m23-1h0m4 1h0m0-2h0m2 2h0m25-9h0m4 0h0m6 0h0m22 3h0m-15 9h0m-6 9h0m-43-6h0m-8-4h0m-11 0h0m32 12h0" stroke="#787dfc" stroke-width="1.5" stroke-linecap="square"/>
<path transform="scale(.5)" d="M1163 1579h0m-1 2h0m-1-3h0m-16 17h0m1 0h0m17-4h0m3-6h0m-7 11h0m-7 11h0m-1-1h0m-2 1h0m-1 0h0m-3-11h0m-3 1h0m0 8h0m-1 2h0m0 0h0m-1-2h0m-1 0h0m0-1h0m0 3h0m0 0h0m0-5h0m-1 5h0m0-2h0m0 2h0m-1-3h0m-6 2h0m-3 1h0m0 0h0m-1-1h0m-1 1h0m-3 0h0m-20 11h0m1 0h0m2-3h0m0 0h0m1 3h0m3-3h0m0-2h0m7-3h0m0-2h0m1 0h0m1 3h0m1-3h0m0 3h0m1-2h0m0 2h0m0 0h0m1-1h0m0-2h0m1 3h0m4 0h0m1-1h0m1 1h0m1 3h0m0-3h0m1 1h0m1 3h0m1-1h0m1 0h0m1 2h0m0-7h0m0 1h0m0 8h0m0-8h0m1 5h0m3-1h0m2-6h0m2 2h0m1 3h0m1-3h0m0 6h0m0-1h0m2 3h0m1 1h0m0-1h0m1-6h0m2 7h0m0 1h0m-18 0h0m-4 11h0m-1 0h0m0-5h0m-1 0h0m-26 5h0m-1-6h0m0 0h0m0 0h0m-1-1h0m0 10h0m1 1h0m0 0h0m0 3h0m1 1h0m0-4h0m0 3h0m0-5h0m2 5h0m1 0h0m1 5h0m4-2h0m0 0h0m1 0h0m4 0h0m1-2h0m3 1h0m3-5h0m0 2h0m1-1h0m0 0h0m0 1h0m3-3h0" stroke="#4f60f9" stroke-width="1.5" stroke-linecap="square"/>
<path transform="scale(.5)" d="M1163 1583h0m0 0h0m-1-3h0m0 1h0m-1 0h0m0 2h0m0-3h0m-2 1h0m0 2h0m-3-1h0m-8 13h0m0 0h0m0-1h0m2-5h0m1 0h0m1 0h0m0-1h0m1 5h0m0 2h0m0-1h0m1-9h0m0 9h0m0-9h0m1 1h0m0 7h0m2 1h0m5-9h0m1 4h0m0-2h0m1-3h0m-12 13h0m0 3h0m0-3h0m-1-1h0m0 3h0m0 0h0m0-2h0m0 3h0m-1 0h0m0 0h0m0-2h0m0 2h0m-1-1h0m0-1h0m0 4h0m0-4h0m0-2h0m0 5h0m-1-3h0m0-1h0m0-1h0m-1 0h0m0 5h0m0-4h0m0 4h0m0-2h0m0 0h0m0 4h0m0-5h0m0 0h0m0-2h0m-1 6h0m0-3h0m0 1h0m0 0h0m0 1h0m0-3h0m0-1h0m-1 2h0m0 1h0m0 1h0m0-1h0m0-3h0m0 4h0m-1 4h0m0-5h0m0 4h0m0-2h0m0-5h0m0 6h0m0 2h0m0-4h0m0 0h0m0 0h0m-1-1h0m0 4h0m0 0h0m0 0h0m-1-3h0m0 4h0m0-1h0m-1-2h0m0 1h0m0 1h0m0-3h0m-1 3h0m0-2h0m-33 17h0m1-3h0m0 1h0m0 0h0m1 1h0m1 0h0m0-1h0m3-3h0m0-1h0m2 2h0m2-3h0m7 2h0m0-1h0m0 0h0m2 0h0m0 0h0m0 0h0m0-1h0m1 2h0m1 2h0m0-2h0m0 2h0m1 0h0m0 3h0m0-3h0m0-2h0m1 2h0m0-1h0m0 7h0m-1 1h0m-1-2h0m0 0h0m0 0h0m0 2h0m-1-2h0m0 7h0m-1 2h0m0-1h0m-2 1h0m-17-10h0m-2 5h0m0-5h0m0 5h0m-1 2h0m0 0h0m0-6h0m0 5h0m0 5h0m-1-8h0m0 1h0m-1 2h0m0 1h0m0 7h0m1-2h0m0 1h0m0 4h0m1-3h0m0-2h0m1 0h0m0 8h0m2-2h0m1-1h0m0 1h0m0 0h0m1 0h0m0 0h0m0 2h0m0 0h0m3-2h0m1 1h0m0 0h0m0 0h0m1-1h0m4-2h0m0 0h0m0-2h0" stroke="#3256f8" stroke-width="1.5" stroke-linecap="square"/>
<path transform="scale(.5)" d="M1161 1583h0m0 0h0m-2 0h0m-9 11h0m0-3h0m0 3h0m0-3h0m0 3h0m0-3h0m0 2h0m1 2h0m0-2h0m0-1h0m0 0h0m0 0h0m0-1h0m0 2h0m0 1h0m0 1h0m1-2h0m0 0h0m0-1h0m0-1h0m0 3h0m1-2h0m0 0h0m1-3h0m0 0h0m0 1h0m0 3h0m0-7h0m0 3h0m0 0h0m0 0h0m0 1h0m0 0h0m0-4h0m0 5h0m0-2h0m0 3h0m0-1h0m0 2h0m0-2h0m0-5h0m1 1h0m0 1h0m0 1h0m0 3h0m0 0h0m0 0h0m1-5h0m0 1h0m0 4h0m0-5h0m0 3h0m1 1h0m0-1h0m0 1h0m0-1h0m0-5h0m1-1h0m0 5h0m0-3h0m0 5h0m0-5h0m1 3h0m0-1h0m0-4h0m1 1h0m0 0h0m0-1h0m0 2h0m0-1h0m0 1h0m0 1h0m0 0h0m0 1h0m1-4h0m0 0h0m0 1h0m0 2h0m0 1h0m0-3h0m0 0h0m0-1h0m0 4h0m0-4h0m0 3h0m1-1h0m0-1h0m0 1h0m0-2h0m-51 32h0m1 0h0m0 1h0m1 1h0m0-2h0m0 2h0m0-2h0m0 0h0m1 2h0m4-3h0m1-3h0m1 2h0m1 0h0m0-2h0m1 1h0m0 1h0m1-2h0m1 4h0m0-3h0m1 2h0m1 2h0m0 1h0m1-1h0m-1 11h0m-1-2h0m0 1h0m0-2h0m-1 0h0m0 0h0m-1 6h0m-3 0h0m-1 0h0m-15-2h0m0 1h0m0 1h0m-1-3h0m0 2h0m-1-2h0m0 1h0m3 7h0m1-2h0m1 1h0m0 0h0m0 0h0m4 1h0m0-1h0m0-1h0m1 2h0m0 1h0m0-2h0m1 0h0m0 0h0m0-1h0m0 0h0m1 3h0m0-1h0m0 1h0m2-1h0m0 0h0m1-2h0m1 0h0m1-1h0m0 0h0m1 0h0m1 0h0m0-1h0m0 1h0m0-1h0m1 0h0m0 0h0m0 0h0m0 1h0" stroke="#2567f9" stroke-width="1.5" stroke-linecap="square"/>
<path transform="scale(.5)" d="M1156 1589h0m0-1h0m0-2h0m0 1h0m0 0h0m1 2h0m0-1h0m0-1h0m1 0h0m0-1h0m0 2h0m0-2h0m0 1h0m0 0h0m0 2h0m0 0h0m0-3h0m0 2h0m1-1h0m0 0h0m0 0h0m0 2h0m0-2h0m-51 32h0m0 0h0m2-1h0m1 1h0m4-1h0m0-2h0m0-1h0m0 1h0m0 0h0m0 1h0m1 0h0m0 1h0m1 0h0m0-1h0m0-2h0m0 2h0m0-2h0m0 0h0m4 2h0m0 0h0m0-1h0m0-1h0m1 3h0m0-2h0m0 1h0m0-1h0m0 2h0m0-1h0m1 0h0m0 1h0m2 1h0m0 0h0m2 4h0m0-1h0m0 2h0m-1-4h0m0 0h0m0 1h0m0-1h0m0 3h0m-1-2h0m0 0h0m0 2h0m0-1h0m-1 2h0m0-2h0m0-2h0m0 3h0m0-2h0m0 0h0m-1 9h0m0-2h0m-1 0h0m0 3h0m0-1h0m-1-1h0m0 1h0m0 0h0m0 0h0m-5 1h0m-5-10h0m-1-1h0m0 1h0m0-1h0m-1 1h0m0 0h0m0 0h0m-1 3h0m0-2h0m0 9h0m0-10h0m0 0h0m-1 6h0m0-4h0m0 2h0m0 5h0m0-1h0m0-6h0m0 7h0m0-5h0m0-1h0m0 0h0m0 3h0m0 2h0m0-2h0m-1-3h0m0 2h0m0 0h0m0-3h0m0 5h0m0-1h0m0-4h0m0 4h0m0-4h0m0 6h0m0-4h0m0 6h0m0-2h0m-1-1h0m0-5h0m0 8h0m0 0h0m0-8h0m0 5h0m0 1h0m0 1h0m0-4h0m0-1h0m0 9h0m0-1h0m0-1h0m1 0h0m0 0h0m1 0h0m0 0h0m0 0h0m1 0h0m0 3h0m0 0h0m0-2h0m1 1h0m0 1h0m0 0h0m0 0h0m0 2h0m0-1h0m0-1h0m1 0h0m0 1h0m1-1h0m0 0h0m4-2h0m1-1h0m1 0h0m0 2h0" stroke="#1978fa" stroke-width="1.5" stroke-linecap="square"/>
<path transform="scale(.5)" d="M1117 1616h0m1-1h0m0 2h0m0 0h0m0-2h0m1 2h0m0 0h0m0-1h0m0 0h0m0 0h0m1 1h0m0 1h0m0-1h0m1 1h0m0 0h0m0 1h0m0 0h0m0 0h0m2 0h0m0-1h0m0 1h0m1 0h0m0 7h0m0 0h0m-1-5h0m0 0h0m0 4h0m0-5h0m-1 0h0m0 7h0m0 0h0m0-7h0m0 1h0m0 6h0m0-7h0m0 0h0m-1 6h0m0 1h0m0 0h0m0 0h0m0 0h0m0 0h0m0 0h0m0-6h0m0 0h0m0 4h0m0-4h0m-1 8h0m0 1h0m0-1h0m0 1h0m0-1h0m0 1h0m0-2h0m0 2h0m0 0h0m-1-2h0m0 2h0m0 1h0m0-1h0m0-1h0m0 2h0m-1-1h0m0-1h0m0 2h0m0-1h0m0-2h0m0 2h0m-5 1h0m-2 0h0m0-9h0m0 1h0m0 0h0m0 1h0m-1 7h0m0-7h0m0 0h0m0-1h0m0 8h0m0-9h0m-1 1h0m0 0h0m0 0h0m0-1h0m0 2h0m0-1h0m-1 1h0m0 7h0m0 0h0m0 0h0m0 2h0m0 0h0m0 0h0m0-1h0m1 0h0m0 2h0m0 0h0m0-1h0m0 0h0m0 0h0m0-1h0m0 0h0m1 2h0m0-2h0m0 2h0m1-1h0m0 1h0m0-2h0m0 0h0m2 0h0m0 0h0m0 1h0m0 0h0m1-1h0m0 0h0m0 1h0m0 0h0m0 1h0" stroke="#159aed" stroke-width="1.5" stroke-linecap="square"/>
<path transform="scale(.5)" d="M1111 1619h0m0 0h0m2 0h0m0 0h0m1 0h0m0 0h0m0-1h0m10 4h0m0 0h0m-1 2h0m0-2h0m0 1h0m-1-1h0m0 2h0m0-1h0m0-1h0m-1 2h0m0 0h0m0-1h0m0-1h0m0 0h0m0 1h0m0-1h0m-4 8h0m0-1h0m0 0h0m0-1h0m0 1h0m-1 0h0m0 0h0m0 0h0m0 0h0m0 1h0m0-1h0m-1 0h0m0 1h0m0-1h0m0 1h0m0-1h0m0 2h0m0-1h0m0 0h0m0 1h0m0-3h0m-1-8h0m0 9h0m0 0h0m0-9h0m0 1h0m-1-1h0m-1 0h0m-1 6h0m0 3h0m0-2h0m0-1h0m0-5h0m0 6h0m0-2h0m0 3h0m0 0h0m0 0h0m0-2h0m-1 4h0m0-2h0m0-1h0m0 4h0m0-5h0m0 3h0m0-4h0m0 3h0m0 2h0m-1-5h0m0 0h0m0 5h0m0-3h0m-1 2h0m0-3h0m0 3h0m0-4h0m0 1h0m0 1h0m0-2h0" stroke="#17bace" stroke-width="1.5" stroke-linecap="square"/>
<path transform="scale(.5)" d="M1115 1619h0m0-1h0m1 1h0m0 0h0m0 0h0m1-1h0m0 1h0m0 0h0m0-1h0m1 0h0m0 1h0m0 0h0m1 0h0m1 0h0m0 0h0m0 0h0m0-1h0m1 6h0m0 2h0m0-3h0m-1-3h0m0 3h0m0-1h0m0-2h0m0 1h0m0-1h0m0 5h0m0-3h0m0 2h0m0 3h0m0-3h0m0 3h0m0-4h0m0 2h0m0-2h0m0 4h0m0 1h0m-1-8h0m0 6h0m0-1h0m0-3h0m0-2h0m0 1h0m0 4h0m0-2h0m0-1h0m0 4h0m0-3h0m0-3h0m0 1h0m0 2h0m0-3h0m0 3h0m0 0h0m0 3h0m0 1h0m0-4h0m0 1h0m0-4h0m0 6h0m0-2h0m-1-1h0m0-2h0m0 2h0m0 1h0m0 4h0m0-1h0m0-4h0m0 2h0m0 3h0m0-8h0m0 7h0m0-7h0m0 0h0m0 7h0m0-3h0m0 1h0m0-3h0m0 2h0m0-3h0m0 1h0m0-1h0m0 2h0m-1-1h0m0-2h0m0 1h0m0 1h0m0-2h0m-1 0h0m0 1h0m0-1h0m-1 0h0m0 0h0m0 0h0m0 1h0m0 0h0m-1 3h0m0-2h0m0 0h0m0 8h0m0-1h0m0-5h0m0 4h0m0-7h0m0 9h0m0-6h0m0 0h0m0-1h0m0 7h0m0-7h0m0 0h0m0 0h0m0 7h0m-1-6h0m0-1h0m0 6h0m0-5h0m0 7h0m0-1h0m0-6h0m0 0h0m0 5h0m0-7h0m0 7h0m0 2h0m0 0h0m0-8h0m-1 0h0m0 0h0m0 7h0m0 0h0m0 0h0m0-6h0m0-1h0m0-1h0m0 6h0m0 0h0m0-4h0m-1 6h0m0-2h0m0-4h0m0 5h0m0-7h0m0 8h0m0 0h0m0 0h0m0-7h0m0 6h0m0 0h0" stroke="#2bd591" stroke-width="1.5" stroke-linecap="square"/>
<path transform="scale(.5)" d="M1117 1625h0m0 1h0m0 1h0m0 0h0m0-5h0m0 5h0m0-3h0m0-1h0m0 0h0m0 2h0m0-3h0m0 4h0m0-3h0m0 4h0m0-3h0m0 3h0m0-4h0m0 5h0m0-6h0m-1 2h0m0 4h0m0-6h0m0 0h0m0 1h0m0-1h0m0 3h0m0-2h0m0 1h0m0 2h0m0-1h0m0 2h0m-1-1h0m0 1h0m0-5h0m0 1h0m0-1h0m0 3h0m0-1h0m0 0h0m0 0h0m0-1h0m0 4h0m0-4h0m0 0h0m0 4h0m0-5h0m0 5h0m0-2h0m0 2h0m0-3h0m0-2h0m0 5h0m-1-1h0m0 0h0m0 1h0m0-2h0m0 0h0m0 1h0m0 1h0m0-1h0m0 0h0m0 0h0m0 0h0m0-4h0m0 3h0m-1 0h0m0 0h0m0 1h0m0 0h0m0 0h0m0 1h0m0-2h0m0 2h0m0-1h0m0 1h0m0-2h0m0 2h0m-1 0h0m0 0h0m0 1h0m0-2h0m0 1h0m-1-1h0m0 0h0m0 0h0m0 2h0" stroke="#6ee646" stroke-width="1.5" stroke-linecap="square"/>
<path d="M571.6 764.3V833.3M536.3 801.9H605.8" stroke="#6e6e6e" stroke-width=".5"/>
<text x="538.3" y="768.5" font-size="3.1" fill="#555">Q1-UL(2.45%)</text>
<text x="604.3" y="768.5" font-size="3.1" text-anchor="end" fill="#555">Q1-UR(11.52%)</text>
<text x="538.3" y="831.1" font-size="3.1" fill="#555">Q1-LL(84.24%)</text>
<text x="604.3" y="831.1" font-size="3.1" text-anchor="end" fill="#555">Q1-LR(1.78%)</text>
<text x="570.5" y="758.2" font-size="11.5" text-anchor="middle" stroke="#1a1a1a" stroke-width="0.3">5 μg/mL</text>
<rect x="624.3" y="764.3" width="69.5" height="69" fill="none" stroke="#b4b4b4" stroke-width="0.8"/>
<text x="622.3" y="834.3" font-size="3.4" text-anchor="end" fill="#666">10<tspan font-size="70%" dy="-1.2">0</tspan></text>
<text x="622.3" y="820.7" font-size="3.4" text-anchor="end" fill="#666">10<tspan font-size="70%" dy="-1.2">1</tspan></text>
<text x="622.3" y="807.1" font-size="3.4" text-anchor="end" fill="#666">10<tspan font-size="70%" dy="-1.2">2</tspan></text>
<text x="622.3" y="793.5" font-size="3.4" text-anchor="end" fill="#666">10<tspan font-size="70%" dy="-1.2">3</tspan></text>
<text x="622.3" y="779.9" font-size="3.4" text-anchor="end" fill="#666">10<tspan font-size="70%" dy="-1.2">4</tspan></text>
<text x="622.3" y="766.3" font-size="3.4" text-anchor="end" fill="#666">10<tspan font-size="70%" dy="-1.2">5</tspan></text>
<text x="624.3" y="837.9" font-size="3.4" text-anchor="middle" fill="#666">10<tspan font-size="70%" dy="-1.2">0</tspan></text>
<text x="638" y="837.9" font-size="3.4" text-anchor="middle" fill="#666">10<tspan font-size="70%" dy="-1.2">1</tspan></text>
<text x="651.7" y="837.9" font-size="3.4" text-anchor="middle" fill="#666">10<tspan font-size="70%" dy="-1.2">2</tspan></text>
<text x="665.4" y="837.9" font-size="3.4" text-anchor="middle" fill="#666">10<tspan font-size="70%" dy="-1.2">3</tspan></text>
<text x="679.1" y="837.9" font-size="3.4" text-anchor="middle" fill="#666">10<tspan font-size="70%" dy="-1.2">4</tspan></text>
<text x="692.8" y="837.9" font-size="3.4" text-anchor="middle" fill="#666">10<tspan font-size="70%" dy="-1.2">5</tspan></text>
<path d="M624.3 764.3V833.3H693.8M624.3 833.3h1.6M624.3 830.6h.8M624.3 827.9h.8M624.3 825.1h.8M624.3 822.4h.8M624.3 819.7h1.6M624.3 817h.8M624.3 814.3h.8M624.3 811.5h.8M624.3 808.8h.8M624.3 806.1h1.6M624.3 803.4h.8M624.3 800.7h.8M624.3 797.9h.8M624.3 795.2h.8M624.3 792.5h1.6M624.3 789.8h.8M624.3 787.1h.8M624.3 784.3h.8M624.3 781.6h.8M624.3 778.9h1.6M624.3 776.2h.8M624.3 773.5h.8M624.3 770.7h.8M624.3 768h.8M624.3 765.3h1.6M624.3 833.3v-1.6M627 833.3v-.8M629.8 833.3v-.8M632.5 833.3v-.8M635.3 833.3v-.8M638 833.3v-1.6M640.7 833.3v-.8M643.5 833.3v-.8M646.2 833.3v-.8M649 833.3v-.8M651.7 833.3v-1.6M654.4 833.3v-.8M657.2 833.3v-.8M659.9 833.3v-.8M662.7 833.3v-.8M665.4 833.3v-1.6M668.1 833.3v-.8M670.9 833.3v-.8M673.6 833.3v-.8M676.4 833.3v-.8M679.1 833.3v-1.6M681.8 833.3v-.8M684.6 833.3v-.8M687.3 833.3v-.8M690.1 833.3v-.8M692.8 833.3v-1.6" stroke="#707070" stroke-width=".5" fill="none"/>
<path transform="scale(.5)" d="M1350 1567h0m16-7h0m-14 23h0m-4-4h0m-19-3h0m-45 17h0m7 0h0m60-5h0m3-2h0m3 6h0m2-5h0m9 17h0m-19-3h0m0 4h0m-2 2h0m-2-9h0m0-1h0m-40 4h0m0-3h0m-22 4h0m43 13h0m26-1h0m8 8h0m-4-2h0m-8 5h0m-4 2h0m-2-7h0m-5 3h0m-7 0h0m-3-2h0m-62 3h0m14 13h0m1-5h0m5 6h0m10 1h0m54 4h0m1-8h0m8 11h0m-37 1h0m-52 10h0" stroke="#787dfc" stroke-width="1.5" stroke-linecap="square"/>
<path transform="scale(.5)" d="M1347 1580h0m-1-5h0m0 6h0m0 0h0m-1-2h0m0-1h0m0-1h0m-1 2h0m-1-3h0m0 1h0m-1 2h0m-2-5h0m-5 2h0m-4 6h0m0-3h0m-1 1h0m0 2h0m-12 13h0m1-4h0m0-4h0m1 5h0m1-3h0m1 3h0m2-3h0m0-1h0m1-1h0m1-2h0m16 4h0m4 12h0m-1 1h0m-1 0h0m0 2h0m-1-2h0m-1 0h0m-1 0h0m0-5h0m-1 5h0m0-3h0m-1 1h0m0 5h0m0-4h0m0 0h0m-1 3h0m-2 2h0m0-2h0m-1 0h0m-1-1h0m-1-6h0m0 9h0m0 1h0m-1-8h0m0 7h0m-1-5h0m-1 3h0m0-2h0m0-2h0m0 3h0m-1-1h0m-1 5h0m-1-3h0m-3 2h0m-4 0h0m0 1h0m-2-11h0m-3 3h0m0-2h0m-3 2h0m-3 3h0m-2 1h0m-2 2h0m-13 7h0m1 0h0m20 0h0m4-3h0m0 0h0m2 4h0m2-2h0m0-3h0m1 0h0m1 1h0m0 1h0m1-1h0m0 5h0m1 0h0m0-2h0m0-2h0m1 1h0m0-2h0m3 6h0m2-3h0m1 4h0m0-6h0m1 8h0m0-1h0m1-5h0m1 1h0m0 2h0m1 2h0m0-3h0m0 4h0m1-7h0m0 0h0m0 1h0m1 5h0m0-2h0m1-5h0m0 4h0m1-3h0m0 4h0m1 2h0m1-8h0m1 4h0m1-2h0m0 3h0m-8 7h0m-3 0h0m-21 6h0m-26 4h0m-1 0h0m-1 0h0m0 0h0m0 0h0m-1-3h0m-1-6h0m0 3h0m-1 5h0m3 4h0m1 0h0m0-2h0m1 1h0m5 4h0m1-2h0m0 1h0m2 1h0m1-3h0m0 1h0m5-1h0" stroke="#4f60f9" stroke-width="1.5" stroke-linecap="square"/>
<path transform="scale(.5)" d="M1344 1582h0m0 1h0m-1-2h0m0-1h0m-1 3h0m0-3h0m0 1h0m0 1h0m-1-4h0m-3 0h0m0 2h0m0-1h0m-1-1h0m0-1h0m-2 3h0m-1 2h0m0 0h0m0 1h0m-1-3h0m0 3h0m-1-1h0m0 0h0m-13 12h0m1 1h0m3-4h0m1 0h0m1 0h0m1-2h0m2 0h0m1-3h0m0-2h0m1 2h0m1-2h0m1 10h0m4-4h0m1 0h0m2-3h0m0 0h0m1 2h0m0 0h0m1-1h0m2-3h0m0-1h0m0 0h0m0 0h0m-12 14h0m-1-1h0m-2 0h0m0 2h0m-1-2h0m0 4h0m-1 0h0m0-4h0m0 1h0m-1 1h0m-1 1h0m0-1h0m0 2h0m0 1h0m-1-3h0m-2 5h0m0 1h0m0-2h0m0 1h0m-2 0h0m0-1h0m0-7h0m-1 7h0m0-4h0m0 4h0m0-4h0m0 8h0m0-3h0m0-7h0m0 1h0m0 2h0m-1 1h0m0 2h0m0-3h0m0 1h0m0-3h0m0 6h0m-1 2h0m0 0h0m0 1h0m0-7h0m0 3h0m-1 4h0m0-6h0m0 4h0m0 1h0m0-5h0m-1 2h0m0 1h0m0-3h0m0 3h0m0-2h0m-1 5h0m0-5h0m0 3h0m-1-2h0m0 1h0m-1 2h0m0 1h0m-1-4h0m0 3h0m-1 0h0m-1 1h0m0 0h0m-2-1h0m-19 12h0m1-2h0m0 0h0m0 2h0m1 0h0m0 0h0m1-1h0m0-3h0m2 1h0m6-3h0m1 0h0m6-3h0m2-1h0m2 0h0m0 1h0m1 9h0m0-3h0m0-4h0m0 2h0m0 2h0m0 4h0m0-4h0m0 4h0m0-7h0m0-3h0m0 2h0m1 5h0m0 1h0m0-9h0m0 1h0m1 7h0m0-5h0m0 1h0m1-3h0m0 2h0m0-3h0m0 0h0m1 1h0m0 1h0m0-2h0m0 0h0m0 0h0m-4 12h0m-1 5h0m-2 0h0m-3 5h0m0 1h0m-1-3h0m-14 3h0m-3-7h0m0 2h0m0 4h0m-1-4h0m0 3h0m0-7h0m0-1h0m-1 4h0m0-4h0m0 1h0m0 4h0m0-3h0m5 10h0m0-1h0m9 0h0m0 0h0m0 0h0m1 1h0" stroke="#3256f8" stroke-width="1.5" stroke-linecap="square"/>
<path transform="scale(.5)" d="M1341 1582h0m0 1h0m-1-3h0m-1 2h0m0-1h0m0 1h0m0 1h0m0-1h0m-1-1h0m0 1h0m-1 0h0m0 0h0m-1 0h0m0-1h0m0 0h0m-1 0h0m0 0h0m0 2h0m-13 12h0m1-2h0m1 0h0m0 1h0m0-1h0m1-2h0m0 3h0m0-1h0m0 2h0m1-1h0m0-3h0m0 0h0m0 1h0m0 1h0m0 2h0m0-5h0m0 5h0m0 0h0m0-1h0m1-1h0m0-2h0m0 1h0m0 3h0m0-2h0m0 0h0m1-2h0m0 1h0m1 0h0m0 0h0m0-1h0m0 1h0m0 1h0m0-3h0m1-3h0m0 8h0m0-1h0m0 1h0m0 0h0m0-7h0m0 4h0m0-1h0m0 1h0m0 0h0m1 2h0m0-8h0m0 6h0m0-2h0m0-2h0m0 3h0m0-3h0m0 3h0m0 0h0m0 3h0m1-3h0m0-3h0m0-1h0m0 0h0m0 0h0m0-3h0m0 2h0m0 3h0m0-1h0m0-1h0m1 5h0m0-5h0m0 0h0m0 1h0m0 3h0m0 0h0m0-4h0m0 3h0m0 2h0m1-4h0m0 0h0m0-2h0m0 2h0m0 2h0m0-6h0m0 1h0m0-1h0m0 4h0m0 2h0m0-6h0m1 3h0m0 1h0m0-1h0m0 4h0m0 1h0m1-4h0m0 0h0m0 1h0m1 0h0m0-2h0m0-1h0m1 3h0m0-3h0m0 2h0m1-4h0m0 0h0m0 2h0m1-1h0m0 1h0m0-2h0m1 0h0m0 1h0m-14 11h0m-2 0h0m0 3h0m0-2h0m-1-1h0m0 1h0m0-1h0m0 0h0m0 0h0m0 1h0m-1 1h0m0 1h0m-1-3h0m0 5h0m0-4h0m0 1h0m0-2h0m-1 5h0m0-2h0m0 1h0m0 2h0m-1-2h0m0 2h0m0-2h0m0 2h0m0-3h0m0 0h0m0 0h0m0-1h0m0 1h0m0-2h0m0 1h0m-1 3h0m0 1h0m0-1h0m-19 10h0m0-1h0m1 1h0m0 0h0m1 0h0m0 0h0m0-2h0m2 2h0m0-1h0m0 2h0m1-1h0m1 1h0m0-1h0m0-1h0m1-1h0m0 1h0m0-1h0m0 2h0m0-2h0m0 1h0m0 1h0m1-1h0m0 1h0m0-2h0m0 1h0m0 1h0m0 0h0m1-1h0m0 12h0m0 2h0m0 0h0m-1 0h0m0-1h0m-1 1h0m0-1h0m-1-2h0m0 6h0m-1-2h0m0 0h0m0 1h0m-1 0h0m0 0h0m0-1h0m-1 0h0m0 4h0m-1 2h0m-1-2h0m-1 1h0m-8 1h0m-2-10h0m0 0h0m0 8h0m0 1h0m0 0h0m0 0h0m-1 1h0m0-3h0m0 1h0m0 0h0m-1 0h0m0-1h0m0 1h0m0-9h0m0 8h0m-1 0h0m0 2h0m4 2h0m0 1h0m0-1h0m0 0h0m0 2h0m1-2h0m0 1h0m2 0h0m0 0h0m1-1h0m1 1h0m0-1h0m0 0h0m1 0h0" stroke="#2567f9" stroke-width="1.5" stroke-linecap="square"/>
<path transform="scale(.5)" d="M1337 1583h0m0 0h0m-1 0h0m-1 0h0m0 3h0m0-1h0m1 1h0m0 0h0m0-1h0m0 0h0m0-1h0m1 1h0m0 0h0m0 1h0m0 0h0m1 0h0m0 0h0m-48 31h0m1 1h0m0-1h0m1 0h0m0-1h0m0 0h0m1-3h0m1-1h0m0 2h0m1 0h0m0-1h0m1 1h0m0 0h0m10 0h0m0 5h0m0 0h0m1-2h0m0 1h0m0-4h0m0 4h0m0-3h0m0 3h0m0 0h0m0-5h0m0 1h0m0 5h0m1-7h0m0 4h0m0 3h0m0-2h0m0 0h0m1-1h0m0 3h0m0-5h0m0 4h0m0-3h0m0 1h0m0-4h0m0 6h0m0 2h0m0 0h0m0 1h0m-1-1h0m-1 0h0m0 0h0m-1 1h0m-6 7h0m0 0h0m-1 0h0m0 2h0m0-1h0m-1 0h0m0 0h0m0 0h0m0 1h0m0-2h0m0 0h0m0 1h0m-1 0h0m0 1h0m0-1h0m-7-3h0m0-4h0m0 5h0m0-4h0m0 1h0m0 1h0m0 2h0m0-5h0m-1 0h0m0 1h0m0-1h0m0 4h0m0 1h0m0-3h0m0 2h0m-1-1h0m0-2h0m0 1h0m0 1h0m-1 3h0m0-5h0m0 1h0m0 1h0" stroke="#1978fa" stroke-width="1.5" stroke-linecap="square"/>
<path transform="scale(.5)" d="M1297 1614h0m0 1h0m0 0h0m0-2h0m1-1h0m0 2h0m0 1h0m1-1h0m0 0h0m0-1h0m0 1h0m0 1h0m0 0h0m0-2h0m0 0h0m1 0h0m0 2h0m0-3h0m0 2h0m0 0h0m1-2h0m0 1h0m0 2h0m0-2h0m0 1h0m0-2h0m0 3h0m1-1h0m1 1h0m0-2h0m0 0h0m0 2h0m0-1h0m0-1h0m1 2h0m0-3h0m0 1h0m0 0h0m0 2h0m1-2h0m0 2h0m1-1h0m0 0h0m0 0h0m0-2h0m0 12h0m-1-2h0m0 1h0m0-1h0m0 0h0m0-1h0m-1 0h0m0 1h0m-1 0h0m0 5h0m0-5h0m0 1h0m0-1h0m0 0h0m0 2h0m-1 4h0m0-1h0m0-2h0m0 2h0m0-2h0m0 1h0m-1 1h0m0-1h0m0 1h0m0-1h0m-4 3h0m-1 0h0m0-1h0m0 0h0m0 2h0m-1-2h0m0 1h0m0-1h0m0 1h0m0 0h0m0 1h0m0-2h0m-1 1h0m0 2h0m0-3h0m-1 0h0m0 1h0m-1 0h0m0 1h0m-1 0h0m0 1h0m0-2h0m0 2h0m0-2h0" stroke="#159aed" stroke-width="1.5" stroke-linecap="square"/>
<path transform="scale(.5)" d="M1290 1619h0m1 0h0m0 0h0m1 0h0m0 0h0m1 0h0m1-3h0m0 1h0m0 0h0m0-2h0m1 2h0m0 1h0m0-2h0m0 2h0m0 0h0m0-1h0m0 1h0m1-1h0m0-1h0m0 2h0m0-2h0m1 0h0m6 2h0m0 1h0m0 0h0m0-1h0m1 0h0m0 0h0m0 0h0m0-1h0m0-1h0m0 3h0m0-1h0m0 1h0m0 0h0m0-1h0m0 0h0m0-2h0m0 1h0m1-1h0m0 1h0m0 2h0m0 0h0m0-3h0m0 1h0m0-1h0m0 3h0m0-2h0m0-1h0m0 2h0m0 0h0m0 0h0m1 1h0m0-1h0m0 0h0m0 1h0m0-4h0m0 6h0m0-1h0m0 1h0m-1-1h0m0 0h0m0 0h0m0 1h0m0-1h0m-1 0h0m0 1h0m0-1h0m0 0h0m-1 0h0m0 1h0m-3 6h0m-1 0h0m0-2h0m0 2h0m-1-2h0m0 1h0m0-1h0m0 0h0m0 0h0m0 0h0m0 2h0m0-1h0m-1 0h0m0-1h0m0 0h0m0 0h0m0 0h0m0 1h0m0 2h0m-4-6h0m0 0h0m0-1h0m0 5h0m0-2h0m0 0h0m0-4h0m0 2h0m0 4h0m0-1h0m0-4h0m0 3h0m0-1h0m0-3h0m0 5h0m0 1h0m0-4h0m0-1h0m-1 0h0m0 0h0m0 2h0m0 3h0m0-4h0m0-2h0m0 1h0m0 5h0m0-6h0m0 3h0m0-1h0m-1-2h0m0 2h0m0 0h0m0 4h0m0 1h0m0-1h0m0-6h0m0 3h0m0 0h0m0 4h0m0-6h0m0 6h0m0-4h0m0 4h0m0-3h0m0 1h0m0-4h0m0 6h0m0-7h0m0 1h0m-1 5h0" stroke="#17bace" stroke-width="1.5" stroke-linecap="square"/>
<path transform="scale(.5)" d="M1294 1619h0m0 0h0m0 0h0m0 0h0m0 0h0m0-1h0m0 1h0m1 0h0m0 0h0m0 0h0m0 0h0m0-1h0m1 1h0m0 0h0m0 0h0m0 0h0m1-3h0m0 2h0m0-2h0m0-1h0m0 3h0m0-2h0m1 0h0m0 2h0m0-2h0m0 0h0m0 1h0m0-1h0m0 1h0m1 0h0m0-1h0m0 0h0m0-1h0m0 0h0m0 3h0m0-2h0m1 2h0m0-2h0m0 1h0m0 1h0m0 0h0m0-1h0m0-2h0m0 2h0m0 0h0m0 0h0m1-2h0m0 1h0m0 1h0m0-1h0m0-1h0m0 3h0m0 0h0m0-2h0m0 2h0m0 0h0m1-1h0m0 1h0m0-1h0m0-1h0m0 0h0m0 2h0m0-3h0m1 1h0m0 2h0m0-1h0m0 5h0m0 0h0m0 0h0m-1 0h0m0 2h0m0 0h0m0-2h0m-1 2h0m0-2h0m0 0h0m0 2h0m-1-2h0m0 1h0m0 0h0m0 0h0m0-1h0m-3 5h0m-1-2h0m0-5h0m0 6h0m0-5h0m0 6h0m0-7h0m0 7h0m0-7h0m0 5h0m0 0h0m0 1h0m0-5h0m0 6h0m0-1h0m0-5h0m0 4h0m-1-5h0m0 5h0m0 1h0m0-6h0m0 1h0m0 6h0m0-2h0m0 2h0m0-1h0m0-1h0m0 2h0m0-7h0m0 6h0m0-5h0m0-1h0m0 1h0m0 0h0m0 0h0m0 6h0m-1-1h0m0 0h0m0 0h0m0 0h0m0 1h0m0-1h0m0 1h0m0-7h0m0 6h0m0-6h0m-1 5h0" stroke="#2bd591" stroke-width="1.5" stroke-linecap="square"/>
<path transform="scale(.5)" d="M1297 1619h0m0-1h0m1 1h0m0-1h0m0 1h0m1 0h0m1 0h0m0 0h0m0 0h0m2-1h0m1 0h0m0 1h0m0-1h0m0 2h0m-1 1h0m0-1h0m0 0h0m0 1h0m-1-1h0m0 1h0m0-1h0m0 0h0m0 0h0m0 1h0m0-1h0m0 1h0m-1 0h0m0 0h0m0-1h0m0 0h0m0 0h0m0 3h0m0 1h0m-1-1h0m0 0h0m0 1h0m0-3h0m0 3h0m0-4h0m0 2h0m0-1h0m0 1h0m0-1h0m0-1h0m0 0h0m0 2h0m-1 0h0m0-1h0m0 0h0m0 1h0m0-1h0m0 1h0m0 1h0m0-1h0m0-2h0m0 1h0m0 2h0m0-1h0m0 0h0m0-1h0m0 0h0m-1 1h0m0 2h0m0-1h0m0-2h0m0-1h0m0 2h0m0 0h0m0 1h0m0 0h0m0-1h0m-1 0h0m0 0h0m0 0h0m0 0h0m0 1h0m0 0h0m-1-1h0m0 1h0m0-1h0m0 2h0m0-1h0m0 0h0m-1 0h0m0-2h0m0 2h0m0 0h0m0 0h0m0 1h0m0 0h0m0 0h0m-1-2h0m0 2h0m0 0h0" stroke="#6ee646" stroke-width="1.5" stroke-linecap="square"/>
<path d="M659.6 764.3V833.3M624.3 801.9H693.8" stroke="#6e6e6e" stroke-width=".5"/>
<text x="626.3" y="768.5" font-size="3.1" fill="#555">Q1-UL(2.48%)</text>
<text x="692.3" y="768.5" font-size="3.1" text-anchor="end" fill="#555">Q1-UR(23.93%)</text>
<text x="626.3" y="831.1" font-size="3.1" fill="#555">Q1-LL(70.95%)</text>
<text x="692.3" y="831.1" font-size="3.1" text-anchor="end" fill="#555">Q1-LR(3.13%)</text>
<text x="658.8" y="758.2" font-size="11.5" text-anchor="middle" stroke="#1a1a1a" stroke-width="0.3">10 μg/mL</text>
<rect x="711.8" y="764.3" width="69.5" height="69" fill="none" stroke="#b4b4b4" stroke-width="0.8"/>
<text x="709.8" y="834.3" font-size="3.4" text-anchor="end" fill="#666">10<tspan font-size="70%" dy="-1.2">0</tspan></text>
<text x="709.8" y="820.7" font-size="3.4" text-anchor="end" fill="#666">10<tspan font-size="70%" dy="-1.2">1</tspan></text>
<text x="709.8" y="807.1" font-size="3.4" text-anchor="end" fill="#666">10<tspan font-size="70%" dy="-1.2">2</tspan></text>
<text x="709.8" y="793.5" font-size="3.4" text-anchor="end" fill="#666">10<tspan font-size="70%" dy="-1.2">3</tspan></text>
<text x="709.8" y="779.9" font-size="3.4" text-anchor="end" fill="#666">10<tspan font-size="70%" dy="-1.2">4</tspan></text>
<text x="709.8" y="766.3" font-size="3.4" text-anchor="end" fill="#666">10<tspan font-size="70%" dy="-1.2">5</tspan></text>
<text x="711.8" y="837.9" font-size="3.4" text-anchor="middle" fill="#666">10<tspan font-size="70%" dy="-1.2">0</tspan></text>
<text x="725.5" y="837.9" font-size="3.4" text-anchor="middle" fill="#666">10<tspan font-size="70%" dy="-1.2">1</tspan></text>
<text x="739.2" y="837.9" font-size="3.4" text-anchor="middle" fill="#666">10<tspan font-size="70%" dy="-1.2">2</tspan></text>
<text x="752.9" y="837.9" font-size="3.4" text-anchor="middle" fill="#666">10<tspan font-size="70%" dy="-1.2">3</tspan></text>
<text x="766.6" y="837.9" font-size="3.4" text-anchor="middle" fill="#666">10<tspan font-size="70%" dy="-1.2">4</tspan></text>
<text x="780.3" y="837.9" font-size="3.4" text-anchor="middle" fill="#666">10<tspan font-size="70%" dy="-1.2">5</tspan></text>
<path d="M711.8 764.3V833.3H781.3M711.8 833.3h1.6M711.8 830.6h.8M711.8 827.9h.8M711.8 825.1h.8M711.8 822.4h.8M711.8 819.7h1.6M711.8 817h.8M711.8 814.3h.8M711.8 811.5h.8M711.8 808.8h.8M711.8 806.1h1.6M711.8 803.4h.8M711.8 800.7h.8M711.8 797.9h.8M711.8 795.2h.8M711.8 792.5h1.6M711.8 789.8h.8M711.8 787.1h.8M711.8 784.3h.8M711.8 781.6h.8M711.8 778.9h1.6M711.8 776.2h.8M711.8 773.5h.8M711.8 770.7h.8M711.8 768h.8M711.8 765.3h1.6M711.8 833.3v-1.6M714.5 833.3v-.8M717.3 833.3v-.8M720 833.3v-.8M722.8 833.3v-.8M725.5 833.3v-1.6M728.2 833.3v-.8M731 833.3v-.8M733.7 833.3v-.8M736.5 833.3v-.8M739.2 833.3v-1.6M741.9 833.3v-.8M744.7 833.3v-.8M747.4 833.3v-.8M750.2 833.3v-.8M752.9 833.3v-1.6M755.6 833.3v-.8M758.4 833.3v-.8M761.1 833.3v-.8M763.9 833.3v-.8M766.6 833.3v-1.6M769.3 833.3v-.8M772.1 833.3v-.8M774.8 833.3v-.8M777.6 833.3v-.8M780.3 833.3v-1.6" stroke="#707070" stroke-width=".5" fill="none"/>
<path transform="scale(.5)" d="M1463 1564h0m2 2h0m48 4h0m8-1h0m8 14h0m-3-2h0m-3-7h0m0 6h0m-6-7h0m-14 7h0m-4-7h0m-19 14h0m47 3h0m3 3h0m0 13h0m-1-4h0m-22 3h0m-32-3h0m-16 15h0m48-7h0m8 4h0m1-3h0m2 6h0m2-8h0m4 9h0m17-8h0m-1 14h0m-20-3h0m-21 8h0m-1 2h0m-12-1h0m-26-2h0m-1 3h0m0-7h0m-1-1h0m0 6h0m-15 8h0m14-5h0m42 1h0m4 6h0m17-2h0m19-5h0m0 21h0m-14-4h0m-15-1h0m-2 1h0m-42 1h0m60 9h0m9 0h0" stroke="#787dfc" stroke-width="1.5" stroke-linecap="square"/>
<path transform="scale(.5)" d="M1521 1583h0m-1-9h0m-2 0h0m0 1h0m-2 1h0m-1 0h0m-1 0h0m-1-1h0m0 1h0m-7 1h0m-15 18h0m3-4h0m0 4h0m2-2h0m2-5h0m0-1h0m20 3h0m0 3h0m0-2h0m0 3h0m0-4h0m2-4h0m0 7h0m0-6h0m1 6h0m1-5h0m0 4h0m1-3h0m0 4h0m-1 5h0m0 6h0m-1-4h0m-1 5h0m0-1h0m-1 2h0m0 0h0m-1-2h0m0-5h0m0-2h0m0 2h0m-1 6h0m0-4h0m0 3h0m0-8h0m0 0h0m-2 3h0m0 0h0m0-2h0m0 1h0m-1 6h0m0-8h0m0 9h0m0 1h0m-1-1h0m0-1h0m0-7h0m-1 2h0m-1 6h0m-3-6h0m-4 6h0m-2 1h0m-1-1h0m-3 2h0m-1 0h0m-10-7h0m-6 5h0m-16 9h0m3-1h0m23 6h0m0-2h0m0 0h0m0 1h0m1 1h0m2-7h0m1 0h0m-2 8h0m-3 5h0m-1-1h0m-12 7h0m-12-7h0m-2 4h0m0-6h0m0 5h0m0-3h0m0-4h0m-2 2h0m-1 1h0m0 0h0m-1 3h0m7 8h0m3 0h0m0-2h0m0 1h0m0-1h0m7 1h0m1-1h0" stroke="#4f60f9" stroke-width="1.5" stroke-linecap="square"/>
<path transform="scale(.5)" d="M1519 1577h0m0 1h0m-1 5h0m0-4h0m-1 3h0m0-5h0m0 4h0m0 1h0m0 0h0m0-4h0m0 5h0m0-5h0m0 5h0m0-1h0m-1-4h0m0 0h0m0-1h0m-3 0h0m0 2h0m0 1h0m0-1h0m-1 1h0m0-1h0m0-1h0m-1 2h0m0-1h0m0 0h0m0-1h0m-16 17h0m0 0h0m0 0h0m1 0h0m0 0h0m1-4h0m1 0h0m1-1h0m0 2h0m0 0h0m0 0h0m1 0h0m1-3h0m0 0h0m2 0h0m0 0h0m1-3h0m0-2h0m1 0h0m6 9h0m0 1h0m2-1h0m1-3h0m2 5h0m0-5h0m0 2h0m0 3h0m1-11h0m0 1h0m0 0h0m0 1h0m0 0h0m0-1h0m1-1h0m0 4h0m1-3h0m0-1h0m-9 14h0m-1-1h0m0 2h0m0 0h0m-1-2h0m-1 0h0m0 0h0m0-1h0m-1 3h0m0 1h0m-1 0h0m0-1h0m-2 1h0m-1 0h0m-4 3h0m0 1h0m0-1h0m-2 4h0m0 0h0m-2-10h0m-1 2h0m-1-2h0m-1 0h0m0 4h0m-1 1h0m-1-2h0m0 0h0m-1 1h0m-1 4h0m0 0h0m0-1h0m0 1h0m-1-2h0m-1 0h0m-1 2h0m-2-1h0m-5 2h0m-10 11h0m0 1h0m0 0h0m1-1h0m0 0h0m0 1h0m1-5h0m0 0h0m2-1h0m0 2h0m1-2h0m3-4h0m3 0h0m10 8h0m3 2h0m0-9h0m0 1h0m1 0h0m0 0h0m0 1h0m0 1h0m0-3h0m1 2h0m1-2h0m-5 12h0m-2 3h0m0-3h0m0 2h0m0 1h0m-1-1h0m-1-1h0m0 0h0m0 1h0m-3 2h0m0 1h0m-2 2h0m-1 2h0m-1-1h0m0 0h0m-2 2h0m-1-1h0m0-2h0m-4 0h0m0 0h0m0 1h0m-1 0h0m0-1h0m-1 0h0m-1 0h0m0 1h0m-1 2h0m0 0h0m0-4h0m-1 0h0" stroke="#3256f8" stroke-width="1.5" stroke-linecap="square"/>
<path transform="scale(.5)" d="M1516 1581h0m0 2h0m-1-3h0m0 1h0m-1 0h0m0 1h0m0-2h0m0 0h0m0 1h0m-1 0h0m0 2h0m0-3h0m-1 0h0m0 3h0m0-1h0m0-1h0m0 2h0m-1 0h0m0 0h0m0-3h0m0 3h0m-1-2h0m0-1h0m-1 1h0m0 1h0m-12 12h0m1 1h0m0-1h0m1 0h0m0 1h0m0-1h0m0 1h0m0-2h0m1-3h0m1 2h0m0 0h0m1 0h0m0 0h0m0-1h0m1 0h0m0 0h0m0 1h0m0 1h0m1-4h0m1-3h0m0 2h0m1 1h0m0-1h0m1-1h0m0 2h0m1 6h0m0-2h0m1 1h0m1-3h0m0 1h0m0 0h0m0-2h0m2 0h0m0 0h0m0 1h0m1-7h0m0 8h0m0 0h0m1-3h0m0-5h0m0 1h0m0 1h0m0 0h0m1-2h0m0 2h0m0 1h0m1 0h0m0-2h0m-8 11h0m-2 0h0m0 2h0m-1-2h0m-1 2h0m0-1h0m-1 0h0m0 0h0m-1-1h0m-1 1h0m0 1h0m0-1h0m0 0h0m-1 1h0m0 1h0m0-1h0m0-2h0m-1 3h0m0-3h0m0 1h0m0 1h0m0 0h0m0 0h0m0 3h0m-1 0h0m0 1h0m0-2h0m-1 1h0m0-2h0m0 1h0m0-3h0m0 5h0m0-1h0m-1 3h0m0-8h0m0 5h0m0-3h0m-1 3h0m0-2h0m0 3h0m0 1h0m0-1h0m0-2h0m0-3h0m0 5h0m0-2h0m-1 4h0m0-8h0m0 9h0m0-5h0m0-1h0m0 2h0m0 0h0m0 1h0m0-6h0m0 4h0m0-4h0m0 7h0m-1-2h0m0 0h0m0 4h0m0-4h0m0 4h0m0-2h0m0 0h0m0 3h0m0 0h0m0-2h0m0-1h0m-1 1h0m0-3h0m0 0h0m0 6h0m0-3h0m0-5h0m0 4h0m-1 2h0m0 1h0m0-4h0m0 4h0m0-1h0m0 0h0m-1 1h0m0-1h0m0 1h0m0-3h0m0 3h0m0-1h0m0-2h0m0 1h0m-1 3h0m0-1h0m0-2h0m-1 3h0m0-4h0m-1 3h0m-1 1h0m0-1h0m-1-1h0m0 2h0m0 0h0m-1-1h0m0 0h0m0 1h0m-1 0h0m-2 0h0m0-1h0m0 1h0m-1-1h0m-2 1h0m-13 11h0m1 1h0m2 0h0m0 0h0m13-11h0m2 0h0m1 0h0m0 0h0m1 0h0m1 0h0m0 0h0m0 0h0m1 0h0m1 6h0m0 0h0m0 1h0m0-1h0m0-5h0m0-1h0m1 0h0m0 4h0m0 3h0m0-6h0m0 3h0m1 2h0m0-3h0m0-3h0m0 0h0m0 3h0m1 3h0m0-1h0m-17 16h0m0 2h0m0-2h0m-1-1h0m-5-5h0m0-1h0m0 0h0m0 2h0m-1 0h0m-1 0h0m0-3h0m-1 1h0" stroke="#2567f9" stroke-width="1.5" stroke-linecap="square"/>
<path transform="scale(.5)" d="M1511 1583h0m-3 0h0m-1 0h0m0 0h0m-6 11h0m0 1h0m0 0h0m0-1h0m0-1h0m0 0h0m1 0h0m0 1h0m1-1h0m0 1h0m0 1h0m0 0h0m0-2h0m0 1h0m0-1h0m1 1h0m0 0h0m0-1h0m0 0h0m0-3h0m0 2h0m0 1h0m0-1h0m0 1h0m0-2h0m0 2h0m0 2h0m1-4h0m0 4h0m0-3h0m1 0h0m0 2h0m0-1h0m0-3h0m0 2h0m0 2h0m0 0h0m0-4h0m1 4h0m0-6h0m0-2h0m0 1h0m0 0h0m0-1h0m0 0h0m0 3h0m0 3h0m1-3h0m0-1h0m0 0h0m0-4h0m0 5h0m0-4h0m0 6h0m0-2h0m0 2h0m0-1h0m0-1h0m0-4h0m0 6h0m0-4h0m0 3h0m0-3h0m1-2h0m0 1h0m0 5h0m0-6h0m0 2h0m0-2h0m0 4h0m0-3h0m0 2h0m0-1h0m0 2h0m0-4h0m1-1h0m0 4h0m0 0h0m0-2h0m0-2h0m0 5h0m0-1h0m1 0h0m0-3h0m0 0h0m0 2h0m0-3h0m0 5h0m0-2h0m0-3h0m0 2h0m0 3h0m0-5h0m0 2h0m1 0h0m0-2h0m0 3h0m0 0h0m0-1h0m0 2h0m1-2h0m0-1h0m-44 32h0m0 1h0m0 0h0m1-2h0m0 1h0m1-1h0m0 1h0m1-4h0m0 3h0m1-1h0m1 0h0m0 0h0m0-2h0m0 1h0m0-1h0m0 0h0m1 1h0m0-3h0m0-2h0m1 0h0m0 2h0m1 1h0m0-3h0m1 2h0m0 1h0m0-2h0m6 5h0m1 3h0m0-6h0m0 5h0m0-1h0m0-5h0m0 5h0m0-4h0m0 6h0m0-2h0m1-7h0m0 1h0m1 1h0m0-2h0m0 6h0m0 1h0m0 1h0m0 0h0m0-2h0m0-5h0m0-1h0m1 2h0m-1 9h0m0 0h0m-1 0h0m0 0h0m0 1h0m-1 0h0m-1 1h0m0 0h0m-1 1h0m0-1h0m-1 0h0m0 1h0m-1 0h0m-10 5h0m0-3h0m0 1h0m0 0h0m0 1h0m-1-1h0m0-1h0m0 0h0m0 3h0m-1-3h0m-1 2h0" stroke="#1978fa" stroke-width="1.5" stroke-linecap="square"/>
<path transform="scale(.5)" d="M1469 1619h0m1-1h0m0 1h0m0 0h0m1 0h0m7-10h0m1 2h0m0 1h0m0-1h0m0 0h0m0-2h0m1 1h0m0 1h0m0 0h0m0 0h0m0 0h0m1-2h0m0 3h0m0-1h0m0-1h0m0 1h0m1-2h0m0 0h0m0 0h0m0 2h0m0-2h0m1 2h0m0-1h0m1 2h0m0 2h0m0-3h0m0 0h0m1 1h0m0 3h0m0-1h0m0 1h0m0-2h0m1 1h0m0 0h0m1-1h0m0 1h0m0 1h0m0-2h0m0 0h0m-9 12h0m0 1h0m0-1h0m0 0h0m-2 2h0m0-2h0m0 2h0m0-1h0m0-1h0m0 0h0m0 0h0m0 2h0m-1 1h0m0-2h0m0 0h0m0 2h0m0-2h0m-1 0h0m-1 2h0m0-2h0m0 1h0m0-1h0m0 2h0m0-2h0m-1 1h0m0-2h0m0 2h0m-1-7h0m0 0h0m0 3h0m0-3h0m0 2h0m0 0h0m0 2h0m0-3h0m-1 2h0m0 1h0m0-4h0m0 1h0m0 1h0m0-2h0m0 4h0m0-4h0m0 2h0m0 1h0m0 1h0m0-1h0m0-3h0m0 4h0m-1-3h0m0-1h0m0 3h0m0-3h0m-1 0h0" stroke="#159aed" stroke-width="1.5" stroke-linecap="square"/>
<path transform="scale(.5)" d="M1472 1616h0m0 1h0m0 0h0m2-1h0m0 2h0m0-1h0m0 1h0m0-2h0m0-1h0m0 0h0m0 0h0m0 1h0m0 0h0m1-2h0m0 2h0m0-2h0m0 4h0m1-3h0m0 0h0m0-1h0m0-2h0m0 2h0m0-1h0m1 1h0m0-1h0m0 1h0m0-2h0m0 2h0m0-1h0m0 1h0m1-1h0m0 0h0m0 0h0m0 0h0m1-1h0m0 1h0m0 2h0m0-2h0m0 2h0m0-1h0m0 0h0m1 0h0m0 1h0m0-3h0m1 1h0m0 2h0m0-1h0m0 2h0m0-2h0m0-1h0m0-1h0m0 4h0m0 1h0m0-5h0m1 5h0m0 2h0m0-1h0m0-4h0m0-1h0m0 5h0m0 0h0m0 1h0m0-3h0m0-4h0m0 5h0m0-2h0m0 4h0m0-5h0m0 1h0m0 2h0m0-2h0m0 3h0m1-6h0m0 2h0m0 0h0m0-1h0m0 3h0m0 1h0m0-4h0m0 6h0m0-7h0m0 0h0m0 5h0m0 1h0m0 1h0m0-3h0m1 3h0m0-3h0m0 2h0m0-3h0m0 1h0m0 3h0m0-4h0m0 4h0m0-7h0m0 2h0m0 2h0m-1 4h0m-1 1h0m0 0h0m0 0h0m0 0h0m0-1h0m0 0h0m-1 2h0m0-1h0m0 3h0m0-1h0m0 1h0m0 0h0m0 0h0m0-2h0m0 2h0m0-1h0m-1 0h0m0-1h0m0 2h0m0-1h0m0 0h0m0 2h0m0-1h0m0 0h0m-1-2h0m0 2h0m0-3h0m0 3h0m0 0h0m0 0h0m0-3h0m-1 3h0m0 0h0m0 0h0m0-2h0m0-1h0m0 2h0m-4 0h0m0 1h0m0-2h0m0 0h0m0 2h0m0 0h0m-1-1h0m0 2h0m0-3h0m0 0h0m0 1h0m0-1h0m0 1h0m-1-1h0m0 1h0m0-1h0m0 1h0m0-1h0m0-1h0" stroke="#17bace" stroke-width="1.5" stroke-linecap="square"/>
<path transform="scale(.5)" d="M1472 1619h0m1 0h0m0 0h0m0-1h0m0 1h0m1 0h0m0 0h0m1-1h0m0 1h0m0-3h0m0 0h0m0 1h0m1 1h0m0-2h0m0 0h0m0 2h0m0-1h0m0 1h0m0-2h0m0-1h0m1 1h0m0 0h0m0 2h0m0-1h0m0-1h0m1 0h0m0-1h0m0 2h0m0 1h0m0-1h0m0 7h0m0-1h0m0 0h0m0-1h0m0 0h0m0 0h0m-1 0h0m0 0h0m0 0h0m0 0h0m0 0h0m0 0h0m0 2h0m0-3h0m-1 1h0m0 0h0m0 0h0m-1 1h0m0-1h0m0 1h0m0 1h0m-1-4h0m0 1h0m0 0h0m0 0h0m-1-1h0m0 0h0m0 1h0m0 0h0m0-1h0m-1 0h0m0 1h0m0-1h0m0 1h0m0 0h0m0-1h0" stroke="#2bd591" stroke-width="1.5" stroke-linecap="square"/>
<path transform="scale(.5)" d="M1475 1618h0m0 1h0m1 0h0m0 0h0m1 0h0m0 0h0m0 0h0m0 0h0m1 0h0m0 0h0m0-3h0m0 3h0m0 0h0m0-3h0m0 2h0m0 0h0m1-1h0m0 2h0m0-1h0m0-2h0m0 1h0m0-2h0m0 4h0m0-2h0m0-2h0m0 3h0m0 1h0m1-1h0m0 0h0m0-1h0m0-1h0m0 0h0m0 1h0m0-1h0m0 0h0m0 2h0m0 0h0m0-3h0m0 3h0m1 1h0m0 0h0m0 0h0m0-4h0m0 1h0m0 3h0m0-3h0m0 0h0m0 4h0m0 0h0m-1 1h0m0 0h0m-1 0h0m0-1h0m0 1h0m0 0h0m-1 0h0m0-1h0m0 0h0m0 1h0m0-1h0m0 1h0m-1 0h0m0-1h0m0 0h0m0 0h0m0 0h0m0 1h0m0-1h0m0 1h0m-1-1h0m0 0h0m0 0h0m-1 0h0m0 1h0m0-1h0m0 1h0m0-1h0" stroke="#6ee646" stroke-width="1.5" stroke-linecap="square"/>
<path d="M747.1 764.3V833.3M711.8 801.9H781.3" stroke="#6e6e6e" stroke-width=".5"/>
<text x="713.8" y="768.5" font-size="3.1" fill="#555">Q1-UL(2.38%)</text>
<text x="779.8" y="768.5" font-size="3.1" text-anchor="end" fill="#555">Q1-UR(33.47%)</text>
<text x="713.8" y="831.1" font-size="3.1" fill="#555">Q1-LL(60.37%)</text>
<text x="779.8" y="831.1" font-size="3.1" text-anchor="end" fill="#555">Q1-LR(3.80%)</text>
<text x="746.5" y="758.2" font-size="11.5" text-anchor="middle" stroke="#1a1a1a" stroke-width="0.3">20 μg/mL</text>
<text x="208.1" y="736" font-size="11.3" text-anchor="middle" stroke="#1a1a1a" stroke-width="0.3">143B</text>
<line x1="57.5" y1="741" x2="365" y2="741" stroke="#3c3c3c" stroke-width="1.25"/>
<text x="616.4" y="736" font-size="11.3" text-anchor="middle" stroke="#1a1a1a" stroke-width="0.3">MG63</text>
<line x1="464.5" y1="741" x2="772" y2="741" stroke="#3c3c3c" stroke-width="1.25"/>
<path d="M24.3 848.2V783.8M23.6 847.5H118" stroke="#333" stroke-width="1.45" fill="none"/>
<path d="M24.3 778.8l-3.3 7.4h6.6zM123 847.5l-7.4 -3.3v6.6z" fill="#111"/>
<path d="M429.5 849.4V785.5M428.8 848.7H523" stroke="#333" stroke-width="1.45" fill="none"/>
<path d="M429.5 780.5l-3.3 7.4h6.6zM528 848.7l-7.4 -3.3v6.6z" fill="#111"/>
<text x="22.1" y="817.5" font-size="11.3" text-anchor="middle" transform="rotate(-90 22.1 817.5)" stroke="#1a1a1a" stroke-width="0.3">PI</text>
<text x="426.3" y="818.7" font-size="11.3" text-anchor="middle" transform="rotate(-90 426.3 818.7)" stroke="#1a1a1a" stroke-width="0.3">PI</text>
<text x="71.3" y="861.3" font-size="11.3" text-anchor="middle" stroke="#1a1a1a" stroke-width="0.3">Annexin V</text>
<text x="474" y="861.3" font-size="11.3" text-anchor="middle" stroke="#1a1a1a" stroke-width="0.3">Annexin V</text>
<path d="M89.6 577.3V621M89.6 628.4V672.3H182" stroke="#111" stroke-width="1.2" fill="none"/>
<path d="M87.2 619.7l4.5 4.3M87.2 625.7l4.7 4.3" stroke="#222" stroke-width="1"/>
<text x="84.6" y="581.3" font-size="10" text-anchor="end" font-weight="bold">160</text>
<text x="84.6" y="595.9" font-size="10" text-anchor="end" font-weight="bold">140</text>
<text x="84.6" y="610.5" font-size="10" text-anchor="end" font-weight="bold">120</text>
<text x="84.6" y="624.6" font-size="10" text-anchor="end" font-weight="bold">100</text>
<path d="M89.6 577.7h-3.2M89.6 592.3h-3.2M89.6 606.9h-3.2M89.6 621h-3.2" stroke="#111" stroke-width="1.1"/>
<text x="84.6" y="632.3" font-size="10" text-anchor="end" font-weight="bold">2.0</text>
<text x="84.6" y="643.3" font-size="10" text-anchor="end" font-weight="bold">1.5</text>
<text x="84.6" y="654.2" font-size="10" text-anchor="end" font-weight="bold">1.0</text>
<text x="84.6" y="665" font-size="10" text-anchor="end" font-weight="bold">0.5</text>
<text x="84.6" y="675.9" font-size="10" text-anchor="end" font-weight="bold">0.0</text>
<path d="M89.6 628.7h-3.2M89.6 639.7h-3.2M89.6 650.6h-3.2M89.6 661.4h-3.2M89.6 672.3h-3.2" stroke="#111" stroke-width="1.1"/>
<text x="136.8" y="581.3" font-size="10" text-anchor="middle" font-weight="bold">143B</text>
<rect x="97.1" y="598.6" width="13.8" height="22.4" fill="#a3a3a3" stroke="#1a1a1a" stroke-width="1"/>
<rect x="97.1" y="628.4" width="13.8" height="43.9" fill="#a3a3a3" stroke="#1a1a1a" stroke-width="1"/>
<path d="M104 582V614M100.8 582h6.4M100.8 614h6.4" stroke="#111" stroke-width="0.9" fill="none"/>
<circle cx="103.6" cy="586.1" r="2" fill="#111"/>
<circle cx="103.6" cy="592.3" r="2" fill="#111"/>
<circle cx="103.6" cy="616.7" r="2" fill="#111"/>
<rect x="118.2" y="652.8" width="13.8" height="19.5" fill="#3f8fe6" stroke="#1a1a1a" stroke-width="1"/>
<path d="M125.1 649.5V654M121.9 649.5h6.4M121.9 654h6.4" stroke="#111" stroke-width="0.9" fill="none"/>
<circle cx="120.4" cy="649.2" r="2" fill="#111"/>
<circle cx="125.8" cy="654" r="2" fill="#111"/>
<circle cx="130.2" cy="654" r="2" fill="#111"/>
<text x="125.3" y="649" font-size="9.4" text-anchor="middle" font-weight="bold" letter-spacing=".3">***</text>
<rect x="139.5" y="649.2" width="13.6" height="23.1" fill="#f9bf7e" stroke="#1a1a1a" stroke-width="1"/>
<path d="M146.3 636V661.2M143.1 636h6.4M143.1 661.2h6.4" stroke="#111" stroke-width="0.9" fill="none"/>
<circle cx="146.1" cy="635.4" r="2" fill="#111"/>
<circle cx="142.9" cy="653.7" r="2" fill="#111"/>
<circle cx="149.7" cy="658.4" r="2" fill="#111"/>
<text x="146.5" y="634.9" font-size="9.4" text-anchor="middle" font-weight="bold" letter-spacing=".3">***</text>
<rect x="160.7" y="663.3" width="13.8" height="9" fill="#f5a3a3" stroke="#1a1a1a" stroke-width="1"/>
<circle cx="162.7" cy="662.2" r="2" fill="#111"/>
<circle cx="167.3" cy="663.5" r="2" fill="#111"/>
<circle cx="172.1" cy="664.1" r="2" fill="#111"/>
<text x="167.8" y="661.6" font-size="9.4" text-anchor="middle" font-weight="bold" letter-spacing=".3">***</text>
<path d="M104 672.3v3.3M125.1 672.3v3.3M146.3 672.3v3.3M167.6 672.3v3.3" stroke="#111" stroke-width="1.1"/>
<text x="107.6" y="685.9" font-size="10.4" font-weight="bold" text-anchor="end" transform="rotate(-45 107.6 685.9)">Control</text>
<text x="128.7" y="685.9" font-size="10.4" font-weight="bold" text-anchor="end" transform="rotate(-45 128.7 685.9)">5 μg/mL</text>
<text x="149.9" y="685.9" font-size="10.4" font-weight="bold" text-anchor="end" transform="rotate(-45 149.9 685.9)">10 μg/mL</text>
<text x="171.2" y="685.9" font-size="10.4" font-weight="bold" text-anchor="end" transform="rotate(-45 171.2 685.9)">20 μg/mL</text>
<text x="62.6" y="623" font-size="10.4" text-anchor="middle" font-weight="bold" transform="rotate(-90 62.6 623)">JC-1 red / JC-1 green</text>
<path d="M265.8 577.3V621M265.8 628.4V672.3H356.3" stroke="#111" stroke-width="1.2" fill="none"/>
<path d="M263.4 619.7l4.5 4.3M263.4 625.7l4.7 4.3" stroke="#222" stroke-width="1"/>
<text x="260.8" y="581.6" font-size="10" text-anchor="end" font-weight="bold">160</text>
<text x="260.8" y="596.1" font-size="10" text-anchor="end" font-weight="bold">120</text>
<text x="260.8" y="610.8" font-size="10" text-anchor="end" font-weight="bold">80</text>
<text x="260.8" y="624.9" font-size="10" text-anchor="end" font-weight="bold">40</text>
<path d="M265.8 578h-3.2M265.8 592.5h-3.2M265.8 607.2h-3.2M265.8 621.3h-3.2" stroke="#111" stroke-width="1.1"/>
<text x="260.8" y="632.3" font-size="10" text-anchor="end" font-weight="bold">2.0</text>
<text x="260.8" y="643.3" font-size="10" text-anchor="end" font-weight="bold">1.5</text>
<text x="260.8" y="654.2" font-size="10" text-anchor="end" font-weight="bold">1.0</text>
<text x="260.8" y="665" font-size="10" text-anchor="end" font-weight="bold">0.5</text>
<text x="260.8" y="675.9" font-size="10" text-anchor="end" font-weight="bold">0.0</text>
<path d="M265.8 628.7h-3.2M265.8 639.7h-3.2M265.8 650.6h-3.2M265.8 661.4h-3.2M265.8 672.3h-3.2" stroke="#111" stroke-width="1.1"/>
<text x="311.5" y="581.3" font-size="10" text-anchor="middle" font-weight="bold">MG63</text>
<rect x="272.5" y="603.8" width="13.8" height="17.2" fill="#a3a3a3" stroke="#1a1a1a" stroke-width="1"/>
<rect x="272.5" y="628.4" width="13.8" height="43.9" fill="#a3a3a3" stroke="#1a1a1a" stroke-width="1"/>
<path d="M279.4 585V619.5M276.2 585h6.4M276.2 619.5h6.4" stroke="#111" stroke-width="0.9" fill="none"/>
<circle cx="279.5" cy="585.8" r="2" fill="#111"/>
<circle cx="275" cy="610" r="2" fill="#111"/>
<circle cx="283.8" cy="615" r="2" fill="#111"/>
<rect x="293.4" y="647" width="14" height="25.3" fill="#3f8fe6" stroke="#1a1a1a" stroke-width="1"/>
<path d="M300.4 638V660M297.2 638h6.4M297.2 660h6.4" stroke="#111" stroke-width="0.9" fill="none"/>
<circle cx="296.5" cy="640" r="2" fill="#111"/>
<circle cx="304.8" cy="642.5" r="2" fill="#111"/>
<circle cx="300.2" cy="657.5" r="2" fill="#111"/>
<text x="300.6" y="636.1" font-size="9.4" text-anchor="middle" font-weight="bold" letter-spacing=".3">**</text>
<rect x="314.5" y="657" width="13.8" height="15.3" fill="#f9bf7e" stroke="#1a1a1a" stroke-width="1"/>
<path d="M321.4 655.8V658M318.2 655.8h6.4M318.2 658h6.4" stroke="#111" stroke-width="0.9" fill="none"/>
<circle cx="317.5" cy="656.6" r="2" fill="#111"/>
<circle cx="321.4" cy="656.6" r="2" fill="#111"/>
<circle cx="325.3" cy="656.6" r="2" fill="#111"/>
<text x="321.6" y="654.6" font-size="9.4" text-anchor="middle" font-weight="bold" letter-spacing=".3">**</text>
<rect x="335.7" y="662.5" width="13.8" height="9.8" fill="#f5a3a3" stroke="#1a1a1a" stroke-width="1"/>
<path d="M342.6 661.3V663.5M339.4 661.3h6.4M339.4 663.5h6.4" stroke="#111" stroke-width="0.9" fill="none"/>
<circle cx="338.6" cy="662" r="2" fill="#111"/>
<circle cx="342.6" cy="662" r="2" fill="#111"/>
<circle cx="346.6" cy="662.3" r="2" fill="#111"/>
<text x="342.8" y="661.1" font-size="9.4" text-anchor="middle" font-weight="bold" letter-spacing=".3">**</text>
<path d="M279.4 672.3v3.3M300.4 672.3v3.3M321.4 672.3v3.3M342.6 672.3v3.3" stroke="#111" stroke-width="1.1"/>
<text x="283" y="685.9" font-size="10.4" font-weight="bold" text-anchor="end" transform="rotate(-45 283 685.9)">Control</text>
<text x="304" y="685.9" font-size="10.4" font-weight="bold" text-anchor="end" transform="rotate(-45 304 685.9)">5 μg/mL</text>
<text x="325" y="685.9" font-size="10.4" font-weight="bold" text-anchor="end" transform="rotate(-45 325 685.9)">10 μg/mL</text>
<text x="346.2" y="685.9" font-size="10.4" font-weight="bold" text-anchor="end" transform="rotate(-45 346.2 685.9)">20 μg/mL</text>
<text x="237.6" y="622" font-size="10.4" text-anchor="middle" font-weight="bold" transform="rotate(-90 237.6 622)">JC-1 red / JC-1 green</text>
<path d="M488.2 574.1V673.2H584.5" stroke="#111" stroke-width="1.2" fill="none"/>
<text x="483.2" y="676.8" font-size="10" text-anchor="end" font-weight="bold">0</text>
<text x="483.2" y="652.2" font-size="10" text-anchor="end" font-weight="bold">20</text>
<text x="483.2" y="627.5" font-size="10" text-anchor="end" font-weight="bold">40</text>
<text x="483.2" y="602.9" font-size="10" text-anchor="end" font-weight="bold">60</text>
<text x="483.2" y="578.2" font-size="10" text-anchor="end" font-weight="bold">80</text>
<path d="M488.2 673.2h-3.2M488.2 648.6h-3.2M488.2 623.9h-3.2M488.2 599.2h-3.2M488.2 574.6h-3.2" stroke="#111" stroke-width="1.1"/>
<text x="535.5" y="576.7" font-size="10.5" text-anchor="middle" font-weight="bold">143B</text>
<rect x="495.4" y="666.1" width="14.4" height="7.1" fill="#a3a3a3" stroke="#1a1a1a" stroke-width="1"/>
<path d="M502.6 662.5V668.5M499.4 662.5h6.4M499.4 668.5h6.4" stroke="#111" stroke-width="0.9" fill="none"/>
<circle cx="499.3" cy="662.3" r="1.9" fill="#fff" stroke="#111" stroke-width="1"/>
<circle cx="506.8" cy="662.3" r="1.9" fill="#fff" stroke="#111" stroke-width="1"/>
<circle cx="500" cy="668.1" r="1.9" fill="#fff" stroke="#111" stroke-width="1"/>
<circle cx="506.8" cy="668.1" r="1.9" fill="#fff" stroke="#111" stroke-width="1"/>
<circle cx="503.4" cy="664" r="1.9" fill="#fff" stroke="#111" stroke-width="1"/>
<rect x="517.5" y="636.9" width="14.3" height="36.3" fill="#f9bf7a" stroke="#1a1a1a" stroke-width="1"/>
<path d="M524.6 624.1V648.5M521.4 624.1h6.4M521.4 648.5h6.4" stroke="#111" stroke-width="0.9" fill="none"/>
<circle cx="521" cy="623.4" r="1.9" fill="#fff" stroke="#111" stroke-width="1"/>
<circle cx="528.8" cy="628.5" r="1.9" fill="#fff" stroke="#111" stroke-width="1"/>
<circle cx="521" cy="646.1" r="1.9" fill="#fff" stroke="#111" stroke-width="1"/>
<circle cx="524.7" cy="647.5" r="1.9" fill="#fff" stroke="#111" stroke-width="1"/>
<circle cx="528.8" cy="648.6" r="1.9" fill="#fff" stroke="#111" stroke-width="1"/>
<text x="524.9" y="622.6" font-size="9.4" text-anchor="middle" font-weight="bold" letter-spacing=".3">**</text>
<rect x="540.1" y="614.9" width="14.2" height="58.3" fill="#1d8bac" stroke="#1a1a1a" stroke-width="1"/>
<path d="M547.2 603.8V624.8M544 603.8h6.4M544 624.8h6.4" stroke="#111" stroke-width="0.9" fill="none"/>
<circle cx="543.3" cy="602.4" r="1.9" fill="#fff" stroke="#111" stroke-width="1"/>
<circle cx="550.4" cy="608.7" r="1.9" fill="#fff" stroke="#111" stroke-width="1"/>
<circle cx="543.3" cy="621.4" r="1.9" fill="#fff" stroke="#111" stroke-width="1"/>
<circle cx="550.8" cy="625.9" r="1.9" fill="#fff" stroke="#111" stroke-width="1"/>
<text x="547.4" y="601.6" font-size="9.4" text-anchor="middle" font-weight="bold" letter-spacing=".3">***</text>
<rect x="562.5" y="593.2" width="14.2" height="80" fill="#f4706f" stroke="#1a1a1a" stroke-width="1"/>
<path d="M569.6 587V598M566.4 587h6.4M566.4 598h6.4" stroke="#111" stroke-width="0.9" fill="none"/>
<circle cx="564.1" cy="587.7" r="1.9" fill="#fff" stroke="#111" stroke-width="1"/>
<circle cx="568" cy="589.5" r="1.9" fill="#fff" stroke="#111" stroke-width="1"/>
<circle cx="574.2" cy="592.2" r="1.9" fill="#fff" stroke="#111" stroke-width="1"/>
<circle cx="569.4" cy="600.5" r="1.9" fill="#fff" stroke="#111" stroke-width="1"/>
<text x="569.8" y="586.5" font-size="9.4" text-anchor="middle" font-weight="bold" letter-spacing=".3">***</text>
<path d="M502.6 673.2v3.3M524.6 673.2v3.3M547.2 673.2v3.3M569.6 673.2v3.3" stroke="#111" stroke-width="1.1"/>
<text x="506.2" y="687.8" font-size="10.6" font-weight="bold" text-anchor="end" transform="rotate(-45 506.2 687.8)">Control</text>
<text x="528.2" y="687.8" font-size="10.6" font-weight="bold" text-anchor="end" transform="rotate(-45 528.2 687.8)">5 μg/mL</text>
<text x="550.8" y="687.8" font-size="10.6" font-weight="bold" text-anchor="end" transform="rotate(-45 550.8 687.8)">10 μg/mL</text>
<text x="573.2" y="687.8" font-size="10.6" font-weight="bold" text-anchor="end" transform="rotate(-45 573.2 687.8)">20 μg/mL</text>
<text x="465.8" y="621.6" font-size="11" text-anchor="middle" font-weight="bold" transform="rotate(-90 465.8 621.6)">Annexin V+ Cells (%)</text>
<path d="M660.2 572.8V671.1H756.3" stroke="#111" stroke-width="1.2" fill="none"/>
<text x="655.2" y="674.7" font-size="10" text-anchor="end" font-weight="bold">0</text>
<text x="655.2" y="655.1" font-size="10" text-anchor="end" font-weight="bold">10</text>
<text x="655.2" y="635.6" font-size="10" text-anchor="end" font-weight="bold">20</text>
<text x="655.2" y="616" font-size="10" text-anchor="end" font-weight="bold">30</text>
<text x="655.2" y="596.5" font-size="10" text-anchor="end" font-weight="bold">40</text>
<text x="655.2" y="576.9" font-size="10" text-anchor="end" font-weight="bold">50</text>
<path d="M660.2 671.1h-3.2M660.2 651.5h-3.2M660.2 632h-3.2M660.2 612.4h-3.2M660.2 592.9h-3.2M660.2 573.3h-3.2" stroke="#111" stroke-width="1.1"/>
<text x="709.5" y="575.7" font-size="10.5" text-anchor="middle" font-weight="bold">MG63</text>
<rect x="667.7" y="662.6" width="14.1" height="8.5" fill="#a3a3a3" stroke="#1a1a1a" stroke-width="1"/>
<path d="M674.8 662V664M671.5 662h6.4M671.5 664h6.4" stroke="#111" stroke-width="0.9" fill="none"/>
<circle cx="670.1" cy="663.3" r="1.9" fill="#fff" stroke="#111" stroke-width="1"/>
<circle cx="674.3" cy="663.3" r="1.9" fill="#fff" stroke="#111" stroke-width="1"/>
<circle cx="679.8" cy="663.3" r="1.9" fill="#fff" stroke="#111" stroke-width="1"/>
<rect x="689.8" y="637.9" width="14.3" height="33.2" fill="#f9bf7a" stroke="#1a1a1a" stroke-width="1"/>
<path d="M697 630.3V645M693.8 630.3h6.4M693.8 645h6.4" stroke="#111" stroke-width="0.9" fill="none"/>
<circle cx="696.9" cy="626.5" r="1.9" fill="#fff" stroke="#111" stroke-width="1"/>
<circle cx="691.9" cy="640.2" r="1.9" fill="#fff" stroke="#111" stroke-width="1"/>
<circle cx="696.3" cy="641.3" r="1.9" fill="#fff" stroke="#111" stroke-width="1"/>
<circle cx="702" cy="643.4" r="1.9" fill="#fff" stroke="#111" stroke-width="1"/>
<circle cx="699" cy="640" r="1.9" fill="#fff" stroke="#111" stroke-width="1"/>
<text x="697.2" y="624.7" font-size="9.4" text-anchor="middle" font-weight="bold" letter-spacing=".3">***</text>
<rect x="712.3" y="620.7" width="14.2" height="50.4" fill="#1d8bac" stroke="#1a1a1a" stroke-width="1"/>
<path d="M719.4 615.9V623.4M716.2 615.9h6.4M716.2 623.4h6.4" stroke="#111" stroke-width="0.9" fill="none"/>
<circle cx="718.9" cy="616.6" r="1.9" fill="#fff" stroke="#111" stroke-width="1"/>
<circle cx="714.1" cy="620.3" r="1.9" fill="#fff" stroke="#111" stroke-width="1"/>
<circle cx="718.9" cy="620" r="1.9" fill="#fff" stroke="#111" stroke-width="1"/>
<circle cx="724.4" cy="623.8" r="1.9" fill="#fff" stroke="#111" stroke-width="1"/>
<text x="719.6" y="615.1" font-size="9.4" text-anchor="middle" font-weight="bold" letter-spacing=".3">***</text>
<rect x="734.5" y="594.6" width="14.3" height="76.5" fill="#f4706f" stroke="#1a1a1a" stroke-width="1"/>
<path d="M741.6 587V602.1M738.4 587h6.4M738.4 602.1h6.4" stroke="#111" stroke-width="0.9" fill="none"/>
<circle cx="737.2" cy="588.4" r="1.9" fill="#fff" stroke="#111" stroke-width="1"/>
<circle cx="745.1" cy="588.6" r="1.9" fill="#fff" stroke="#111" stroke-width="1"/>
<circle cx="737.5" cy="598" r="1.9" fill="#fff" stroke="#111" stroke-width="1"/>
<circle cx="745.1" cy="603.2" r="1.9" fill="#fff" stroke="#111" stroke-width="1"/>
<text x="741.9" y="586.2" font-size="9.4" text-anchor="middle" font-weight="bold" letter-spacing=".3">***</text>
<path d="M674.8 671.1v3.3M697 671.1v3.3M719.4 671.1v3.3M741.6 671.1v3.3" stroke="#111" stroke-width="1.1"/>
<text x="678.4" y="685.7" font-size="10.6" font-weight="bold" text-anchor="end" transform="rotate(-45 678.4 685.7)">Control</text>
<text x="700.6" y="685.7" font-size="10.6" font-weight="bold" text-anchor="end" transform="rotate(-45 700.6 685.7)">5 μg/mL</text>
<text x="723" y="685.7" font-size="10.6" font-weight="bold" text-anchor="end" transform="rotate(-45 723 685.7)">10 μg/mL</text>
<text x="745.2" y="685.7" font-size="10.6" font-weight="bold" text-anchor="end" transform="rotate(-45 745.2 685.7)">20 μg/mL</text>
<text x="638" y="621.2" font-size="11" text-anchor="middle" font-weight="bold" transform="rotate(-90 638 621.2)">Annexin V+ Cells (%)</text>
</svg>
</body></html>
